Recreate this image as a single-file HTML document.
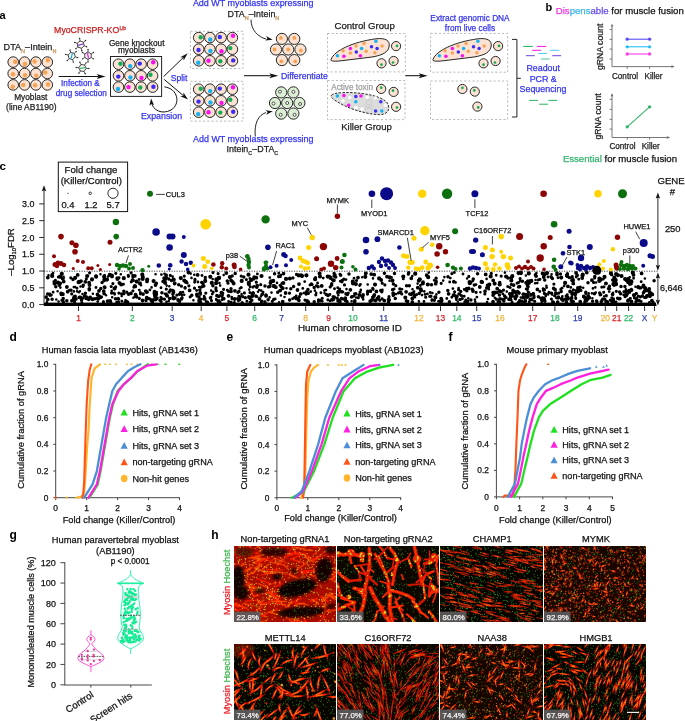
<!DOCTYPE html>
<html><head><meta charset="utf-8"><style>
html,body{margin:0;padding:0;background:#fff;}
body{width:685px;height:721px;overflow:hidden;position:relative;}
svg{position:absolute;left:0;top:0;display:block;will-change:transform;filter:blur(0.3px);}
</style></head><body>
<svg width="685" height="721" viewBox="0 0 685 721" font-family="'Liberation Sans', sans-serif">
<defs>
<filter id="bl" x="-5%" y="-5%" width="110%" height="110%"><feGaussianBlur stdDeviation="0.6"/></filter>
<filter id="bl3" x="-5%" y="-5%" width="110%" height="110%"><feGaussianBlur stdDeviation="0.9"/></filter>
<filter id="bl2" x="-20%" y="-20%" width="140%" height="140%"><feGaussianBlur stdDeviation="1.6"/></filter>
</defs>
<text x="-0.6" y="18.6" font-size="11" fill="#000" font-weight="bold">a</text>
<text x="54.1" y="32.9" font-size="8.75" fill="#cc2020" stroke="#cc2020" stroke-width="0.25">MyoCRISPR-KO</text>
<text x="119.4" y="29.6" font-size="5" fill="#cc2020" stroke="#cc2020" stroke-width="0.25">Lib</text>
<text x="3.6" y="50.3" font-size="9.1" fill="#222" stroke="#222" stroke-width="0.25">DTA<tspan font-size="5.5" fill="#c8925a" stroke="#c8925a" dy="2.6">N</tspan><tspan dy="-2.6">–Intein</tspan><tspan font-size="5.5" fill="#c8925a" stroke="#c8925a" dy="2.6">N</tspan></text>
<circle cx="13.2" cy="62.1" r="5.3" fill="#fbe2d2" stroke="#1c1c1c" stroke-width="0.95"/>
<circle cx="24.6" cy="62.1" r="5.3" fill="#fbe2d2" stroke="#1c1c1c" stroke-width="0.95"/>
<circle cx="35.9" cy="62.1" r="5.3" fill="#fbe2d2" stroke="#1c1c1c" stroke-width="0.95"/>
<circle cx="47.3" cy="62.1" r="5.3" fill="#fbe2d2" stroke="#1c1c1c" stroke-width="0.95"/>
<circle cx="13.2" cy="73.5" r="5.3" fill="#fbe2d2" stroke="#1c1c1c" stroke-width="0.95"/>
<circle cx="24.6" cy="73.5" r="5.3" fill="#fbe2d2" stroke="#1c1c1c" stroke-width="0.95"/>
<circle cx="35.9" cy="73.5" r="5.3" fill="#fbe2d2" stroke="#1c1c1c" stroke-width="0.95"/>
<circle cx="47.3" cy="73.5" r="5.3" fill="#fbe2d2" stroke="#1c1c1c" stroke-width="0.95"/>
<circle cx="13.2" cy="84.9" r="5.3" fill="#fbe2d2" stroke="#1c1c1c" stroke-width="0.95"/>
<circle cx="24.6" cy="84.9" r="5.3" fill="#fbe2d2" stroke="#1c1c1c" stroke-width="0.95"/>
<circle cx="35.9" cy="84.9" r="5.3" fill="#fbe2d2" stroke="#1c1c1c" stroke-width="0.95"/>
<circle cx="47.3" cy="84.9" r="5.3" fill="#fbe2d2" stroke="#1c1c1c" stroke-width="0.95"/>
<circle cx="15.2" cy="61.7" r="2.2" fill="#f5a251"/>
<circle cx="24.9" cy="64" r="2.2" fill="#f5a251"/>
<circle cx="34.6" cy="61.5" r="2.2" fill="#f5a251"/>
<circle cx="47.9" cy="60.2" r="2.2" fill="#f5a251"/>
<circle cx="13" cy="74.3" r="2.2" fill="#f5a251"/>
<circle cx="25.1" cy="75.2" r="2.2" fill="#f5a251"/>
<circle cx="36.3" cy="75.6" r="2.2" fill="#f5a251"/>
<circle cx="45.2" cy="72.4" r="2.2" fill="#f5a251"/>
<circle cx="12.7" cy="86.8" r="2.2" fill="#f5a251"/>
<circle cx="23.2" cy="84.9" r="2.2" fill="#f5a251"/>
<circle cx="35.1" cy="85.3" r="2.2" fill="#f5a251"/>
<circle cx="48.1" cy="84.5" r="2.2" fill="#f5a251"/>
<text x="30.8" y="100.2" font-size="8.3" fill="#222" text-anchor="middle" stroke="#222" stroke-width="0.25">Myoblast</text>
<text x="31.3" y="109.8" font-size="8.5" fill="#222" text-anchor="middle" stroke="#222" stroke-width="0.25">(line AB1190)</text>
<path d="M84.18,45.87 L81.34,48.24 L77.87,46.98 L77.22,43.33 L80.06,40.96 L83.53,42.22 Z" fill="#fff" stroke="#222" stroke-width="0.85"/>
<line x1="84.18" y1="45.87" x2="86.53" y2="46.72" stroke="#222" stroke-width="0.75"/>
<circle cx="86.62" cy="46.75" r="0.7" fill="#222"/>
<line x1="81.34" y1="48.24" x2="81.78" y2="50.71" stroke="#222" stroke-width="0.75"/>
<circle cx="81.79" cy="50.8" r="0.7" fill="#222"/>
<line x1="77.87" y1="46.98" x2="75.95" y2="48.59" stroke="#222" stroke-width="0.75"/>
<circle cx="75.87" cy="48.65" r="0.7" fill="#222"/>
<line x1="77.22" y1="43.33" x2="74.87" y2="42.48" stroke="#222" stroke-width="0.75"/>
<circle cx="74.78" cy="42.45" r="0.7" fill="#222"/>
<line x1="80.06" y1="40.96" x2="79.62" y2="38.49" stroke="#222" stroke-width="0.75"/>
<circle cx="79.61" cy="38.4" r="0.7" fill="#222"/>
<line x1="83.53" y1="42.22" x2="85.45" y2="40.61" stroke="#222" stroke-width="0.75"/>
<circle cx="85.53" cy="40.55" r="0.7" fill="#222"/>
<line x1="78.1" y1="45.34" x2="83.3" y2="43.86" stroke="#8a3ad8" stroke-width="1.3"/>
<path d="M72.66,59.57 L69.08,58.62 L68.13,55.04 L70.74,52.43 L74.32,53.38 L75.27,56.96 Z" fill="#fff" stroke="#222" stroke-width="0.85"/>
<line x1="72.66" y1="59.57" x2="73.3" y2="61.99" stroke="#222" stroke-width="0.75"/>
<circle cx="73.33" cy="62.09" r="0.7" fill="#222"/>
<line x1="69.08" y1="58.62" x2="67.32" y2="60.38" stroke="#222" stroke-width="0.75"/>
<circle cx="67.25" cy="60.45" r="0.7" fill="#222"/>
<line x1="68.13" y1="55.04" x2="65.71" y2="54.4" stroke="#222" stroke-width="0.75"/>
<circle cx="65.61" cy="54.37" r="0.7" fill="#222"/>
<line x1="70.74" y1="52.43" x2="70.1" y2="50.01" stroke="#222" stroke-width="0.75"/>
<circle cx="70.07" cy="49.91" r="0.7" fill="#222"/>
<line x1="74.32" y1="53.38" x2="76.08" y2="51.62" stroke="#222" stroke-width="0.75"/>
<circle cx="76.15" cy="51.55" r="0.7" fill="#222"/>
<line x1="75.27" y1="56.96" x2="77.69" y2="57.6" stroke="#222" stroke-width="0.75"/>
<circle cx="77.79" cy="57.63" r="0.7" fill="#222"/>
<line x1="71.05" y1="58.62" x2="72.35" y2="53.38" stroke="#14b2f2" stroke-width="1.3"/>
<path d="M88,59.4 L84.8,57.55 L84.8,53.85 L88,52 L91.2,53.85 L91.2,57.55 Z" fill="#fff" stroke="#222" stroke-width="0.85"/>
<line x1="88" y1="59.4" x2="88" y2="61.9" stroke="#222" stroke-width="0.75"/>
<circle cx="88" cy="62" r="0.7" fill="#222"/>
<line x1="84.8" y1="57.55" x2="82.63" y2="58.8" stroke="#222" stroke-width="0.75"/>
<circle cx="82.54" cy="58.85" r="0.7" fill="#222"/>
<line x1="84.8" y1="53.85" x2="82.63" y2="52.6" stroke="#222" stroke-width="0.75"/>
<circle cx="82.54" cy="52.55" r="0.7" fill="#222"/>
<line x1="88" y1="52" x2="88" y2="49.5" stroke="#222" stroke-width="0.75"/>
<circle cx="88" cy="49.4" r="0.7" fill="#222"/>
<line x1="91.2" y1="53.85" x2="93.37" y2="52.6" stroke="#222" stroke-width="0.75"/>
<circle cx="93.46" cy="52.55" r="0.7" fill="#222"/>
<line x1="91.2" y1="57.55" x2="93.37" y2="58.8" stroke="#222" stroke-width="0.75"/>
<circle cx="93.46" cy="58.85" r="0.7" fill="#222"/>
<line x1="87.53" y1="53.04" x2="88.47" y2="58.36" stroke="#fb0ff0" stroke-width="1.3"/>
<path d="M86.19,68.32 L84.06,71.35 L80.38,71.03 L78.81,67.68 L80.94,64.65 L84.62,64.97 Z" fill="#fff" stroke="#222" stroke-width="0.85"/>
<line x1="86.19" y1="68.32" x2="88.68" y2="68.54" stroke="#222" stroke-width="0.75"/>
<circle cx="88.78" cy="68.55" r="0.7" fill="#222"/>
<line x1="84.06" y1="71.35" x2="85.12" y2="73.62" stroke="#222" stroke-width="0.75"/>
<circle cx="85.16" cy="73.71" r="0.7" fill="#222"/>
<line x1="80.38" y1="71.03" x2="78.94" y2="73.08" stroke="#222" stroke-width="0.75"/>
<circle cx="78.89" cy="73.16" r="0.7" fill="#222"/>
<line x1="78.81" y1="67.68" x2="76.32" y2="67.46" stroke="#222" stroke-width="0.75"/>
<circle cx="76.22" cy="67.45" r="0.7" fill="#222"/>
<line x1="80.94" y1="64.65" x2="79.88" y2="62.38" stroke="#222" stroke-width="0.75"/>
<circle cx="79.84" cy="62.29" r="0.7" fill="#222"/>
<line x1="84.62" y1="64.97" x2="86.06" y2="62.92" stroke="#222" stroke-width="0.75"/>
<circle cx="86.11" cy="62.84" r="0.7" fill="#222"/>
<line x1="79.84" y1="68.47" x2="85.16" y2="67.53" stroke="#2cba66" stroke-width="1.3"/>
<line x1="58.7" y1="76.5" x2="99.3" y2="76.5" stroke="#111" stroke-width="1.05"/>
<path d="M105.6,76.5 L96.6,79 L98.85,76.5 L96.6,74 Z" fill="#111"/>
<text x="80.4" y="86" font-size="8.2" fill="#3535f0" text-anchor="middle" stroke="#3535f0" stroke-width="0.25">Infection &amp;</text>
<text x="81.3" y="95.8" font-size="8.2" fill="#3535f0" text-anchor="middle" stroke="#3535f0" stroke-width="0.25">drug selection</text>
<rect x="110.5" y="56.5" width="51.1" height="39.9" fill="#fff" stroke="#222" stroke-width="1"/>
<circle cx="118.5" cy="64.2" r="5.3" fill="#fbe2d2" stroke="#1c1c1c" stroke-width="0.95"/>
<circle cx="129.9" cy="64.2" r="5.3" fill="#fbe2d2" stroke="#1c1c1c" stroke-width="0.95"/>
<circle cx="141.1" cy="64.2" r="5.3" fill="#fbe2d2" stroke="#1c1c1c" stroke-width="0.95"/>
<circle cx="152.6" cy="64.2" r="5.3" fill="#fbe2d2" stroke="#1c1c1c" stroke-width="0.95"/>
<circle cx="118.5" cy="75.8" r="5.3" fill="#fbe2d2" stroke="#1c1c1c" stroke-width="0.95"/>
<circle cx="129.9" cy="75.8" r="5.3" fill="#fbe2d2" stroke="#1c1c1c" stroke-width="0.95"/>
<circle cx="141.1" cy="75.8" r="5.3" fill="#fbe2d2" stroke="#1c1c1c" stroke-width="0.95"/>
<circle cx="152.6" cy="75.8" r="5.3" fill="#fbe2d2" stroke="#1c1c1c" stroke-width="0.95"/>
<circle cx="118.5" cy="87.1" r="5.3" fill="#fbe2d2" stroke="#1c1c1c" stroke-width="0.95"/>
<circle cx="129.9" cy="87.1" r="5.3" fill="#fbe2d2" stroke="#1c1c1c" stroke-width="0.95"/>
<circle cx="141.1" cy="87.1" r="5.3" fill="#fbe2d2" stroke="#1c1c1c" stroke-width="0.95"/>
<circle cx="152.6" cy="87.1" r="5.3" fill="#fbe2d2" stroke="#1c1c1c" stroke-width="0.95"/>
<circle cx="120.5" cy="63.8" r="2.2" fill="#13ad55"/>
<circle cx="130.2" cy="66.1" r="2.2" fill="#14b2f2"/>
<circle cx="139.8" cy="63.6" r="2.2" fill="#3a2cf4"/>
<circle cx="153.2" cy="62.3" r="2.2" fill="#fb0ff0"/>
<circle cx="118.3" cy="76.6" r="2.2" fill="#3a2cf4"/>
<circle cx="130.4" cy="77.5" r="2.2" fill="#14b2f2"/>
<circle cx="141.5" cy="77.9" r="2.2" fill="#fb0ff0"/>
<circle cx="150.5" cy="74.7" r="2.2" fill="#13ad55"/>
<circle cx="118" cy="89" r="2.2" fill="#14b2f2"/>
<circle cx="128.5" cy="87.1" r="2.2" fill="#fb0ff0"/>
<circle cx="140.3" cy="87.5" r="2.2" fill="#13ad55"/>
<circle cx="153.4" cy="86.7" r="2.2" fill="#3a2cf4"/>
<text x="136.7" y="46" font-size="8.25" fill="#222" text-anchor="middle" stroke="#222" stroke-width="0.25">Gene knockout</text>
<text x="136.5" y="53.4" font-size="8.25" fill="#222" text-anchor="middle" stroke="#222" stroke-width="0.25">myoblasts</text>
<line x1="163.6" y1="76.6" x2="183.67" y2="57.19" stroke="#111" stroke-width="1"/>
<path d="M187.7,53.3 L183.62,60.59 L183.39,57.47 L180.28,57.14 Z" fill="#111"/>
<line x1="164.1" y1="79.4" x2="183.71" y2="95.9" stroke="#111" stroke-width="1"/>
<path d="M188,99.5 L180.33,96.19 L183.41,95.64 L183.42,92.51 Z" fill="#111"/>
<text x="170.7" y="81" font-size="8.6" fill="#3535f0" stroke="#3535f0" stroke-width="0.25">Split</text>
<path d="M164.4,86.9 C178,88.5 181,104 171,110 C162,115 152.5,110 151.6,102.5" fill="none" stroke="#111" stroke-width="1"/>
<path d="M151.1,98.6 L154.1,105.36 L151.56,103.83 L149.32,105.78 Z" fill="#111"/>
<text x="161.5" y="118.7" font-size="8.8" fill="#3535f0" text-anchor="middle" stroke="#3535f0" stroke-width="0.25">Expansion</text>
<rect x="190.4" y="31.3" width="52.6" height="37.2" fill="none" stroke="#aaa" stroke-width="0.8" stroke-dasharray="2.2,2"/>
<circle cx="198.7" cy="37.6" r="5.3" fill="#fbe2d2" stroke="#1c1c1c" stroke-width="0.95"/>
<circle cx="209.9" cy="37.6" r="5.3" fill="#fbe2d2" stroke="#1c1c1c" stroke-width="0.95"/>
<circle cx="221.1" cy="37.6" r="5.3" fill="#fbe2d2" stroke="#1c1c1c" stroke-width="0.95"/>
<circle cx="232.4" cy="37.6" r="5.3" fill="#fbe2d2" stroke="#1c1c1c" stroke-width="0.95"/>
<circle cx="198.7" cy="49.2" r="5.3" fill="#fbe2d2" stroke="#1c1c1c" stroke-width="0.95"/>
<circle cx="209.9" cy="49.2" r="5.3" fill="#fbe2d2" stroke="#1c1c1c" stroke-width="0.95"/>
<circle cx="221.1" cy="49.2" r="5.3" fill="#fbe2d2" stroke="#1c1c1c" stroke-width="0.95"/>
<circle cx="232.4" cy="49.2" r="5.3" fill="#fbe2d2" stroke="#1c1c1c" stroke-width="0.95"/>
<circle cx="198.7" cy="60.8" r="5.3" fill="#fbe2d2" stroke="#1c1c1c" stroke-width="0.95"/>
<circle cx="209.9" cy="60.8" r="5.3" fill="#fbe2d2" stroke="#1c1c1c" stroke-width="0.95"/>
<circle cx="221.1" cy="60.8" r="5.3" fill="#fbe2d2" stroke="#1c1c1c" stroke-width="0.95"/>
<circle cx="232.4" cy="60.8" r="5.3" fill="#fbe2d2" stroke="#1c1c1c" stroke-width="0.95"/>
<circle cx="200.7" cy="37.2" r="2.2" fill="#13ad55"/>
<circle cx="210.2" cy="39.5" r="2.2" fill="#14b2f2"/>
<circle cx="219.8" cy="37" r="2.2" fill="#3a2cf4"/>
<circle cx="233" cy="35.7" r="2.2" fill="#fb0ff0"/>
<circle cx="198.5" cy="50" r="2.2" fill="#3a2cf4"/>
<circle cx="210.4" cy="50.9" r="2.2" fill="#14b2f2"/>
<circle cx="221.5" cy="51.3" r="2.2" fill="#fb0ff0"/>
<circle cx="230.3" cy="48.1" r="2.2" fill="#13ad55"/>
<circle cx="198.2" cy="62.7" r="2.2" fill="#14b2f2"/>
<circle cx="208.5" cy="60.8" r="2.2" fill="#fb0ff0"/>
<circle cx="220.3" cy="61.2" r="2.2" fill="#13ad55"/>
<circle cx="233.2" cy="60.4" r="2.2" fill="#3a2cf4"/>
<rect x="190.4" y="81.3" width="52.6" height="39.8" fill="none" stroke="#aaa" stroke-width="0.8" stroke-dasharray="2.2,2"/>
<circle cx="198.7" cy="89.2" r="5.3" fill="#fbe2d2" stroke="#1c1c1c" stroke-width="0.95"/>
<circle cx="209.9" cy="89.2" r="5.3" fill="#fbe2d2" stroke="#1c1c1c" stroke-width="0.95"/>
<circle cx="221.1" cy="89.2" r="5.3" fill="#fbe2d2" stroke="#1c1c1c" stroke-width="0.95"/>
<circle cx="232.4" cy="89.2" r="5.3" fill="#fbe2d2" stroke="#1c1c1c" stroke-width="0.95"/>
<circle cx="198.7" cy="100.8" r="5.3" fill="#fbe2d2" stroke="#1c1c1c" stroke-width="0.95"/>
<circle cx="209.9" cy="100.8" r="5.3" fill="#fbe2d2" stroke="#1c1c1c" stroke-width="0.95"/>
<circle cx="221.1" cy="100.8" r="5.3" fill="#fbe2d2" stroke="#1c1c1c" stroke-width="0.95"/>
<circle cx="232.4" cy="100.8" r="5.3" fill="#fbe2d2" stroke="#1c1c1c" stroke-width="0.95"/>
<circle cx="198.7" cy="112.2" r="5.3" fill="#fbe2d2" stroke="#1c1c1c" stroke-width="0.95"/>
<circle cx="209.9" cy="112.2" r="5.3" fill="#fbe2d2" stroke="#1c1c1c" stroke-width="0.95"/>
<circle cx="221.1" cy="112.2" r="5.3" fill="#fbe2d2" stroke="#1c1c1c" stroke-width="0.95"/>
<circle cx="232.4" cy="112.2" r="5.3" fill="#fbe2d2" stroke="#1c1c1c" stroke-width="0.95"/>
<circle cx="200.7" cy="88.8" r="2.2" fill="#13ad55"/>
<circle cx="210.2" cy="91.1" r="2.2" fill="#14b2f2"/>
<circle cx="219.8" cy="88.6" r="2.2" fill="#3a2cf4"/>
<circle cx="233" cy="87.3" r="2.2" fill="#fb0ff0"/>
<circle cx="198.5" cy="101.6" r="2.2" fill="#3a2cf4"/>
<circle cx="210.4" cy="102.5" r="2.2" fill="#14b2f2"/>
<circle cx="221.5" cy="102.9" r="2.2" fill="#fb0ff0"/>
<circle cx="230.3" cy="99.7" r="2.2" fill="#13ad55"/>
<circle cx="198.2" cy="114.1" r="2.2" fill="#14b2f2"/>
<circle cx="208.5" cy="112.2" r="2.2" fill="#fb0ff0"/>
<circle cx="220.3" cy="112.6" r="2.2" fill="#13ad55"/>
<circle cx="233.2" cy="111.8" r="2.2" fill="#3a2cf4"/>
<text x="192.9" y="6.4" font-size="8.95" fill="#3535f0" stroke="#3535f0" stroke-width="0.25">Add WT myoblasts expressing</text>
<text x="227.6" y="16.9" font-size="8.9" fill="#222" stroke="#222" stroke-width="0.25">DTA<tspan font-size="5.5" fill="#c8925a" stroke="#c8925a" dy="2.6">N</tspan><tspan dy="-2.6">–Intein</tspan><tspan font-size="5.5" fill="#c8925a" stroke="#c8925a" dy="2.6">N</tspan></text>
<path d="M251,19.5 C251,30 258,37 266,39" fill="none" stroke="#111" stroke-width="0.9"/>
<path d="M272.6,39.7 L265.27,40.49 L267.46,38.61 L266.23,35.99 Z" fill="#111"/>
<circle cx="281.9" cy="38.9" r="5.6" fill="#fbe2d2" stroke="#1c1c1c" stroke-width="0.95"/>
<circle cx="294.3" cy="38.9" r="5.6" fill="#fbe2d2" stroke="#1c1c1c" stroke-width="0.95"/>
<circle cx="276" cy="49.5" r="5.6" fill="#fbe2d2" stroke="#1c1c1c" stroke-width="0.95"/>
<circle cx="288.2" cy="49.5" r="5.6" fill="#fbe2d2" stroke="#1c1c1c" stroke-width="0.95"/>
<circle cx="300.4" cy="49.5" r="5.6" fill="#fbe2d2" stroke="#1c1c1c" stroke-width="0.95"/>
<circle cx="281.9" cy="60.1" r="5.6" fill="#fbe2d2" stroke="#1c1c1c" stroke-width="0.95"/>
<circle cx="294.3" cy="60.1" r="5.6" fill="#fbe2d2" stroke="#1c1c1c" stroke-width="0.95"/>
<circle cx="280.9" cy="37.9" r="1.9" fill="#f5a251"/>
<circle cx="294.3" cy="37.9" r="1.9" fill="#f5a251"/>
<circle cx="274.5" cy="49.5" r="1.9" fill="#f5a251"/>
<circle cx="288.2" cy="49.5" r="1.9" fill="#f5a251"/>
<circle cx="300.9" cy="50.5" r="1.9" fill="#f5a251"/>
<circle cx="281.4" cy="61.3" r="1.9" fill="#f5a251"/>
<circle cx="295.3" cy="61.4" r="1.9" fill="#f5a251"/>
<line x1="244" y1="75.7" x2="272" y2="75.7" stroke="#111" stroke-width="1.05"/>
<path d="M278.3,75.7 L269.3,78.2 L271.55,75.7 L269.3,73.2 Z" fill="#111"/>
<text x="280.9" y="79" font-size="8.75" fill="#3535f0" stroke="#3535f0" stroke-width="0.25">Differentiate</text>
<circle cx="281.2" cy="92.4" r="5.6" fill="#dcefd5" stroke="#1c1c1c" stroke-width="0.95"/>
<circle cx="293.4" cy="92.4" r="5.6" fill="#dcefd5" stroke="#1c1c1c" stroke-width="0.95"/>
<circle cx="275" cy="103" r="5.6" fill="#dcefd5" stroke="#1c1c1c" stroke-width="0.95"/>
<circle cx="287.2" cy="103" r="5.6" fill="#dcefd5" stroke="#1c1c1c" stroke-width="0.95"/>
<circle cx="299.4" cy="103" r="5.6" fill="#dcefd5" stroke="#1c1c1c" stroke-width="0.95"/>
<circle cx="281.2" cy="113.6" r="5.6" fill="#dcefd5" stroke="#1c1c1c" stroke-width="0.95"/>
<circle cx="293.4" cy="113.6" r="5.6" fill="#dcefd5" stroke="#1c1c1c" stroke-width="0.95"/>
<circle cx="280" cy="91.6" r="1.5" fill="#fff" stroke="#222" stroke-width="0.75"/>
<circle cx="293.4" cy="91.8" r="1.5" fill="#fff" stroke="#222" stroke-width="0.75"/>
<circle cx="273.5" cy="103.5" r="1.5" fill="#fff" stroke="#222" stroke-width="0.75"/>
<circle cx="287.2" cy="103" r="1.5" fill="#fff" stroke="#222" stroke-width="0.75"/>
<circle cx="300.1" cy="104" r="1.5" fill="#fff" stroke="#222" stroke-width="0.75"/>
<circle cx="280.7" cy="114.8" r="1.5" fill="#fff" stroke="#222" stroke-width="0.75"/>
<circle cx="294.6" cy="114.8" r="1.5" fill="#fff" stroke="#222" stroke-width="0.75"/>
<text x="193" y="141.8" font-size="8.95" fill="#3535f0" stroke="#3535f0" stroke-width="0.25">Add WT myoblasts expressing</text>
<text x="226.6" y="152.3" font-size="8.9" fill="#222" stroke="#222" stroke-width="0.25">Intein<tspan font-size="5.5" fill="#222" dy="2.6">C</tspan><tspan dy="-2.6">–DTA</tspan><tspan font-size="5.5" fill="#222" dy="2.6">C</tspan></text>
<path d="M255.3,136.5 C254,124 258,115 266,112.6" fill="none" stroke="#111" stroke-width="0.9"/>
<path d="M272.8,111.2 L266.31,114.68 L267.63,112.11 L265.51,110.15 Z" fill="#111"/>
<text x="334.5" y="29" font-size="9.6" fill="#222" stroke="#222" stroke-width="0.25">Control Group</text>
<text x="341.2" y="129.6" font-size="9.6" fill="#222" stroke="#222" stroke-width="0.25">Killer Group</text>
<rect x="327.5" y="33.5" width="77.9" height="38.4" fill="none" stroke="#aaa" stroke-width="0.8" stroke-dasharray="2.2,2"/>
<rect x="327.5" y="80.5" width="77.5" height="39.1" fill="none" stroke="#aaa" stroke-width="0.8" stroke-dasharray="2.2,2"/>
<path transform="translate(0,0)" d="M331.2,59.2 C334,51 352,42 376,38.8 C386,37.6 390,41 389.2,46 C388.4,52 383,55.2 372,57 L341,60.8 C334,61.6 329.5,61.2 331.2,59.2 Z" fill="#fbe2d2" stroke="#1c1c1c" stroke-width="0.95"/>
<circle cx="375.9" cy="41.2" r="1.75" fill="#14b2f2"/>
<circle cx="364.1" cy="43.4" r="1.75" fill="#f6a35a"/>
<circle cx="356" cy="45.9" r="1.75" fill="#f6a35a"/>
<circle cx="350.4" cy="48.6" r="1.75" fill="#fb0ff0"/>
<circle cx="361.6" cy="48.4" r="1.75" fill="#14b2f2"/>
<circle cx="371.5" cy="46.7" r="1.75" fill="#3a2cf4"/>
<circle cx="377.1" cy="48.4" r="1.75" fill="#3a2cf4"/>
<circle cx="382.1" cy="46.1" r="1.75" fill="#f6a35a"/>
<circle cx="343" cy="50.8" r="1.75" fill="#f6a35a"/>
<circle cx="350.4" cy="53" r="1.75" fill="#f6a35a"/>
<circle cx="356.3" cy="52.1" r="1.75" fill="#3a2cf4"/>
<circle cx="366.2" cy="51.3" r="1.75" fill="#f6a35a"/>
<circle cx="374.9" cy="52.7" r="1.75" fill="#f6a35a"/>
<circle cx="337.4" cy="55.8" r="1.75" fill="#14b2f2"/>
<circle cx="343.9" cy="56.3" r="1.75" fill="#fb0ff0"/>
<circle cx="360.4" cy="55.8" r="1.75" fill="#fb0ff0"/>
<circle cx="396.1" cy="46.1" r="4.6" fill="#fbe2d2" stroke="#1c1c1c" stroke-width="0.95"/>
<circle cx="397" cy="45.9" r="1.35" fill="#13ad55"/>
<circle cx="381.5" cy="63.3" r="4.6" fill="#fbe2d2" stroke="#1c1c1c" stroke-width="0.95"/>
<circle cx="381.5" cy="64.7" r="1.35" fill="#13ad55"/>
<circle cx="393.6" cy="61" r="4.6" fill="#fbe2d2" stroke="#1c1c1c" stroke-width="0.95"/>
<circle cx="393" cy="62.5" r="1.35" fill="#13ad55"/>
<path d="M331.6,95 C335,92 350,92 362,93.5 C375,95.2 386.5,99 388.4,105 C390,111 386.5,114.4 380,114.6 C370,114.6 355,111 343,105 C336,101.2 329.6,97.8 331.6,95 Z" fill="#dcdcdc" stroke="#222" stroke-width="0.95" stroke-dasharray="2.4,1.4"/>
<circle cx="337.4" cy="96" r="1.75" fill="#14b2f2"/>
<circle cx="343.9" cy="95.4" r="1.75" fill="#fb0ff0"/>
<circle cx="349.8" cy="97.6" r="1.75" fill="#fff"/>
<circle cx="355.8" cy="96.6" r="1.75" fill="#3a2cf4"/>
<circle cx="361" cy="96" r="1.75" fill="#fb0ff0"/>
<circle cx="367.2" cy="97.2" r="1.75" fill="#fff"/>
<circle cx="375.2" cy="97.9" r="1.75" fill="#fff"/>
<circle cx="343" cy="101" r="1.75" fill="#fff"/>
<circle cx="355.8" cy="101.8" r="1.75" fill="#14b2f2"/>
<circle cx="348.6" cy="105.3" r="1.75" fill="#fb0ff0"/>
<circle cx="356" cy="107.5" r="1.75" fill="#fff"/>
<circle cx="362" cy="109" r="1.75" fill="#fff"/>
<circle cx="380.8" cy="101.8" r="1.75" fill="#3a2cf4"/>
<circle cx="385.2" cy="105.3" r="1.75" fill="#fff"/>
<circle cx="375.6" cy="110.9" r="1.75" fill="#3a2cf4"/>
<circle cx="381.8" cy="110.9" r="1.75" fill="#14b2f2"/>
<circle cx="369" cy="102.5" r="2.6" fill="none" stroke="#c4c4c4" stroke-width="0.7"/>
<line x1="364.5" y1="105.5" x2="373.5" y2="109.5" stroke="#c4c4c4" stroke-width="0.7"/>
<line x1="364.5" y1="109.5" x2="373.5" y2="105.5" stroke="#c4c4c4" stroke-width="0.7"/>
<text x="331.2" y="90.4" font-size="8.2" fill="#a0a0a0" stroke="#a0a0a0" stroke-width="0.25">Active toxin</text>
<circle cx="381.2" cy="88.9" r="4.6" fill="#fbe2d2" stroke="#1c1c1c" stroke-width="0.95"/>
<circle cx="381.2" cy="87.7" r="1.35" fill="#13ad55"/>
<circle cx="393.6" cy="91.9" r="4.6" fill="#fbe2d2" stroke="#1c1c1c" stroke-width="0.95"/>
<circle cx="393" cy="90.7" r="1.35" fill="#13ad55"/>
<circle cx="396.1" cy="106.8" r="4.6" fill="#fbe2d2" stroke="#1c1c1c" stroke-width="0.95"/>
<circle cx="397" cy="107.5" r="1.35" fill="#13ad55"/>
<line x1="405.2" y1="75.7" x2="421.3" y2="75.7" stroke="#111" stroke-width="1.05"/>
<path d="M427.6,75.7 L418.6,78.2 L420.85,75.7 L418.6,73.2 Z" fill="#111"/>
<rect x="430.5" y="33.4" width="77.1" height="38.8" fill="none" stroke="#aaa" stroke-width="0.8" stroke-dasharray="2.2,2"/>
<rect x="430.5" y="81" width="77.1" height="38.5" fill="none" stroke="#aaa" stroke-width="0.8" stroke-dasharray="2.2,2"/>
<text x="470" y="20.7" font-size="8.3" fill="#3535f0" text-anchor="middle" stroke="#3535f0" stroke-width="0.25">Extract genomic DNA</text>
<text x="470" y="30.7" font-size="8.3" fill="#3535f0" text-anchor="middle" stroke="#3535f0" stroke-width="0.25">from live cells</text>
<path transform="translate(102,0)" d="M331.2,59.2 C334,51 352,42 376,38.8 C386,37.6 390,41 389.2,46 C388.4,52 383,55.2 372,57 L341,60.8 C334,61.6 329.5,61.2 331.2,59.2 Z" fill="#fbe2d2" stroke="#1c1c1c" stroke-width="0.95"/>
<circle cx="477.9" cy="41.2" r="1.75" fill="#14b2f2"/>
<circle cx="466.1" cy="43.4" r="1.75" fill="#f6a35a"/>
<circle cx="458" cy="45.9" r="1.75" fill="#f6a35a"/>
<circle cx="452.4" cy="48.6" r="1.75" fill="#fb0ff0"/>
<circle cx="463.6" cy="48.4" r="1.75" fill="#14b2f2"/>
<circle cx="473.5" cy="46.7" r="1.75" fill="#3a2cf4"/>
<circle cx="479.1" cy="48.4" r="1.75" fill="#3a2cf4"/>
<circle cx="484.1" cy="46.1" r="1.75" fill="#f6a35a"/>
<circle cx="445" cy="50.8" r="1.75" fill="#f6a35a"/>
<circle cx="452.4" cy="53" r="1.75" fill="#f6a35a"/>
<circle cx="458.3" cy="52.1" r="1.75" fill="#3a2cf4"/>
<circle cx="468.2" cy="51.3" r="1.75" fill="#f6a35a"/>
<circle cx="476.9" cy="52.7" r="1.75" fill="#f6a35a"/>
<circle cx="439.4" cy="55.8" r="1.75" fill="#14b2f2"/>
<circle cx="445.9" cy="56.3" r="1.75" fill="#fb0ff0"/>
<circle cx="462.4" cy="55.8" r="1.75" fill="#fb0ff0"/>
<circle cx="498.1" cy="46.1" r="4.6" fill="#fbe2d2" stroke="#1c1c1c" stroke-width="0.95"/>
<circle cx="499" cy="45.9" r="1.35" fill="#13ad55"/>
<circle cx="483.5" cy="63.3" r="4.6" fill="#fbe2d2" stroke="#1c1c1c" stroke-width="0.95"/>
<circle cx="483.5" cy="64.7" r="1.35" fill="#13ad55"/>
<circle cx="495.6" cy="61" r="4.6" fill="#fbe2d2" stroke="#1c1c1c" stroke-width="0.95"/>
<circle cx="495" cy="62.5" r="1.35" fill="#13ad55"/>
<circle cx="462.4" cy="89" r="4.6" fill="#fbe2d2" stroke="#1c1c1c" stroke-width="0.95"/>
<circle cx="462.4" cy="87.8" r="1.35" fill="#13ad55"/>
<circle cx="474.8" cy="91.6" r="4.6" fill="#fbe2d2" stroke="#1c1c1c" stroke-width="0.95"/>
<circle cx="474.3" cy="90.4" r="1.35" fill="#13ad55"/>
<circle cx="477.4" cy="106.6" r="4.6" fill="#fbe2d2" stroke="#1c1c1c" stroke-width="0.95"/>
<circle cx="478.2" cy="107.4" r="1.35" fill="#13ad55"/>
<path d="M512,39.4 L516.9,39.4 L516.9,117 L512,117 M516.9,78.3 L520.8,78.3" fill="none" stroke="#222" stroke-width="1"/>
<line x1="523.4" y1="46.4" x2="532.7" y2="46.4" stroke="#13ad55" stroke-width="1"/>
<line x1="537" y1="46.4" x2="546.2" y2="46.4" stroke="#fb0ff0" stroke-width="1"/>
<line x1="532.2" y1="50.3" x2="541" y2="50.3" stroke="#fb0ff0" stroke-width="1"/>
<line x1="550.2" y1="50.3" x2="559.3" y2="50.3" stroke="#4cc8f0" stroke-width="1"/>
<line x1="538.3" y1="53.4" x2="547" y2="53.4" stroke="#4cc8f0" stroke-width="1"/>
<line x1="526" y1="55.7" x2="534.8" y2="55.7" stroke="#7040e0" stroke-width="1"/>
<line x1="552.3" y1="55.7" x2="561" y2="55.7" stroke="#7040e0" stroke-width="1"/>
<line x1="541" y1="59" x2="549.7" y2="59" stroke="#55c090" stroke-width="1"/>
<line x1="529.2" y1="100.4" x2="538" y2="100.4" stroke="#2cb060" stroke-width="1"/>
<line x1="548.4" y1="100.4" x2="557.2" y2="100.4" stroke="#2cb060" stroke-width="1"/>
<line x1="539.2" y1="104.2" x2="548" y2="104.2" stroke="#2cb060" stroke-width="1"/>
<text x="543.2" y="71" font-size="8.9" fill="#3535f0" text-anchor="middle" stroke="#3535f0" stroke-width="0.25">Readout</text>
<text x="543.2" y="81.5" font-size="8.9" fill="#3535f0" text-anchor="middle" stroke="#3535f0" stroke-width="0.25">PCR &amp;</text>
<text x="543" y="92" font-size="8.9" fill="#3535f0" text-anchor="middle" stroke="#3535f0" stroke-width="0.25">Sequencing</text>
<text x="545.4" y="10.6" font-size="11" fill="#000" font-weight="bold">b</text>
<text x="555.8" y="13.5" font-size="9.6" fill="#111" stroke="#111" stroke-width="0.25"><tspan fill="#f03ce6" stroke="#f03ce6">Dis</tspan><tspan fill="#3ab6ea" stroke="#3ab6ea">pens</tspan><tspan fill="#6a4cf0" stroke="#6a4cf0">able</tspan> for muscle fusion</text>
<line x1="612" y1="66.6" x2="612" y2="26" stroke="#666" stroke-width="0.9"/>
<path d="M612,23.4 L613.4,27 L612,26.28 L610.6,27 Z" fill="#666"/>
<line x1="612" y1="66.6" x2="672" y2="66.6" stroke="#666" stroke-width="0.9"/>
<path d="M674.8,66.6 L671.2,68 L671.92,66.6 L671.2,65.2 Z" fill="#666"/>
<line x1="609.6" y1="29.4" x2="612" y2="29.4" stroke="#666" stroke-width="0.9"/>
<line x1="609.6" y1="39.4" x2="612" y2="39.4" stroke="#666" stroke-width="0.9"/>
<line x1="609.6" y1="49.1" x2="612" y2="49.1" stroke="#666" stroke-width="0.9"/>
<line x1="609.6" y1="59" x2="612" y2="59" stroke="#666" stroke-width="0.9"/>
<line x1="627.2" y1="66.6" x2="627.2" y2="68.8" stroke="#666" stroke-width="0.9"/>
<line x1="649.6" y1="66.6" x2="649.6" y2="68.8" stroke="#666" stroke-width="0.9"/>
<line x1="627.2" y1="39.2" x2="649.6" y2="39.2" stroke="#5a4cf2" stroke-width="1.1"/>
<circle cx="627.2" cy="39.2" r="1.65" fill="#5a4cf2"/>
<circle cx="649.6" cy="39.2" r="1.65" fill="#5a4cf2"/>
<line x1="627.2" y1="46.8" x2="649.6" y2="46.8" stroke="#28bdf0" stroke-width="1.1"/>
<circle cx="627.2" cy="46.8" r="1.65" fill="#28bdf0"/>
<circle cx="649.6" cy="46.8" r="1.65" fill="#28bdf0"/>
<line x1="627.2" y1="54" x2="649.6" y2="54" stroke="#fb3ce8" stroke-width="1.1"/>
<circle cx="627.2" cy="54" r="1.65" fill="#fb3ce8"/>
<circle cx="649.6" cy="54" r="1.65" fill="#fb3ce8"/>
<text x="625.1" y="78.8" font-size="8.15" fill="#222" text-anchor="middle" stroke="#222" stroke-width="0.25">Control</text>
<text x="653.5" y="78.8" font-size="8.15" fill="#222" text-anchor="middle" stroke="#222" stroke-width="0.25">Killer</text>
<text x="0" y="0" font-size="8.7" fill="#222" text-anchor="middle" stroke="#222" stroke-width="0.25" transform="translate(602.6,46.8) rotate(-90)">gRNA count</text>
<line x1="612" y1="137.5" x2="612" y2="95.8" stroke="#666" stroke-width="0.9"/>
<path d="M612,93 L613.4,96.6 L612,95.88 L610.6,96.6 Z" fill="#666"/>
<line x1="612" y1="137.5" x2="667.4" y2="137.5" stroke="#666" stroke-width="0.9"/>
<path d="M670.2,137.5 L666.6,138.9 L667.32,137.5 L666.6,136.1 Z" fill="#666"/>
<line x1="609.6" y1="99.3" x2="612" y2="99.3" stroke="#666" stroke-width="0.9"/>
<line x1="609.6" y1="109.3" x2="612" y2="109.3" stroke="#666" stroke-width="0.9"/>
<line x1="609.6" y1="119.3" x2="612" y2="119.3" stroke="#666" stroke-width="0.9"/>
<line x1="609.6" y1="129.1" x2="612" y2="129.1" stroke="#666" stroke-width="0.9"/>
<line x1="627.2" y1="137.5" x2="627.2" y2="139.7" stroke="#666" stroke-width="0.9"/>
<line x1="649.6" y1="137.5" x2="649.6" y2="139.7" stroke="#666" stroke-width="0.9"/>
<line x1="627.2" y1="126.8" x2="649.6" y2="106.8" stroke="#2fb46b" stroke-width="1.1"/>
<circle cx="627.2" cy="126.8" r="1.65" fill="#2fb46b"/>
<circle cx="649.6" cy="106.8" r="1.65" fill="#2fb46b"/>
<text x="622.5" y="149.2" font-size="8.15" fill="#222" text-anchor="middle" stroke="#222" stroke-width="0.25">Control</text>
<text x="650.7" y="149.2" font-size="8.15" fill="#222" text-anchor="middle" stroke="#222" stroke-width="0.25">Killer</text>
<text x="0" y="0" font-size="8.7" fill="#222" text-anchor="middle" stroke="#222" stroke-width="0.25" transform="translate(601.4,116.4) rotate(-90)">gRNA count</text>
<text x="677" y="161.7" font-size="9.6" fill="#111" stroke="#111" stroke-width="0.25" text-anchor="end"><tspan fill="#35b36e" stroke="#35b36e">Essential</tspan> for muscle fusion</text>
<text x="-0.5" y="170.3" font-size="11.5" fill="#000" font-weight="bold">c</text>
<rect x="58.3" y="162.1" width="69.3" height="49.5" fill="#fff" stroke="#111" stroke-width="1"/>
<text x="91" y="173.2" font-size="9.6" fill="#111" text-anchor="middle" stroke="#111" stroke-width="0.25">Fold change</text>
<text x="91.3" y="183.7" font-size="9.6" fill="#111" text-anchor="middle" stroke="#111" stroke-width="0.25">(Killer/Control)</text>
<circle cx="68" cy="193.3" r="0.6" fill="#111"/>
<circle cx="90.2" cy="193.3" r="1.25" fill="#fff" stroke="#111" stroke-width="0.8"/>
<circle cx="113" cy="193.3" r="5.1" fill="#fff" stroke="#111" stroke-width="0.9"/>
<text x="67.9" y="208.2" font-size="9.4" fill="#111" text-anchor="middle" stroke="#111" stroke-width="0.25">0.4</text>
<text x="91" y="208.2" font-size="9.4" fill="#111" text-anchor="middle" stroke="#111" stroke-width="0.25">1.2</text>
<text x="113.1" y="208.2" font-size="9.4" fill="#111" text-anchor="middle" stroke="#111" stroke-width="0.25">5.7</text>
<line x1="44" y1="305.4" x2="44" y2="189" stroke="#111" stroke-width="0.9"/>
<path d="M44,185.2 L46.2,191.2 L44,190.3 L41.8,191.2 Z" fill="#111"/>
<line x1="39.2" y1="304.6" x2="44" y2="304.6" stroke="#111" stroke-width="0.9"/>
<text x="34.4" y="307.8" font-size="8.9" fill="#111" text-anchor="end" stroke="#111" stroke-width="0.25">0.0</text>
<line x1="39.2" y1="287.81" x2="44" y2="287.81" stroke="#111" stroke-width="0.9"/>
<text x="34.4" y="291.01" font-size="8.9" fill="#111" text-anchor="end" stroke="#111" stroke-width="0.25">0.5</text>
<line x1="39.2" y1="271.03" x2="44" y2="271.03" stroke="#111" stroke-width="0.9"/>
<text x="34.4" y="274.23" font-size="8.9" fill="#111" text-anchor="end" stroke="#111" stroke-width="0.25">1.0</text>
<line x1="39.2" y1="254.25" x2="44" y2="254.25" stroke="#111" stroke-width="0.9"/>
<text x="34.4" y="257.44" font-size="8.9" fill="#111" text-anchor="end" stroke="#111" stroke-width="0.25">1.5</text>
<line x1="39.2" y1="237.46" x2="44" y2="237.46" stroke="#111" stroke-width="0.9"/>
<text x="34.4" y="240.66" font-size="8.9" fill="#111" text-anchor="end" stroke="#111" stroke-width="0.25">2.0</text>
<line x1="39.2" y1="220.68" x2="44" y2="220.68" stroke="#111" stroke-width="0.9"/>
<text x="34.4" y="223.88" font-size="8.9" fill="#111" text-anchor="end" stroke="#111" stroke-width="0.25">2.5</text>
<line x1="39.2" y1="203.89" x2="44" y2="203.89" stroke="#111" stroke-width="0.9"/>
<text x="34.4" y="207.09" font-size="8.9" fill="#111" text-anchor="end" stroke="#111" stroke-width="0.25">3.0</text>
<text transform="translate(13.8,252) rotate(-90)" font-size="9.6" fill="#111" stroke="#111" stroke-width="0.25" text-anchor="middle">–Log<tspan font-size="5.8" dy="2.2">10</tspan><tspan dy="-2.2">FDR</tspan></text>
<rect x="44" y="302.6" width="612" height="3" fill="#000"/>
<path d="M444.4 277.1h0M362.2 277.3h0M63.6 276.7h0M332.2 279.9h0M53.1 273.0h0M412.3 276.1h0M420.3 279.4h0M551.6 274.3h0M120.8 274.3h0M373.0 278.4h0M48.5 275.3h0M191.5 277.9h0M164.5 273.7h0M644.9 278.5h0M428.8 272.6h0M108.0 276.6h0M536.4 273.0h0M629.7 277.3h0M212.7 279.1h0M504.9 272.6h0M335.4 274.7h0M100.5 274.2h0M280.9 275.0h0M612.2 275.2h0M525.9 275.5h0M194.3 274.7h0M155.6 274.2h0M63.1 278.4h0M486.6 278.9h0M190.7 273.6h0M391.6 277.4h0M223.7 275.1h0M603.4 279.3h0M467.1 278.5h0M427.9 284.5h0M58.9 284.0h0M583.2 287.8h0M135.9 286.3h0M274.5 285.4h0M367.7 284.5h0M527.4 281.4h0M417.6 283.6h0M573.9 283.9h0M564.2 285.9h0M443.2 280.6h0M286.5 288.3h0M389.5 280.7h0M141.0 285.3h0M346.5 289.1h0M458.6 288.0h0M135.7 287.0h0M220.2 285.6h0M83.0 286.7h0M277.0 282.9h0M488.9 289.2h0M645.4 287.3h0M259.2 290.0h0M60.4 287.6h0M352.9 284.3h0M311.6 284.1h0M464.1 289.4h0M596.1 282.5h0M402.1 289.3h0M476.1 284.6h0M73.8 287.1h0M641.1 287.9h0M175.2 283.0h0M635.5 286.8h0M392.9 289.5h0M434.1 280.3h0M239.8 288.5h0M185.0 287.2h0M571.5 280.6h0M219.4 283.0h0M360.8 289.9h0M53.7 281.5h0M249.2 289.6h0M595.3 287.4h0M215.6 289.2h0M199.1 287.0h0M279.8 285.3h0M412.5 289.2h0M166.7 285.6h0M169.3 286.2h0M80.5 286.5h0M81.3 281.3h0M340.1 281.3h0M75.2 287.1h0M200.8 287.6h0M535.1 283.3h0M322.0 286.0h0M254.0 286.3h0M535.6 280.0h0M544.5 289.4h0M281.6 283.6h0M453.4 282.2h0M592.9 288.4h0M631.5 284.1h0M625.9 289.4h0M151.6 287.4h0M546.4 285.7h0M545.8 294.1h0M419.8 292.5h0M572.0 294.3h0M82.5 294.0h0M164.8 293.7h0M595.8 292.5h0M572.3 294.8h0M515.9 292.6h0M519.2 293.4h0M211.2 290.6h0M604.1 296.5h0M106.1 295.2h0M121.7 296.0h0M172.8 290.0h0M324.5 293.1h0M111.7 290.7h0M627.5 294.1h0M591.9 293.3h0M461.7 295.8h0M101.8 296.9h0M57.6 291.2h0M421.9 295.1h0M79.0 292.3h0M184.2 294.8h0M650.0 296.0h0M338.3 295.2h0M128.8 293.9h0M413.7 293.7h0M261.0 296.3h0M625.7 291.0h0M230.3 291.7h0M613.0 292.9h0M51.5 295.1h0M258.0 291.7h0M548.1 294.4h0M156.7 292.0h0M354.3 293.7h0M465.8 290.2h0M252.0 293.3h0M280.9 295.5h0M552.2 294.6h0M79.9 291.3h0M532.1 294.4h0M648.1 295.1h0M493.2 295.3h0M324.4 290.6h0M603.9 292.0h0M649.4 293.4h0M253.2 292.2h0M562.3 296.3h0M251.9 294.7h0M263.2 292.0h0M221.8 296.7h0M424.3 291.4h0M200.6 294.4h0M134.8 296.8h0M303.8 293.0h0M599.9 295.1h0M204.1 296.0h0M460.0 294.3h0M77.1 291.4h0M396.0 294.1h0M630.1 290.1h0M173.8 290.8h0M554.6 296.0h0M196.9 296.4h0M650.2 291.8h0M271.5 292.6h0M480.4 292.3h0M73.9 291.4h0M432.4 293.0h0M353.9 296.1h0M146.4 292.7h0M436.4 294.4h0M92.9 293.8h0M505.3 296.9h0M506.8 291.6h0M314.9 290.6h0M316.2 292.9h0M240.8 296.4h0M241.6 294.1h0M253.8 293.2h0M588.7 293.4h0M103.6 293.6h0M322.4 301.2h0M332.3 300.5h0M133.4 297.7h0M488.0 299.0h0M589.7 298.3h0M487.1 302.0h0M279.0 302.4h0M415.0 297.3h0M459.7 299.6h0M475.3 301.8h0M575.8 298.8h0M438.3 301.2h0M231.0 302.1h0M418.9 301.4h0M506.4 297.6h0M372.4 297.1h0M498.9 300.1h0M46.9 302.2h0M154.2 300.0h0M457.8 301.8h0M351.6 301.2h0M518.2 302.3h0M468.3 298.4h0M58.6 301.5h0M505.1 298.0h0M542.6 300.0h0M269.6 297.4h0M584.9 299.8h0M351.1 297.2h0M330.0 301.0h0M92.4 299.9h0M517.8 302.5h0M635.7 298.5h0M356.0 297.6h0M145.9 299.3h0M474.9 299.6h0M494.8 297.8h0M575.6 297.7h0M592.4 298.3h0M284.5 297.0h0M645.6 297.1h0M216.1 299.2h0M166.5 301.9h0M87.6 297.6h0M553.8 302.0h0M637.3 297.6h0M525.3 299.8h0M199.4 302.4h0M56.3 299.5h0M378.8 299.4h0M542.7 300.9h0M344.3 299.3h0M363.2 299.4h0M91.0 298.6h0M119.0 299.2h0M541.7 302.0h0M616.2 301.8h0M334.0 297.9h0M466.4 301.7h0M112.2 297.3h0M289.9 300.0h0M456.3 299.7h0M605.4 299.6h0M201.0 302.2h0M168.8 301.1h0M61.6 300.2h0M156.9 299.1h0M644.4 297.7h0M515.7 299.2h0M587.8 299.7h0M382.2 298.9h0M240.2 297.7h0M193.4 300.2h0" stroke="#000" stroke-width="2.6" stroke-linecap="round" fill="none"/>
<path d="M329.5 276.3h0M558.0 277.8h0M633.6 278.2h0M548.0 277.0h0M546.8 273.3h0M463.0 274.0h0M249.9 278.4h0M346.0 279.6h0M576.2 277.1h0M354.0 278.2h0M599.8 279.5h0M202.0 275.5h0M450.3 278.1h0M161.4 274.6h0M496.2 275.3h0M302.7 275.7h0M339.9 274.2h0M578.7 279.3h0M403.3 278.9h0M172.6 276.6h0M278.8 273.3h0M610.9 273.5h0M165.8 279.6h0M132.7 275.4h0M617.6 275.8h0M119.1 277.7h0M521.1 273.7h0M323.2 278.1h0M567.3 275.6h0M257.4 273.9h0M333.8 276.2h0M139.1 279.5h0M253.8 279.2h0M269.8 277.6h0M550.9 276.8h0M454.4 272.5h0M600.4 280.2h0M373.2 289.5h0M560.7 289.5h0M626.2 280.8h0M455.5 282.4h0M543.1 288.7h0M334.5 288.8h0M252.9 287.2h0M517.0 283.2h0M105.1 287.8h0M570.8 287.4h0M283.2 288.2h0M609.9 288.8h0M201.7 282.2h0M394.1 289.0h0M629.4 280.2h0M538.3 280.0h0M250.1 286.7h0M337.7 287.8h0M187.2 283.0h0M194.6 282.2h0M304.7 281.6h0M631.4 289.3h0M217.4 280.5h0M352.3 283.4h0M317.6 283.0h0M644.6 288.7h0M197.9 282.0h0M161.0 287.7h0M123.5 284.3h0M449.7 282.0h0M310.0 285.0h0M201.8 286.8h0M526.2 288.9h0M420.4 285.5h0M331.3 285.3h0M641.2 281.8h0M131.2 282.0h0M77.0 288.3h0M452.9 288.6h0M302.8 288.4h0M316.4 285.7h0M601.7 287.3h0M530.4 280.4h0M359.6 285.5h0M341.9 282.0h0M537.2 283.1h0M96.0 287.5h0M360.4 284.4h0M608.2 288.7h0M546.6 287.6h0M520.2 281.1h0M202.4 286.8h0M149.9 289.9h0M472.9 280.8h0M486.9 288.0h0M325.9 290.1h0M182.0 295.1h0M578.8 290.4h0M545.7 296.0h0M261.2 290.6h0M623.8 291.7h0M623.7 294.9h0M320.9 292.8h0M461.3 295.7h0M554.8 295.8h0M514.6 296.8h0M139.3 290.1h0M539.8 291.5h0M196.6 290.5h0M218.7 296.9h0M332.9 296.7h0M530.8 295.5h0M227.3 290.2h0M99.6 296.0h0M253.6 293.6h0M342.9 292.0h0M329.9 294.5h0M310.7 291.6h0M212.3 294.1h0M196.9 295.5h0M296.2 295.9h0M528.1 292.0h0M182.9 292.3h0M73.9 296.6h0M222.5 295.5h0M140.3 294.0h0M425.0 294.4h0M156.5 293.6h0M238.8 296.3h0M629.2 290.2h0M430.2 292.5h0M528.9 292.5h0M522.8 294.4h0M414.0 291.7h0M575.3 295.6h0M427.4 293.9h0M603.7 292.4h0M609.2 291.6h0M627.2 294.4h0M566.0 295.9h0M301.3 294.0h0M166.3 294.0h0M567.3 294.8h0M464.2 296.2h0M49.9 294.0h0M114.2 293.1h0M86.5 296.7h0M571.8 297.0h0M69.5 290.1h0M648.3 291.0h0M429.6 296.4h0M625.0 296.9h0M382.3 290.0h0M53.1 292.2h0M114.6 294.3h0M351.7 296.7h0M502.9 293.9h0M222.0 299.7h0M81.8 302.5h0M604.7 299.3h0M446.8 298.5h0M389.5 299.6h0M261.3 301.9h0M205.2 299.1h0M511.2 300.1h0M331.4 299.6h0M103.4 301.6h0M541.4 299.9h0M464.7 302.0h0M613.1 302.1h0M264.8 301.6h0M73.2 299.0h0M292.6 298.8h0M497.9 301.8h0M520.9 297.6h0M307.6 302.4h0M636.9 299.8h0M124.8 302.5h0M431.9 299.8h0M631.9 301.5h0M146.8 298.3h0M467.4 302.1h0M502.3 299.2h0M372.8 297.1h0M562.1 298.5h0M125.6 300.4h0M451.8 297.2h0M151.5 299.6h0M634.3 298.1h0M354.2 302.1h0M238.3 300.8h0M476.9 297.1h0M570.9 298.8h0M584.6 301.9h0M523.1 297.3h0M602.6 299.0h0M379.8 300.5h0M246.9 301.3h0M610.2 300.3h0M228.6 301.5h0M500.0 302.1h0M121.8 301.2h0M424.0 301.5h0M371.3 300.0h0M405.9 297.4h0M231.7 297.1h0M575.9 298.3h0M588.0 298.8h0M645.8 297.1h0M641.1 301.5h0M211.0 297.2h0M159.7 300.4h0M529.3 301.9h0M234.4 302.4h0M170.5 298.5h0M206.1 301.5h0M431.8 300.5h0M408.0 301.1h0M97.7 301.6h0M219.1 300.8h0M333.1 298.2h0M275.2 299.0h0M198.9 299.4h0M318.3 301.5h0M531.4 299.0h0M250.2 298.7h0M556.5 297.9h0M649.4 302.4h0M160.2 300.3h0" stroke="#000" stroke-width="2.9" stroke-linecap="round" fill="none"/>
<path d="M166.6 277.6h0M128.3 275.4h0M296.5 274.4h0M131.1 272.8h0M132.9 277.1h0M70.8 277.8h0M115.8 273.3h0M96.0 275.8h0M491.3 273.4h0M539.9 279.3h0M104.5 275.4h0M560.5 273.9h0M520.1 278.6h0M293.0 277.9h0M596.1 272.9h0M52.1 274.4h0M302.1 276.5h0M315.6 277.5h0M218.1 273.6h0M117.1 277.8h0M408.3 274.2h0M280.3 276.5h0M246.4 279.6h0M195.0 279.9h0M128.6 276.1h0M594.6 278.0h0M232.3 275.9h0M569.5 277.7h0M365.4 273.4h0M219.4 278.2h0M241.2 276.1h0M170.3 275.4h0M213.0 272.6h0M468.8 276.4h0M451.9 273.6h0M501.2 276.1h0M86.3 278.9h0M89.6 272.8h0M128.4 276.3h0M58.4 277.0h0M611.3 274.5h0M315.3 278.8h0M184.3 276.1h0M195.0 279.4h0M487.3 285.1h0M241.2 287.5h0M613.8 281.5h0M89.3 289.9h0M55.4 280.3h0M331.7 283.6h0M441.2 283.3h0M645.8 288.3h0M115.0 288.7h0M372.7 288.4h0M344.5 284.9h0M609.1 286.9h0M112.9 283.6h0M518.4 282.6h0M256.3 282.2h0M631.8 282.0h0M553.9 284.1h0M593.6 282.4h0M395.8 285.7h0M188.9 285.8h0M573.4 289.8h0M518.4 286.9h0M330.2 286.9h0M578.5 289.3h0M528.2 287.1h0M510.1 287.5h0M466.5 288.3h0M274.0 286.6h0M181.4 286.2h0M603.9 286.8h0M194.5 288.2h0M164.3 281.1h0M609.5 286.0h0M311.4 283.8h0M133.9 287.1h0M111.2 286.5h0M268.5 286.9h0M115.7 286.9h0M201.8 282.6h0M605.8 283.7h0M458.6 289.7h0M339.6 289.1h0M511.3 284.4h0M382.2 283.2h0M562.0 288.0h0M281.0 286.4h0M392.5 289.7h0M260.7 284.7h0M228.0 283.2h0M507.8 286.5h0M216.0 287.8h0M312.1 284.6h0M527.9 280.8h0M356.5 280.5h0M223.6 289.3h0M384.9 284.9h0M166.3 289.1h0M638.1 287.2h0M454.3 294.9h0M499.4 290.6h0M126.8 292.2h0M280.2 290.5h0M649.9 296.2h0M348.2 293.1h0M398.5 292.9h0M476.1 292.3h0M299.4 296.7h0M534.0 295.8h0M574.3 293.9h0M393.8 293.8h0M484.9 291.6h0M176.9 295.1h0M338.9 291.2h0M638.3 296.0h0M242.8 296.7h0M172.8 291.6h0M190.2 296.8h0M600.8 294.7h0M244.4 292.9h0M367.5 294.1h0M360.1 292.0h0M300.4 293.9h0M71.7 293.9h0M416.6 294.6h0M140.4 292.7h0M62.4 294.0h0M205.8 293.1h0M315.8 294.8h0M393.3 295.6h0M220.1 295.5h0M530.8 294.4h0M640.4 296.8h0M132.9 290.8h0M503.5 290.1h0M619.5 291.9h0M644.2 291.3h0M533.1 293.7h0M136.0 295.5h0M558.8 293.1h0M585.9 293.5h0M228.5 291.3h0M180.6 292.6h0M256.8 296.5h0M528.2 296.8h0M216.4 290.7h0M580.9 290.4h0M123.9 293.7h0M250.0 292.5h0M616.3 291.3h0M173.8 292.2h0M103.9 290.9h0M367.6 292.8h0M544.3 293.4h0M484.9 294.0h0M118.9 293.1h0M401.8 294.0h0M237.8 292.3h0M262.0 294.4h0M516.1 294.1h0M630.6 290.4h0M135.4 296.1h0M411.1 294.6h0M121.6 293.8h0M213.2 292.0h0M501.1 291.7h0M454.6 291.8h0M460.8 291.4h0M517.8 291.4h0M389.0 296.7h0M289.5 293.2h0M457.2 296.4h0M147.4 292.1h0M182.1 297.7h0M139.3 298.4h0M456.3 298.5h0M343.0 299.1h0M571.9 298.1h0M512.1 302.4h0M571.2 301.0h0M492.9 302.0h0M48.0 299.4h0M103.4 302.0h0M540.6 298.0h0M358.3 297.7h0M308.6 301.9h0M496.4 299.2h0M532.0 299.8h0M523.8 302.3h0M169.4 298.4h0M116.8 302.2h0M146.6 298.2h0M373.1 297.7h0M273.6 299.4h0M74.1 299.9h0M86.6 297.8h0M161.2 301.5h0M110.8 301.9h0M164.5 299.2h0M653.2 302.4h0M73.5 298.0h0M551.4 299.0h0M407.4 302.1h0M242.2 302.5h0M510.8 297.1h0M544.9 300.6h0M173.1 297.1h0M630.3 298.3h0M216.8 300.0h0M261.9 301.0h0M218.2 301.4h0M337.8 301.0h0M566.4 299.2h0M272.3 301.3h0M237.6 298.7h0M232.1 298.7h0M63.5 302.5h0M620.1 298.5h0M339.3 300.1h0M467.9 301.3h0M294.3 297.5h0M74.5 301.7h0M441.0 298.3h0M613.9 301.4h0M322.2 298.3h0M86.0 298.5h0M211.5 300.6h0M635.9 301.6h0M389.2 300.4h0M82.7 298.2h0M544.3 298.5h0M153.5 299.6h0M305.0 300.1h0M160.9 297.4h0M557.9 297.9h0M552.6 301.7h0M318.5 299.8h0M425.7 297.2h0M462.3 298.6h0M573.4 301.6h0M245.4 297.7h0M327.9 299.8h0M545.0 301.3h0M465.8 300.0h0M200.7 299.0h0M605.8 301.7h0M298.2 298.6h0M47.6 299.8h0M534.7 301.3h0M503.9 301.2h0M382.0 298.8h0M631.2 302.2h0M162.0 298.6h0" stroke="#000" stroke-width="3.2" stroke-linecap="round" fill="none"/>
<path d="M335.7 277.1h0M394.5 273.5h0M235.2 273.5h0M572.2 276.8h0M594.8 276.4h0M334.1 273.5h0M473.3 279.1h0M448.0 276.8h0M349.0 274.1h0M73.0 279.5h0M567.5 276.6h0M340.7 275.2h0M535.4 274.8h0M343.8 279.3h0M251.6 279.8h0M274.6 273.8h0M551.6 277.4h0M384.4 273.2h0M477.6 273.8h0M612.7 280.0h0M436.1 278.2h0M507.9 278.1h0M618.3 275.0h0M243.8 277.1h0M552.4 278.4h0M366.1 273.2h0M598.8 272.7h0M408.7 272.7h0M306.4 275.4h0M205.3 277.5h0M552.4 278.5h0M567.4 273.8h0M168.8 279.0h0M307.9 289.6h0M499.4 284.4h0M290.8 288.7h0M282.6 288.5h0M580.2 287.3h0M282.0 287.4h0M654.1 280.7h0M614.1 285.2h0M185.1 288.0h0M203.1 283.7h0M83.2 285.3h0M102.1 282.5h0M314.2 287.5h0M474.3 284.9h0M470.9 282.3h0M544.7 280.1h0M163.0 281.4h0M621.0 286.4h0M527.2 289.2h0M393.4 284.0h0M423.1 282.1h0M624.9 286.6h0M203.8 286.1h0M212.9 285.7h0M178.7 284.7h0M60.4 283.2h0M406.6 285.8h0M499.7 282.4h0M231.0 288.8h0M643.1 286.7h0M615.9 283.2h0M265.0 286.1h0M420.7 289.0h0M472.2 289.2h0M588.0 282.8h0M331.7 285.1h0M482.3 282.3h0M81.0 281.0h0M431.5 284.7h0M171.5 280.5h0M629.7 284.2h0M293.6 286.5h0M522.4 281.2h0M453.8 281.6h0M156.4 283.3h0M409.3 285.7h0M100.8 288.4h0M55.8 286.7h0M227.3 281.1h0M399.9 289.0h0M318.1 286.8h0M269.7 286.4h0M606.2 295.8h0M380.7 290.4h0M538.4 296.7h0M438.9 292.3h0M649.9 293.2h0M466.8 290.7h0M111.7 293.1h0M636.3 293.6h0M103.6 291.2h0M169.2 292.1h0M104.3 293.7h0M47.7 293.9h0M238.9 291.4h0M334.3 296.9h0M85.4 293.2h0M338.3 291.5h0M393.1 292.9h0M485.1 291.0h0M255.8 295.9h0M170.4 290.1h0M504.6 296.0h0M599.7 293.1h0M576.1 290.8h0M544.2 290.0h0M526.7 296.5h0M266.0 295.0h0M340.1 291.4h0M199.8 290.1h0M561.2 291.5h0M523.5 293.9h0M515.0 292.0h0M326.3 294.5h0M585.8 292.2h0M154.2 293.5h0M84.5 296.1h0M381.8 291.8h0M161.9 292.7h0M499.4 295.0h0M50.1 295.3h0M412.3 293.3h0M374.5 294.8h0M75.2 296.3h0M199.0 296.7h0M572.3 292.7h0M642.4 295.9h0M352.2 296.8h0M154.9 296.8h0M620.6 293.7h0M231.2 291.6h0M500.3 291.4h0M123.8 291.2h0M509.7 293.7h0M277.7 292.3h0M643.4 292.7h0M409.7 294.1h0M179.5 294.2h0M493.0 292.5h0M519.0 292.7h0M631.7 290.3h0M180.4 292.9h0M341.6 291.8h0M497.1 292.5h0M306.2 292.0h0M172.9 294.3h0M419.2 293.5h0M626.5 291.0h0M594.4 293.7h0M71.0 290.2h0M555.7 293.1h0M525.5 294.4h0M512.2 296.1h0M306.1 294.0h0M549.0 292.4h0M262.5 294.1h0M583.8 296.7h0M430.8 296.2h0M493.0 295.2h0M645.8 290.7h0M367.7 291.2h0M551.6 293.2h0M510.4 295.5h0M572.0 293.9h0M347.4 294.5h0M543.5 290.2h0M191.8 295.2h0M447.8 290.5h0M167.4 296.1h0M634.0 294.9h0M222.6 293.2h0M459.0 294.1h0M128.5 294.2h0M378.7 296.8h0M533.4 293.8h0M439.9 301.2h0M207.5 302.3h0M203.8 299.0h0M566.5 302.2h0M63.2 298.5h0M347.1 301.8h0M602.0 300.3h0M435.7 297.4h0M388.7 299.9h0M510.3 298.4h0M572.9 302.1h0M646.1 297.3h0M52.1 299.3h0M395.3 298.6h0M118.2 298.4h0M94.9 298.8h0M98.3 299.1h0M155.6 299.8h0M612.0 298.1h0M565.6 299.0h0M589.4 297.6h0M388.4 299.5h0M596.9 301.5h0M460.1 299.4h0M204.5 297.8h0M175.0 298.0h0M179.5 301.4h0M146.0 300.5h0M493.1 301.6h0M179.3 300.9h0M289.6 300.1h0M127.7 302.3h0M596.5 301.0h0M99.2 297.8h0M86.3 298.6h0M601.2 301.8h0M470.9 300.0h0M571.0 298.7h0M617.6 298.3h0M441.3 298.8h0M265.0 302.5h0M210.4 298.1h0M66.8 300.8h0M388.5 302.0h0M434.3 300.3h0M136.7 297.1h0M314.2 301.8h0M115.5 298.7h0M637.0 300.2h0M449.4 301.7h0M149.3 298.7h0M341.5 298.6h0M80.5 297.2h0M611.7 301.2h0M584.8 297.4h0M533.9 297.6h0M521.8 301.2h0M251.8 300.3h0M268.1 299.7h0M63.0 301.2h0M219.9 302.4h0M530.1 299.5h0M337.2 298.2h0M239.6 299.8h0M181.5 299.1h0M592.5 301.3h0M567.8 297.2h0M613.4 299.1h0M250.2 302.3h0M118.4 302.0h0M81.5 300.1h0M406.3 300.8h0M558.5 297.7h0M71.7 300.7h0M631.2 301.2h0M333.5 299.4h0M231.0 302.5h0" stroke="#000" stroke-width="3.5" stroke-linecap="round" fill="none"/>
<path d="M411.3 278.3h0M134.8 275.8h0M226.3 273.1h0M641.6 273.4h0M582.2 278.0h0M278.9 276.4h0M256.4 277.7h0M586.8 272.6h0M371.2 274.1h0M77.7 274.9h0M543.7 277.0h0M426.7 275.2h0M557.0 273.1h0M283.5 273.6h0M166.1 275.2h0M601.0 279.5h0M633.5 274.9h0M374.2 274.7h0M47.8 277.6h0M577.1 275.3h0M485.7 274.4h0M566.8 275.4h0M536.1 276.1h0M197.6 274.9h0M358.0 277.6h0M576.1 272.9h0M557.1 274.6h0M387.0 276.7h0M567.9 286.3h0M89.5 285.0h0M469.4 281.8h0M89.1 282.7h0M256.8 287.0h0M435.7 283.7h0M591.9 280.2h0M639.9 287.8h0M233.7 283.5h0M606.0 283.3h0M273.3 285.9h0M468.7 288.4h0M555.1 289.6h0M479.8 287.0h0M321.7 285.9h0M275.8 287.2h0M85.3 281.8h0M66.9 287.0h0M89.3 289.0h0M341.9 280.8h0M615.8 280.2h0M527.6 285.4h0M232.7 281.8h0M231.1 280.4h0M147.0 281.4h0M257.2 285.6h0M59.4 285.1h0M417.8 287.7h0M350.4 289.8h0M104.5 287.1h0M381.2 280.0h0M134.8 285.8h0M114.4 288.5h0M577.9 288.0h0M649.2 289.0h0M420.8 289.4h0M155.5 285.0h0M436.1 281.7h0M537.4 289.4h0M573.2 283.4h0M497.2 288.7h0M519.5 286.6h0M486.9 287.8h0M63.7 281.6h0M529.1 282.9h0M643.5 285.3h0M174.6 283.5h0M599.4 280.9h0M638.2 287.0h0M270.4 283.1h0M119.4 283.0h0M299.0 284.1h0M493.2 280.3h0M488.3 286.7h0M553.7 288.3h0M513.6 285.1h0M252.3 296.0h0M626.2 295.4h0M649.0 295.4h0M143.0 294.1h0M625.7 292.2h0M308.1 293.2h0M189.6 290.4h0M583.8 296.5h0M393.3 294.3h0M406.1 291.8h0M234.9 290.8h0M400.6 292.3h0M154.8 295.0h0M221.4 292.6h0M280.1 290.6h0M651.1 293.4h0M266.1 295.9h0M285.6 293.0h0M248.9 297.0h0M376.4 291.4h0M652.3 294.4h0M166.6 295.3h0M228.5 295.8h0M200.2 292.8h0M363.1 295.0h0M414.3 295.3h0M512.1 293.5h0M513.1 290.5h0M513.5 291.6h0M646.9 295.8h0M196.9 294.3h0M217.0 295.7h0M338.0 292.7h0M578.3 291.3h0M575.6 293.6h0M135.6 294.7h0M456.2 296.5h0M130.9 293.4h0M61.1 293.3h0M473.0 291.0h0M612.6 294.3h0M629.4 292.0h0M516.2 292.1h0M62.9 294.2h0M494.3 293.3h0M97.5 294.4h0M355.6 293.8h0M156.3 294.3h0M527.4 294.8h0M556.2 293.4h0M448.6 293.8h0M647.7 290.3h0M494.6 292.4h0M67.7 291.7h0M359.4 294.9h0M154.5 291.7h0M421.3 290.6h0M99.0 290.8h0M453.5 295.2h0M362.5 296.9h0M649.9 296.1h0M145.8 291.1h0M570.1 291.5h0M634.0 295.5h0M370.4 291.2h0M588.2 295.8h0M373.9 295.9h0M633.9 295.2h0M297.5 290.0h0M346.1 293.8h0M328.0 295.3h0M61.4 294.3h0M516.6 296.0h0M523.4 297.5h0M607.3 301.8h0M519.7 301.0h0M90.2 297.3h0M110.1 300.8h0M75.9 298.9h0M151.5 300.6h0M509.0 299.3h0M384.3 300.6h0M651.9 300.7h0M561.7 298.9h0M339.9 301.6h0M441.2 301.7h0M97.6 298.2h0M567.8 298.8h0M146.8 297.6h0M126.9 301.9h0M199.9 301.2h0M107.6 301.1h0M142.5 300.5h0M354.8 301.0h0M282.7 301.6h0M572.0 301.2h0M249.8 297.8h0M580.2 301.7h0M223.7 298.7h0M526.8 297.2h0M435.1 297.1h0M515.3 298.3h0M375.6 300.5h0M320.2 300.6h0M542.6 298.2h0M79.4 297.3h0M88.7 299.3h0M259.5 299.0h0M586.2 300.8h0M441.7 300.5h0M627.9 300.8h0M178.1 300.0h0M152.4 302.0h0M298.9 300.3h0M619.4 298.7h0M639.0 300.6h0M100.5 297.3h0M345.6 300.4h0M503.7 299.8h0M500.0 298.9h0M412.3 302.1h0M544.2 299.1h0M345.3 298.2h0M370.2 301.2h0M542.8 298.1h0M628.3 300.1h0M377.5 298.5h0M563.0 300.2h0M307.1 300.8h0M525.4 301.1h0M586.3 298.4h0M234.7 299.0h0M46.1 297.1h0M199.1 301.0h0M405.2 297.5h0M173.6 298.5h0M92.7 299.1h0M372.5 299.9h0M412.3 298.4h0M156.9 298.1h0M296.2 298.5h0M557.7 302.1h0M558.4 297.2h0M613.9 302.3h0" stroke="#000" stroke-width="3.8" stroke-linecap="round" fill="none"/>
<path d="M52.2 276.0h0M301.2 275.4h0M572.7 279.8h0M286.0 278.9h0M544.4 274.4h0M625.1 279.1h0M112.0 276.3h0M216.4 279.4h0M632.8 272.7h0M327.7 276.6h0M315.1 279.2h0M582.5 275.4h0M389.6 277.3h0M506.1 276.5h0M142.6 278.9h0M614.4 277.9h0M621.5 276.0h0M62.8 278.6h0M365.3 276.8h0M289.9 278.5h0M147.2 279.5h0M111.8 275.6h0M520.9 272.7h0M218.8 277.9h0M164.3 278.3h0M104.1 276.8h0M419.7 279.3h0M610.9 273.2h0M117.5 279.0h0M542.7 273.5h0M306.4 275.3h0M96.1 276.7h0M518.6 273.1h0M490.7 276.4h0M582.8 274.6h0M142.3 274.7h0M379.1 278.4h0M109.8 274.9h0M415.2 273.7h0M599.4 278.6h0M547.0 273.1h0M330.5 277.9h0M254.3 277.4h0M248.5 274.7h0M567.1 275.6h0M180.8 278.1h0M528.8 273.4h0M320.0 276.5h0M615.2 279.8h0M261.5 276.0h0M92.0 279.4h0M403.3 276.5h0M604.5 276.9h0M561.2 277.6h0M512.3 276.2h0M123.8 278.2h0M511.1 278.0h0M251.1 279.9h0M616.1 274.1h0M229.9 277.1h0M319.6 273.5h0M628.1 279.0h0M219.1 277.8h0M428.2 277.2h0M87.2 276.0h0M188.6 272.5h0M142.8 277.2h0M298.5 275.3h0M75.2 277.8h0M210.3 276.8h0M572.9 280.0h0M61.8 273.8h0M60.1 276.7h0M173.7 279.7h0M107.0 279.6h0M241.7 280.9h0M153.6 281.1h0M165.1 282.8h0M628.2 282.2h0M494.6 283.6h0M271.1 281.4h0M78.6 282.2h0M283.3 283.0h0M79.7 281.8h0M273.2 280.9h0M136.6 281.6h0M511.3 280.5h0M333.7 280.3h0M211.8 282.9h0M613.4 284.1h0M205.2 280.9h0M352.8 281.6h0M418.9 280.6h0M375.0 284.6h0M392.4 280.6h0M132.7 280.3h0M248.8 282.8h0M355.9 284.1h0M526.3 282.8h0M469.8 283.2h0M58.0 282.5h0M54.6 283.6h0M499.7 284.5h0M481.6 281.9h0M427.8 284.5h0M573.0 280.3h0M185.8 281.8h0M104.3 280.1h0M565.1 282.9h0M631.3 281.4h0M216.1 283.2h0M616.0 284.2h0M139.9 283.3h0M489.3 284.6h0M422.8 283.4h0M184.3 280.6h0M531.3 280.9h0M599.5 280.5h0M121.2 284.5h0M248.9 284.1h0" stroke="#000" stroke-width="4.2" stroke-linecap="round" fill="none"/>
<line x1="44" y1="271.2" x2="658" y2="271.2" stroke="#111" stroke-width="0.8" stroke-dasharray="1.2,1.3"/>
<circle cx="61" cy="236.6" r="2.8" fill="#8c0505"/>
<circle cx="71.9" cy="242.7" r="2.5" fill="#8c0505"/>
<circle cx="75.9" cy="245.2" r="2.8" fill="#8c0505"/>
<circle cx="75" cy="251.8" r="2.8" fill="#8c0505"/>
<circle cx="54" cy="256.2" r="2" fill="#8c0505"/>
<circle cx="77.7" cy="261" r="2" fill="#8c0505"/>
<circle cx="83" cy="262" r="2" fill="#8c0505"/>
<circle cx="55" cy="264.5" r="2.5" fill="#8c0505"/>
<circle cx="58" cy="263" r="2.5" fill="#8c0505"/>
<circle cx="61" cy="263.5" r="2.5" fill="#8c0505"/>
<circle cx="64" cy="265" r="2.3" fill="#8c0505"/>
<circle cx="57" cy="266" r="2.2" fill="#8c0505"/>
<circle cx="73.3" cy="268.5" r="1.5" fill="#8c0505"/>
<circle cx="88.2" cy="268.2" r="2" fill="#8c0505"/>
<circle cx="91.7" cy="268.2" r="2" fill="#8c0505"/>
<circle cx="97.9" cy="265.5" r="1.5" fill="#8c0505"/>
<circle cx="100.4" cy="269.5" r="1.6" fill="#8c0505"/>
<circle cx="110" cy="242.3" r="2.5" fill="#8c0505"/>
<circle cx="109.7" cy="264.5" r="1.5" fill="#8c0505"/>
<circle cx="115.9" cy="222" r="3.2" fill="#0d700f"/>
<circle cx="116.2" cy="236.6" r="2.8" fill="#0d700f"/>
<circle cx="150" cy="193.7" r="3" fill="#0d700f"/>
<circle cx="117" cy="265" r="2.2" fill="#0d700f"/>
<circle cx="120" cy="266" r="2.2" fill="#0d700f"/>
<circle cx="123" cy="265.5" r="2.3" fill="#0d700f"/>
<circle cx="126" cy="266" r="2.2" fill="#0d700f"/>
<circle cx="130" cy="264" r="2" fill="#0d700f"/>
<circle cx="129" cy="268.5" r="2" fill="#0d700f"/>
<circle cx="133" cy="268" r="2" fill="#0d700f"/>
<circle cx="119" cy="269" r="1.8" fill="#0d700f"/>
<circle cx="142.5" cy="270.2" r="2.2" fill="#0d700f"/>
<circle cx="148.7" cy="266.2" r="1.5" fill="#0d700f"/>
<circle cx="156.1" cy="232" r="3.8" fill="#0b0b8a"/>
<circle cx="158.8" cy="265.5" r="2.3" fill="#0b0b8a"/>
<circle cx="169.5" cy="236.6" r="3" fill="#0b0b8a"/>
<circle cx="172.5" cy="236.6" r="3" fill="#0b0b8a"/>
<circle cx="183.8" cy="237" r="2" fill="#0b0b8a"/>
<circle cx="169.6" cy="247.5" r="3.3" fill="#0b0b8a"/>
<circle cx="183.8" cy="255" r="3" fill="#0b0b8a"/>
<circle cx="170.2" cy="265.3" r="2.3" fill="#0b0b8a"/>
<circle cx="181.6" cy="261.5" r="2.2" fill="#0b0b8a"/>
<circle cx="186" cy="264" r="2.2" fill="#0b0b8a"/>
<circle cx="190.7" cy="262.7" r="2.2" fill="#0b0b8a"/>
<circle cx="187.7" cy="269.4" r="1.8" fill="#0b0b8a"/>
<circle cx="169.3" cy="269" r="1.5" fill="#0b0b8a"/>
<circle cx="205.7" cy="224.2" r="5.3" fill="#ffd300"/>
<circle cx="203.4" cy="258.5" r="2.5" fill="#ffd300"/>
<circle cx="207.8" cy="261.8" r="2.3" fill="#ffd300"/>
<circle cx="204.7" cy="266.4" r="2.5" fill="#ffd300"/>
<circle cx="193.5" cy="265.5" r="2" fill="#ffd300"/>
<circle cx="211.7" cy="268.5" r="1.8" fill="#ffd300"/>
<circle cx="213.4" cy="264.5" r="2.3" fill="#8c0505"/>
<circle cx="222.2" cy="263.2" r="2.2" fill="#8c0505"/>
<circle cx="221.8" cy="267.2" r="2.2" fill="#8c0505"/>
<circle cx="226.2" cy="268.5" r="2" fill="#8c0505"/>
<circle cx="234.1" cy="265" r="2.5" fill="#8c0505"/>
<circle cx="234.5" cy="267" r="2.3" fill="#8c0505"/>
<circle cx="240.6" cy="269.4" r="1.8" fill="#8c0505"/>
<circle cx="265.6" cy="219.4" r="4.2" fill="#0d700f"/>
<circle cx="247.3" cy="256.2" r="2.3" fill="#0d700f"/>
<circle cx="248.5" cy="259" r="2.2" fill="#0d700f"/>
<circle cx="249" cy="262" r="2.2" fill="#0d700f"/>
<circle cx="248.5" cy="265" r="2.2" fill="#0d700f"/>
<circle cx="249" cy="267.5" r="2" fill="#0d700f"/>
<circle cx="266.5" cy="262.3" r="1.8" fill="#0d700f"/>
<circle cx="263.9" cy="269.4" r="2" fill="#0d700f"/>
<circle cx="266" cy="268" r="2" fill="#0d700f"/>
<circle cx="265.5" cy="262.5" r="2" fill="#0d700f"/>
<circle cx="266" cy="265.5" r="2" fill="#0d700f"/>
<circle cx="264" cy="268.5" r="2.2" fill="#0d700f"/>
<circle cx="267.5" cy="268.5" r="2" fill="#0d700f"/>
<circle cx="267.9" cy="247.3" r="2.8" fill="#0b0b8a"/>
<circle cx="283.7" cy="254.5" r="2.5" fill="#0b0b8a"/>
<circle cx="285.5" cy="256" r="2.3" fill="#0b0b8a"/>
<circle cx="291.2" cy="260" r="2" fill="#0b0b8a"/>
<circle cx="286" cy="265.3" r="2" fill="#0b0b8a"/>
<circle cx="276.6" cy="265.8" r="2" fill="#0b0b8a"/>
<circle cx="270.5" cy="267.2" r="2" fill="#0b0b8a"/>
<circle cx="312.2" cy="237.5" r="2.7" fill="#ffd300"/>
<circle cx="308.7" cy="247.5" r="2.5" fill="#ffd300"/>
<circle cx="300" cy="258" r="2.4" fill="#ffd300"/>
<circle cx="303" cy="261" r="2.4" fill="#ffd300"/>
<circle cx="306" cy="262" r="2.4" fill="#ffd300"/>
<circle cx="308" cy="263" r="2.2" fill="#ffd300"/>
<circle cx="301" cy="266.5" r="2" fill="#ffd300"/>
<circle cx="305" cy="268.5" r="2.2" fill="#ffd300"/>
<circle cx="308.5" cy="268" r="2" fill="#ffd300"/>
<circle cx="337.4" cy="216.3" r="2.7" fill="#8c0505"/>
<circle cx="323.4" cy="246.6" r="3.7" fill="#8c0505"/>
<circle cx="316.6" cy="258.8" r="2.5" fill="#8c0505"/>
<circle cx="337.1" cy="258.5" r="2.4" fill="#8c0505"/>
<circle cx="331" cy="263.8" r="3.2" fill="#8c0505"/>
<circle cx="335.7" cy="267.6" r="2.7" fill="#8c0505"/>
<circle cx="321.3" cy="269.4" r="2" fill="#8c0505"/>
<circle cx="324" cy="268.5" r="2" fill="#8c0505"/>
<circle cx="344.4" cy="255" r="2.3" fill="#0d700f"/>
<circle cx="342.3" cy="261.5" r="2.5" fill="#0d700f"/>
<circle cx="341.5" cy="267.6" r="2" fill="#0d700f"/>
<circle cx="352.9" cy="266.7" r="1.8" fill="#0d700f"/>
<circle cx="355.5" cy="269.4" r="2" fill="#0d700f"/>
<circle cx="371.9" cy="193.7" r="3.3" fill="#0b0b8a"/>
<circle cx="386.6" cy="193.7" r="6.5" fill="#0b0b8a"/>
<circle cx="366" cy="240" r="3.3" fill="#0b0b8a"/>
<circle cx="366" cy="251.8" r="2.8" fill="#0b0b8a"/>
<circle cx="377.4" cy="239.2" r="2.9" fill="#0b0b8a"/>
<circle cx="399.4" cy="247.5" r="2.3" fill="#0b0b8a"/>
<circle cx="379" cy="262" r="2.2" fill="#0b0b8a"/>
<circle cx="382" cy="258.5" r="2.2" fill="#0b0b8a"/>
<circle cx="385" cy="261" r="2.2" fill="#0b0b8a"/>
<circle cx="388" cy="260.5" r="2.2" fill="#0b0b8a"/>
<circle cx="391" cy="262.5" r="2.2" fill="#0b0b8a"/>
<circle cx="393" cy="265" r="2.2" fill="#0b0b8a"/>
<circle cx="395" cy="268" r="2" fill="#0b0b8a"/>
<circle cx="381" cy="266" r="2.2" fill="#0b0b8a"/>
<circle cx="386" cy="265" r="2" fill="#0b0b8a"/>
<circle cx="389" cy="268" r="2" fill="#0b0b8a"/>
<circle cx="368.8" cy="268" r="2.2" fill="#0b0b8a"/>
<circle cx="372" cy="266.5" r="2.2" fill="#0b0b8a"/>
<circle cx="374" cy="268.5" r="2" fill="#0b0b8a"/>
<circle cx="422.2" cy="193.7" r="4.2" fill="#ffd300"/>
<circle cx="424.8" cy="230.8" r="4.7" fill="#ffd300"/>
<circle cx="414" cy="238.2" r="2.5" fill="#ffd300"/>
<circle cx="421.3" cy="249.2" r="2.5" fill="#ffd300"/>
<circle cx="432.2" cy="244.8" r="2.3" fill="#ffd300"/>
<circle cx="403.5" cy="255.7" r="2.5" fill="#ffd300"/>
<circle cx="407" cy="256.5" r="2.5" fill="#ffd300"/>
<circle cx="410" cy="262.3" r="2.6" fill="#ffd300"/>
<circle cx="412.5" cy="262.5" r="2.4" fill="#ffd300"/>
<circle cx="408.2" cy="267.6" r="2.2" fill="#ffd300"/>
<circle cx="416" cy="268.5" r="2.2" fill="#ffd300"/>
<circle cx="422.2" cy="267.6" r="2.4" fill="#ffd300"/>
<circle cx="425.7" cy="262" r="2.4" fill="#ffd300"/>
<circle cx="430" cy="265.5" r="3" fill="#ffd300"/>
<circle cx="428" cy="268" r="2.5" fill="#ffd300"/>
<circle cx="419" cy="269" r="2.2" fill="#ffd300"/>
<circle cx="439.2" cy="246.2" r="3.2" fill="#8c0505"/>
<circle cx="437.1" cy="254" r="2.8" fill="#8c0505"/>
<circle cx="445.5" cy="251.8" r="2.7" fill="#8c0505"/>
<circle cx="437.6" cy="267.2" r="1.8" fill="#8c0505"/>
<circle cx="447.1" cy="193.7" r="5.2" fill="#0d700f"/>
<circle cx="455.1" cy="231.2" r="3" fill="#0d700f"/>
<circle cx="447.6" cy="265" r="2.3" fill="#0d700f"/>
<circle cx="453" cy="267.6" r="2.2" fill="#0d700f"/>
<circle cx="455.5" cy="269" r="2" fill="#0d700f"/>
<circle cx="460.9" cy="268.5" r="2" fill="#0d700f"/>
<circle cx="474.9" cy="193.7" r="3.5" fill="#0b0b8a"/>
<circle cx="475.7" cy="240.1" r="2.7" fill="#0b0b8a"/>
<circle cx="471.5" cy="251.5" r="2.5" fill="#0b0b8a"/>
<circle cx="473.5" cy="251.5" r="2.5" fill="#0b0b8a"/>
<circle cx="482.4" cy="254.8" r="2.5" fill="#0b0b8a"/>
<circle cx="470" cy="268.5" r="2.2" fill="#0b0b8a"/>
<circle cx="473" cy="267.5" r="2.2" fill="#0b0b8a"/>
<circle cx="476" cy="268" r="2.2" fill="#0b0b8a"/>
<circle cx="479" cy="268.5" r="2" fill="#0b0b8a"/>
<circle cx="501.2" cy="236.6" r="2.8" fill="#ffd300"/>
<circle cx="485.4" cy="247.5" r="2.5" fill="#ffd300"/>
<circle cx="492.4" cy="250" r="2.5" fill="#ffd300"/>
<circle cx="501.2" cy="251.8" r="2" fill="#ffd300"/>
<circle cx="492.1" cy="256.6" r="2.7" fill="#ffd300"/>
<circle cx="503.4" cy="256.6" r="2.7" fill="#ffd300"/>
<circle cx="510.5" cy="258" r="2.5" fill="#ffd300"/>
<circle cx="485.4" cy="263.7" r="2.5" fill="#ffd300"/>
<circle cx="495" cy="264.5" r="2.2" fill="#ffd300"/>
<circle cx="507.3" cy="265" r="2.7" fill="#ffd300"/>
<circle cx="508.2" cy="267.6" r="2.5" fill="#ffd300"/>
<circle cx="487.2" cy="268.5" r="2.3" fill="#ffd300"/>
<circle cx="493.3" cy="269.4" r="2.3" fill="#ffd300"/>
<circle cx="499.4" cy="268.5" r="2.2" fill="#ffd300"/>
<circle cx="543.6" cy="193.7" r="3.3" fill="#8c0505"/>
<circle cx="519.6" cy="236.6" r="3.5" fill="#8c0505"/>
<circle cx="550.2" cy="237.5" r="2.5" fill="#8c0505"/>
<circle cx="543.7" cy="246.2" r="3.2" fill="#8c0505"/>
<circle cx="540.2" cy="258" r="3.7" fill="#8c0505"/>
<circle cx="528" cy="261.5" r="2" fill="#8c0505"/>
<circle cx="516" cy="268" r="2" fill="#8c0505"/>
<circle cx="519" cy="266.5" r="2" fill="#8c0505"/>
<circle cx="522" cy="268.5" r="2" fill="#8c0505"/>
<circle cx="525" cy="267" r="2.2" fill="#8c0505"/>
<circle cx="528" cy="268.5" r="2" fill="#8c0505"/>
<circle cx="531" cy="267" r="2" fill="#8c0505"/>
<circle cx="533.5" cy="268.5" r="2" fill="#8c0505"/>
<circle cx="544" cy="269.4" r="1.8" fill="#8c0505"/>
<circle cx="554.1" cy="224.2" r="3.3" fill="#0d700f"/>
<circle cx="554.1" cy="259.7" r="2.3" fill="#0d700f"/>
<circle cx="553.7" cy="266.7" r="2.3" fill="#0d700f"/>
<circle cx="555.5" cy="269.7" r="2" fill="#0d700f"/>
<circle cx="569.1" cy="231.2" r="2.5" fill="#0b0b8a"/>
<circle cx="569.5" cy="247" r="2.3" fill="#0b0b8a"/>
<circle cx="563" cy="253.2" r="2.3" fill="#0b0b8a"/>
<circle cx="570.4" cy="262.7" r="2.3" fill="#0b0b8a"/>
<circle cx="560.8" cy="266.7" r="2.5" fill="#0b0b8a"/>
<circle cx="577.5" cy="265" r="2" fill="#0b0b8a"/>
<circle cx="589.8" cy="247.1" r="3" fill="#0b0b8a"/>
<circle cx="581" cy="258" r="3.2" fill="#0b0b8a"/>
<circle cx="571.4" cy="263.2" r="2.2" fill="#0b0b8a"/>
<circle cx="578" cy="268" r="2.2" fill="#0b0b8a"/>
<circle cx="581" cy="266" r="2.2" fill="#0b0b8a"/>
<circle cx="584" cy="268" r="2.2" fill="#0b0b8a"/>
<circle cx="587" cy="266.5" r="2.2" fill="#0b0b8a"/>
<circle cx="590" cy="268" r="2.2" fill="#0b0b8a"/>
<circle cx="593" cy="267" r="2" fill="#0b0b8a"/>
<circle cx="580" cy="269.5" r="2" fill="#0b0b8a"/>
<circle cx="586" cy="269.5" r="2" fill="#0b0b8a"/>
<circle cx="598" cy="193.7" r="3.7" fill="#ffd300"/>
<circle cx="612.9" cy="249.2" r="2.2" fill="#ffd300"/>
<circle cx="603.8" cy="261" r="2" fill="#ffd300"/>
<circle cx="599.4" cy="264.6" r="2" fill="#ffd300"/>
<circle cx="603" cy="268.5" r="2" fill="#ffd300"/>
<circle cx="610.8" cy="269.4" r="2" fill="#ffd300"/>
<circle cx="617.5" cy="237.3" r="2.7" fill="#8c0505"/>
<circle cx="616.1" cy="265" r="2.5" fill="#8c0505"/>
<circle cx="616.5" cy="267.5" r="2.5" fill="#8c0505"/>
<circle cx="617" cy="268.5" r="2.3" fill="#8c0505"/>
<circle cx="622.5" cy="193.7" r="4.5" fill="#0d700f"/>
<circle cx="621.5" cy="262" r="2" fill="#0d700f"/>
<circle cx="621" cy="265" r="2.2" fill="#0d700f"/>
<circle cx="624" cy="266" r="2.2" fill="#0d700f"/>
<circle cx="627" cy="265" r="2.2" fill="#0d700f"/>
<circle cx="630" cy="266" r="2.2" fill="#0d700f"/>
<circle cx="633" cy="266" r="2" fill="#0d700f"/>
<circle cx="624" cy="268.5" r="2.2" fill="#0d700f"/>
<circle cx="628" cy="269" r="2.2" fill="#0d700f"/>
<circle cx="632" cy="268.5" r="2.2" fill="#0d700f"/>
<circle cx="635.5" cy="268.5" r="2" fill="#0d700f"/>
<circle cx="620" cy="269" r="2" fill="#0d700f"/>
<circle cx="643.7" cy="243" r="4" fill="#0b0b8a"/>
<circle cx="650" cy="255.7" r="2.5" fill="#0b0b8a"/>
<circle cx="652.5" cy="256.5" r="2.5" fill="#0b0b8a"/>
<circle cx="643.2" cy="265.8" r="2" fill="#0b0b8a"/>
<circle cx="596.8" cy="270.2" r="4.5" fill="#000"/>
<text x="165.8" y="197" font-size="7.45" fill="#111" stroke="#111" stroke-width="0.25">CUL3</text>
<line x1="156.1" y1="194.4" x2="164.9" y2="194.4" stroke="#111" stroke-width="0.8"/>
<text x="118" y="251.8" font-size="7.45" fill="#111" stroke="#111" stroke-width="0.25">ACTR2</text>
<line x1="128.5" y1="255.4" x2="126" y2="263" stroke="#111" stroke-width="0.8"/>
<text x="225.7" y="257.6" font-size="7.45" fill="#111" stroke="#111" stroke-width="0.25">p38</text>
<line x1="239.8" y1="256.2" x2="247.3" y2="261.5" stroke="#111" stroke-width="0.8"/>
<text x="275.4" y="248" font-size="7.45" fill="#111" stroke="#111" stroke-width="0.25">RAC1</text>
<line x1="276.6" y1="251" x2="272.6" y2="265" stroke="#111" stroke-width="0.8"/>
<text x="291.5" y="226" font-size="7.45" fill="#111" stroke="#111" stroke-width="0.25">MYC</text>
<line x1="307.3" y1="227.7" x2="311.2" y2="234.7" stroke="#111" stroke-width="0.8"/>
<text x="326.6" y="203.1" font-size="7.45" fill="#111" stroke="#111" stroke-width="0.25">MYMK</text>
<line x1="337.4" y1="204.5" x2="337.4" y2="213.3" stroke="#111" stroke-width="0.8"/>
<text x="361" y="215.8" font-size="7.45" fill="#111" stroke="#111" stroke-width="0.25">MYOD1</text>
<line x1="371.8" y1="199.6" x2="371.8" y2="208" stroke="#111" stroke-width="0.8"/>
<text x="377.5" y="234.7" font-size="7.45" fill="#111" stroke="#111" stroke-width="0.25">SMARCD1</text>
<line x1="407.3" y1="237.8" x2="411.2" y2="260.6" stroke="#111" stroke-width="0.8"/>
<text x="430" y="239.6" font-size="7.45" fill="#111" stroke="#111" stroke-width="0.25">MYF5</text>
<line x1="428.7" y1="242.2" x2="422.2" y2="248" stroke="#111" stroke-width="0.8"/>
<text x="465.6" y="216" font-size="7.45" fill="#111" stroke="#111" stroke-width="0.25">TCF12</text>
<line x1="474.9" y1="199.3" x2="474.9" y2="208" stroke="#111" stroke-width="0.8"/>
<text x="473.7" y="232.6" font-size="7.45" fill="#111" stroke="#111" stroke-width="0.25">C16ORF72</text>
<line x1="492.4" y1="236" x2="492.4" y2="244.5" stroke="#111" stroke-width="0.8"/>
<text x="566.5" y="255.4" font-size="7.45" fill="#111" stroke="#111" stroke-width="0.25">STK1</text>
<line x1="567" y1="257" x2="562.5" y2="265" stroke="#111" stroke-width="0.8"/>
<text x="623.5" y="229" font-size="7.45" fill="#111" stroke="#111" stroke-width="0.25">HUWE1</text>
<line x1="635.7" y1="231.7" x2="639.7" y2="239.2" stroke="#111" stroke-width="0.8"/>
<text x="622.8" y="252.8" font-size="7.45" fill="#111" stroke="#111" stroke-width="0.25">p300</text>
<line x1="629.8" y1="255.4" x2="629.8" y2="263.7" stroke="#111" stroke-width="0.8"/>
<line x1="44" y1="305.3" x2="656.5" y2="305.3" stroke="#000" stroke-width="1.4"/>
<line x1="78.5" y1="306.2" x2="78.5" y2="311" stroke="#111" stroke-width="0.9"/>
<text x="78.5" y="321.4" font-size="8.4" fill="#d8262e" text-anchor="middle" stroke="#d8262e" stroke-width="0.25">1</text>
<line x1="132.3" y1="306.2" x2="132.3" y2="311" stroke="#111" stroke-width="0.9"/>
<text x="132.3" y="321.4" font-size="8.4" fill="#2fb868" text-anchor="middle" stroke="#2fb868" stroke-width="0.25">2</text>
<line x1="172.2" y1="306.2" x2="172.2" y2="311" stroke="#111" stroke-width="0.9"/>
<text x="172.2" y="321.4" font-size="8.4" fill="#3343b0" text-anchor="middle" stroke="#3343b0" stroke-width="0.25">3</text>
<line x1="201.2" y1="306.2" x2="201.2" y2="311" stroke="#111" stroke-width="0.9"/>
<text x="201.2" y="321.4" font-size="8.4" fill="#f0b43c" text-anchor="middle" stroke="#f0b43c" stroke-width="0.25">4</text>
<line x1="226.9" y1="306.2" x2="226.9" y2="311" stroke="#111" stroke-width="0.9"/>
<text x="226.9" y="321.4" font-size="8.4" fill="#d8262e" text-anchor="middle" stroke="#d8262e" stroke-width="0.25">5</text>
<line x1="254.7" y1="306.2" x2="254.7" y2="311" stroke="#111" stroke-width="0.9"/>
<text x="254.7" y="321.4" font-size="8.4" fill="#2fb868" text-anchor="middle" stroke="#2fb868" stroke-width="0.25">6</text>
<line x1="281.6" y1="306.2" x2="281.6" y2="311" stroke="#111" stroke-width="0.9"/>
<text x="281.6" y="321.4" font-size="8.4" fill="#3343b0" text-anchor="middle" stroke="#3343b0" stroke-width="0.25">7</text>
<line x1="305.7" y1="306.2" x2="305.7" y2="311" stroke="#111" stroke-width="0.9"/>
<text x="305.7" y="321.4" font-size="8.4" fill="#f0b43c" text-anchor="middle" stroke="#f0b43c" stroke-width="0.25">8</text>
<line x1="328.6" y1="306.2" x2="328.6" y2="311" stroke="#111" stroke-width="0.9"/>
<text x="328.6" y="321.4" font-size="8.4" fill="#d8262e" text-anchor="middle" stroke="#d8262e" stroke-width="0.25">9</text>
<line x1="352.9" y1="306.2" x2="352.9" y2="311" stroke="#111" stroke-width="0.9"/>
<text x="352.9" y="321.4" font-size="8.4" fill="#2fb868" text-anchor="middle" stroke="#2fb868" stroke-width="0.25">10</text>
<line x1="383.7" y1="306.2" x2="383.7" y2="311" stroke="#111" stroke-width="0.9"/>
<text x="383.7" y="321.4" font-size="8.4" fill="#3343b0" text-anchor="middle" stroke="#3343b0" stroke-width="0.25">11</text>
<line x1="419" y1="306.2" x2="419" y2="311" stroke="#111" stroke-width="0.9"/>
<text x="419" y="321.4" font-size="8.4" fill="#f0b43c" text-anchor="middle" stroke="#f0b43c" stroke-width="0.25">12</text>
<line x1="440.5" y1="306.2" x2="440.5" y2="311" stroke="#111" stroke-width="0.9"/>
<text x="440.5" y="321.4" font-size="8.4" fill="#d8262e" text-anchor="middle" stroke="#d8262e" stroke-width="0.25">13</text>
<line x1="456.8" y1="306.2" x2="456.8" y2="311" stroke="#111" stroke-width="0.9"/>
<text x="456.8" y="321.4" font-size="8.4" fill="#2fb868" text-anchor="middle" stroke="#2fb868" stroke-width="0.25">14</text>
<line x1="476.7" y1="306.2" x2="476.7" y2="311" stroke="#111" stroke-width="0.9"/>
<text x="476.7" y="321.4" font-size="8.4" fill="#3343b0" text-anchor="middle" stroke="#3343b0" stroke-width="0.25">15</text>
<line x1="500" y1="306.2" x2="500" y2="311" stroke="#111" stroke-width="0.9"/>
<text x="500" y="321.4" font-size="8.4" fill="#f0b43c" text-anchor="middle" stroke="#f0b43c" stroke-width="0.25">16</text>
<line x1="532.7" y1="306.2" x2="532.7" y2="311" stroke="#111" stroke-width="0.9"/>
<text x="532.7" y="321.4" font-size="8.4" fill="#d8262e" text-anchor="middle" stroke="#d8262e" stroke-width="0.25">17</text>
<line x1="554.9" y1="306.2" x2="554.9" y2="311" stroke="#111" stroke-width="0.9"/>
<text x="554.9" y="321.4" font-size="8.4" fill="#2fb868" text-anchor="middle" stroke="#2fb868" stroke-width="0.25">18</text>
<line x1="577.7" y1="306.2" x2="577.7" y2="311" stroke="#111" stroke-width="0.9"/>
<text x="577.7" y="321.4" font-size="8.4" fill="#3343b0" text-anchor="middle" stroke="#3343b0" stroke-width="0.25">19</text>
<line x1="605.3" y1="306.2" x2="605.3" y2="311" stroke="#111" stroke-width="0.9"/>
<text x="605.3" y="321.4" font-size="8.4" fill="#f0b43c" text-anchor="middle" stroke="#f0b43c" stroke-width="0.25">20</text>
<line x1="616.7" y1="306.2" x2="616.7" y2="311" stroke="#111" stroke-width="0.9"/>
<text x="616.7" y="321.4" font-size="8.4" fill="#d8262e" text-anchor="middle" stroke="#d8262e" stroke-width="0.25">21</text>
<line x1="628.6" y1="306.2" x2="628.6" y2="311" stroke="#111" stroke-width="0.9"/>
<text x="628.6" y="321.4" font-size="8.4" fill="#2fb868" text-anchor="middle" stroke="#2fb868" stroke-width="0.25">22</text>
<line x1="644.6" y1="306.2" x2="644.6" y2="311" stroke="#111" stroke-width="0.9"/>
<text x="644.6" y="321.4" font-size="8.4" fill="#3343b0" text-anchor="middle" stroke="#3343b0" stroke-width="0.25">X</text>
<line x1="654.5" y1="306.2" x2="654.5" y2="311" stroke="#111" stroke-width="0.9"/>
<text x="654.5" y="321.4" font-size="8.4" fill="#f0b43c" text-anchor="middle" stroke="#f0b43c" stroke-width="0.25">Y</text>
<text x="350" y="331.2" font-size="9.85" fill="#111" text-anchor="middle" stroke="#111" stroke-width="0.25">Human chromosome ID</text>
<text x="657.5" y="184" font-size="9.6" fill="#111" stroke="#111" stroke-width="0.25">GENE</text>
<text x="672.5" y="195.4" font-size="9.6" fill="#111" text-anchor="middle" stroke="#111" stroke-width="0.25">#</text>
<line x1="657.9" y1="196" x2="657.9" y2="267.5" stroke="#111" stroke-width="0.9"/>
<path d="M657.9,192.6 L660.1,198.6 L657.9,197.4 L655.7,198.6 Z" fill="#111"/>
<path d="M657.9,270.8 L655.7,264.8 L657.9,266 L660.1,264.8 Z" fill="#111"/>
<text x="664.9" y="232.2" font-size="9.4" fill="#111" stroke="#111" stroke-width="0.25">250</text>
<line x1="657.9" y1="276" x2="657.9" y2="302.5" stroke="#111" stroke-width="0.9"/>
<path d="M657.9,272.6 L660.1,278.6 L657.9,277.4 L655.7,278.6 Z" fill="#111"/>
<path d="M657.9,305.6 L655.7,299.6 L657.9,300.8 L660.1,299.6 Z" fill="#111"/>
<text x="659.9" y="291" font-size="9" fill="#111" stroke="#111" stroke-width="0.25">6,646</text>
<text x="9.6" y="340.6" font-size="12" fill="#000" font-weight="bold">d</text>
<text x="41.7" y="352.9" font-size="9.3" fill="#111" stroke="#111" stroke-width="0.25">Human fascia lata myoblast (AB1436)</text>
<line x1="55.7" y1="363.8" x2="55.7" y2="497.7" stroke="#333" stroke-width="0.9"/>
<line x1="55.7" y1="497.7" x2="179.9" y2="497.7" stroke="#333" stroke-width="0.9"/>
<line x1="53.3" y1="497.7" x2="55.7" y2="497.7" stroke="#333" stroke-width="0.9"/>
<text x="48.3" y="500.7" font-size="8.4" fill="#111" text-anchor="end" stroke="#111" stroke-width="0.25">0</text>
<line x1="53.3" y1="471.02" x2="55.7" y2="471.02" stroke="#333" stroke-width="0.9"/>
<text x="48.3" y="474.02" font-size="8.4" fill="#111" text-anchor="end" stroke="#111" stroke-width="0.25">0.2</text>
<line x1="53.3" y1="444.34" x2="55.7" y2="444.34" stroke="#333" stroke-width="0.9"/>
<text x="48.3" y="447.34" font-size="8.4" fill="#111" text-anchor="end" stroke="#111" stroke-width="0.25">0.4</text>
<line x1="53.3" y1="417.66" x2="55.7" y2="417.66" stroke="#333" stroke-width="0.9"/>
<text x="48.3" y="420.66" font-size="8.4" fill="#111" text-anchor="end" stroke="#111" stroke-width="0.25">0.6</text>
<line x1="53.3" y1="390.98" x2="55.7" y2="390.98" stroke="#333" stroke-width="0.9"/>
<text x="48.3" y="393.98" font-size="8.4" fill="#111" text-anchor="end" stroke="#111" stroke-width="0.25">0.8</text>
<line x1="53.3" y1="364.3" x2="55.7" y2="364.3" stroke="#333" stroke-width="0.9"/>
<text x="48.3" y="367.3" font-size="8.4" fill="#111" text-anchor="end" stroke="#111" stroke-width="0.25">1.0</text>
<line x1="55.7" y1="497.7" x2="55.7" y2="500.1" stroke="#333" stroke-width="0.9"/>
<text x="55.7" y="510.9" font-size="8.4" fill="#111" text-anchor="middle" stroke="#111" stroke-width="0.25">0</text>
<line x1="86.65" y1="497.7" x2="86.65" y2="500.1" stroke="#333" stroke-width="0.9"/>
<text x="86.65" y="510.9" font-size="8.4" fill="#111" text-anchor="middle" stroke="#111" stroke-width="0.25">1</text>
<line x1="117.6" y1="497.7" x2="117.6" y2="500.1" stroke="#333" stroke-width="0.9"/>
<text x="117.6" y="510.9" font-size="8.4" fill="#111" text-anchor="middle" stroke="#111" stroke-width="0.25">2</text>
<line x1="148.55" y1="497.7" x2="148.55" y2="500.1" stroke="#333" stroke-width="0.9"/>
<text x="148.55" y="510.9" font-size="8.4" fill="#111" text-anchor="middle" stroke="#111" stroke-width="0.25">3</text>
<line x1="179.5" y1="497.7" x2="179.5" y2="500.1" stroke="#333" stroke-width="0.9"/>
<text x="179.5" y="510.9" font-size="8.4" fill="#111" text-anchor="middle" stroke="#111" stroke-width="0.25">4</text>
<text x="62.7" y="522.5" font-size="9.25" fill="#111" stroke="#111" stroke-width="0.25">Fold change (Killer/Control)</text>
<text x="0" y="0" font-size="9.35" fill="#111" text-anchor="middle" stroke="#111" stroke-width="0.25" transform="translate(23.6,429.9) rotate(-90)" >Cumulative fraction of gRNA</text>
<path d="M76.13,497.7 L82.01,496.37 L84.17,492.36 L85.72,471.02 L87.27,444.34 L88.51,431 L89.75,404.32 L91.6,377.64 L94.7,368.3 L99.96,364.3" fill="none" stroke="#ffb52e" stroke-width="2.2" stroke-linejoin="round" stroke-linecap="round"/>
<path d="M105.22,362.9 l1.3,2.2 l-2.6,0 Z" fill="#ffb52e"/>
<path d="M109.86,362.9 l1.3,2.2 l-2.6,0 Z" fill="#ffb52e"/>
<path d="M116.05,362.9 l1.3,2.2 l-2.6,0 Z" fill="#ffb52e"/>
<path d="M126.88,362.9 l1.3,2.2 l-2.6,0 Z" fill="#ffb52e"/>
<path d="M131.53,362.9 l1.3,2.2 l-2.6,0 Z" fill="#ffb52e"/>
<path d="M137.41,362.9 l1.3,2.2 l-2.6,0 Z" fill="#ffb52e"/>
<path d="M82.32,497.7 L83.25,493.7 L84.17,481.69 L85.1,451.01 L85.72,431 L86.65,404.32 L88.2,380.31 L89.75,369.64 L91.29,364.3" fill="none" stroke="#ff5418" stroke-width="2.1" stroke-linejoin="round" stroke-linecap="round"/>
<path d="M89.44,497.7 L97.79,484.36 L100.58,471.02 L105.22,444.34 L109.86,417.66 L112.96,404.32 L117.6,390.98 L123.79,384.31 L131.53,377.64 L138.03,370.97 L147.93,364.3" fill="none" stroke="#1fe01f" stroke-width="2.3" stroke-linejoin="round" stroke-linecap="round"/>
<path d="M151.65,362.9 l1.3,2.2 l-2.6,0 Z" fill="#1fe01f"/>
<path d="M157.83,362.9 l1.3,2.2 l-2.6,0 Z" fill="#1fe01f"/>
<path d="M165.57,362.9 l1.3,2.2 l-2.6,0 Z" fill="#1fe01f"/>
<path d="M179.19,362.9 l1.3,2.2 l-2.6,0 Z" fill="#1fe01f"/>
<path d="M88.51,497.7 L96.86,484.36 L99.96,471.02 L104.6,444.34 L109.24,417.66 L112.34,404.32 L118.53,390.98 L123.79,384.31 L131.22,377.64 L137.41,370.97 L147,365.63 L156.29,364.3" fill="none" stroke="#ff1fe0" stroke-width="2.3" stroke-linejoin="round" stroke-linecap="round"/>
<path d="M84.17,497.7 L92.53,484.36 L96.86,471.02 L101.51,444.34 L106.15,417.66 L109.24,404.32 L112.34,390.98 L116.05,384.31 L121.93,377.64 L128.12,370.97 L134.62,366.97 L140.5,364.3" fill="none" stroke="#4d8fd6" stroke-width="2.3" stroke-linejoin="round" stroke-linecap="round"/>
<circle cx="55.7" cy="497.7" r="1.1" fill="#ff5418"/>
<circle cx="66.53" cy="497.7" r="1.1" fill="#ffb52e"/>
<path d="M124.2,408.7 l3.6,6.8 l-7.2,0 Z" fill="#1fe01f"/>
<text x="132.4" y="415.6" font-size="9.1" fill="#111" stroke="#111" stroke-width="0.25">Hits, gRNA set 1</text>
<path d="M124.2,425.3 l3.6,6.8 l-7.2,0 Z" fill="#ff1fe0"/>
<text x="132.4" y="432.2" font-size="9.1" fill="#111" stroke="#111" stroke-width="0.25">Hits, gRNA set 2</text>
<path d="M124.2,441.9 l3.6,6.8 l-7.2,0 Z" fill="#4d8fd6"/>
<text x="132.4" y="448.8" font-size="9.1" fill="#111" stroke="#111" stroke-width="0.25">Hits, gRNA set 3</text>
<path d="M124.2,458.5 l3.6,6.8 l-7.2,0 Z" fill="#ff5418"/>
<text x="132.4" y="465.4" font-size="9.1" fill="#111" stroke="#111" stroke-width="0.25">non-targeting gRNA</text>
<ellipse cx="124.2" cy="478.5" rx="3.3" ry="3.7" fill="#ffb52e"/>
<text x="132.4" y="481.8" font-size="9.1" fill="#111" stroke="#111" stroke-width="0.25">Non-hit genes</text>
<text x="226.5" y="340.6" font-size="12" fill="#000" font-weight="bold">e</text>
<text x="263.8" y="352.9" font-size="9.3" fill="#111" stroke="#111" stroke-width="0.25">Human quadriceps myoblast (AB1023)</text>
<line x1="276.9" y1="364.4" x2="276.9" y2="497.7" stroke="#333" stroke-width="0.9"/>
<line x1="276.9" y1="497.7" x2="401.1" y2="497.7" stroke="#333" stroke-width="0.9"/>
<line x1="274.5" y1="497.7" x2="276.9" y2="497.7" stroke="#333" stroke-width="0.9"/>
<text x="269.5" y="500.7" font-size="8.4" fill="#111" text-anchor="end" stroke="#111" stroke-width="0.25">0</text>
<line x1="274.5" y1="471.14" x2="276.9" y2="471.14" stroke="#333" stroke-width="0.9"/>
<text x="269.5" y="474.14" font-size="8.4" fill="#111" text-anchor="end" stroke="#111" stroke-width="0.25">0.2</text>
<line x1="274.5" y1="444.58" x2="276.9" y2="444.58" stroke="#333" stroke-width="0.9"/>
<text x="269.5" y="447.58" font-size="8.4" fill="#111" text-anchor="end" stroke="#111" stroke-width="0.25">0.4</text>
<line x1="274.5" y1="418.02" x2="276.9" y2="418.02" stroke="#333" stroke-width="0.9"/>
<text x="269.5" y="421.02" font-size="8.4" fill="#111" text-anchor="end" stroke="#111" stroke-width="0.25">0.6</text>
<line x1="274.5" y1="391.46" x2="276.9" y2="391.46" stroke="#333" stroke-width="0.9"/>
<text x="269.5" y="394.46" font-size="8.4" fill="#111" text-anchor="end" stroke="#111" stroke-width="0.25">0.8</text>
<line x1="274.5" y1="364.9" x2="276.9" y2="364.9" stroke="#333" stroke-width="0.9"/>
<text x="269.5" y="367.9" font-size="8.4" fill="#111" text-anchor="end" stroke="#111" stroke-width="0.25">1.0</text>
<line x1="276.9" y1="497.7" x2="276.9" y2="500.1" stroke="#333" stroke-width="0.9"/>
<text x="276.9" y="510.9" font-size="8.4" fill="#111" text-anchor="middle" stroke="#111" stroke-width="0.25">0</text>
<line x1="307.85" y1="497.7" x2="307.85" y2="500.1" stroke="#333" stroke-width="0.9"/>
<text x="307.85" y="510.9" font-size="8.4" fill="#111" text-anchor="middle" stroke="#111" stroke-width="0.25">1</text>
<line x1="338.8" y1="497.7" x2="338.8" y2="500.1" stroke="#333" stroke-width="0.9"/>
<text x="338.8" y="510.9" font-size="8.4" fill="#111" text-anchor="middle" stroke="#111" stroke-width="0.25">2</text>
<line x1="369.75" y1="497.7" x2="369.75" y2="500.1" stroke="#333" stroke-width="0.9"/>
<text x="369.75" y="510.9" font-size="8.4" fill="#111" text-anchor="middle" stroke="#111" stroke-width="0.25">3</text>
<line x1="400.7" y1="497.7" x2="400.7" y2="500.1" stroke="#333" stroke-width="0.9"/>
<text x="400.7" y="510.9" font-size="8.4" fill="#111" text-anchor="middle" stroke="#111" stroke-width="0.25">4</text>
<text x="284.2" y="521.3" font-size="9.25" fill="#111" stroke="#111" stroke-width="0.25">Fold change (Killer/Control)</text>
<text x="0" y="0" font-size="9.65" fill="#111" text-anchor="middle" stroke="#111" stroke-width="0.25" transform="translate(246.5,428.9) rotate(-90)" >Cumulative fraction of gRNA</text>
<path d="M301.04,497.7 L304.14,491.06 L305.37,471.14 L306.3,431.3 L307.23,398.1 L308.47,380.84 L310.94,371.54 L314.04,367.56 L318.06,364.9" fill="none" stroke="#ffb52e" stroke-width="2.2" stroke-linejoin="round" stroke-linecap="round"/>
<path d="M327.97,363.5 l1.3,2.2 l-2.6,0 Z" fill="#ffb52e"/>
<path d="M338.8,363.5 l1.3,2.2 l-2.6,0 Z" fill="#ffb52e"/>
<path d="M341.89,363.5 l1.3,2.2 l-2.6,0 Z" fill="#ffb52e"/>
<path d="M345.61,363.5 l1.3,2.2 l-2.6,0 Z" fill="#ffb52e"/>
<path d="M302.9,497.7 L304.14,491.06 L304.75,457.86 L305.37,418.02 L305.99,384.82 L307.23,371.54 L310.33,364.9" fill="none" stroke="#ff5418" stroke-width="2.1" stroke-linejoin="round" stroke-linecap="round"/>
<path d="M291.76,497.7 L303.21,492.39 L314.04,471.14 L324.25,444.58 L332.61,418.02 L343.44,391.46 L354.89,378.18 L367.27,371.54 L379.03,367.56 L393.27,364.9" fill="none" stroke="#1fe01f" stroke-width="2.3" stroke-linejoin="round" stroke-linecap="round"/>
<path d="M295.47,497.7 L303.21,491.06 L311.87,471.14 L321.47,444.58 L329.21,418.02 L340.97,391.46 L349.63,378.18 L358.3,371.54 L369.75,366.23 L379.34,364.9" fill="none" stroke="#ff1fe0" stroke-width="2.3" stroke-linejoin="round" stroke-linecap="round"/>
<path d="M293.92,497.7 L301.66,491.06 L309.4,471.14 L318.06,444.58 L325.18,418.02 L335.7,391.46 L342.51,378.18 L353.04,371.54 L363.56,364.9" fill="none" stroke="#4d8fd6" stroke-width="2.3" stroke-linejoin="round" stroke-linecap="round"/>
<path d="M379.03,363.5 l1.3,2.2 l-2.6,0 Z" fill="#4d8fd6"/>
<path d="M398.53,363.5 l1.3,2.2 l-2.6,0 Z" fill="#4d8fd6"/>
<path d="M347,409.6 l3.6,6.8 l-7.2,0 Z" fill="#1fe01f"/>
<text x="355.2" y="416.5" font-size="9.1" fill="#111" stroke="#111" stroke-width="0.25">Hits, gRNA set 1</text>
<path d="M347,425.6 l3.6,6.8 l-7.2,0 Z" fill="#ff1fe0"/>
<text x="355.2" y="432.5" font-size="9.1" fill="#111" stroke="#111" stroke-width="0.25">Hits, gRNA set 2</text>
<path d="M347,441.4 l3.6,6.8 l-7.2,0 Z" fill="#4d8fd6"/>
<text x="355.2" y="448.3" font-size="9.1" fill="#111" stroke="#111" stroke-width="0.25">Hits, gRNA set 3</text>
<path d="M347,458 l3.6,6.8 l-7.2,0 Z" fill="#ff5418"/>
<text x="355.2" y="464.9" font-size="9.1" fill="#111" stroke="#111" stroke-width="0.25">non-targeting gRNA</text>
<ellipse cx="347" cy="478" rx="3.3" ry="3.7" fill="#ffb52e"/>
<text x="355.2" y="481.3" font-size="9.1" fill="#111" stroke="#111" stroke-width="0.25">Non-hit genes</text>
<text x="448.6" y="340.6" font-size="12" fill="#000" font-weight="bold">f</text>
<text x="506.6" y="352.9" font-size="9.3" fill="#111" stroke="#111" stroke-width="0.25">Mouse primary myoblast</text>
<line x1="496.4" y1="363.8" x2="496.4" y2="496.9" stroke="#333" stroke-width="0.9"/>
<line x1="496.4" y1="496.9" x2="612.9" y2="496.9" stroke="#333" stroke-width="0.9"/>
<line x1="494" y1="496.9" x2="496.4" y2="496.9" stroke="#333" stroke-width="0.9"/>
<text x="489" y="499.9" font-size="8.4" fill="#111" text-anchor="end" stroke="#111" stroke-width="0.25">0</text>
<line x1="494" y1="470.38" x2="496.4" y2="470.38" stroke="#333" stroke-width="0.9"/>
<text x="489" y="473.38" font-size="8.4" fill="#111" text-anchor="end" stroke="#111" stroke-width="0.25">0.2</text>
<line x1="494" y1="443.86" x2="496.4" y2="443.86" stroke="#333" stroke-width="0.9"/>
<text x="489" y="446.86" font-size="8.4" fill="#111" text-anchor="end" stroke="#111" stroke-width="0.25">0.4</text>
<line x1="494" y1="417.34" x2="496.4" y2="417.34" stroke="#333" stroke-width="0.9"/>
<text x="489" y="420.34" font-size="8.4" fill="#111" text-anchor="end" stroke="#111" stroke-width="0.25">0.6</text>
<line x1="494" y1="390.82" x2="496.4" y2="390.82" stroke="#333" stroke-width="0.9"/>
<text x="489" y="393.82" font-size="8.4" fill="#111" text-anchor="end" stroke="#111" stroke-width="0.25">0.8</text>
<line x1="494" y1="364.3" x2="496.4" y2="364.3" stroke="#333" stroke-width="0.9"/>
<text x="489" y="367.3" font-size="8.4" fill="#111" text-anchor="end" stroke="#111" stroke-width="0.25">1.0</text>
<line x1="496.4" y1="496.9" x2="496.4" y2="499.3" stroke="#333" stroke-width="0.9"/>
<text x="496.4" y="510.9" font-size="8.4" fill="#111" text-anchor="middle" stroke="#111" stroke-width="0.25">0</text>
<line x1="519.62" y1="496.9" x2="519.62" y2="499.3" stroke="#333" stroke-width="0.9"/>
<text x="519.62" y="510.9" font-size="8.4" fill="#111" text-anchor="middle" stroke="#111" stroke-width="0.25">1</text>
<line x1="542.84" y1="496.9" x2="542.84" y2="499.3" stroke="#333" stroke-width="0.9"/>
<text x="542.84" y="510.9" font-size="8.4" fill="#111" text-anchor="middle" stroke="#111" stroke-width="0.25">2</text>
<line x1="566.06" y1="496.9" x2="566.06" y2="499.3" stroke="#333" stroke-width="0.9"/>
<text x="566.06" y="510.9" font-size="8.4" fill="#111" text-anchor="middle" stroke="#111" stroke-width="0.25">3</text>
<line x1="589.28" y1="496.9" x2="589.28" y2="499.3" stroke="#333" stroke-width="0.9"/>
<text x="589.28" y="510.9" font-size="8.4" fill="#111" text-anchor="middle" stroke="#111" stroke-width="0.25">4</text>
<line x1="612.5" y1="496.9" x2="612.5" y2="499.3" stroke="#333" stroke-width="0.9"/>
<text x="612.5" y="510.9" font-size="8.4" fill="#111" text-anchor="middle" stroke="#111" stroke-width="0.25">5</text>
<text x="499" y="522.6" font-size="9.25" fill="#111" stroke="#111" stroke-width="0.25">Fold change (Killer/Control)</text>
<text x="0" y="0" font-size="9.25" fill="#111" text-anchor="middle" stroke="#111" stroke-width="0.25" transform="translate(467.6,431.2) rotate(-90)" >Cumulative fraction of gRNA</text>
<path d="M503.6,496.9 L504.53,495.57 L512.89,495.57 L514.51,483.64 L515.44,470.38 L516.37,443.86 L517.53,417.34 L518.46,390.82 L520.08,380.21 L521.71,374.91 L524.26,368.28 L526.35,364.3" fill="none" stroke="#ff5418" stroke-width="2.1" stroke-linejoin="round" stroke-linecap="round"/>
<path d="M548.18,362.9 l1.3,2.2 l-2.6,0 Z" fill="#ff5418"/>
<path d="M514.05,496.9 L521.25,483.64 L524.26,470.38 L527.51,457.12 L530.53,443.86 L534.02,430.6 L538.89,417.34 L543.07,410.71 L550.27,404.08 L560.72,397.45 L571.17,390.82 L581.62,384.19 L589.98,380.21 L602.52,377.56 L610.64,374.91" fill="none" stroke="#1fe01f" stroke-width="2.3" stroke-linejoin="round" stroke-linecap="round"/>
<path d="M510.8,496.9 L517.99,483.64 L520.78,470.38 L523.34,457.12 L526.35,443.86 L529.14,430.6 L532.62,417.34 L536.8,404.08 L540.98,397.45 L546.09,390.82 L552.36,388.17 L560.72,384.19 L571.17,380.21 L577.44,377.56 L589.98,373.58 L608.55,369.6" fill="none" stroke="#ff1fe0" stroke-width="2.3" stroke-linejoin="round" stroke-linecap="round"/>
<path d="M507.78,496.9 L514.98,483.64 L517.53,470.38 L520.08,457.12 L521.71,443.86 L524.26,430.6 L527.05,417.34 L530.53,404.08 L533.78,397.45 L538.89,390.82 L545.16,384.19 L552.36,380.21 L559.79,377.56 L569.08,373.58 L577.44,370.93 L589.98,368.28" fill="none" stroke="#4d8fd6" stroke-width="2.3" stroke-linejoin="round" stroke-linecap="round"/>
<path d="M596.25,365.55 l1.3,2.2 l-2.6,0 Z" fill="#4d8fd6"/>
<path d="M603.44,365.55 l1.3,2.2 l-2.6,0 Z" fill="#4d8fd6"/>
<path d="M606.69,364.23 l1.3,2.2 l-2.6,0 Z" fill="#4d8fd6"/>
<path d="M554.1,425.9 l3.6,6.8 l-7.2,0 Z" fill="#1fe01f"/>
<text x="562.3" y="432.8" font-size="9.1" fill="#111" stroke="#111" stroke-width="0.25">Hits, gRNA set 1</text>
<path d="M554.1,441 l3.6,6.8 l-7.2,0 Z" fill="#ff1fe0"/>
<text x="562.3" y="447.9" font-size="9.1" fill="#111" stroke="#111" stroke-width="0.25">Hits, gRNA set 2</text>
<path d="M554.1,456.5 l3.6,6.8 l-7.2,0 Z" fill="#4d8fd6"/>
<text x="562.3" y="463.4" font-size="9.1" fill="#111" stroke="#111" stroke-width="0.25">Hits, gRNA set 3</text>
<path d="M554.1,471.9 l3.6,6.8 l-7.2,0 Z" fill="#ff5418"/>
<text x="562.3" y="478.8" font-size="9.1" fill="#111" stroke="#111" stroke-width="0.25">non-targeting gRNA</text>
<text x="9.4" y="539.3" font-size="12" fill="#000" font-weight="bold">g</text>
<text x="115.4" y="543.4" font-size="9.3" fill="#111" text-anchor="middle" stroke="#111" stroke-width="0.25">Human paravertebral myoblast</text>
<text x="115.4" y="553.9" font-size="9.3" fill="#111" text-anchor="middle" stroke="#111" stroke-width="0.25">(AB1190)</text>
<text x="110.8" y="564.4" font-size="8.15" fill="#111" stroke="#111" stroke-width="0.25">p &lt; 0.0001</text>
<line x1="64.8" y1="562.2" x2="64.8" y2="685.3" stroke="#333" stroke-width="0.9"/>
<line x1="64.8" y1="685" x2="151.8" y2="685" stroke="#333" stroke-width="0.9"/>
<line x1="60.4" y1="684.8" x2="64.8" y2="684.8" stroke="#333" stroke-width="0.9"/>
<text x="55.9" y="688" font-size="9" fill="#111" text-anchor="end" stroke="#111" stroke-width="0.25">0</text>
<line x1="60.4" y1="664.45" x2="64.8" y2="664.45" stroke="#333" stroke-width="0.9"/>
<text x="55.9" y="667.65" font-size="9" fill="#111" text-anchor="end" stroke="#111" stroke-width="0.25">20</text>
<line x1="60.4" y1="644.1" x2="64.8" y2="644.1" stroke="#333" stroke-width="0.9"/>
<text x="55.9" y="647.3" font-size="9" fill="#111" text-anchor="end" stroke="#111" stroke-width="0.25">40</text>
<line x1="60.4" y1="623.75" x2="64.8" y2="623.75" stroke="#333" stroke-width="0.9"/>
<text x="55.9" y="626.95" font-size="9" fill="#111" text-anchor="end" stroke="#111" stroke-width="0.25">60</text>
<line x1="60.4" y1="603.4" x2="64.8" y2="603.4" stroke="#333" stroke-width="0.9"/>
<text x="55.9" y="606.6" font-size="9" fill="#111" text-anchor="end" stroke="#111" stroke-width="0.25">80</text>
<line x1="60.4" y1="583.05" x2="64.8" y2="583.05" stroke="#333" stroke-width="0.9"/>
<text x="55.9" y="586.25" font-size="9" fill="#111" text-anchor="end" stroke="#111" stroke-width="0.25">100</text>
<line x1="60.4" y1="562.7" x2="64.8" y2="562.7" stroke="#333" stroke-width="0.9"/>
<text x="55.9" y="565.9" font-size="9" fill="#111" text-anchor="end" stroke="#111" stroke-width="0.25">120</text>
<line x1="90.9" y1="685" x2="90.9" y2="687.6" stroke="#333" stroke-width="0.9"/>
<line x1="130.8" y1="685" x2="130.8" y2="687.6" stroke="#333" stroke-width="0.9"/>
<text x="0" y="0" font-size="9.1" fill="#111" text-anchor="middle" stroke="#111" stroke-width="0.25" transform="translate(34.3,622) rotate(-90)">Mononucleated muscle cells (%)</text>
<text x="0" y="0" font-size="9.6" fill="#111" text-anchor="end" stroke="#111" stroke-width="0.25" transform="translate(94.3,696.4) rotate(-33)">Control</text>
<text x="0" y="0" font-size="9.6" fill="#111" text-anchor="end" stroke="#111" stroke-width="0.25" transform="translate(133,697.4) rotate(-33)">Screen hits</text>
<line x1="90.9" y1="630.2" x2="90.9" y2="635" stroke="#ff55cf" stroke-width="1"/>
<line x1="90.9" y1="666" x2="90.9" y2="672.2" stroke="#ff55cf" stroke-width="1"/>
<path d="M90.9,634.5 L92.4,635.8 L94.3,637.4 L95.1,639.2 L94.3,641.2 L92.4,642.8 L91.7,643.8 L92.5,645.2 L94.5,647.6 L96.5,650 L99.9,652.5 L102.7,655 L104.1,658 L102.9,660.5 L99.9,662.5 L95.9,664.4 L92.9,665.8 L90.9,666.6 L90.9,666.6 L88.9,665.8 L85.9,664.4 L81.9,662.5 L78.9,660.5 L77.7,658 L79.1,655 L81.9,652.5 L85.3,650 L87.3,647.6 L89.3,645.2 L90.1,643.8 L89.4,642.8 L87.5,641.2 L86.7,639.2 L87.5,637.4 L89.4,635.8 L90.9,634.5 Z" fill="#fff" stroke="#ff55cf" stroke-width="1"/>
<line x1="84.9" y1="651.4" x2="96.9" y2="651.4" stroke="#c8c8c8" stroke-width="0.8"/>
<line x1="79.9" y1="659.7" x2="101.9" y2="659.7" stroke="#c8c8c8" stroke-width="0.8"/>
<line x1="78.4" y1="656.4" x2="103.4" y2="656.4" stroke="#222" stroke-width="0.8" stroke-dasharray="1.6,1"/>
<path d="M90.8 637.8h0M90.8 639.6h0M87.7 651.0h0M93.9 649.6h0M81.8 654.8h0M87.7 655.5h0M93.6 654.8h0M81.8 658.3h0M87.7 657.9h0M93.6 656.6h0M82.1 659.7h0M87.7 660.4h0M93.9 661.1h0M99.8 660.0h0M90.8 664.2h0" stroke="#f0349a" stroke-width="2.3" stroke-linecap="round" fill="none"/>
<line x1="130.6" y1="570.2" x2="130.6" y2="574.8" stroke="#35f0b0" stroke-width="1"/>
<line x1="130.6" y1="648.4" x2="130.6" y2="653.8" stroke="#35f0b0" stroke-width="1"/>
<path d="M130.6,574.3 L131.8,576.2 L134.1,578.6 L137.6,580.6 L141.1,582.2 L143.1,583.3 L139.2,585.6 L138.2,590 L138.4,596 L139.4,603 L140.1,610 L140.4,616 L139.9,622 L139,627 L140.2,631 L142.6,634.5 L143.6,638 L142.6,641 L139.1,644 L135.1,646.5 L132.1,648.2 L130.6,648.8 L130.6,648.8 L129.1,648.2 L126.1,646.5 L122.1,644 L118.6,641 L117.6,638 L118.6,634.5 L121,631 L122.2,627 L121.3,622 L120.8,616 L121.1,610 L121.8,603 L122.8,596 L123,590 L122,585.6 L118.1,583.3 L120.1,582.2 L123.6,580.6 L127.1,578.6 L129.4,576.2 L130.6,574.3 Z" fill="#fff" stroke="#35f0b0" stroke-width="1"/>
<line x1="117.2" y1="583.3" x2="143.8" y2="583.3" stroke="#20eea0" stroke-width="1.7"/>
<path d="M134.8 621.7h0M135.3 595.1h0M139.6 635.8h0M125.8 626.8h0M131.2 605.9h0M127.2 598.4h0M135.5 641.5h0M123.3 640.0h0M124.2 602.1h0M127.4 589.3h0M128.2 596.6h0M132.6 592.9h0M134.0 641.8h0M128.3 596.8h0M125.9 603.3h0M132.5 633.8h0M127.1 638.5h0M130.2 640.2h0M134.8 636.0h0M122.6 642.2h0M124.3 625.0h0M131.7 609.7h0M126.0 630.6h0M133.5 589.2h0M128.8 597.4h0M136.3 636.6h0M136.8 639.4h0M136.0 599.2h0M132.7 634.3h0M135.2 590.7h0M128.0 608.0h0M125.4 631.0h0M125.8 629.9h0M131.2 642.3h0M131.9 605.6h0M129.4 612.6h0M121.9 641.5h0M125.7 624.8h0M132.3 628.4h0M129.8 601.4h0M126.5 640.6h0M135.6 630.0h0M130.5 592.0h0M127.5 613.3h0M129.0 602.7h0M132.1 597.6h0M124.7 608.8h0M138.1 639.8h0M134.4 623.2h0M134.4 619.2h0M127.4 620.5h0M133.3 622.6h0M133.2 641.8h0M131.2 598.4h0M129.8 638.4h0M135.0 618.7h0M135.7 638.1h0M135.6 609.2h0M135.9 594.6h0M130.9 592.7h0M139.3 640.5h0M133.8 620.1h0M134.3 603.5h0M129.4 619.3h0M132.5 622.8h0M126.5 598.9h0M126.5 618.8h0M123.8 618.2h0M124.5 605.2h0M124.6 634.0h0M130.1 630.4h0M131.9 617.6h0M121.2 641.3h0M129.3 606.9h0M128.1 640.4h0M121.9 637.7h0M131.8 608.9h0M129.7 596.0h0M128.7 618.6h0M132.0 637.4h0M131.9 597.6h0M121.0 641.2h0M133.0 637.1h0M139.0 637.9h0M126.6 611.8h0M128.6 642.2h0M131.7 597.1h0M130.5 642.3h0M137.5 608.2h0M130.3 607.2h0M129.4 637.8h0M137.3 639.8h0M125.9 636.7h0M127.8 595.6h0M138.5 631.9h0M130.1 637.6h0M134.2 617.3h0M126.5 639.5h0M127.7 608.8h0M128.5 612.9h0M123.6 616.9h0M139.0 635.7h0M125.3 593.0h0M131.7 611.7h0M130.3 618.2h0M129.4 591.2h0M127.9 604.3h0M134.8 600.1h0M127.4 611.9h0M126.1 627.1h0M130.6 615.6h0M132.0 631.9h0M127.3 600.2h0M132.8 623.3h0M140.6 639.0h0M125.6 594.7h0M132.6 605.0h0M126.5 594.8h0M124.1 641.5h0M125.6 611.2h0M125.8 599.4h0M125.1 600.3h0M136.0 621.8h0M126.9 635.4h0M137.2 613.7h0M133.0 599.8h0M130.7 637.9h0M131.9 593.1h0M125.4 636.9h0M125.1 614.5h0M135.3 634.6h0M133.9 638.9h0M121.9 638.3h0M125.0 637.4h0M128.7 592.3h0M133.3 598.9h0M137.8 631.9h0M125.4 605.1h0M134.2 594.3h0M127.5 637.8h0M132.8 634.2h0M123.4 634.8h0M135.1 618.7h0M130.8 625.3h0M134.2 616.3h0M124.7 601.1h0M136.2 630.5h0M123.6 622.3h0M132.1 626.5h0M124.6 612.9h0M128.6 632.0h0M126.2 626.2h0M124.4 633.5h0M130.3 632.9h0M128.2 641.6h0M132.5 594.6h0M125.6 628.3h0M133.1 607.3h0M126.6 603.2h0M123.3 632.9h0M128.7 629.2h0M126.2 635.9h0M125.8 621.0h0M140.0 638.4h0M137.6 611.8h0M134.7 630.8h0M131.2 599.4h0M129.0 592.7h0M136.5 630.9h0M124.8 627.9h0M129.1 630.6h0M129.0 633.2h0M123.9 630.6h0M130.7 589.0h0M124.3 615.0h0" stroke="#12ec94" stroke-width="2.5" stroke-linecap="round" fill="none"/>
<line x1="123.4" y1="597" x2="137.8" y2="597" stroke="#aaa" stroke-width="0.8"/>
<line x1="122.6" y1="629.3" x2="138.6" y2="629.3" stroke="#aaa" stroke-width="0.8"/>
<line x1="120.1" y1="615.3" x2="141.1" y2="615.3" stroke="#222" stroke-width="0.8" stroke-dasharray="1.6,1"/>
<text x="211.2" y="538.8" font-size="12" fill="#000" font-weight="bold">h</text>
<text x="285" y="542.4" font-size="9.3" fill="#111" text-anchor="middle" stroke="#111" stroke-width="0.25">Non-targeting gRNA1</text>
<text x="388.2" y="542.4" font-size="9.3" fill="#111" text-anchor="middle" stroke="#111" stroke-width="0.25">Non-targeting gRNA2</text>
<text x="492.2" y="542.4" font-size="9.3" fill="#111" text-anchor="middle" stroke="#111" stroke-width="0.25">CHAMP1</text>
<text x="596" y="542.4" font-size="9.3" fill="#111" text-anchor="middle" stroke="#111" stroke-width="0.25">MYMK</text>
<text x="285.2" y="640.6" font-size="9.3" fill="#111" text-anchor="middle" stroke="#111" stroke-width="0.25">METTL14</text>
<text x="388" y="640.6" font-size="9.3" fill="#111" text-anchor="middle" stroke="#111" stroke-width="0.25">C16ORF72</text>
<text x="492.2" y="640.6" font-size="9.3" fill="#111" text-anchor="middle" stroke="#111" stroke-width="0.25">NAA38</text>
<text x="596" y="640.6" font-size="9.3" fill="#111" text-anchor="middle" stroke="#111" stroke-width="0.25">HMGB1</text>
<text transform="translate(229.9,582.4) rotate(-90)" font-size="9.2" text-anchor="middle"><tspan fill="#e8202a" stroke="#e8202a" stroke-width="0.25">Myosin</tspan> <tspan fill="#3cb44a" stroke="#3cb44a" stroke-width="0.25">Hoechst</tspan></text>
<text transform="translate(229.9,681.5) rotate(-90)" font-size="9.2" text-anchor="middle"><tspan fill="#e8202a" stroke="#e8202a" stroke-width="0.25">Myosin</tspan> <tspan fill="#3cb44a" stroke="#3cb44a" stroke-width="0.25">Hoechst</tspan></text>
<svg x="234" y="546" width="102" height="76" viewBox="0 0 102 76" overflow="hidden"><rect width="102" height="76" fill="#a80c00"/><g filter="url(#bl)"><path d="M15.8 41.4L27.5 42.2M23.3 1.0L34.2 -5.7M62.4 -2.8L70.2 0.3M94.8 30.8L105.0 23.5M27.0 6.6L40.6 4.7M-0.1 22.5L9.8 18.0M19.2 27.2L27.0 18.4M35.1 52.1L38.0 46.7M96.0 23.0L105.4 21.6M26.4 67.3L31.0 70.4M62.7 38.8L68.4 36.1M55.9 28.5L68.1 34.6M90.0 60.2L96.9 57.1" stroke="#ff5000" stroke-width="2" stroke-linecap="round" fill="none" opacity="0.85"/><path d="M19.6 16.6L28.5 13.7M87.5 51.1L91.5 54.7M64.2 58.0L70.5 57.6M51.8 71.9L64.7 74.6M22.9 12.9L31.5 13.0M-3.7 60.7L2.7 57.5M92.0 65.3L102.5 63.8M1.7 28.1L16.7 22.5M38.6 5.3L40.1 13.0" stroke="#ff3a00" stroke-width="2" stroke-linecap="round" fill="none" opacity="0.85"/><path d="M62.8 70.1L69.4 69.2M25.6 78.0L34.7 76.9M-3.7 18.1L4.9 18.6M-2.9 -0.4L2.8 6.2M44.5 66.9L50.3 66.6M45.1 45.8L49.7 51.3M16.1 8.5L25.4 15.9M45.1 30.8L46.3 41.4M20.6 50.2L26.9 47.8M72.1 58.6L83.8 63.8M60.5 38.3L73.0 38.1M52.8 8.5L67.0 7.1" stroke="#ff2400" stroke-width="2" stroke-linecap="round" fill="none" opacity="0.85"/><path d="M67.9 27.2L74.0 26.2M57.8 7.3L64.8 7.9M79.9 0.9L85.2 -5.7M2.1 33.7L12.3 25.0M97.1 29.3L104.1 34.9M50.7 10.3L59.3 8.2M-0.7 34.7L6.2 28.5M-9.6 12.5L3.6 7.9M60.7 60.3L65.2 50.4M7.2 -4.0L17.2 -0.6M95.3 34.0L102.2 28.5M69.4 7.9L80.9 14.1M67.1 25.5L80.0 24.4M-7.5 41.1L0.1 42.7M76.8 55.3L83.3 52.8" stroke="#ff1800" stroke-width="2" stroke-linecap="round" fill="none" opacity="0.85"/><path d="M76.7 67.3L87.8 69.8M56.8 75.7L72.1 76.1M98.4 -0.8L105.4 -5.6M80.3 25.3L90.3 24.1M81.3 1.9L82.3 -4.0M39.8 58.3L45.0 57.1M64.0 1.8L65.6 -3.1M87.8 50.4L97.2 59.1M23.1 32.6L35.2 37.2M54.9 65.1L69.6 62.8M40.7 53.4L53.3 61.9M4.5 24.2L8.6 17.2M56.4 13.2L71.2 7.4M0.5 42.7L10.2 40.3M54.9 58.6L67.5 52.2M21.8 7.4L28.6 3.8M46.4 1.6L58.7 -2.1M63.9 38.1L74.3 42.8M27.8 70.4L32.7 67.5M37.3 49.0L43.7 47.5M81.6 12.6L93.0 12.4M51.7 77.3L59.6 82.8M28.8 6.6L36.0 3.2M22.4 53.9L26.6 56.7M87.9 31.0L89.0 21.2M42.4 40.2L49.3 37.6M17.3 11.5L26.8 9.7M-5.8 32.0L6.8 33.8M-1.6 59.8L9.1 60.7M25.3 79.0L34.3 80.2M11.3 55.2L22.0 54.2" stroke="#ff1800" stroke-width="1.5" stroke-linecap="round" fill="none" opacity="0.85"/><path d="M67.5 69.8L75.2 79.9M29.7 47.7L45.0 43.1M-1.9 50.7L5.4 47.2M22.3 64.5L28.3 60.8M57.5 -2.4L61.8 -5.3M9.1 1.5L16.1 0.8M3.7 58.7L10.4 61.3M20.6 16.5L25.4 19.2M38.1 50.0L46.6 51.6M31.8 13.9L40.6 8.9M97.8 -0.2L111.5 -3.8M97.2 81.0L103.8 76.6M8.1 32.2L21.1 41.4M25.3 57.5L36.3 57.1M43.6 55.4L55.0 61.7M-6.5 52.9L7.3 53.2M12.7 69.4L20.9 73.9M18.3 75.2L23.1 69.8M89.0 28.9L102.2 29.7M-8.8 68.3L4.3 71.6M2.6 39.0L5.0 44.0M58.3 13.5L71.7 17.4M0.2 61.7L8.5 69.2" stroke="#ff2400" stroke-width="1.5" stroke-linecap="round" fill="none" opacity="0.85"/><path d="M70.5 10.5L79.4 15.8M97.4 51.2L105.2 54.9M4.9 -5.9L13.7 -3.5M63.9 37.2L70.8 30.9M98.8 25.4L107.6 29.2M5.6 32.5L19.4 26.4M66.0 68.5L74.4 68.6M69.5 4.0L78.5 4.4M-2.7 4.3L4.7 9.2M35.5 66.2L46.0 69.1M16.6 76.2L18.3 81.3M37.3 55.3L52.3 55.6M21.4 10.8L31.2 8.2M23.8 57.0L28.8 55.0M-0.2 42.9L4.6 41.0M51.8 61.6L57.9 55.3M80.1 30.2L88.2 25.6M57.0 -1.8L61.5 6.4M91.9 33.4L99.7 32.4M63.5 75.5L66.4 66.6M60.5 1.2L70.8 3.1M26.2 58.4L32.3 58.6M14.7 11.8L26.4 12.0M22.9 22.7L32.2 26.5M5.1 10.9L11.8 8.4M20.5 22.0L34.8 27.3M37.8 78.0L42.8 76.9M94.0 48.7L108.1 53.1M81.1 61.6L83.0 56.1M28.7 23.1L34.1 18.7M88.1 56.0L97.4 47.9" stroke="#ff5000" stroke-width="1.5" stroke-linecap="round" fill="none" opacity="0.85"/><path d="M49.8 39.4L57.0 45.0M72.4 65.2L87.4 69.9M41.3 38.1L42.7 22.3M9.5 43.7L25.4 44.4M-8.5 28.8L0.0 18.8M66.6 42.9L74.1 39.3M93.2 49.6L103.1 51.3M10.3 57.3L18.9 59.9M43.2 19.1L47.6 15.9M55.4 36.2L62.1 33.6M64.6 69.8L69.7 71.9M35.9 27.3L48.8 26.4M36.1 15.9L51.1 19.2M102.6 6.1L107.2 3.6M24.7 37.8L34.4 42.0M35.4 46.7L45.5 55.1M32.8 66.9L41.7 64.0M49.7 18.6L53.9 22.6M77.7 53.1L84.0 57.0M14.0 37.6L19.7 50.5M75.7 28.6L82.6 31.0M6.5 28.0L18.0 21.2M87.3 0.4L93.7 -5.0M58.8 25.9L71.0 18.2" stroke="#ff3a00" stroke-width="1.5" stroke-linecap="round" fill="none" opacity="0.85"/><path d="M73.7 43.0L79.4 46.2M90.2 83.7L92.0 73.3M10.7 38.1L23.5 43.9M64.8 57.0L74.7 59.2M38.4 25.0L51.9 27.2M39.0 7.8L50.1 14.0M22.5 76.3L32.9 74.4M42.7 64.3L49.2 63.8M54.9 74.1L66.4 79.3M84.2 27.0L94.5 17.3M41.6 47.0L47.5 40.2M104.2 66.0L106.5 60.0M94.9 32.7L109.4 39.3M20.6 21.4L28.9 18.2M99.7 16.6L108.7 19.3M42.2 57.9L48.3 43.7M20.7 77.4L27.1 72.8" stroke="#ff5000" stroke-width="1" stroke-linecap="round" fill="none" opacity="0.85"/><path d="M-2.2 65.4L12.1 62.3M-2.2 30.0L-0.6 38.6M43.2 17.5L50.0 14.6M42.1 62.1L48.3 67.1M63.7 80.4L68.3 77.7M80.1 79.1L91.9 70.2M102.3 10.0L111.2 15.3M-4.7 40.5L3.5 34.4M101.1 -6.0L112.2 -3.8M34.2 55.5L46.1 48.2M14.1 74.3L19.6 74.1M14.5 5.7L25.8 8.2M32.1 40.0L42.7 36.5M32.6 23.5L48.6 24.0M30.3 27.9L40.7 25.0M81.5 11.8L92.6 9.0" stroke="#ff2400" stroke-width="1" stroke-linecap="round" fill="none" opacity="0.85"/><path d="M4.3 42.8L10.0 39.3M24.4 17.1L35.0 11.2M58.6 72.5L62.8 65.1M53.0 12.1L58.9 -1.6M56.8 -7.1L65.9 -2.3M51.8 28.2L57.9 27.5M-8.9 1.7L-1.1 -0.7M87.4 57.8L99.1 60.5M29.6 14.4L42.6 14.0M49.7 69.3L58.6 67.1M36.0 -0.4L43.0 1.8M60.8 31.3L69.7 34.6M68.4 49.2L76.2 48.6M26.9 29.4L34.1 26.9M32.6 24.8L40.2 26.3" stroke="#ff1800" stroke-width="1" stroke-linecap="round" fill="none" opacity="0.85"/><path d="M93.2 48.4L107.1 46.9M3.9 61.2L10.0 57.7M40.7 12.0L54.0 17.5M79.1 8.8L84.7 4.9M52.1 8.7L57.4 8.7M-2.3 15.6L1.9 3.9M81.3 12.9L92.8 13.3M-3.6 25.4L0.2 28.8M89.4 71.9L91.3 60.5M4.1 -2.9L17.8 2.3M31.1 28.4L42.2 25.5M78.5 14.9L90.7 5.7M4.1 48.0L13.2 44.3M1.3 59.1L13.2 62.2" stroke="#ff3a00" stroke-width="1" stroke-linecap="round" fill="none" opacity="0.85"/><g filter="url(#bl2)"><ellipse cx="4" cy="33" rx="7" ry="14" transform="rotate(0 4 33)" fill="#120300"/><ellipse cx="10" cy="6" rx="10" ry="5" transform="rotate(0 10 6)" fill="#5a0800"/><ellipse cx="40" cy="6" rx="14" ry="4.5" transform="rotate(0 40 6)" fill="#300600"/><ellipse cx="43" cy="31" rx="5" ry="3.5" transform="rotate(0 43 31)" fill="#180400"/><ellipse cx="63" cy="42" rx="20" ry="8.5" transform="rotate(-14 63 42)" fill="#100200"/><ellipse cx="90" cy="24" rx="8.5" ry="12.5" transform="rotate(10 90 24)" fill="#120300"/><ellipse cx="67" cy="66" rx="24" ry="5.5" transform="rotate(-4 67 66)" fill="#120300"/><ellipse cx="60" cy="25" rx="3" ry="2.5" transform="rotate(0 60 25)" fill="#180400"/><ellipse cx="97" cy="4" rx="6" ry="4" transform="rotate(0 97 4)" fill="#280600"/><ellipse cx="7" cy="47" rx="8" ry="7" transform="rotate(0 7 47)" fill="#180400"/><ellipse cx="97" cy="60" rx="5" ry="3" transform="rotate(0 97 60)" fill="#300600"/><ellipse cx="26" cy="45" rx="5" ry="3" transform="rotate(0 26 45)" fill="#300800"/></g><path d="M11.1 6.7h0M95.5 22.4h0M6.7 7.9h0M87.6 21.5h0M9.0 40.1h0M65.1 39.1h0M46.8 6.2h0M56.7 37.4h0M60.1 46.8h0M8.5 6.8h0M3.8 51.4h0M47.2 68.1h0M60.8 64.9h0M43.6 30.0h0M4.2 50.6h0M93.9 15.5h0M1.2 31.8h0M75.8 63.7h0M60.6 63.3h0M3.2 5.9h0M50.5 49.5h0M52.1 48.4h0M23.5 43.7h0M69.4 41.4h0M90.6 31.0h0M57.5 50.5h0M92.7 4.6h0M91.5 30.1h0M53.2 43.5h0M52.3 47.4h0M92.7 59.3h0M45.9 4.1h0M9.4 3.6h0M41.7 7.4h0M82.5 65.7h0M98.7 3.3h0M17.6 7.4h0M43.0 2.5h0M70.1 34.7h0M26.2 43.0h0M33.3 3.4h0M55.6 68.0h0M4.5 40.6h0M80.8 64.5h0M52.8 39.3h0M7.4 25.1h0M47.5 3.2h0M35.7 4.8h0M37.2 3.2h0M73.1 67.7h0M10.8 10.3h0M54.9 48.0h0" stroke="#3a9a1c" stroke-width="0.84" stroke-linecap="round" fill="none"/><path d="M63.4 62.5h0M32.2 5.2h0M7.5 45.0h0M87.9 32.7h0M66.2 44.6h0M9.7 5.6h0M48.5 65.5h0M45.7 6.4h0M96.1 18.0h0M2.0 33.5h0M62.6 65.8h0M61.6 70.2h0M73.0 62.9h0M54.3 37.2h0M16.8 5.4h0M69.1 66.9h0M7.6 27.8h0M92.4 19.5h0M83.6 23.0h0M4.8 30.9h0M49.3 49.2h0M93.9 19.9h0M62.3 68.4h0M59.0 65.3h0M13.2 45.6h0M64.3 68.7h0M50.7 67.9h0M8.5 9.3h0M82.3 65.8h0M69.9 40.7h0M58.6 70.8h0M89.1 28.4h0M64.2 45.5h0M64.6 62.6h0M89.0 32.2h0M94.5 30.0h0M14.8 8.1h0M50.4 41.2h0M83.8 27.5h0M100.6 4.9h0M65.0 48.5h0M101.9 5.4h0" stroke="#1e6a10" stroke-width="0.84" stroke-linecap="round" fill="none"/><path d="M75.8 39.0h0M75.2 44.4h0M4.3 31.3h0M85.4 62.9h0M63.7 39.5h0M94.9 3.6h0M9.1 44.9h0M5.1 3.6h0M5.2 8.5h0M93.3 32.6h0M67.0 61.8h0M88.1 27.9h0M87.2 28.0h0M57.9 23.6h0M9.6 48.3h0M41.3 3.8h0M69.3 38.4h0M93.2 22.0h0M87.3 32.3h0M97.7 22.6h0M46.0 31.0h0M15.1 9.0h0M22.1 44.3h0M62.7 35.2h0M88.6 27.0h0M70.7 69.5h0M57.2 39.5h0M74.0 39.8h0M73.3 65.0h0M84.8 27.9h0M13.7 5.9h0M5.6 36.1h0M75.0 38.0h0M83.8 62.3h0M66.5 65.7h0M42.2 3.7h0M2.3 25.0h0M60.2 37.4h0M75.3 44.0h0M82.7 66.9h0M49.3 44.1h0M6.7 40.1h0M61.3 65.0h0M74.7 37.2h0" stroke="#2a8a18" stroke-width="0.84" stroke-linecap="round" fill="none"/><path d="M99.1 0.1h0M21.1 59.7h0M28.3 67.4h0M39.4 63.3h0M9.1 70.5h0M38.4 66.0h0M38.0 25.3h0M45.1 26.0h0M32.9 70.6h0M52.1 51.4h0M18.3 33.7h0M63.6 53.2h0M35.9 16.8h0M92.2 47.5h0M32.5 58.5h0M26.9 59.3h0M33.9 47.8h0M65.3 60.9h0M62.0 72.7h0M38.3 57.4h0M97.3 43.7h0M64.0 72.8h0M20.6 38.6h0M8.2 71.4h0M73.9 30.3h0M91.4 49.3h0M76.2 72.0h0M22.6 22.2h0M18.1 18.6h0M24.6 71.0h0M44.3 1.9h0M68.9 28.0h0M72.3 29.0h0M85.1 13.4h0M7.3 13.5h0M29.0 51.8h0M60.8 27.4h0M25.5 1.6h0M24.5 55.3h0M16.7 57.5h0M5.8 0.0h0M3.7 73.9h0M68.7 8.4h0M71.3 9.4h0M81.6 16.3h0M25.0 13.5h0M63.1 26.4h0M17.9 38.5h0M24.5 40.9h0M17.3 26.0h0M68.8 11.7h0M6.2 1.0h0M98.5 22.3h0M86.4 8.9h0M32.6 31.3h0M82.0 4.7h0M93.0 42.2h0M74.0 32.4h0M13.8 25.6h0M100.6 16.0h0M14.1 59.9h0M41.5 12.8h0M73.7 22.3h0M79.7 46.9h0M21.2 2.5h0M16.2 51.8h0M19.6 54.5h0M83.2 36.3h0M56.6 22.7h0M24.3 41.7h0M90.4 73.6h0M79.3 54.0h0M60.4 72.7h0M45.0 45.5h0M80.1 58.8h0M34.4 44.7h0M7.9 66.0h0M11.7 73.2h0M32.0 25.3h0M100.4 69.5h0M26.2 2.5h0M73.9 70.6h0M23.9 12.6h0M19.2 57.8h0M90.8 35.5h0M70.0 8.2h0M33.3 28.7h0M68.9 30.1h0M51.9 53.3h0M74.2 13.8h0M14.1 49.6h0M63.8 21.6h0M15.7 39.8h0M11.3 12.6h0M59.2 17.6h0M35.4 49.3h0M89.1 60.9h0M83.1 46.8h0M22.5 63.5h0M41.8 52.4h0M33.5 40.6h0M5.9 69.6h0M92.1 0.6h0M18.0 37.8h0M98.8 72.3h0" stroke="#b0d020" stroke-width="1.1" stroke-linecap="round" fill="none"/><path d="M66.7 8.1h0M90.8 60.7h0M69.6 14.8h0M54.4 60.1h0M101.9 34.5h0M13.9 30.6h0M25.2 24.5h0M32.1 75.0h0M78.1 18.3h0M6.4 1.2h0M31.0 15.8h0M31.6 47.5h0M88.6 66.6h0M30.8 21.1h0M46.5 11.8h0M25.2 62.6h0M54.0 1.7h0M88.5 55.1h0M79.5 26.0h0M74.6 14.4h0M98.3 28.5h0M93.5 68.5h0M85.9 3.0h0M98.3 10.6h0M84.9 1.6h0M30.2 25.9h0M55.4 59.8h0M77.1 45.3h0M23.9 22.0h0M69.4 17.1h0M38.3 42.9h0M88.7 67.2h0M43.7 1.8h0M25.3 17.8h0M33.5 25.5h0M28.9 31.8h0M52.7 71.0h0M77.4 60.5h0M33.6 10.9h0M54.0 7.4h0M39.0 27.0h0M75.9 15.6h0M16.6 0.8h0M20.4 31.2h0M23.3 49.1h0M55.8 28.1h0M25.9 42.1h0M38.2 45.1h0M73.1 7.6h0M70.7 47.9h0M101.7 23.4h0M4.4 16.2h0M100.2 11.0h0M81.8 60.4h0M37.4 21.5h0M34.3 53.6h0M39.0 42.4h0M23.8 28.8h0M11.0 33.7h0M90.2 51.0h0M82.0 32.2h0M15.9 19.7h0M36.7 27.3h0M26.8 64.8h0M30.9 32.9h0M3.0 66.8h0M90.8 54.7h0M63.7 23.5h0M30.5 24.9h0M61.8 59.7h0M12.6 35.8h0M55.8 54.3h0M55.0 31.7h0M4.9 1.0h0M101.0 14.5h0M65.7 10.8h0M60.4 59.6h0M37.9 25.3h0M47.8 14.0h0M94.9 63.6h0M45.1 50.4h0M66.7 13.8h0M35.0 49.4h0M69.9 60.9h0M44.1 17.6h0M82.6 56.2h0M50.3 33.5h0M36.3 58.2h0" stroke="#ffb020" stroke-width="1.1" stroke-linecap="round" fill="none"/><path d="M30.9 63.3h0M18.8 52.4h0M51.0 11.7h0M89.3 53.0h0M32.7 44.0h0M57.5 18.3h0M38.0 53.6h0M62.9 24.0h0M88.4 12.3h0M77.2 26.6h0M40.5 45.8h0M71.8 0.5h0M51.9 35.9h0M90.9 5.7h0M91.4 57.0h0M94.6 66.7h0M24.4 71.7h0M10.4 29.3h0M61.1 3.2h0M18.2 14.6h0M68.2 8.8h0M83.1 39.1h0M35.8 50.7h0M64.8 19.6h0M37.7 50.8h0M67.8 25.9h0M39.5 51.8h0M48.0 32.0h0M87.3 41.0h0M100.9 35.9h0M27.4 20.2h0M48.6 28.0h0M9.1 0.5h0M45.9 14.8h0M75.7 31.2h0M87.6 54.0h0M36.3 18.4h0M23.5 72.6h0M47.3 70.8h0M56.8 53.4h0M62.5 54.7h0M43.5 58.8h0M82.4 20.8h0M36.6 50.8h0M51.9 53.5h0M99.0 73.8h0M12.4 21.1h0M32.7 21.7h0M101.5 60.6h0M1.7 68.1h0M61.5 71.3h0M23.5 65.0h0M49.7 74.0h0M67.2 31.2h0M55.8 7.3h0M64.9 16.0h0M63.1 2.0h0M83.1 10.3h0M4.5 15.7h0M13.2 67.5h0M32.9 14.3h0M30.3 66.7h0M11.9 18.6h0M16.9 33.2h0M100.9 13.2h0M80.1 26.5h0M32.6 48.2h0M11.8 12.7h0M73.8 18.7h0M38.4 23.0h0M80.0 23.0h0M42.9 68.5h0M11.0 34.8h0M39.7 64.4h0M25.9 68.8h0M12.1 36.6h0M24.3 25.3h0M45.8 36.8h0M68.0 26.4h0M32.5 51.8h0M41.9 15.1h0M84.6 4.5h0M59.3 3.4h0M27.7 3.7h0M44.1 43.5h0M29.9 54.0h0M33.5 42.2h0M60.6 74.1h0M23.2 65.7h0M14.1 63.7h0M41.1 36.6h0M6.4 73.0h0M84.6 48.8h0M92.0 75.3h0M35.6 53.5h0M26.1 4.7h0M51.6 35.9h0M74.0 71.3h0" stroke="#e8e040" stroke-width="1.1" stroke-linecap="round" fill="none"/><path d="M45.8 58.5h0M15.9 41.6h0M62.2 19.7h0M73.0 16.1h0M35.4 1.9h0M8.4 62.2h0M48.8 30.3h0M4.7 17.2h0M22.1 23.6h0M80.4 46.2h0M54.3 23.8h0M45.4 22.2h0M71.4 22.1h0M77.4 28.3h0M78.5 20.7h0M23.0 60.7h0M10.8 68.0h0M31.3 60.4h0M75.1 53.5h0M41.4 57.3h0M54.8 17.4h0M90.1 58.1h0M101.8 50.8h0M65.6 6.7h0M57.7 57.0h0M96.3 43.1h0M86.3 74.6h0M75.8 21.9h0M53.0 26.5h0M72.2 50.0h0M27.6 36.0h0M15.3 40.7h0M53.8 19.9h0M25.1 60.9h0M70.5 72.4h0M85.3 53.5h0M84.3 57.9h0M98.0 47.3h0M85.3 3.8h0M59.9 12.7h0M16.0 41.6h0M35.5 32.6h0M13.6 33.1h0M8.0 66.7h0M38.1 26.6h0M81.1 39.4h0M24.1 14.3h0M14.2 44.1h0M72.4 47.5h0M96.1 15.2h0M22.9 58.4h0M3.0 11.5h0M22.5 31.3h0M31.1 63.8h0M47.4 56.8h0M75.1 33.4h0M28.6 47.8h0M19.9 13.7h0M54.9 56.6h0M63.1 59.1h0M16.7 61.6h0M79.0 71.0h0M41.1 27.1h0M85.8 60.6h0M26.5 41.0h0M62.7 17.2h0M43.1 49.4h0M11.4 58.8h0M48.2 58.6h0M17.6 62.0h0M32.2 48.6h0M73.2 15.3h0M98.3 48.1h0M39.0 56.9h0M2.4 66.9h0M5.3 13.3h0M29.9 37.8h0M17.7 66.0h0M29.1 8.8h0M76.6 11.9h0M26.2 4.9h0M11.2 16.4h0M101.6 50.7h0M15.3 15.1h0M11.4 13.8h0M28.2 36.0h0M100.7 30.6h0M15.7 50.9h0M96.1 66.3h0M85.6 34.4h0M81.7 4.9h0M44.0 15.2h0M92.1 48.9h0M5.7 14.8h0M30.6 61.2h0M83.0 0.5h0M85.4 54.0h0" stroke="#d0d020" stroke-width="1.1" stroke-linecap="round" fill="none"/><path d="M29.8 63.3h0M43.0 68.1h0M18.1 53.2h0M9.5 72.8h0M87.6 53.7h0M0.3 17.9h0M86.2 39.2h0M16.4 38.5h0M1.1 63.2h0M36.5 21.1h0M15.7 18.2h0M15.5 23.8h0M51.2 58.2h0M76.5 28.4h0M38.4 45.8h0M10.1 74.6h0M71.3 11.5h0M83.0 15.4h0M95.9 46.7h0M17.8 47.6h0M18.9 30.7h0M19.3 16.6h0M36.7 58.8h0M74.7 19.7h0M79.2 10.1h0M19.1 19.2h0M16.5 48.6h0M96.3 54.4h0M36.4 43.5h0M45.4 49.8h0M35.2 38.0h0M66.7 3.5h0M19.4 42.1h0M94.6 74.9h0M0.0 6.0h0M4.1 14.7h0M22.4 59.1h0M40.7 40.3h0M85.7 2.8h0M30.3 20.5h0M7.8 19.9h0M40.4 59.9h0M88.6 60.6h0M36.5 37.8h0M50.8 52.3h0M86.4 70.4h0M40.9 71.3h0M51.4 7.7h0M41.2 16.1h0M17.1 75.9h0M79.8 55.3h0M94.1 43.1h0M66.2 50.5h0M79.8 25.1h0M43.6 45.5h0M94.1 10.4h0M74.6 11.1h0M29.3 25.4h0M6.7 54.7h0M70.6 60.1h0M67.3 75.4h0M31.6 39.2h0M67.7 23.1h0M25.2 54.2h0M91.7 51.1h0M34.0 52.1h0M80.0 18.6h0M38.2 73.4h0M20.6 16.9h0M5.5 58.8h0M76.1 3.3h0M45.6 64.3h0M18.6 44.7h0M73.1 17.3h0M44.3 43.8h0M56.7 26.1h0M36.0 25.5h0M14.2 59.8h0M33.7 41.6h0M22.1 37.4h0M33.3 73.1h0M67.4 71.1h0M93.2 41.9h0M38.0 10.4h0M24.1 66.7h0M12.1 31.3h0M82.0 7.8h0M74.0 26.4h0M62.9 60.5h0M23.6 53.9h0M77.1 21.5h0M13.4 27.6h0" stroke="#f0c010" stroke-width="1.1" stroke-linecap="round" fill="none"/></g></svg>
<svg x="337" y="546" width="102" height="76" viewBox="0 0 102 76" overflow="hidden"><rect width="102" height="76" fill="#0e0700"/><g filter="url(#bl)"><path d="M51.0 54.9h0M46.8 31.0h0M53.6 74.0h0M8.9 69.5h0M98.3 15.3h0M51.8 11.5h0M37.6 34.2h0M61.9 60.5h0M96.4 30.5h0M10.8 20.0h0M16.5 41.2h0M24.8 31.8h0M37.5 13.0h0M64.3 37.9h0M26.7 45.9h0M81.4 35.1h0M47.6 41.6h0M24.6 64.6h0M30.2 66.1h0M39.7 59.7h0M1.0 30.8h0M78.5 42.7h0M96.2 72.4h0M29.4 46.5h0M40.3 50.1h0M95.0 2.6h0M88.5 24.3h0M10.3 58.2h0M82.7 40.5h0M59.5 42.6h0M49.5 19.4h0M85.6 36.4h0M60.8 44.6h0M24.9 71.7h0M42.9 2.1h0M24.0 71.9h0M64.1 3.4h0M45.3 0.3h0M54.4 60.4h0M67.6 38.4h0M32.0 21.0h0M89.3 21.4h0M73.6 11.6h0M45.9 39.9h0M65.7 43.0h0M45.3 40.4h0M51.8 50.1h0M88.3 59.2h0M11.1 17.9h0M82.3 55.2h0M1.3 31.7h0M15.9 42.1h0M19.2 3.6h0M14.0 25.4h0M12.8 41.3h0M40.3 54.9h0M30.1 67.6h0M6.6 67.8h0M40.2 33.6h0M30.0 26.0h0M57.4 40.3h0M60.8 20.3h0M76.2 65.8h0M11.6 44.5h0M84.0 48.7h0M8.5 8.5h0M79.6 13.3h0M94.8 26.4h0M42.5 6.4h0M64.3 71.7h0M54.7 73.6h0M93.0 26.3h0M95.1 39.3h0M45.8 47.6h0M45.2 67.0h0M47.7 5.6h0M95.4 59.3h0M61.9 19.4h0M33.6 57.9h0M19.3 43.0h0M9.9 45.6h0M65.5 11.4h0M68.6 26.3h0M38.3 42.7h0M21.8 35.6h0M44.1 47.8h0M8.8 71.6h0M34.0 9.8h0M29.9 43.6h0M95.7 4.6h0M50.0 21.4h0M45.9 39.0h0M66.0 8.7h0M72.2 48.9h0M83.6 70.8h0M34.7 65.0h0M8.2 24.9h0M27.9 8.2h0M34.1 54.3h0M39.5 43.7h0M96.7 33.6h0M59.5 38.0h0M80.0 25.6h0M48.7 66.9h0M11.4 13.1h0M11.9 40.2h0M8.2 65.2h0M14.0 57.6h0M42.3 32.2h0M48.8 22.0h0M25.2 3.0h0M17.4 1.6h0M45.4 2.7h0M54.3 4.4h0M4.5 14.7h0M9.1 50.0h0M24.5 49.8h0M4.8 28.4h0M37.4 71.1h0M69.2 48.0h0M46.2 3.6h0M43.2 71.2h0M14.0 73.0h0M81.6 57.7h0M47.5 41.4h0M6.6 0.1h0M88.9 10.1h0M20.8 70.7h0M34.4 16.9h0M96.0 4.5h0M65.7 57.5h0M43.5 9.7h0M31.3 62.1h0M44.6 10.8h0M0.8 51.7h0M10.6 23.5h0M17.6 66.5h0M26.9 53.6h0M2.7 74.4h0M13.6 46.9h0M20.7 54.0h0M47.6 72.5h0M0.1 23.2h0M21.4 68.9h0M22.8 29.1h0M33.3 4.4h0M38.7 73.9h0M83.7 51.2h0M79.0 26.6h0M61.1 8.3h0M58.5 34.7h0M5.8 71.3h0" stroke="#3a9a1c" stroke-width="0.9" stroke-linecap="round" fill="none"/><path d="M89.3 26.2h0M93.4 16.3h0M0.9 44.6h0M45.0 37.8h0M30.0 70.5h0M98.1 52.1h0M41.3 61.3h0M51.4 21.3h0M11.3 13.5h0M19.0 75.2h0M92.4 67.0h0M34.6 20.3h0M62.9 42.1h0M1.3 47.9h0M45.2 15.9h0M95.2 50.7h0M49.3 29.5h0M35.0 60.5h0M64.0 9.7h0M0.3 67.7h0M40.2 35.3h0M91.5 42.9h0M95.3 55.6h0M70.2 63.3h0M57.2 12.4h0M54.6 48.3h0M29.7 31.3h0M17.7 55.4h0M50.9 17.5h0M7.3 46.8h0M8.9 39.1h0M95.4 30.0h0M32.1 17.4h0M50.8 44.6h0M33.4 8.6h0M62.9 52.4h0M22.5 2.1h0M62.3 49.1h0M73.5 39.5h0M76.4 24.2h0M12.8 61.9h0M58.7 26.0h0M47.4 15.8h0M37.3 24.0h0M7.2 70.7h0M39.2 3.1h0M88.6 44.9h0M1.5 11.4h0M97.8 6.5h0M97.8 23.0h0M25.7 72.6h0M95.3 3.5h0M100.2 46.0h0M29.4 42.1h0M42.5 13.9h0M91.9 8.3h0M31.6 34.9h0M56.2 67.5h0M69.3 38.1h0M7.5 27.1h0M77.3 17.2h0M68.2 17.7h0M31.4 0.1h0M75.8 53.0h0M47.4 19.0h0M75.6 60.7h0M99.5 19.6h0M22.4 1.3h0M78.0 71.6h0M35.9 23.9h0M71.2 56.7h0M63.1 4.6h0M93.0 64.2h0M11.9 13.6h0M46.9 60.7h0M12.9 46.4h0M14.7 26.4h0M56.1 22.4h0M43.9 69.6h0M83.0 67.3h0M20.4 46.6h0M50.7 33.2h0M5.1 48.7h0M71.6 17.9h0M0.6 14.9h0M101.9 64.3h0M87.4 4.7h0M39.4 74.0h0M61.8 7.3h0M9.3 30.7h0M71.3 13.6h0M69.0 75.6h0M42.3 32.2h0M2.7 26.9h0M15.3 51.4h0M77.8 4.2h0M83.1 30.3h0M29.6 42.6h0M21.5 26.0h0M30.2 46.4h0M2.4 69.6h0M47.4 33.5h0M60.2 1.4h0M23.3 43.9h0M21.8 8.1h0M34.8 41.3h0M42.4 48.5h0M96.0 63.6h0M85.7 19.3h0M10.7 34.6h0M60.9 70.6h0M30.8 22.4h0M87.7 54.3h0M54.9 25.6h0M85.9 68.4h0M16.8 25.0h0M25.9 13.3h0M0.4 18.0h0M87.4 30.3h0M89.3 42.9h0M88.4 67.6h0M75.1 31.0h0M92.7 59.4h0M39.4 39.0h0M9.9 29.5h0M40.4 32.1h0M73.8 40.5h0M61.9 52.4h0M76.2 63.3h0M97.7 3.6h0M89.7 48.6h0" stroke="#2a8a18" stroke-width="0.9" stroke-linecap="round" fill="none"/><path d="M45.3 53.1h0M87.4 4.0h0M54.8 58.8h0M56.6 46.7h0M27.7 40.8h0M80.0 61.3h0M43.3 46.1h0M31.0 74.1h0M38.4 52.4h0M68.7 5.3h0M44.5 8.6h0M0.3 57.0h0M0.1 48.4h0M26.8 72.1h0M80.8 61.8h0M24.9 34.1h0M41.5 13.7h0M83.0 47.8h0M89.8 47.9h0M21.4 32.5h0M62.3 53.1h0M85.5 66.4h0M70.2 38.3h0M46.8 15.4h0M87.4 45.7h0M18.1 26.8h0M40.7 4.8h0M31.8 1.1h0M22.1 15.7h0M13.6 48.7h0M89.8 25.1h0M46.6 2.7h0M32.4 46.5h0M56.2 55.9h0M1.2 1.2h0M76.6 45.4h0M36.2 29.0h0M86.0 62.8h0M59.1 22.1h0M14.2 63.6h0M54.5 74.4h0M77.4 31.8h0M57.3 42.1h0M89.3 6.5h0M10.4 2.3h0M5.0 25.1h0M67.9 15.0h0M66.2 59.4h0M42.1 13.6h0M35.6 71.5h0M87.3 43.0h0M11.1 33.8h0M42.2 22.2h0M98.5 31.9h0M66.8 59.9h0M38.5 59.8h0M94.2 22.7h0M78.0 9.4h0M7.8 60.2h0M7.7 13.3h0M53.7 47.7h0M52.4 17.9h0M87.6 45.1h0M36.3 9.0h0M69.3 40.9h0M93.3 17.0h0M47.2 18.2h0M95.7 37.8h0M94.5 32.0h0M99.4 10.2h0M11.8 20.0h0M99.5 29.4h0M25.0 22.0h0M73.5 7.6h0M99.3 12.6h0M53.4 33.4h0M40.5 13.5h0M72.5 3.1h0M91.6 66.0h0M9.9 51.3h0M62.3 14.3h0M23.0 52.6h0M2.6 48.6h0M58.4 3.9h0M88.5 71.4h0M52.8 26.9h0M22.7 73.5h0M89.9 49.5h0M21.3 46.2h0M5.8 15.2h0M82.2 74.6h0M45.9 45.1h0M61.9 31.2h0M16.0 17.2h0M11.8 28.1h0M55.9 8.9h0M8.2 39.0h0M59.3 67.1h0M20.7 27.9h0M19.8 74.3h0M38.4 73.0h0M52.8 42.8h0M22.3 28.6h0M48.9 57.1h0M28.0 47.6h0M38.6 41.9h0M7.2 54.8h0M22.2 27.6h0M65.0 57.1h0M32.9 56.4h0M91.3 14.9h0M84.3 68.3h0M93.2 35.4h0M85.8 5.8h0M45.2 47.1h0M80.9 62.0h0M92.5 35.4h0M67.0 53.0h0M1.8 53.1h0M98.4 1.3h0M37.1 25.4h0M70.0 57.1h0M4.7 58.8h0M90.1 16.8h0M51.5 51.7h0M26.2 24.4h0M3.8 65.3h0M84.1 53.9h0M44.5 29.3h0M6.3 41.6h0M78.2 60.8h0M8.4 42.4h0M80.8 61.1h0M79.9 13.0h0M51.7 53.8h0M96.6 62.3h0" stroke="#1e6a10" stroke-width="0.9" stroke-linecap="round" fill="none"/><path d="M56.3 57.5h0M92.1 18.7h0M50.6 41.8h0M39.1 16.2h0M69.0 19.9h0M63.6 21.5h0M23.4 35.9h0M8.6 7.7h0M39.4 15.8h0M65.3 7.3h0M70.4 50.7h0M79.1 36.6h0M71.1 10.4h0M2.3 50.1h0M57.5 50.9h0M89.2 34.2h0M91.7 73.1h0M82.8 27.2h0M59.0 1.1h0M92.4 20.8h0M74.8 59.6h0M66.0 15.8h0M80.4 4.3h0M23.4 29.6h0M36.7 68.8h0M100.9 67.4h0M33.3 74.2h0M71.9 69.1h0M65.0 32.6h0M2.0 34.4h0M28.0 1.1h0M70.8 7.5h0M21.6 72.1h0M69.8 72.7h0M33.2 3.2h0M46.3 39.6h0M8.1 62.3h0M36.5 36.2h0M36.6 38.4h0M63.6 17.4h0M65.3 33.5h0M24.3 42.1h0M90.5 54.2h0M77.2 24.1h0M76.6 75.2h0M14.5 72.4h0M64.3 8.2h0M95.6 38.0h0M58.1 46.0h0M66.1 39.8h0M28.4 27.6h0M99.3 74.4h0M50.2 62.9h0M45.7 59.5h0M81.0 36.3h0M93.7 30.4h0M20.9 51.5h0M30.4 54.2h0M0.7 72.4h0M27.0 39.8h0M46.7 3.8h0M74.6 19.0h0M30.6 21.6h0M85.1 12.2h0M0.2 72.2h0M11.5 14.4h0M31.0 41.6h0M46.5 28.0h0M12.5 44.7h0M49.7 67.4h0M52.0 26.7h0M41.1 11.7h0M86.1 14.8h0M53.7 63.2h0M95.5 47.7h0M61.7 3.5h0M36.9 3.8h0M17.8 51.8h0M87.9 49.6h0M82.2 69.7h0M91.0 64.7h0M77.5 48.2h0M35.1 20.9h0M67.6 73.1h0M32.4 65.6h0M35.4 30.6h0M52.9 45.2h0M28.2 32.9h0M18.3 72.7h0M10.8 58.6h0M12.0 61.1h0M49.9 16.7h0M34.8 18.6h0M101.5 5.1h0M72.3 40.0h0M54.5 23.0h0M64.7 51.2h0M52.7 63.0h0M72.0 38.9h0M52.7 55.3h0M24.0 58.0h0M14.8 65.4h0M15.2 59.8h0M6.6 23.0h0M85.6 32.7h0M45.4 11.8h0M77.6 72.2h0M3.0 27.8h0M29.9 29.7h0M81.2 25.6h0M71.6 70.9h0M10.0 18.8h0M7.4 26.3h0M38.9 7.4h0M22.0 27.4h0M62.6 38.8h0M65.9 29.2h0M24.3 64.6h0M83.8 63.2h0M24.5 21.8h0M96.1 22.3h0M31.2 14.2h0M58.2 70.2h0M91.2 28.5h0M0.2 9.3h0M43.6 67.3h0M53.3 68.9h0M22.8 57.1h0M100.8 42.6h0M72.0 51.3h0M2.1 14.5h0M90.7 50.7h0M65.2 45.3h0M62.5 50.5h0M36.1 54.8h0M33.1 21.0h0M4.3 67.6h0M79.1 72.1h0M26.8 24.8h0M7.6 22.4h0M4.0 73.6h0" stroke="#4aa020" stroke-width="0.9" stroke-linecap="round" fill="none"/><path d="M-0.3,7.4 L6.7,8.8 L12.5,7.7 L18.1,8.6 L24.9,10.7" fill="none" stroke="#e01800" stroke-width="3.85" stroke-linecap="round" stroke-linejoin="round"/><path d="M-0.3,7.4 L6.7,8.8 L12.5,7.7 L18.1,8.6 L24.9,10.7" fill="none" stroke="#ff3400" stroke-width="1.57" stroke-linecap="round" stroke-linejoin="round"/><path d="M32.3,2.4 L32.6,12.3 L32.1,21.6 L30.3,30.1 L29.6,37.8" fill="none" stroke="#e01800" stroke-width="3.52" stroke-linecap="round" stroke-linejoin="round"/><path d="M32.3,2.4 L32.6,12.3 L32.1,21.6 L30.3,30.1 L29.6,37.8" fill="none" stroke="#ff3400" stroke-width="1.44" stroke-linecap="round" stroke-linejoin="round"/><path d="M38.1,8.1 L43.3,18.2 L48.7,27.3 L52.2,37.2" fill="none" stroke="#e01800" stroke-width="2.86" stroke-linecap="round" stroke-linejoin="round"/><path d="M38.1,8.1 L43.3,18.2 L48.7,27.3 L52.2,37.2" fill="none" stroke="#ff3400" stroke-width="1.17" stroke-linecap="round" stroke-linejoin="round"/><path d="M42.0,9.7 L46.2,20.5 L49.6,29.5" fill="none" stroke="#e01800" stroke-width="1.76" stroke-linecap="round" stroke-linejoin="round"/><path d="M42.0,9.7 L46.2,20.5 L49.6,29.5" fill="none" stroke="#ff3400" stroke-width="0.72" stroke-linecap="round" stroke-linejoin="round"/><path d="M42.3,0.1 L46.8,5.8 L50.5,12.5" fill="none" stroke="#e01800" stroke-width="2.2" stroke-linecap="round" stroke-linejoin="round"/><path d="M42.3,0.1 L46.8,5.8 L50.5,12.5" fill="none" stroke="#ff3400" stroke-width="0.9" stroke-linecap="round" stroke-linejoin="round"/><path d="M-0.7,24.8 L5.3,30.7 L11.5,35.7" fill="none" stroke="#e01800" stroke-width="2.86" stroke-linecap="round" stroke-linejoin="round"/><path d="M-0.7,24.8 L5.3,30.7 L11.5,35.7" fill="none" stroke="#ff3400" stroke-width="1.17" stroke-linecap="round" stroke-linejoin="round"/><path d="M53.2,2.5 L57.4,7.8 L60.9,15.1 L57.9,24.8 L55.5,38.6" fill="none" stroke="#e01800" stroke-width="3.3" stroke-linecap="round" stroke-linejoin="round"/><path d="M53.2,2.5 L57.4,7.8 L60.9,15.1 L57.9,24.8 L55.5,38.6" fill="none" stroke="#ff3400" stroke-width="1.35" stroke-linecap="round" stroke-linejoin="round"/><path d="M77.4,0.8 L80.2,13.2 L82.4,24.6 L85.0,38.7" fill="none" stroke="#e01800" stroke-width="3.52" stroke-linecap="round" stroke-linejoin="round"/><path d="M77.4,0.8 L80.2,13.2 L82.4,24.6 L85.0,38.7" fill="none" stroke="#ff3400" stroke-width="1.44" stroke-linecap="round" stroke-linejoin="round"/><path d="M70.9,12.5 L73.2,17.4 L74.3,21.8" fill="none" stroke="#e01800" stroke-width="1.76" stroke-linecap="round" stroke-linejoin="round"/><path d="M70.9,12.5 L73.2,17.4 L74.3,21.8" fill="none" stroke="#ff3400" stroke-width="0.72" stroke-linecap="round" stroke-linejoin="round"/><path d="M87.5,17.7 L93.5,16.4 L98.3,13.5 L101.8,9.8" fill="none" stroke="#e01800" stroke-width="3.3" stroke-linecap="round" stroke-linejoin="round"/><path d="M87.5,17.7 L93.5,16.4 L98.3,13.5 L101.8,9.8" fill="none" stroke="#ff3400" stroke-width="1.35" stroke-linecap="round" stroke-linejoin="round"/><path d="M99.5,19.9 L101.0,29.8 L101.5,38.2" fill="none" stroke="#e01800" stroke-width="2.2" stroke-linecap="round" stroke-linejoin="round"/><path d="M99.5,19.9 L101.0,29.8 L101.5,38.2" fill="none" stroke="#ff3400" stroke-width="0.9" stroke-linecap="round" stroke-linejoin="round"/><path d="M0.3,38.4 L1.9,43.8 L3.5,49.3" fill="none" stroke="#e01800" stroke-width="2.86" stroke-linecap="round" stroke-linejoin="round"/><path d="M0.3,38.4 L1.9,43.8 L3.5,49.3" fill="none" stroke="#ff3400" stroke-width="1.17" stroke-linecap="round" stroke-linejoin="round"/><path d="M0.5,63.8 L5.4,61.6 L9.4,59.3 L17.7,56.4" fill="none" stroke="#e01800" stroke-width="3.52" stroke-linecap="round" stroke-linejoin="round"/><path d="M0.5,63.8 L5.4,61.6 L9.4,59.3 L17.7,56.4" fill="none" stroke="#ff3400" stroke-width="1.44" stroke-linecap="round" stroke-linejoin="round"/><path d="M17.1,42.3 L24.5,44.3 L27.0,51.4" fill="none" stroke="#e01800" stroke-width="3.74" stroke-linecap="round" stroke-linejoin="round"/><path d="M17.1,42.3 L24.5,44.3 L27.0,51.4" fill="none" stroke="#ff3400" stroke-width="1.53" stroke-linecap="round" stroke-linejoin="round"/><path d="M28.6,38.1 L28.1,44.8 L27.6,52.7 L25.7,61.4 L21.3,70.7" fill="none" stroke="#e01800" stroke-width="3.96" stroke-linecap="round" stroke-linejoin="round"/><path d="M28.6,38.1 L28.1,44.8 L27.6,52.7 L25.7,61.4 L21.3,70.7" fill="none" stroke="#ff3400" stroke-width="1.62" stroke-linecap="round" stroke-linejoin="round"/><path d="M33.2,41.8 L37.8,52.0 L42.8,59.5 L48.0,69.7 L52.6,76.0" fill="none" stroke="#e01800" stroke-width="4.18" stroke-linecap="round" stroke-linejoin="round"/><path d="M33.2,41.8 L37.8,52.0 L42.8,59.5 L48.0,69.7 L52.6,76.0" fill="none" stroke="#ff3400" stroke-width="1.71" stroke-linecap="round" stroke-linejoin="round"/><path d="M51.1,38.4 L53.1,49.2 L52.6,61.6 L55.3,75.4" fill="none" stroke="#e01800" stroke-width="3.96" stroke-linecap="round" stroke-linejoin="round"/><path d="M51.1,38.4 L53.1,49.2 L52.6,61.6 L55.3,75.4" fill="none" stroke="#ff3400" stroke-width="1.62" stroke-linecap="round" stroke-linejoin="round"/><path d="M53.6,44.5 L61.2,46.2 L70.5,49.4 L76.9,53.6" fill="none" stroke="#e01800" stroke-width="3.3" stroke-linecap="round" stroke-linejoin="round"/><path d="M53.6,44.5 L61.2,46.2 L70.5,49.4 L76.9,53.6" fill="none" stroke="#ff3400" stroke-width="1.35" stroke-linecap="round" stroke-linejoin="round"/><path d="M58.7,56.3 L62.0,62.4 L65.9,69.5" fill="none" stroke="#e01800" stroke-width="2.42" stroke-linecap="round" stroke-linejoin="round"/><path d="M58.7,56.3 L62.0,62.4 L65.9,69.5" fill="none" stroke="#ff3400" stroke-width="0.99" stroke-linecap="round" stroke-linejoin="round"/><path d="M75.5,54.7 L80.2,60.4 L83.8,66.7" fill="none" stroke="#e01800" stroke-width="3.08" stroke-linecap="round" stroke-linejoin="round"/><path d="M75.5,54.7 L80.2,60.4 L83.8,66.7" fill="none" stroke="#ff3400" stroke-width="1.26" stroke-linecap="round" stroke-linejoin="round"/><path d="M86.7,38.4 L87.1,44.3 L88.2,52.4" fill="none" stroke="#e01800" stroke-width="2.42" stroke-linecap="round" stroke-linejoin="round"/><path d="M86.7,38.4 L87.1,44.3 L88.2,52.4" fill="none" stroke="#ff3400" stroke-width="0.99" stroke-linecap="round" stroke-linejoin="round"/><path d="M93.8,38.5 L96.8,41.4 L99.3,44.8" fill="none" stroke="#e01800" stroke-width="3.3" stroke-linecap="round" stroke-linejoin="round"/><path d="M93.8,38.5 L96.8,41.4 L99.3,44.8" fill="none" stroke="#ff3400" stroke-width="1.35" stroke-linecap="round" stroke-linejoin="round"/><path d="M92.3,65.3 L96.7,71.5 L99.4,75.4" fill="none" stroke="#e01800" stroke-width="2.64" stroke-linecap="round" stroke-linejoin="round"/><path d="M92.3,65.3 L96.7,71.5 L99.4,75.4" fill="none" stroke="#ff3400" stroke-width="1.08" stroke-linecap="round" stroke-linejoin="round"/><path d="M7.3,68.7 L12.4,71.4 L14.5,76.6" fill="none" stroke="#e01800" stroke-width="2.2" stroke-linecap="round" stroke-linejoin="round"/><path d="M7.3,68.7 L12.4,71.4 L14.5,76.6" fill="none" stroke="#ff3400" stroke-width="0.9" stroke-linecap="round" stroke-linejoin="round"/><path d="M17.3,20.1 L22.4,26.4" fill="none" stroke="#e01800" stroke-width="1.54" stroke-linecap="round" stroke-linejoin="round"/><path d="M17.3,20.1 L22.4,26.4" fill="none" stroke="#ff3400" stroke-width="0.63" stroke-linecap="round" stroke-linejoin="round"/><path d="M64.3,28.6 L66.7,33.5" fill="none" stroke="#e01800" stroke-width="1.54" stroke-linecap="round" stroke-linejoin="round"/><path d="M64.3,28.6 L66.7,33.5" fill="none" stroke="#ff3400" stroke-width="0.63" stroke-linecap="round" stroke-linejoin="round"/><path d="M40.2,65.2 L38.7,72.0 L35.8,76.7" fill="none" stroke="#e01800" stroke-width="1.98" stroke-linecap="round" stroke-linejoin="round"/><path d="M40.2,65.2 L38.7,72.0 L35.8,76.7" fill="none" stroke="#ff3400" stroke-width="0.81" stroke-linecap="round" stroke-linejoin="round"/><path d="M69.4,68.4 L74.6,72.0 L78.7,75.9" fill="none" stroke="#e01800" stroke-width="1.76" stroke-linecap="round" stroke-linejoin="round"/><path d="M69.4,68.4 L74.6,72.0 L78.7,75.9" fill="none" stroke="#ff3400" stroke-width="0.72" stroke-linecap="round" stroke-linejoin="round"/><path d="M89.3,28.2 L94.5,33.2" fill="none" stroke="#e01800" stroke-width="1.54" stroke-linecap="round" stroke-linejoin="round"/><path d="M89.3,28.2 L94.5,33.2" fill="none" stroke="#ff3400" stroke-width="0.63" stroke-linecap="round" stroke-linejoin="round"/><path d="M90.0 28.0L96.6 25.4M12.0 7.0L14.3 16.9M97.0 41.0L92.3 50.4M100.0 45.0L108.0 36.8" stroke="#ff2800" stroke-width="2.5" stroke-linecap="round" fill="none"/><path d="M30.0 30.0L39.8 38.4M80.0 60.0L86.9 54.0M48.0 28.0L57.3 20.5" stroke="#d01400" stroke-width="2.5" stroke-linecap="round" fill="none"/><path d="M12.0 35.0L24.1 33.8M0.0 38.0L-6.7 36.9M30.0 30.0L33.3 20.5M4.0 50.0L-1.6 48.2" stroke="#e01800" stroke-width="2.5" stroke-linecap="round" fill="none"/><path d="M14.0 76.0L15.8 63.4M17.0 56.0L17.7 65.6M85.0 38.0L89.0 27.3M2.0 44.0L-2.4 36.2M84.0 66.0L90.9 71.6M71.0 12.0L74.5 19.8M17.0 42.0L27.3 46.7M17.0 56.0L3.8 52.2M4.0 50.0L15.2 56.4M100.0 45.0L111.1 52.1M100.0 45.0L93.9 47.2M53.0 44.0L45.8 51.1M78.0 76.0L71.6 81.1M99.0 20.0L100.8 11.5M30.0 30.0L24.1 20.6M52.0 62.0L65.7 59.6" stroke="#ff2800" stroke-width="2" stroke-linecap="round" fill="none"/><path d="M98.0 13.0L90.8 17.6M50.0 12.0L61.8 14.4M43.0 0.0L38.0 -2.5M22.0 26.0L34.3 31.1M98.0 13.0L87.8 13.4M90.0 28.0L79.6 36.3M6.0 30.0L14.2 35.5M93.0 38.0L91.8 48.5" stroke="#e01800" stroke-width="2" stroke-linecap="round" fill="none"/><path d="M47.0 6.0L37.4 13.2M18.0 20.0L30.1 18.2M24.0 45.0L29.5 47.2M85.0 38.0L71.3 39.1M66.0 70.0L68.4 79.9M0.0 63.0L1.6 57.7M48.0 70.0L59.5 73.1M22.0 26.0L23.0 32.4" stroke="#d01400" stroke-width="2" stroke-linecap="round" fill="none"/><path d="M86.0 38.0L98.3 44.2M90.0 28.0L84.1 22.5M42.0 10.0L51.6 -0.1M2.0 44.0L-5.4 41.6M0.0 63.0L-3.1 51.6M4.0 50.0L1.0 37.0M88.0 17.0L86.3 27.0" stroke="#d01400" stroke-width="1.5" stroke-linecap="round" fill="none"/><path d="M62.0 62.0L58.4 52.2M58.0 56.0L66.1 64.4M70.0 68.0L77.5 75.6M100.0 45.0L95.8 56.5M40.0 66.0L47.2 60.3M32.0 22.0L36.6 26.1M58.0 56.0L63.1 50.9M52.0 38.0L43.1 35.3" stroke="#ff2800" stroke-width="1.5" stroke-linecap="round" fill="none"/><path d="M36.0 76.0L36.9 82.8M10.0 60.0L17.1 64.4M2.0 44.0L-8.2 48.1M58.0 8.0L55.4 20.9M93.0 16.0L92.5 5.0M71.0 12.0L73.6 7.2M14.0 76.0L26.4 75.3M14.0 76.0L16.4 68.3M17.0 42.0L25.0 46.9M71.0 12.0L59.7 17.9M38.0 52.0L33.6 46.1M94.0 33.0L92.9 41.8" stroke="#e01800" stroke-width="1.5" stroke-linecap="round" fill="none"/><path d="M80.0 13.0h0" stroke="#e82000" stroke-width="8.5" stroke-linecap="round" fill="none"/><path d="M14.0 7.0h0" stroke="#e82000" stroke-width="8" stroke-linecap="round" fill="none"/><path d="M25.0 9.0h0M24.0 45.0h0" stroke="#e82000" stroke-width="6.5" stroke-linecap="round" fill="none"/><path d="M1.0 8.0h0M97.0 10.0h0" stroke="#e82000" stroke-width="6" stroke-linecap="round" fill="none"/><path d="M25.0 14.0h0M56.0 28.0h0M93.0 16.0h0M12.0 51.0h0M79.0 60.0h0M97.0 42.0h0M33.0 8.0h0M53.0 50.0h0M47.0 66.0h0" stroke="#e82000" stroke-width="5" stroke-linecap="round" fill="none"/><path d="M60.0 14.0h0" stroke="#e82000" stroke-width="4.5" stroke-linecap="round" fill="none"/><path d="M13.3 7.4h0M26.4 9.9h0M0.1 7.2h0M78.4 15.2h0M92.5 17.5h0M92.3 17.2h0M11.8 52.2h0M11.8 49.8h0M97.2 43.4h0" stroke="#c0d820" stroke-width="2" stroke-linecap="round" fill="none"/><path d="M11.8 5.2h0M80.8 12.8h0M81.0 11.6h0M95.5 10.9h0M13.2 51.1h0M96.2 42.2h0M96.2 41.8h0M52.8 49.5h0M47.7 66.1h0M48.4 66.4h0" stroke="#ffc020" stroke-width="2" stroke-linecap="round" fill="none"/><path d="M24.4 7.6h0M23.2 10.2h0M94.3 16.6h0M79.6 60.4h0M32.5 7.8h0M60.0 12.8h0M59.2 14.4h0M60.6 14.0h0M52.5 50.8h0" stroke="#e0e020" stroke-width="2" stroke-linecap="round" fill="none"/><path d="M94.9 40.0h0" stroke="#d8d820" stroke-width="2" stroke-linecap="round" fill="none"/><path d="M96.2 39.8h0M52.4 57.7h0M13.7 75.3h0M75.1 73.2h0" stroke="#ff8000" stroke-width="2" stroke-linecap="round" fill="none"/><path d="M75.7 75.0h0M1.2 40.7h0M58.7 10.1h0M4.6 49.2h0M83.0 24.4h0" stroke="#b0d020" stroke-width="2" stroke-linecap="round" fill="none"/><path d="M6.5 60.9h0M87.7 51.9h0" stroke="#ffb000" stroke-width="2" stroke-linecap="round" fill="none"/><path d="M14.1 8.6h0M23.7 13.8h0M26.4 13.1h0M55.8 29.0h0M54.7 27.3h0M80.3 10.8h0M24.0 45.4h0M24.9 45.5h0M32.1 8.1h0M54.0 49.3h0M52.2 50.6h0M47.8 66.2h0M47.1 67.4h0" stroke="#c0d820" stroke-width="1.5" stroke-linecap="round" fill="none"/><path d="M15.9 5.0h0M24.9 13.5h0M26.0 15.3h0M1.8 7.4h0M96.3 10.7h0M97.6 9.8h0M25.7 43.7h0M80.4 59.9h0M78.0 60.9h0M33.8 8.1h0" stroke="#ffc020" stroke-width="1.5" stroke-linecap="round" fill="none"/><path d="M23.7 8.6h0M1.2 6.9h0M1.7 6.2h0M55.2 28.7h0M54.5 29.4h0M95.4 11.2h0M12.8 52.1h0M24.1 45.4h0M79.1 60.1h0M96.4 41.3h0M34.4 9.2h0M59.2 14.0h0" stroke="#e0e020" stroke-width="1.5" stroke-linecap="round" fill="none"/><path d="M59.7 12.8h0M8.3 7.5h0M51.4 35.0h0M86.6 43.9h0M18.3 42.1h0M15.6 56.9h0M15.2 56.0h0M8.8 8.1h0M6.0 61.0h0M99.3 43.9h0M17.8 19.9h0M58.0 7.3h0M73.0 17.4h0M39.9 10.5h0M35.9 47.5h0M49.9 28.1h0M1.5 24.2h0M1.5 40.8h0M72.1 16.1h0M25.2 47.5h0M80.4 13.9h0" stroke="#ffb000" stroke-width="1.5" stroke-linecap="round" fill="none"/><path d="M86.4 42.2h0M87.0 43.5h0M27.9 37.6h0M96.5 70.1h0M20.3 22.8h0M27.1 53.5h0M98.0 14.0h0M76.3 74.6h0M68.9 49.7h0M58.5 9.9h0M73.1 17.4h0M7.9 61.1h0M92.2 31.5h0M50.3 72.0h0M21.5 25.6h0M86.9 44.3h0M19.5 22.3h0M91.6 66.8h0M32.2 14.2h0M18.9 22.4h0M92.9 31.6h0M48.9 27.9h0M72.0 14.4h0M95.0 71.3h0M62.2 62.1h0M65.2 70.2h0M6.5 31.4h0" stroke="#b0d020" stroke-width="1.5" stroke-linecap="round" fill="none"/><path d="M94.3 32.4h0M52.7 53.7h0M75.9 55.9h0M38.3 70.3h0M93.8 32.1h0M32.2 24.4h0M42.3 11.4h0M1.3 41.0h0M54.0 43.7h0M99.6 22.5h0M11.7 70.9h0M51.4 40.7h0M97.1 40.4h0M101.4 28.1h0M49.9 31.5h0M30.7 24.8h0M15.4 56.6h0M81.7 63.1h0M3.6 26.8h0M46.4 67.5h0M95.5 69.3h0M92.9 31.9h0M5.0 29.9h0" stroke="#ff8000" stroke-width="1.5" stroke-linecap="round" fill="none"/><path d="M0.1 39.6h0M53.5 1.6h0M56.0 43.8h0M91.7 66.3h0M84.6 29.8h0M47.9 9.4h0M87.0 46.2h0M39.3 68.9h0M47.4 6.7h0M47.2 26.8h0M80.1 60.4h0M4.6 60.9h0M82.1 20.6h0M48.9 30.4h0M25.9 59.9h0M21.7 25.7h0M65.2 68.9h0M46.2 20.6h0M79.3 58.0h0M41.3 56.9h0" stroke="#d8d820" stroke-width="1.5" stroke-linecap="round" fill="none"/><path d="M92.6 15.0h0" stroke="#e0e020" stroke-width="1" stroke-linecap="round" fill="none"/><path d="M48.4 26.1h0M101.5 9.4h0M22.0 44.6h0M41.5 10.4h0M58.1 9.0h0M45.7 19.6h0M16.4 56.4h0M52.3 47.6h0M28.4 49.5h0M2.6 46.8h0M8.5 60.7h0M81.0 60.5h0M86.6 44.6h0" stroke="#ffb000" stroke-width="1" stroke-linecap="round" fill="none"/><path d="M44.6 16.5h0M100.2 26.5h0M38.8 68.2h0M39.6 9.9h0M78.4 76.6h0M29.2 35.4h0M54.5 72.4h0M99.7 44.8h0M17.9 21.1h0" stroke="#ff8000" stroke-width="1" stroke-linecap="round" fill="none"/><path d="M47.9 25.2h0M77.4 75.6h0M77.2 55.7h0M17.2 42.7h0M42.5 12.4h0M85.9 38.1h0M40.8 56.4h0M58.5 20.2h0M49.4 11.5h0M74.2 21.3h0M3.5 7.6h0M11.4 35.0h0M97.4 75.4h0" stroke="#b0d020" stroke-width="1" stroke-linecap="round" fill="none"/><path d="M99.6 10.9h0M101.1 31.8h0M93.8 68.3h0M30.6 29.6h0M23.0 66.0h0M72.8 17.8h0M22.7 67.8h0M35.6 75.7h0M97.3 41.4h0M96.2 39.9h0M86.6 38.0h0M86.6 40.4h0" stroke="#d8d820" stroke-width="1" stroke-linecap="round" fill="none"/></g></svg>
<svg x="440" y="546" width="103" height="76" viewBox="0 0 103 76" overflow="hidden"><rect width="103" height="76" fill="#080300"/><g filter="url(#bl)"><path d="M15.0 62.7h0M93.5 35.6h0M27.2 36.7h0M51.4 63.2h0M89.9 58.3h0M4.2 35.5h0M95.8 2.6h0M32.5 51.6h0M85.3 3.3h0M74.5 24.3h0M63.5 69.7h0M101.8 12.3h0M70.1 10.6h0M40.3 38.3h0M89.9 56.1h0M39.0 67.8h0M1.1 1.1h0M1.8 49.2h0M26.4 36.7h0M36.1 38.1h0M44.5 19.4h0M99.4 55.3h0M93.1 58.6h0M44.3 7.0h0M43.7 35.4h0M16.5 15.0h0M101.2 44.1h0M88.5 8.0h0M19.7 71.6h0M38.3 33.2h0M18.1 16.8h0M59.0 11.5h0M91.4 47.5h0M94.6 73.3h0M6.8 36.4h0M38.8 10.5h0M88.3 26.1h0M100.7 28.9h0M88.2 25.4h0M63.4 54.5h0M63.1 22.4h0M78.7 9.9h0M51.8 51.8h0M90.7 70.7h0M66.3 3.2h0M87.8 3.9h0M91.3 32.0h0M16.0 29.0h0M23.1 28.4h0M95.5 44.7h0M50.8 46.9h0M19.9 44.4h0M71.6 43.9h0M51.7 71.2h0M12.0 39.2h0M30.2 11.0h0M64.9 43.3h0M97.4 3.6h0M80.0 74.6h0M65.2 60.8h0M53.8 33.6h0M3.9 27.3h0M42.2 44.3h0M30.0 54.4h0M48.4 16.4h0M67.7 39.5h0M88.3 46.6h0M41.2 25.5h0M62.4 42.5h0M69.5 21.0h0M86.7 39.3h0M93.1 35.0h0M23.5 18.4h0M24.1 49.0h0M93.9 5.8h0M77.6 66.1h0M100.5 3.9h0M49.0 45.7h0M23.0 11.5h0M44.0 34.3h0M55.9 63.6h0M13.4 4.1h0M58.0 62.7h0M31.6 75.2h0M61.7 12.8h0M21.3 4.6h0M8.0 2.6h0M14.2 34.2h0M9.5 5.6h0M26.9 0.1h0M90.7 6.2h0M53.1 37.8h0M53.9 21.5h0M99.7 10.7h0M75.1 29.6h0M20.0 47.3h0M103.0 53.8h0M31.3 15.2h0M2.5 30.8h0M35.8 15.8h0M25.7 62.9h0M11.0 15.9h0M0.4 48.5h0M80.6 40.9h0M35.8 31.5h0M19.7 57.1h0M85.2 45.3h0M12.1 67.3h0M33.0 20.9h0M101.3 9.6h0M85.7 35.2h0M55.3 35.0h0M53.0 20.2h0M83.5 40.5h0M36.3 40.6h0M30.7 5.6h0M35.5 39.1h0M76.2 48.4h0M84.3 55.3h0M63.8 16.5h0M39.7 15.9h0M32.3 32.1h0M42.8 53.1h0M0.1 56.9h0M60.6 29.7h0M81.3 50.1h0M51.2 0.5h0M78.5 37.0h0M47.2 62.5h0M87.8 32.6h0M39.4 16.6h0M1.7 62.6h0M100.1 9.9h0M89.4 37.0h0M78.7 51.7h0M56.4 22.8h0M81.6 53.0h0M42.1 47.8h0M32.7 19.8h0M45.3 36.2h0M4.6 63.7h0M0.2 75.9h0M64.9 26.6h0M92.2 19.6h0M101.2 0.3h0M16.7 48.6h0M31.1 24.4h0M49.9 75.1h0M53.4 27.5h0M89.4 67.0h0M31.9 58.6h0M36.2 31.9h0M1.7 50.8h0M100.3 41.3h0M89.1 37.3h0M18.4 53.5h0M101.5 20.0h0M23.8 40.9h0M9.2 4.6h0M1.2 12.5h0M43.3 19.0h0M95.3 15.8h0M80.8 47.5h0M74.7 2.2h0M45.3 2.3h0M14.3 15.3h0M98.0 21.6h0M32.6 4.3h0M102.3 53.3h0M38.6 47.3h0M58.1 26.1h0M54.9 58.4h0M96.4 55.2h0M9.0 25.7h0M33.6 68.7h0M54.2 18.9h0M70.8 8.3h0M97.3 51.5h0M70.3 54.2h0M63.4 49.8h0M56.2 60.2h0M36.1 6.9h0M87.4 23.3h0M6.8 66.9h0M66.2 40.9h0M29.5 32.7h0M75.7 36.8h0M16.1 21.4h0M91.5 33.8h0M37.7 62.6h0" stroke="#128010" stroke-width="1" stroke-linecap="round" fill="none"/><path d="M5.3 62.6h0M11.4 29.5h0M8.4 41.7h0M68.0 5.1h0M15.6 42.6h0M31.2 45.4h0M95.2 50.2h0M7.9 11.4h0M54.8 27.6h0M45.3 74.7h0M92.6 14.0h0M30.8 49.2h0M54.9 18.6h0M102.5 9.2h0M72.8 27.4h0M100.8 45.9h0M1.0 32.1h0M77.0 65.8h0M59.3 17.0h0M96.3 60.8h0M85.1 62.5h0M22.4 60.9h0M11.9 9.4h0M11.9 10.7h0M95.8 7.0h0M31.3 9.5h0M68.8 44.0h0M57.9 12.0h0M26.1 59.9h0M64.5 13.9h0M8.3 28.8h0M43.5 61.5h0M66.8 54.7h0M39.6 30.6h0M65.0 41.1h0M80.3 19.9h0M47.1 69.9h0M42.8 48.8h0M7.1 39.7h0M11.7 46.7h0M81.8 47.2h0M19.5 57.4h0M96.2 65.8h0M4.8 29.1h0M50.3 4.9h0M12.6 58.3h0M92.3 14.8h0M97.2 44.1h0M30.9 56.4h0M90.0 9.7h0M92.2 10.3h0M33.2 47.1h0M33.1 35.2h0M102.4 1.4h0M78.5 35.5h0M1.5 28.4h0M35.6 56.7h0M73.3 58.2h0M10.6 28.9h0M38.2 43.0h0M31.8 30.4h0M41.7 61.0h0M71.5 37.0h0M27.7 51.4h0M66.4 32.5h0M16.0 6.6h0M15.3 65.8h0M85.0 41.1h0M26.6 62.6h0M19.0 19.4h0M4.4 21.1h0M94.1 38.1h0M46.6 23.6h0M95.2 51.9h0M93.9 61.1h0M66.5 51.2h0M14.2 48.3h0M73.7 33.0h0M17.3 9.6h0M88.3 21.4h0M48.9 66.6h0M48.8 25.2h0M102.7 39.4h0M63.1 15.6h0M99.5 40.4h0M1.7 27.2h0M10.6 36.4h0M15.1 17.7h0M95.3 25.2h0M27.5 19.2h0M46.0 12.5h0M59.5 18.5h0M50.3 53.0h0M20.3 22.0h0M31.1 38.8h0M44.7 68.2h0M4.4 11.6h0M27.1 25.4h0M73.0 14.8h0M62.1 61.0h0M9.3 14.0h0M70.6 27.7h0M61.0 65.5h0M29.6 30.7h0M13.5 27.2h0M28.6 18.2h0M37.3 31.9h0M9.1 31.7h0M14.5 13.1h0M18.4 30.2h0M24.2 30.7h0M5.9 9.5h0M56.4 54.8h0M2.4 75.1h0M58.4 6.7h0M69.4 20.5h0M53.9 54.9h0M49.7 27.3h0M17.4 68.0h0M28.6 14.2h0M46.7 62.2h0M32.1 71.9h0M16.1 74.4h0M57.5 48.7h0M48.2 36.4h0M60.3 37.9h0M90.7 44.1h0M57.0 51.9h0M57.9 34.9h0M29.9 24.3h0M34.5 71.7h0M100.2 48.0h0M22.2 7.6h0M79.1 39.9h0M89.3 44.7h0M8.0 74.0h0M40.4 68.5h0M54.0 4.0h0M85.5 21.1h0M44.9 46.5h0M84.2 50.7h0M67.9 50.8h0M82.9 33.5h0M82.0 56.5h0M46.1 54.3h0M12.1 44.1h0M44.7 25.9h0M24.5 52.0h0M13.0 73.1h0M53.2 68.5h0M30.7 36.2h0M11.8 65.7h0M48.2 2.0h0M66.9 19.2h0M68.1 47.5h0M51.6 4.2h0M32.0 22.2h0M78.4 26.3h0M92.3 8.4h0M101.9 44.9h0M21.2 52.0h0M94.1 40.7h0M76.9 40.1h0M9.5 62.9h0M62.8 1.6h0M15.2 43.8h0M14.7 73.7h0M68.9 66.0h0M20.1 3.3h0M31.4 73.3h0M54.8 22.4h0M87.3 49.1h0M70.4 39.2h0M20.1 59.9h0M97.0 1.2h0M7.5 1.5h0M47.3 28.3h0M90.0 57.6h0M65.2 70.9h0M27.3 62.5h0M82.3 39.8h0M77.7 72.7h0M46.4 62.4h0M11.8 38.7h0M50.7 71.7h0M35.6 38.2h0M19.9 37.7h0M1.7 23.5h0" stroke="#40c030" stroke-width="1" stroke-linecap="round" fill="none"/><path d="M51.4 34.3h0M50.0 39.6h0M5.6 55.2h0M38.8 56.5h0M83.8 15.5h0M65.3 58.4h0M4.8 24.1h0M47.5 50.7h0M73.8 52.1h0M75.8 1.7h0M12.5 45.0h0M97.1 71.7h0M9.4 74.1h0M10.3 70.0h0M25.6 60.4h0M15.5 74.4h0M71.9 58.3h0M50.5 31.7h0M91.9 17.2h0M23.0 0.9h0M65.6 17.7h0M1.7 71.8h0M8.0 59.3h0M41.6 49.3h0M63.3 44.4h0M59.5 66.3h0M24.0 15.1h0M9.2 73.1h0M45.8 3.2h0M36.9 9.0h0M82.3 23.5h0M29.1 61.4h0M90.0 47.9h0M55.3 28.2h0M37.8 72.3h0M3.6 56.6h0M13.0 31.9h0M15.5 65.9h0M44.6 1.4h0M23.5 60.5h0M38.2 38.1h0M82.8 63.1h0M62.3 8.7h0M89.4 50.6h0M51.0 7.0h0M96.9 0.5h0M56.4 41.6h0M36.3 45.0h0M25.0 48.7h0M0.2 2.8h0M8.8 9.2h0M71.3 59.2h0M88.8 49.4h0M91.2 49.9h0M82.9 7.7h0M22.9 65.6h0M63.8 26.0h0M100.4 51.1h0M84.5 13.7h0M37.2 73.9h0M41.2 56.4h0M13.4 47.3h0M75.2 12.0h0M18.6 57.0h0M30.9 17.6h0M71.6 56.4h0M10.0 5.4h0M91.5 44.4h0M80.2 44.3h0M12.2 40.8h0M45.0 61.9h0M53.8 51.0h0M58.8 31.8h0M5.9 36.7h0M9.4 58.8h0M45.9 29.7h0M29.3 49.0h0M94.2 42.1h0M81.7 7.1h0M44.5 30.3h0M24.3 21.5h0M39.3 1.5h0M46.8 60.2h0M98.4 65.6h0M4.8 60.3h0M34.0 50.1h0M24.0 20.6h0M40.7 59.8h0M37.3 40.4h0M65.4 4.4h0M74.7 38.5h0M49.8 26.4h0M89.9 39.7h0M17.7 67.8h0M64.6 54.4h0M48.3 26.0h0M29.6 16.2h0M40.3 22.4h0M57.5 41.2h0M86.7 43.8h0M85.4 51.7h0M38.8 53.3h0M87.8 53.4h0M62.1 71.9h0M69.1 18.0h0M91.9 16.9h0M80.4 0.6h0M60.5 49.5h0M13.3 37.4h0M90.8 74.2h0M100.3 2.3h0M15.9 61.6h0M91.3 35.9h0M77.1 61.4h0M24.5 50.1h0M84.6 34.3h0M59.5 63.4h0M95.0 34.2h0M89.4 25.6h0M27.1 44.8h0M81.8 15.4h0M39.6 25.4h0M96.9 67.3h0M86.5 7.9h0M28.1 19.1h0M60.1 24.0h0M29.0 65.6h0M81.4 63.2h0M87.7 72.3h0M99.8 5.0h0M63.9 28.3h0M90.0 63.3h0M81.4 60.1h0M15.3 37.6h0M48.1 31.6h0M101.7 24.2h0M27.0 56.2h0M28.3 41.0h0M50.3 25.3h0M61.0 5.4h0M99.1 58.8h0M68.0 42.0h0M102.1 72.0h0M75.1 72.1h0M80.2 71.7h0M23.1 18.0h0M66.0 15.3h0M27.3 62.1h0M57.6 46.0h0M14.9 74.7h0M18.6 54.3h0M29.3 59.1h0M83.2 4.7h0M50.9 13.3h0M7.6 69.2h0M20.6 34.7h0M56.2 14.8h0M59.4 47.7h0M66.4 66.7h0M11.8 51.1h0M78.0 24.4h0M81.5 40.3h0M41.2 35.4h0M97.4 29.3h0M90.5 72.6h0M94.3 58.7h0M41.4 35.6h0M3.7 3.6h0M10.2 38.1h0M3.1 1.9h0M32.6 64.1h0M11.9 19.6h0M87.6 57.0h0M2.7 21.2h0M60.5 51.9h0M18.7 55.7h0M66.0 29.8h0M39.4 29.4h0M8.3 38.2h0M17.8 42.6h0M57.3 31.3h0M41.7 71.2h0M20.6 39.3h0M20.5 24.0h0M91.0 41.4h0M59.9 7.0h0M34.8 33.3h0M18.1 12.2h0M17.5 39.8h0M28.4 7.6h0" stroke="#1a8a12" stroke-width="1" stroke-linecap="round" fill="none"/><path d="M97.4 38.2h0M8.4 3.6h0M88.0 53.2h0M57.0 72.9h0M55.7 48.8h0M7.5 28.7h0M92.7 55.7h0M8.1 21.6h0M89.0 68.3h0M79.5 59.0h0M13.6 2.5h0M85.5 23.1h0M7.8 36.6h0M81.9 76.0h0M88.9 66.8h0M14.1 31.5h0M76.5 62.9h0M99.8 2.3h0M73.5 61.3h0M68.6 32.6h0M42.6 40.1h0M94.0 39.1h0M93.1 42.1h0M54.6 26.5h0M29.9 26.3h0M95.9 12.3h0M47.2 31.0h0M58.7 72.4h0M37.6 1.8h0M85.4 71.0h0M67.0 17.5h0M41.2 9.1h0M41.8 63.5h0M25.2 46.8h0M99.3 10.3h0M76.6 47.8h0M14.0 35.8h0M83.3 33.4h0M96.1 62.7h0M5.6 14.8h0M9.1 21.3h0M71.7 12.8h0M38.2 46.1h0M35.9 28.2h0M81.4 68.2h0M10.2 17.0h0M100.3 52.5h0M72.1 55.0h0M2.3 26.4h0M65.8 64.0h0M73.8 40.3h0M81.1 72.9h0M29.1 8.9h0M71.1 30.5h0M40.6 6.4h0M79.9 8.0h0M26.5 17.5h0M40.7 3.8h0M58.7 16.2h0M32.3 45.7h0M97.9 31.8h0M21.0 61.2h0M33.9 60.0h0M51.7 25.7h0M92.2 39.5h0M32.5 75.7h0M98.3 56.5h0M83.5 75.5h0M16.1 47.1h0M93.4 73.4h0M1.6 26.2h0M86.6 71.7h0M44.1 71.0h0M15.8 2.2h0M42.3 68.7h0M21.1 1.4h0M90.4 11.4h0M19.0 9.2h0M40.8 26.3h0M92.8 34.6h0M20.8 18.3h0M84.6 30.0h0M75.6 37.0h0M40.8 39.5h0M90.6 7.9h0M89.0 13.6h0M20.7 71.5h0M36.6 50.0h0M7.6 28.6h0M97.1 23.7h0M94.5 63.2h0M6.2 68.9h0M95.0 39.9h0M55.6 17.5h0M89.3 73.3h0M68.5 71.7h0M51.9 26.2h0M22.0 13.7h0M67.1 43.7h0M6.9 74.3h0M76.0 57.3h0M3.7 9.2h0M34.3 55.1h0M57.7 0.8h0M61.6 35.5h0M25.7 11.4h0M17.0 40.1h0M72.4 65.5h0M34.6 53.7h0M100.9 45.8h0M97.4 10.7h0M16.4 48.6h0M46.0 15.5h0M54.9 35.5h0M89.3 24.9h0M87.9 5.3h0M90.0 37.1h0M37.4 0.2h0M77.4 68.5h0M2.1 74.1h0M20.2 62.4h0M42.1 51.1h0M72.9 34.8h0M8.5 13.7h0M86.8 64.7h0M55.5 62.4h0M53.0 29.4h0M27.8 4.0h0M83.6 12.8h0M41.2 2.4h0M13.5 3.7h0M63.4 36.2h0M39.4 62.6h0M89.7 57.9h0M32.8 32.1h0M10.5 64.0h0M12.9 41.2h0M65.5 60.8h0M19.4 40.2h0M24.3 56.7h0M0.9 22.2h0M12.8 6.5h0M87.8 27.5h0M13.7 1.6h0M93.9 28.4h0M52.3 45.5h0M38.0 13.7h0M58.6 49.8h0M20.5 67.8h0M66.3 23.1h0M57.4 11.6h0M4.8 32.4h0M84.5 44.5h0M4.3 57.3h0M89.0 57.9h0M53.9 52.0h0M12.9 70.0h0M35.9 7.8h0M31.7 51.4h0M82.5 21.7h0M61.2 68.7h0M93.0 33.8h0M18.8 41.2h0M0.9 13.7h0M96.3 68.0h0" stroke="#30b020" stroke-width="1" stroke-linecap="round" fill="none"/><path d="M70.8 27.6h0M77.2 5.2h0M65.8 13.7h0M17.9 10.4h0M59.7 27.5h0M8.4 8.3h0M22.2 7.2h0M54.1 4.2h0M77.5 16.6h0M18.1 52.6h0M87.0 27.3h0M66.9 6.0h0M67.5 55.4h0M13.0 52.4h0M82.4 16.8h0M75.5 17.8h0M22.4 43.5h0M92.5 35.3h0M40.0 56.8h0M75.7 67.0h0M102.7 27.4h0M77.2 2.3h0M89.3 49.9h0M41.5 39.1h0M6.0 74.3h0M32.8 75.3h0M15.8 73.0h0M100.8 0.8h0M46.3 60.7h0M14.0 35.4h0M21.4 0.5h0M95.1 12.7h0M85.2 34.4h0M27.5 71.1h0M23.9 6.1h0M88.2 33.0h0M31.4 71.7h0M80.4 6.2h0M43.2 54.7h0M0.0 2.4h0M0.5 58.5h0M74.7 66.9h0M22.8 32.7h0M39.7 55.5h0M94.9 30.9h0M0.2 30.2h0M37.1 25.0h0M94.8 63.7h0M94.7 13.9h0M101.9 7.1h0M50.1 16.5h0M57.8 20.6h0M25.8 50.1h0M23.5 14.9h0M78.7 73.9h0M82.9 27.9h0M57.2 13.0h0M98.6 32.1h0M77.8 44.6h0M40.7 33.9h0M53.2 19.7h0M24.0 41.4h0M69.0 13.4h0M14.3 2.8h0M31.9 65.6h0M84.2 56.5h0M88.9 0.9h0M82.5 22.0h0M66.9 8.8h0M73.6 54.0h0M29.2 20.6h0M53.5 46.9h0M37.2 24.3h0M13.2 26.2h0M91.5 67.0h0M37.7 4.1h0M31.4 40.5h0M62.2 69.0h0M20.9 49.3h0M23.8 68.4h0M25.2 23.0h0M77.5 68.1h0M11.0 13.9h0M44.6 53.3h0M30.0 14.5h0M45.6 3.5h0M7.6 14.0h0M61.5 0.1h0M35.6 70.6h0M55.4 57.0h0M2.3 7.5h0M101.1 70.1h0M7.7 8.1h0M3.2 50.0h0M50.1 48.3h0M85.9 53.7h0M51.8 10.7h0M70.8 61.9h0M59.3 37.4h0M18.7 17.0h0M37.8 43.1h0M66.7 25.0h0M54.5 46.9h0M4.9 48.6h0M29.1 41.9h0M9.8 21.5h0M87.7 16.3h0M17.3 21.0h0M53.2 15.9h0M26.9 5.0h0M35.3 67.9h0M56.0 4.7h0M49.1 53.6h0M52.9 38.0h0M48.1 48.1h0M3.3 11.5h0M12.6 33.6h0M1.4 41.4h0M36.9 40.5h0M37.6 65.3h0M69.2 40.0h0M8.2 1.3h0M55.2 32.1h0M32.2 11.4h0M6.6 26.7h0M51.0 34.9h0M86.5 72.9h0M86.6 8.4h0M80.2 18.5h0M37.2 56.1h0M97.4 18.0h0M1.9 56.7h0M92.7 54.1h0M45.6 12.4h0M77.3 71.1h0M74.4 4.0h0M26.7 14.7h0M35.0 53.5h0M65.3 50.0h0M54.8 48.5h0M100.5 19.4h0M65.2 58.5h0M81.4 55.8h0M59.8 64.4h0M41.0 74.8h0M8.3 39.1h0M58.1 27.1h0M87.1 36.8h0M33.9 3.1h0M22.4 62.4h0M3.7 24.1h0M40.9 6.8h0M87.6 69.8h0M28.4 67.8h0M42.2 12.2h0M36.1 46.7h0M6.2 24.3h0M19.3 6.5h0M69.4 23.8h0M62.9 73.3h0M15.9 56.5h0M100.0 39.7h0M33.4 25.8h0M33.3 64.1h0M57.4 34.6h0M72.1 18.4h0M58.2 4.8h0" stroke="#22a818" stroke-width="1" stroke-linecap="round" fill="none"/><path d="M93.0 18.8L104.6 20.7M6.9 51.7L14.5 52.5M80.4 57.2L89.8 59.0M17.1 46.2L22.7 47.6M-3.9 2.4L7.1 6.5M60.6 71.7L69.2 73.2M99.6 78.0L106.9 79.6M92.8 -2.7L99.6 -1.1M64.9 45.8L72.1 46.0M29.8 37.1L37.6 37.9M31.5 50.4L38.1 52.0M71.5 12.2L80.1 14.6M-4.2 32.8L6.9 34.1M81.5 12.9L87.6 15.5M45.1 -3.7L51.8 -1.8M32.2 24.2L42.6 27.6M40.3 57.0L50.5 59.3M4.7 74.6L15.0 78.4M94.7 59.0L104.7 62.0M52.5 9.2L60.7 11.2M-8.2 24.0L1.5 26.5M27.6 -2.6L38.4 -1.0M5.9 17.8L14.0 19.6M33.4 21.0L40.5 23.6M78.4 75.8L85.3 78.7M37.2 59.0L44.0 60.9M95.5 3.7L100.7 5.9M65.5 6.1L71.4 7.5" stroke="#d01800" stroke-width="1.5" stroke-linecap="round" fill="none" opacity="0.8"/><path d="M83.1 13.7L94.4 14.8M97.1 16.3L105.8 17.2M56.3 70.1L67.2 72.6M22.2 57.6L31.1 60.0M68.2 59.5L75.8 60.6M30.5 13.4L38.6 15.4M92.1 2.5L102.6 6.8M80.1 23.9L86.6 25.2M25.6 23.5L32.2 24.6M44.1 52.0L51.9 54.2M41.3 19.5L50.0 21.8M95.7 43.6L104.6 46.4M90.8 37.1L95.8 37.9M89.8 54.4L100.9 55.3M15.6 63.3L25.8 66.8M83.3 36.0L88.9 37.7M90.4 20.1L96.4 21.9M99.9 43.6L111.7 45.0M70.9 34.5L80.4 37.1M65.2 38.5L73.8 39.6M53.6 73.9L60.8 75.3M56.4 39.9L67.7 40.2M47.6 54.6L53.4 55.9M68.8 16.1L77.0 17.7M23.5 60.3L33.6 61.9M20.2 48.7L30.4 49.9M29.1 76.7L37.5 78.5M32.9 22.3L39.9 24.4M6.5 7.9L13.4 9.8" stroke="#b81400" stroke-width="1.5" stroke-linecap="round" fill="none" opacity="0.8"/><path d="M41.8 6.8L48.1 8.5M56.2 57.0L61.6 57.1M76.5 3.6L86.8 5.0M85.2 44.2L90.2 44.8M12.3 6.1L21.1 6.7M18.9 56.8L24.5 59.1M46.5 66.7L57.2 70.1M71.8 59.6L80.7 61.1M20.3 11.4L30.4 13.9M52.8 59.0L63.3 60.5M74.5 52.5L84.6 53.9M91.6 64.0L98.4 65.8M72.1 48.9L78.2 49.0M44.2 26.5L55.5 29.4M81.1 15.5L89.9 17.8M58.1 21.2L68.5 22.4M81.3 39.2L91.8 43.1M75.3 14.7L83.1 14.8M85.8 10.7L93.7 10.6M16.5 10.7L25.2 13.6M31.2 65.2L37.3 66.5M42.8 54.9L50.1 55.8M49.4 19.1L58.3 23.5M93.7 55.2L101.1 57.2" stroke="#c81800" stroke-width="1.5" stroke-linecap="round" fill="none" opacity="0.8"/><path d="M33.5 28.2L43.6 30.1M21.5 21.1L33.1 23.6M8.2 5.6L14.6 7.1M78.9 34.9L87.2 36.0M47.5 25.3L58.0 28.4M9.9 76.9L19.0 78.6M6.1 48.0L15.6 49.5M6.8 55.4L18.5 57.1M64.9 64.6L70.3 66.3M104.4 70.5L110.6 72.3M81.2 71.8L91.0 75.7M66.0 4.3L76.7 6.0M83.8 46.2L94.6 48.8M16.9 73.9L27.6 76.4M74.0 3.0L84.9 5.6M36.0 59.0L41.5 59.6M62.0 16.9L71.6 19.7M14.7 22.3L24.8 24.6M93.5 8.7L104.7 9.2M27.8 48.1L34.0 49.7M34.8 18.8L40.7 20.0M90.2 2.5L97.1 4.2M78.4 67.4L84.6 67.3M44.0 59.1L52.1 60.3" stroke="#a01000" stroke-width="1.5" stroke-linecap="round" fill="none" opacity="0.8"/><path d="M21.4 26.1L28.8 28.3M54.1 -0.1L61.0 2.2M-3.0 22.4L8.1 25.4M1.1 75.0L9.3 75.9M13.3 0.1L21.5 1.8M92.3 13.5L102.1 14.5M46.9 73.3L57.5 75.9M19.0 59.0L25.5 61.7M27.8 -2.3L38.3 1.4M15.0 25.8L23.1 27.2M26.3 25.3L33.6 26.5M94.0 39.8L105.2 41.2M74.8 -1.1L83.8 -0.1M18.6 48.0L30.0 51.1M46.2 42.7L54.3 45.6M8.8 41.2L16.4 45.2M73.6 50.4L79.8 51.6M84.8 78.4L92.3 79.5M43.4 58.6L54.7 60.0M66.9 3.7L73.5 5.4M79.1 33.0L90.1 35.5" stroke="#d01800" stroke-width="1" stroke-linecap="round" fill="none" opacity="0.8"/><path d="M73.8 21.2L81.4 24.3M8.1 20.7L18.9 21.0M22.6 51.6L32.7 55.2M78.8 55.1L86.0 56.6M95.1 -2.9L104.1 -1.3M104.6 17.9L110.1 19.2M99.3 22.7L108.3 25.0M13.0 58.4L17.8 60.5M87.7 76.5L96.7 77.2M-3.9 67.8L6.9 70.6M15.2 14.9L21.9 16.2M3.0 40.7L11.0 42.4M95.4 56.9L102.2 59.6M32.4 1.4L41.6 3.4M93.5 50.4L98.8 52.2M84.2 4.9L91.1 6.2M89.0 67.5L94.2 69.2M32.5 44.5L43.3 47.9M73.4 47.6L85.0 50.2M19.4 7.0L29.1 9.0M22.2 16.6L30.3 18.6M48.9 30.0L53.8 31.2M13.7 36.9L20.3 39.2M-0.2 48.7L7.5 51.5M88.8 9.7L99.6 13.0M-3.5 16.0L6.1 17.7M19.6 53.2L28.8 55.3M40.9 70.1L47.6 71.2M2.9 51.3L8.9 53.3M77.4 63.2L85.4 64.8M-1.4 3.9L9.3 5.8M43.5 21.3L51.5 24.0M9.0 -2.5L19.2 -3.0" stroke="#b81400" stroke-width="1" stroke-linecap="round" fill="none" opacity="0.8"/><path d="M17.0 64.3L27.3 65.9M3.0 4.5L11.5 4.8M83.2 69.4L93.3 71.6M41.9 73.5L52.4 76.3M-5.2 26.2L4.7 28.5M44.5 65.0L55.8 66.6M54.8 20.9L64.0 22.7M23.7 54.4L34.3 56.0M94.0 40.1L101.0 42.0M20.5 4.8L29.1 7.1M27.8 14.1L33.4 15.3M74.6 25.2L83.3 26.6M54.9 36.3L63.3 37.9M83.9 33.7L94.8 35.7M33.4 41.5L44.5 41.8M4.5 33.2L11.1 34.5M70.0 10.4L81.4 10.6M81.2 51.9L91.0 56.7M49.2 -4.5L58.2 -1.2M-4.6 30.7L0.5 31.7M46.0 49.6L53.1 51.9M97.0 71.6L107.9 74.3M16.6 37.5L26.9 40.4M11.0 54.7L18.2 56.5M6.8 50.6L12.5 51.5M27.8 55.6L36.1 56.6M71.7 11.7L81.4 13.7M43.8 52.3L52.1 54.5M67.7 18.0L76.8 20.3M19.0 67.8L28.8 71.4M30.8 65.4L41.2 68.2M74.9 59.4L81.1 60.5M11.9 28.1L19.0 32.0M57.8 72.0L68.6 75.1M-7.7 43.7L-0.7 45.2M75.4 67.9L83.8 72.2" stroke="#c81800" stroke-width="1" stroke-linecap="round" fill="none" opacity="0.8"/><path d="M89.5 12.5L99.3 14.7M63.8 78.3L70.3 79.6M33.9 64.3L40.5 65.5M77.2 59.4L88.1 61.7M-0.9 58.1L7.6 59.6M52.2 25.2L60.1 26.8M20.2 27.7L29.1 30.2M24.6 41.4L30.6 44.0M50.3 18.4L55.2 19.1M61.3 31.5L66.7 32.5M36.8 1.7L42.0 3.0M71.4 50.1L79.3 50.1M71.7 50.6L83.1 53.6M70.3 4.1L81.6 8.0M47.1 39.1L53.3 41.1M57.0 62.8L63.3 63.6M73.8 48.1L84.2 50.5M88.2 48.1L93.6 48.7M4.0 41.9L15.6 42.6M59.6 29.7L67.1 31.2M65.9 13.1L76.9 15.8M76.7 23.3L83.9 24.3M48.3 59.1L56.1 60.7M29.4 42.7L40.0 45.6M54.6 28.0L63.3 29.6M97.1 -0.3L105.8 1.8M64.2 9.9L75.7 13.0M38.5 8.4L48.5 10.9M9.5 77.4L18.3 78.9M45.9 16.1L55.3 19.3M47.4 36.3L56.8 39.1M9.4 14.6L15.5 17.4M-1.7 28.0L9.4 29.1M81.8 71.9L92.7 73.4M61.8 74.4L71.2 75.5" stroke="#a01000" stroke-width="1" stroke-linecap="round" fill="none" opacity="0.8"/><path d="M97.0 19.3L101.5 20.1M58.0 57.1L60.1 57.1M70.6 59.8L73.2 60.2M63.7 72.4L66.0 72.8M15.0 6.2L17.4 6.4M95.7 3.4L100.8 5.5M81.8 35.2L85.6 35.7M75.1 12.9L78.3 13.8M92.4 37.2L93.9 37.5M97.5 60.0L101.4 61.1M67.9 38.8L70.6 39.1M77.4 14.7L80.8 14.8M56.0 74.3L58.4 74.7M34.0 65.8L36.0 66.2M43.7 55.2L47.3 55.7M81.2 76.5L83.9 77.6M29.5 48.5L32.4 49.3M22.1 49.0L27.1 49.6M8.9 8.4L12.0 9.2" stroke="#ff3000" stroke-width="1" stroke-linecap="round" fill="none" opacity="0.9"/><path d="M43.6 7.6L45.5 8.1M79.7 4.0L83.3 4.5M25.6 22.1L29.1 22.8M102.3 78.6L105.7 79.4M73.9 60.0L76.9 60.5M50.3 26.3L55.4 27.8M23.8 12.2L28.6 13.4M82.8 24.2L85.3 24.7M56.2 59.6L59.9 60.1M43.3 20.4L46.3 21.2M93.6 64.4L95.8 65.0M74.0 48.9L76.5 49.0M-1.7 33.1L3.6 33.7M83.7 13.6L85.5 14.4M99.3 44.5L102.0 45.4M84.6 16.4L87.7 17.2M43.9 57.8L48.3 58.8M54.9 9.9L58.6 10.7M51.9 20.7L56.0 22.7M27.6 60.9L31.0 61.5M40.4 59.4L42.2 59.9M47.3 59.4L50.1 59.8" stroke="#ff5010" stroke-width="1" stroke-linecap="round" fill="none" opacity="0.9"/><path d="M10.2 52.1L12.1 52.3M83.4 57.9L85.8 58.4M33.4 14.3L35.6 14.9M94.0 -2.1L96.5 -1.5M50.1 67.9L53.0 68.8M28.8 23.8L30.9 24.1M46.5 52.6L50.0 53.6M10.4 48.6L12.8 48.9M47.1 27.5L52.1 28.7M10.4 55.9L16.0 56.7M36.3 25.2L39.9 26.3M68.8 4.8L72.4 5.4M91.9 20.7L94.1 21.4M-5.7 24.7L-1.7 25.8M32.0 -2.0L35.3 -1.5M35.8 22.0L38.8 23.1M49.4 55.2L51.1 55.6M71.6 16.8L74.7 17.4M31.7 77.4L34.6 78.1M92.1 3.2L94.1 3.7M80.6 67.4L83.7 67.4M35.8 22.7L38.6 23.6" stroke="#f07020" stroke-width="1" stroke-linecap="round" fill="none" opacity="0.9"/><path d="M24.1 26.9L27.1 27.8M76.5 22.4L79.9 23.7M86.6 14.1L92.2 14.6M99.5 16.6L103.8 17.0M66.7 78.7L68.8 79.2M0.6 23.2L5.3 24.5M81.2 60.1L85.7 61.0M106.3 18.1L108.6 18.7M19.6 46.4L22.1 47.0M46.8 65.4L52.1 66.1M22.5 28.3L26.2 29.3M97.0 40.8L99.5 41.5M87.8 44.4L89.4 44.6M23.1 5.3L26.1 6.1M16.5 0.7L18.8 1.2M62.9 31.8L64.5 32.0M14.1 59.2L16.3 60.1M74.1 50.1L76.9 50.1M-1.7 68.4L3.5 69.8M16.8 15.4L19.8 15.9M74.5 51.5L79.6 52.9M6.6 33.5L9.6 34.1M77.5 53.0L82.3 53.6M32.0 -1.2L34.8 -0.2M17.7 26.1L21.5 26.8M27.6 25.7L31.0 26.2M34.5 1.9L37.8 2.7M94.9 50.6L97.3 51.4M47.8 39.5L50.8 40.4M89.5 67.8L92.0 68.6M76.6 48.9L80.0 49.7M8.1 42.0L12.8 42.3M77.9 -0.7L82.2 -0.2M69.4 14.1L73.4 15.0M78.4 23.7L80.7 24.1M51.6 -3.4L54.9 -2.2M75.9 48.3L81.6 49.5M48.8 43.3L52.4 44.5M84.2 36.7L86.2 37.4M48.6 50.7L50.4 51.3M10.5 42.6L14.0 44.4M57.1 28.4L60.7 29.1M86.8 47.0L91.6 48.2M74.7 35.5L77.2 36.2M83.9 40.6L88.5 42.3M21.0 74.6L24.5 75.4M64.5 18.1L67.3 18.9M43.5 70.3L46.7 70.8M76.9 59.5L79.7 60.1M41.3 9.3L45.1 10.2M36.1 19.2L38.9 19.8M48.4 16.7L53.0 18.3M67.7 6.5L70.4 7.2M11.3 15.4L12.9 16.1M1.1 28.2L6.5 28.7M68.8 4.2L71.9 5.0M12.5 -2.6L17.0 -2.8" stroke="#ff3000" stroke-width="0.5" stroke-linecap="round" fill="none" opacity="0.9"/><path d="M20.6 64.6L24.5 65.2M56.8 0.5L58.7 1.1M11.1 20.8L15.1 20.9M85.8 70.1L89.9 71.0M26.3 53.0L29.0 53.9M44.1 74.1L48.8 75.4M92.8 13.2L97.7 14.3M-1.8 27.2L1.1 27.8M35.4 64.7L37.3 65.1M54.0 25.6L56.8 26.1M58.0 21.6L62.1 22.4M0.1 3.5L4.0 4.9M9.5 6.3L11.6 6.8M52.1 18.6L53.9 18.8M31.6 37.4L33.9 37.7M32.4 50.9L35.7 51.7M77.5 25.7L81.6 26.4M87.6 34.1L91.9 34.9M38.0 41.6L41.3 41.7M39.4 2.2L41.3 2.7M11.8 77.3L15.3 77.9M5.6 41.4L7.8 41.9M47.4 -3.3L50.3 -2.4M98.3 40.3L102.4 40.8M66.6 65.1L69.0 65.8M22.4 49.3L25.9 50.2M60.9 21.6L64.3 22.0M50.2 59.6L53.2 60.2M-3.0 30.8L-0.6 31.3M32.9 43.5L36.3 44.4M74.6 50.6L77.4 51.1M102.6 44.0L107.7 44.6M15.6 37.5L18.2 38.4M8.3 50.9L11.1 51.3M8.2 18.3L11.1 19.0M36.9 59.1L39.4 59.4M45.1 53.2L48.9 54.2M33.8 66.3L38.9 67.7M60.2 40.0L65.4 40.1M22.3 54.0L25.4 54.8M100.5 0.2L104.0 1.1M96.1 56.1L98.6 56.7M86.0 78.6L89.5 79.1M61.0 72.9L65.8 74.3M97.2 4.6L99.3 5.5M81.5 33.8L86.8 35.0M86.2 72.4L90.2 73.0M65.7 74.7L68.3 75.0" stroke="#ff5010" stroke-width="0.5" stroke-linecap="round" fill="none" opacity="0.9"/><path d="M5.2 4.6L9.4 4.7M82.0 55.7L84.7 56.3M98.1 -2.6L102.0 -1.9M60.4 70.9L63.5 71.6M38.0 28.9L40.9 29.4M2.3 58.8L4.6 59.3M101.3 23.1L105.7 24.3M24.8 58.2L29.1 59.3M26.6 54.9L30.3 55.4M27.1 42.8L28.7 43.4M3.8 75.4L6.4 75.7M19.8 57.2L22.2 58.2M94.6 13.8L98.3 14.2M67.8 45.9L70.5 46.0M28.8 14.6L30.7 15.0M57.3 36.9L60.4 37.4M90.8 76.7L94.6 77.0M50.0 74.4L53.4 75.2M19.9 59.7L22.9 61.0M97.5 57.7L99.8 58.6M73.8 10.5L76.9 10.6M85.4 5.1L88.6 5.7M74.0 5.2L78.9 6.9M58.6 63.1L61.3 63.4M90.6 48.2L92.4 48.4M107.0 71.0L109.5 71.7M84.0 53.6L87.6 55.4M93.1 54.7L95.9 54.9M37.0 45.8L40.1 46.7M62.6 30.2L65.6 30.9M8.6 75.8L11.2 76.7M19.6 64.2L23.0 65.4M85.1 73.0L88.8 74.5M22.2 7.6L25.8 8.3M101.0 72.2L105.6 73.3M24.9 17.3L28.4 18.1M19.2 38.2L23.0 39.3M49.4 30.3L51.5 30.9M12.9 55.3L15.2 55.9M1.8 49.9L3.9 50.7M88.2 10.7L90.6 10.7M92.7 10.8L96.0 11.8M30.9 56.1L32.9 56.3M-0.5 16.6L2.6 17.1M77.7 3.6L81.8 4.6M75.5 12.2L78.6 12.8M69.9 18.5L73.3 19.4M18.7 11.6L22.4 12.8M21.2 69.1L24.9 70.5M17.9 22.9L22.2 23.9M96.8 8.8L102.1 9.0M5.3 52.1L7.1 52.7M67.7 11.0L71.7 12.2M15.2 29.9L17.2 31.0M45.9 58.9L51.0 59.5M11.8 77.9L15.2 78.5M79.1 63.8L82.7 64.5M1.3 4.6L5.4 5.3M45.3 21.9L48.9 23.1M50.5 37.3L53.9 38.4M-4.9 44.1L-2.1 44.7M77.6 69.6L80.4 71.1" stroke="#f07020" stroke-width="0.5" stroke-linecap="round" fill="none" opacity="0.9"/></g></svg>
<svg x="544" y="546" width="102" height="76" viewBox="0 0 102 76" overflow="hidden"><rect width="102" height="76" fill="#1a0600"/><g filter="url(#bl)"><path d="M28.3 74.5h0M76.5 66.2h0M69.5 47.3h0M100.4 71.2h0M7.6 11.7h0M52.5 18.5h0M19.1 16.3h0M91.9 37.3h0M47.5 41.7h0M27.8 53.6h0M51.5 28.4h0M43.1 71.0h0M49.7 46.8h0M69.1 74.9h0M73.4 35.0h0M66.6 6.8h0M24.6 38.2h0M8.4 0.4h0M24.9 22.3h0M4.7 23.7h0M20.5 32.9h0M46.8 35.9h0M14.9 71.9h0M86.9 71.8h0M0.8 4.1h0M23.2 3.5h0M29.1 17.5h0M84.4 75.2h0M16.2 29.0h0M47.8 45.8h0M0.4 67.1h0M57.9 40.0h0M53.6 27.5h0M74.6 51.8h0M69.0 63.4h0M86.2 0.1h0M44.8 18.0h0M30.0 2.7h0M66.4 7.3h0M86.5 73.3h0M5.9 47.4h0M12.5 49.0h0M1.0 32.9h0M24.1 20.8h0M15.8 64.5h0M83.4 15.9h0M29.9 20.9h0M64.8 28.2h0M59.2 16.1h0M37.6 21.5h0M10.1 32.2h0M53.4 49.4h0M98.6 62.1h0M30.9 43.8h0M14.8 64.5h0M46.6 73.2h0M34.5 51.1h0M14.6 54.8h0M52.1 26.7h0M90.6 35.6h0M43.9 39.9h0M41.7 58.8h0M63.2 14.3h0M69.5 33.8h0M54.0 60.2h0M59.0 38.3h0M14.5 48.8h0M39.9 73.7h0M40.3 38.6h0M101.5 2.8h0M88.4 24.9h0M90.2 51.6h0M89.2 29.2h0M96.7 22.0h0M72.1 52.7h0M66.3 23.9h0M74.4 5.0h0M65.4 24.1h0M17.5 53.8h0M96.5 5.8h0M29.3 70.8h0M26.3 17.2h0M62.0 74.0h0M79.9 63.4h0M24.2 61.7h0M68.7 44.2h0M79.1 42.3h0M88.6 9.5h0M22.0 13.5h0M84.3 35.5h0M99.1 0.5h0M23.8 18.5h0M41.4 25.8h0M26.9 51.6h0M92.2 49.0h0M56.9 65.6h0M79.0 40.7h0M60.8 74.9h0M5.7 70.0h0M20.7 68.6h0M8.5 35.6h0M30.4 19.1h0M42.4 29.6h0M58.5 64.2h0M20.1 20.0h0" stroke="#1a8a12" stroke-width="0.9" stroke-linecap="round" fill="none"/><path d="M46.2 51.3h0M39.5 64.2h0M63.9 18.8h0M68.9 7.1h0M80.4 72.2h0M0.6 65.3h0M12.2 63.9h0M94.2 51.7h0M89.1 24.6h0M93.6 44.5h0M1.3 26.6h0M24.5 20.6h0M92.8 48.3h0M68.9 68.8h0M55.6 58.7h0M72.7 65.1h0M63.5 4.9h0M95.0 42.6h0M101.6 15.8h0M100.8 56.4h0M101.7 59.8h0M3.8 66.5h0M50.9 62.6h0M0.9 70.9h0M25.1 12.4h0M11.8 6.4h0M65.1 59.4h0M49.8 0.5h0M80.4 70.8h0M16.3 19.1h0M30.6 44.6h0M65.6 55.6h0M95.2 10.6h0M45.6 31.8h0M49.0 25.0h0M12.6 41.4h0M24.3 17.6h0M79.2 4.3h0M85.4 12.5h0M84.0 14.6h0M47.9 75.1h0M11.4 16.2h0M60.0 61.0h0M40.3 70.1h0M7.5 46.8h0M49.7 8.5h0M74.5 59.6h0M12.6 7.8h0M9.3 37.4h0M83.5 54.3h0M86.0 55.4h0M40.0 52.7h0M51.6 18.8h0M54.5 36.7h0M57.5 10.2h0M48.9 37.8h0M49.3 59.5h0M7.9 13.3h0M50.0 6.8h0M43.1 69.0h0M74.6 38.0h0M33.2 24.5h0M56.4 66.6h0M87.6 51.8h0M11.5 55.9h0M10.8 55.2h0M41.7 41.2h0M27.5 15.6h0M29.9 69.4h0M10.2 38.1h0M15.6 31.2h0M32.4 58.5h0M65.5 39.6h0M62.4 70.6h0M17.5 44.6h0M85.6 34.0h0M56.2 66.0h0M85.2 10.2h0M97.0 19.2h0M7.8 24.7h0M56.5 27.5h0M27.9 51.9h0M30.7 37.2h0M39.6 27.6h0M23.1 19.9h0M23.0 0.2h0M81.0 37.4h0M4.4 56.6h0M31.6 73.7h0M44.4 34.6h0M76.9 48.2h0M70.0 9.1h0M80.0 39.1h0M99.0 54.8h0M88.5 68.0h0M95.8 47.9h0M27.8 25.9h0M15.0 62.4h0M45.4 15.3h0M101.3 61.5h0M22.3 5.3h0M33.8 8.5h0M73.7 75.0h0M91.4 18.7h0M54.7 61.0h0M42.3 9.6h0M58.1 54.4h0M92.6 6.6h0M3.9 73.7h0M102.0 39.0h0M38.1 74.9h0M57.5 45.1h0M60.7 63.1h0M12.6 27.3h0M33.4 60.2h0M33.8 51.9h0M34.9 4.7h0M30.1 51.9h0M3.0 26.1h0M74.7 52.9h0M41.4 15.8h0M17.9 30.9h0" stroke="#22a818" stroke-width="0.9" stroke-linecap="round" fill="none"/><path d="M91.2 63.1h0M3.9 41.4h0M12.4 68.8h0M77.4 8.6h0M93.5 36.0h0M76.4 71.8h0M82.9 35.0h0M79.0 51.4h0M64.1 42.2h0M40.9 69.7h0M35.5 10.6h0M63.0 8.2h0M51.7 73.1h0M5.8 47.1h0M69.3 11.6h0M66.2 71.9h0M89.8 54.0h0M90.6 64.5h0M90.4 47.1h0M17.4 20.1h0M99.9 44.0h0M87.8 6.5h0M59.9 38.9h0M64.4 7.0h0M95.3 30.2h0M3.7 69.3h0M19.4 11.1h0M30.4 61.3h0M64.5 12.1h0M52.1 1.8h0M19.7 40.7h0M51.1 34.1h0M38.1 61.1h0M101.9 22.4h0M66.1 68.8h0M60.3 19.6h0M74.2 16.7h0M100.2 63.4h0M41.6 58.8h0M30.5 71.1h0M73.9 4.9h0M79.0 61.9h0M92.7 62.4h0M51.9 7.3h0M69.6 67.7h0M4.0 39.7h0M71.0 62.4h0M79.5 49.9h0M20.3 62.6h0M87.5 2.6h0M8.1 32.8h0M26.3 54.5h0M1.5 39.3h0M54.0 56.8h0M77.0 5.1h0M74.4 53.6h0M28.3 52.8h0M44.5 2.8h0M74.9 52.3h0M26.0 52.4h0M97.2 75.8h0M46.4 12.8h0M47.6 18.6h0M27.1 66.9h0M89.6 23.9h0M30.9 9.3h0M51.6 38.6h0M61.8 29.8h0M72.6 73.7h0M2.1 68.0h0M13.6 47.2h0M41.7 3.4h0M88.3 8.6h0M68.2 70.5h0M42.7 59.1h0M76.3 25.3h0M27.3 38.2h0M88.4 2.7h0M14.3 26.1h0M72.2 63.1h0M61.5 13.3h0M60.9 15.6h0M96.7 58.4h0M30.7 45.7h0M25.6 47.6h0M46.2 10.3h0M88.2 3.0h0M86.7 45.3h0M35.3 3.0h0M8.8 27.9h0M5.7 76.0h0M35.0 25.2h0M95.6 35.3h0M45.9 2.9h0M11.8 14.7h0M34.5 57.1h0M60.8 0.0h0M87.6 27.5h0M5.9 70.9h0M18.7 49.8h0M100.9 43.2h0M12.4 15.9h0M32.6 59.4h0M66.7 59.9h0M41.8 41.4h0M43.2 10.1h0M88.5 9.4h0M57.2 70.7h0M49.2 13.4h0M56.0 8.3h0M26.1 35.3h0M39.1 1.6h0M45.0 1.2h0" stroke="#128010" stroke-width="0.9" stroke-linecap="round" fill="none"/><path d="M45.4 5.2h0M80.8 7.8h0M48.0 40.1h0M35.9 17.9h0M92.8 60.4h0M66.4 43.6h0M19.6 47.9h0M35.7 2.0h0M14.4 33.4h0M99.2 16.2h0M80.8 33.1h0M9.8 9.6h0M15.4 54.6h0M8.1 5.9h0M73.1 46.2h0M56.0 25.4h0M29.4 27.0h0M96.6 32.1h0M52.1 49.8h0M92.5 48.7h0M76.4 67.7h0M71.0 62.7h0M9.2 15.5h0M68.3 66.4h0M28.9 55.4h0M11.7 66.8h0M61.7 10.5h0M80.2 36.4h0M1.7 65.4h0M22.2 53.6h0M97.0 7.0h0M71.8 62.1h0M40.5 31.9h0M43.8 13.1h0M66.2 3.7h0M69.2 73.1h0M30.9 10.3h0M37.7 13.1h0M70.3 65.3h0M39.8 47.0h0M83.8 60.5h0M66.9 40.2h0M18.8 55.2h0M29.0 47.7h0M16.7 47.1h0M27.7 49.1h0M79.9 68.0h0M88.2 44.9h0M24.8 27.7h0M31.4 14.9h0M14.9 75.0h0M5.0 63.7h0M40.2 25.7h0M11.4 14.6h0M29.1 32.5h0M90.3 45.0h0M94.9 73.4h0M8.1 69.9h0M89.0 57.0h0M25.3 75.9h0M43.2 43.1h0M53.5 7.9h0M42.3 24.9h0M78.6 53.7h0M59.7 64.9h0M56.5 38.2h0M22.8 49.7h0M44.9 54.4h0M56.6 37.1h0M50.4 8.4h0M19.2 3.5h0M71.2 41.2h0M81.9 76.0h0M43.5 40.6h0M4.7 2.7h0M52.4 16.6h0M35.5 18.0h0M86.9 51.4h0M6.8 16.2h0M94.5 45.6h0M49.3 4.0h0M5.8 36.9h0M50.4 40.6h0M62.2 24.6h0M95.6 73.6h0M94.5 22.2h0M29.7 28.0h0M75.7 13.8h0M1.3 48.4h0M79.6 40.8h0M86.7 65.7h0M85.7 21.5h0M44.6 56.6h0M77.9 71.5h0M89.9 50.4h0M96.9 2.2h0M37.5 66.7h0M34.8 62.7h0M57.2 34.1h0M66.0 0.3h0M29.4 65.1h0M86.9 16.6h0M61.0 43.5h0M62.0 43.9h0M86.8 54.5h0M32.9 48.6h0M77.0 1.3h0M6.7 65.0h0M69.4 73.4h0M97.0 51.2h0" stroke="#30b020" stroke-width="0.9" stroke-linecap="round" fill="none"/><path d="M93.3 32.9h0M79.1 49.6h0M84.3 36.7h0M16.6 69.9h0M91.6 65.3h0M50.8 35.0h0M65.7 32.5h0M49.5 75.5h0M45.3 39.5h0M27.4 11.6h0M8.2 25.7h0M17.1 32.6h0M74.2 22.0h0M70.7 34.6h0M80.3 21.8h0M10.3 28.2h0" stroke="#ff8020" stroke-width="2" stroke-linecap="round" fill="none" opacity="0.85"/><path d="M67.6 37.0h0M23.9 32.9h0M20.7 16.6h0M12.2 40.7h0M16.4 0.2h0M65.8 72.8h0M97.6 35.2h0M19.8 14.6h0M92.3 50.9h0" stroke="#c01800" stroke-width="2" stroke-linecap="round" fill="none" opacity="0.85"/><path d="M83.8 9.3h0M26.0 25.8h0M62.8 49.0h0M58.7 15.6h0M66.2 4.8h0M11.5 16.2h0M84.4 72.0h0M49.7 12.6h0M32.6 50.2h0" stroke="#f06000" stroke-width="2" stroke-linecap="round" fill="none" opacity="0.85"/><path d="M97.1 39.7h0M65.1 18.6h0M8.4 40.7h0M19.2 15.7h0M57.3 71.6h0M76.7 46.0h0" stroke="#ff4000" stroke-width="2" stroke-linecap="round" fill="none" opacity="0.85"/><path d="M42.7 65.6h0M38.4 31.4h0M11.6 63.4h0M45.6 9.2h0M75.7 51.1h0M1.8 5.5h0M21.5 10.1h0M44.5 60.5h0M33.9 28.0h0M32.7 56.5h0M54.1 6.2h0" stroke="#b81400" stroke-width="2" stroke-linecap="round" fill="none" opacity="0.85"/><path d="M57.8 52.1h0M90.7 74.4h0M46.2 43.0h0M37.3 32.2h0M63.2 46.3h0M22.9 26.0h0M27.1 29.9h0M100.6 43.4h0M17.1 22.0h0M3.1 43.2h0" stroke="#e83000" stroke-width="2" stroke-linecap="round" fill="none" opacity="0.85"/><path d="M80.6 32.5h0M92.0 44.4h0M66.9 69.6h0M67.6 6.0h0" stroke="#d02000" stroke-width="2" stroke-linecap="round" fill="none" opacity="0.85"/><path d="M3.9 32.5h0M44.3 14.3h0M76.2 56.5h0M56.7 16.5h0M35.5 14.9h0M19.0 51.3h0M90.4 18.4h0M28.4 66.2h0M58.4 0.4h0M52.1 10.1h0M25.3 40.4h0M88.1 22.2h0M8.3 8.9h0M10.6 9.7h0M73.7 17.6h0M39.9 16.8h0M82.3 40.6h0M22.6 65.0h0M99.6 26.0h0M76.8 33.6h0M75.5 71.1h0M10.0 65.5h0M73.6 60.4h0M72.4 5.7h0M10.5 35.7h0M7.1 12.0h0M26.1 62.2h0M89.6 40.1h0M88.1 37.6h0M50.0 43.2h0M100.4 63.6h0M11.2 40.6h0M79.0 24.9h0M32.0 61.2h0M43.0 43.1h0M8.6 45.2h0M1.0 63.1h0M16.2 39.3h0M59.7 39.9h0M45.1 30.5h0M94.4 63.3h0M25.2 28.8h0M26.8 53.2h0M84.1 6.4h0M49.9 23.0h0M6.6 30.6h0M63.5 2.4h0M38.5 10.6h0M40.2 12.4h0M43.0 47.2h0M76.5 54.5h0M85.1 1.1h0M49.4 20.0h0M6.9 42.3h0M29.5 68.5h0M42.0 63.6h0M79.3 45.3h0M93.7 70.1h0M77.7 37.4h0M68.4 56.0h0M50.6 53.7h0M38.9 60.1h0M3.6 57.6h0M25.4 27.3h0M45.5 69.3h0M20.9 3.9h0M22.8 32.6h0M45.1 57.6h0M9.6 75.1h0M20.9 62.1h0M0.9 3.5h0M62.1 40.1h0M84.7 62.4h0" stroke="#d02000" stroke-width="1.5" stroke-linecap="round" fill="none" opacity="0.85"/><path d="M37.8 10.9h0M32.6 57.0h0M42.2 4.4h0M72.0 66.7h0M10.1 69.2h0M80.5 13.6h0M61.1 22.0h0M22.7 30.5h0M38.2 31.0h0M43.1 3.8h0M24.6 54.2h0M72.2 39.3h0M4.3 69.7h0M74.3 48.2h0M24.5 65.9h0M88.4 68.8h0M37.3 56.5h0M16.2 43.1h0M49.4 41.1h0M42.8 46.2h0M87.0 11.9h0M87.3 57.3h0M1.9 64.5h0M47.6 69.2h0M11.9 46.1h0M29.8 56.0h0M43.9 4.7h0M66.9 62.9h0M83.5 39.9h0M77.9 45.4h0M2.5 37.9h0M77.2 74.0h0M61.4 58.4h0M51.3 18.5h0M70.7 26.2h0M76.7 74.2h0M10.1 34.8h0M97.3 21.3h0M45.4 61.6h0M86.2 38.4h0M55.3 72.3h0M41.8 70.8h0M34.6 20.2h0M29.6 14.9h0M70.4 14.8h0M87.9 65.3h0M97.1 42.7h0M32.0 66.1h0M60.5 32.1h0M32.5 75.7h0M20.7 38.8h0M50.3 57.3h0M14.6 24.5h0M91.4 43.7h0M65.1 12.8h0M52.8 37.9h0M92.7 30.8h0M14.3 40.2h0M18.3 63.6h0M55.9 75.4h0M6.7 45.0h0M75.0 68.7h0M40.3 18.2h0M9.0 47.5h0M80.5 28.3h0M38.0 28.9h0M21.4 48.3h0M99.8 9.4h0M85.3 20.5h0M35.4 27.3h0M10.9 59.5h0M62.7 47.6h0" stroke="#b81400" stroke-width="1.5" stroke-linecap="round" fill="none" opacity="0.85"/><path d="M38.9 49.6h0M95.6 28.5h0M95.0 9.2h0M66.7 61.6h0M60.0 0.6h0M20.9 4.5h0M37.2 47.4h0M39.3 28.0h0M82.1 13.4h0M25.2 47.4h0M17.8 2.1h0M74.1 43.1h0M97.2 7.5h0M1.1 32.5h0M61.5 46.0h0M36.3 23.3h0M61.2 0.1h0M42.6 17.3h0M88.6 65.1h0M31.5 7.2h0M22.2 27.8h0M62.7 32.4h0M68.5 74.2h0M13.9 15.9h0M31.7 72.2h0M35.2 75.9h0M89.3 67.5h0M47.9 50.7h0M85.4 40.5h0M55.5 12.6h0M25.4 73.7h0M45.7 44.9h0M19.3 57.1h0M63.6 24.4h0M54.2 10.8h0M40.9 56.3h0M16.5 32.9h0M9.0 47.6h0M1.6 2.3h0M9.3 12.9h0M2.4 38.1h0M79.9 69.3h0M68.8 24.9h0M22.0 39.5h0M16.2 7.9h0M51.8 23.1h0M15.6 38.6h0M96.5 11.8h0M51.5 46.2h0M1.2 52.5h0M27.8 66.6h0M49.4 16.0h0M43.0 31.1h0M93.2 58.3h0M63.2 53.3h0M55.9 19.4h0M41.4 64.1h0M64.5 54.3h0M62.6 12.7h0M30.9 19.9h0M76.6 63.3h0M20.9 4.2h0M48.3 19.5h0M60.6 50.0h0M17.5 32.5h0M34.3 73.2h0M60.5 68.4h0M39.9 70.8h0M95.9 43.9h0M74.8 33.2h0M35.6 39.2h0M10.7 10.2h0M68.8 40.1h0M36.5 5.8h0M65.7 57.2h0M21.5 54.1h0M25.8 65.9h0" stroke="#c01800" stroke-width="1.5" stroke-linecap="round" fill="none" opacity="0.85"/><path d="M86.0 59.4h0M35.2 40.4h0M10.1 11.3h0M48.0 6.7h0M101.6 55.5h0M75.9 23.7h0M0.9 66.4h0M0.6 62.8h0M101.4 52.7h0M21.9 45.6h0M16.3 20.4h0M100.8 69.6h0M79.2 35.9h0M14.4 36.3h0M0.6 51.0h0M26.4 5.1h0M74.5 38.4h0M17.1 2.0h0M26.1 53.0h0M66.5 54.5h0M70.6 6.4h0M70.6 13.1h0M22.4 5.1h0M78.6 17.1h0M9.6 4.2h0M51.9 12.1h0M1.3 43.2h0M0.3 19.5h0M37.0 3.2h0M79.6 8.9h0M1.7 15.6h0M49.7 17.0h0M60.4 24.6h0M8.9 40.7h0M25.5 0.9h0M33.6 52.8h0M44.2 67.3h0M18.4 9.2h0M64.3 1.2h0M36.7 12.5h0M95.7 16.7h0M22.3 62.1h0M98.8 14.5h0M63.7 57.2h0M87.4 58.3h0M38.7 53.1h0M1.4 13.1h0M33.8 11.4h0M33.3 25.8h0M98.6 10.3h0M0.2 16.3h0M17.8 9.9h0M86.3 2.4h0M54.9 54.0h0M83.3 51.2h0M14.2 59.2h0M37.6 32.6h0M54.9 17.1h0M52.9 52.5h0M45.3 47.9h0M101.3 38.6h0M62.1 49.4h0M60.3 50.4h0M12.0 42.2h0M72.8 75.4h0M18.6 11.9h0M96.1 51.4h0M37.2 9.3h0M73.7 15.2h0M64.4 29.4h0M24.9 11.5h0M7.3 59.6h0M97.3 16.5h0M21.5 34.4h0M31.7 44.0h0M33.5 48.0h0M80.6 16.0h0M32.9 45.8h0" stroke="#ff4000" stroke-width="1.5" stroke-linecap="round" fill="none" opacity="0.85"/><path d="M15.5 16.3h0M57.7 47.0h0M0.2 40.8h0M21.4 37.5h0M53.4 36.8h0M94.3 12.2h0M21.2 62.9h0M91.9 18.1h0M60.0 70.2h0M39.0 39.1h0M29.7 48.1h0M88.0 43.4h0M58.2 36.5h0M67.0 69.2h0M12.6 14.8h0M47.1 39.4h0M30.3 56.6h0M91.6 46.5h0M49.7 25.9h0M40.8 13.8h0M25.1 68.7h0M1.4 52.4h0M91.4 75.2h0M93.2 22.0h0M35.7 28.2h0M78.9 26.2h0M12.3 6.9h0M19.4 5.5h0M90.3 60.1h0M85.6 53.2h0M100.6 70.7h0M22.0 62.4h0M16.3 62.0h0M32.7 60.5h0M18.1 57.5h0M86.6 67.3h0M94.7 60.5h0M55.4 45.2h0M101.6 9.1h0M12.5 35.2h0M7.9 37.8h0M66.5 13.3h0M15.0 63.7h0M59.3 20.1h0M75.2 31.1h0M9.5 21.1h0M3.9 10.7h0M44.8 25.8h0M89.6 32.6h0M5.6 12.8h0M43.8 48.9h0M77.6 46.3h0M44.3 56.2h0M13.8 64.8h0M49.7 3.1h0M96.2 6.1h0M90.7 68.5h0M23.2 64.6h0M72.0 52.9h0M69.7 66.6h0M2.2 55.3h0M93.9 57.9h0M3.2 39.6h0M66.6 57.9h0M44.0 47.0h0M84.1 23.7h0M96.9 57.8h0M101.0 35.5h0M18.2 62.5h0M20.1 25.1h0M65.6 64.2h0M1.9 0.6h0M41.0 34.4h0M67.7 73.4h0M34.7 50.6h0M86.4 11.5h0M48.7 10.5h0M86.9 72.7h0M68.1 4.6h0M12.5 9.5h0M6.5 55.7h0M21.7 27.0h0M37.6 58.9h0" stroke="#e83000" stroke-width="1.5" stroke-linecap="round" fill="none" opacity="0.85"/><path d="M28.1 25.0h0M67.8 44.8h0M63.8 69.1h0M94.6 59.4h0M12.6 59.6h0M34.5 13.7h0M2.0 8.2h0M30.2 46.7h0M35.6 60.9h0M12.6 3.3h0M1.7 60.9h0M26.3 73.8h0M85.1 38.0h0M39.9 50.6h0M31.4 49.1h0M57.0 66.0h0M27.1 32.9h0M98.4 40.2h0M17.3 45.5h0M0.4 45.2h0M19.7 37.2h0M73.7 54.1h0M40.5 70.2h0M0.3 12.3h0M67.3 65.0h0M66.0 74.7h0M10.9 54.5h0M34.9 29.0h0M21.9 32.4h0M100.8 2.5h0M32.2 65.1h0M93.1 61.8h0M13.3 50.1h0M39.5 47.3h0M80.1 72.5h0M17.4 56.3h0M90.2 17.1h0M42.2 8.2h0M76.4 45.8h0M84.7 22.1h0M55.6 20.6h0M74.0 56.8h0M19.3 29.1h0M84.2 65.7h0M100.4 14.0h0M82.7 1.5h0M37.8 12.3h0M97.1 62.3h0M46.4 15.7h0M26.3 62.4h0M7.4 39.8h0M12.7 24.5h0M28.7 49.8h0M0.3 28.2h0M21.1 33.8h0M7.1 39.1h0M87.3 44.5h0M68.8 56.2h0M75.2 43.9h0M17.5 51.9h0M79.0 29.3h0M76.5 10.7h0M60.8 26.7h0M16.9 71.1h0M36.2 32.4h0M87.0 43.0h0M99.5 58.8h0M63.4 30.3h0M57.4 8.8h0M13.1 42.4h0M20.9 54.7h0M49.4 23.6h0M57.6 60.1h0M99.1 47.2h0M19.8 73.5h0M61.1 14.1h0M32.0 21.9h0M74.4 36.3h0M9.0 47.3h0" stroke="#ff8020" stroke-width="1.5" stroke-linecap="round" fill="none" opacity="0.85"/><path d="M33.9 43.3h0M83.9 70.9h0M71.0 38.6h0M85.8 66.0h0M98.7 24.0h0M4.8 0.6h0M8.8 5.2h0M5.1 14.0h0M29.3 6.8h0M14.4 61.8h0M14.0 33.4h0M44.5 62.7h0M42.4 8.7h0M57.7 21.1h0M22.2 73.3h0M44.5 6.0h0M96.4 10.0h0M56.8 48.4h0M61.7 32.2h0M95.1 0.6h0M78.1 28.0h0M6.2 47.2h0M14.1 29.0h0M0.4 52.6h0M26.9 46.9h0M24.8 47.1h0M48.6 15.0h0M96.0 15.9h0M6.4 51.5h0M9.0 24.9h0M22.3 40.8h0M43.6 69.9h0M21.4 47.5h0M96.4 49.6h0M53.8 36.2h0M53.8 33.0h0M76.8 38.1h0M65.1 12.2h0M43.7 22.3h0M79.1 42.9h0M58.0 24.5h0M20.5 12.6h0M38.1 1.8h0M62.7 16.5h0M52.9 74.7h0M92.0 45.3h0M99.3 17.9h0M72.9 57.4h0M48.3 60.6h0M76.4 17.1h0M96.0 38.5h0M74.4 14.6h0M1.2 18.3h0M66.1 45.6h0M4.1 57.5h0M30.0 41.8h0M2.3 20.7h0M2.8 21.1h0M25.7 34.7h0M13.9 39.9h0M99.6 29.6h0M78.5 62.5h0M34.9 62.8h0M37.9 36.2h0M9.0 6.1h0M20.3 4.6h0M20.1 38.3h0M95.0 52.7h0M21.1 7.2h0M39.5 70.8h0M58.6 12.5h0" stroke="#f06000" stroke-width="1.5" stroke-linecap="round" fill="none" opacity="0.85"/><path d="M42.3 37.6h0M8.2 16.8h0M19.5 20.2h0M84.7 21.4h0M57.5 48.7h0M31.0 21.8h0M31.0 75.6h0M72.3 7.3h0M26.7 60.1h0M32.1 23.9h0M18.0 28.7h0M50.3 0.3h0M14.9 31.6h0M94.1 37.9h0M23.2 21.9h0M71.3 50.9h0M55.0 55.2h0M48.4 42.1h0M82.3 4.6h0M5.4 53.2h0M69.2 27.0h0M15.8 66.4h0M40.7 66.2h0M18.6 56.2h0M20.1 71.4h0M0.6 16.0h0M22.2 63.8h0M81.8 16.0h0M91.1 45.9h0M86.1 5.2h0M40.3 41.7h0M42.1 0.6h0M7.3 35.1h0M83.9 21.3h0M72.5 38.8h0M11.5 17.8h0M54.6 66.1h0M14.7 37.9h0M86.5 53.3h0M85.4 37.6h0M15.4 33.2h0M4.8 39.0h0M12.8 65.1h0M51.5 0.6h0M14.2 62.1h0M78.0 46.8h0M38.1 29.2h0M98.0 73.5h0M23.2 35.5h0M83.3 10.7h0M24.4 12.9h0M77.6 54.0h0M2.2 12.0h0M61.6 25.6h0M30.0 4.3h0M32.7 29.2h0M48.6 72.7h0M45.8 15.9h0M38.8 51.6h0M22.9 10.7h0M4.9 60.8h0M77.3 2.6h0M98.2 58.9h0M56.7 30.1h0M3.6 51.4h0M30.4 54.2h0M28.6 8.8h0M77.7 65.9h0M8.5 22.0h0M37.9 9.5h0M61.7 45.6h0M14.4 19.8h0M81.0 9.6h0M78.0 45.7h0" stroke="#b81400" stroke-width="1" stroke-linecap="round" fill="none" opacity="0.85"/><path d="M64.0 27.2h0M0.5 3.7h0M32.0 59.4h0M93.6 13.3h0M92.9 20.1h0M82.2 58.1h0M73.8 34.6h0M40.3 11.0h0M19.0 5.8h0M25.8 30.6h0M30.7 59.0h0M15.1 65.1h0M13.8 29.8h0M26.6 0.8h0M1.7 53.0h0M28.6 35.9h0M82.3 18.9h0M34.0 5.2h0M85.0 48.6h0M5.5 47.3h0M17.7 32.7h0M0.0 73.8h0M32.9 25.1h0M29.8 69.2h0M19.0 8.0h0M52.6 47.8h0M20.2 36.9h0M39.9 4.8h0M22.2 1.2h0M27.2 68.4h0M64.9 8.2h0M82.3 75.5h0M0.8 74.4h0M55.1 40.6h0M72.1 8.1h0M96.5 56.7h0M51.0 45.3h0M49.1 40.5h0M69.9 72.8h0M57.7 37.3h0M76.0 48.5h0M91.9 14.6h0M101.8 68.5h0M48.7 58.8h0M77.4 28.9h0M39.0 18.6h0M47.6 30.2h0M92.0 20.6h0M8.9 27.5h0M26.4 50.5h0M69.1 32.4h0M26.2 44.7h0M31.6 11.3h0M5.9 44.6h0M2.0 23.6h0M26.8 68.9h0M39.2 60.3h0M84.0 26.9h0M20.5 8.1h0M26.8 63.9h0M86.1 32.6h0M91.1 6.8h0M46.8 23.2h0M77.5 40.6h0M88.1 47.5h0M38.0 56.1h0M35.8 67.2h0M14.2 66.0h0M68.3 58.7h0M48.4 37.9h0M43.7 2.4h0M96.5 22.8h0M22.8 33.2h0M49.0 60.0h0M5.4 27.6h0M0.7 35.4h0M19.3 30.9h0M26.4 37.5h0M40.1 33.3h0M83.5 26.0h0M56.2 44.5h0" stroke="#c01800" stroke-width="1" stroke-linecap="round" fill="none" opacity="0.85"/><path d="M72.7 43.4h0M3.7 50.6h0M84.9 25.4h0M15.2 33.2h0M53.5 63.0h0M81.7 0.1h0M74.0 15.6h0M54.4 70.0h0M0.9 61.7h0M75.1 41.7h0M6.9 20.1h0M30.3 53.9h0M2.4 29.9h0M18.8 27.6h0M1.6 54.9h0M61.8 38.8h0M69.2 13.9h0M59.8 38.6h0M23.1 32.2h0M60.2 27.9h0M101.5 0.5h0M73.5 22.7h0M65.6 38.1h0M5.1 63.2h0M51.9 40.4h0M36.9 13.8h0M44.2 8.0h0M73.6 6.1h0M32.1 35.2h0M21.3 30.1h0M6.6 47.1h0M67.7 3.4h0M2.8 11.8h0M19.8 8.2h0M24.3 45.1h0M20.2 24.6h0M92.9 12.9h0M30.8 48.4h0M36.4 66.5h0M34.1 20.1h0M98.7 16.0h0M74.0 13.7h0M68.7 5.8h0M80.3 11.1h0M77.9 26.7h0M49.4 64.5h0M101.9 75.3h0M97.5 59.7h0M7.8 66.6h0M25.6 23.7h0M98.4 9.4h0M25.1 8.5h0M99.7 44.0h0M4.9 26.9h0M29.2 71.4h0M8.8 31.4h0M14.5 30.3h0M26.7 13.0h0M81.6 75.2h0M45.4 67.5h0M20.2 6.8h0M55.9 54.4h0M54.1 3.4h0M14.5 59.2h0M10.1 67.2h0M18.2 64.5h0M64.3 52.8h0M0.3 16.8h0M7.6 47.6h0M14.9 3.2h0M59.3 50.7h0M11.4 6.7h0M87.9 75.7h0M59.5 71.0h0" stroke="#ff8020" stroke-width="1" stroke-linecap="round" fill="none" opacity="0.85"/><path d="M35.5 57.0h0M98.6 38.5h0M27.4 26.3h0M76.0 60.7h0M15.0 44.2h0M11.7 32.3h0M35.7 49.3h0M101.1 57.7h0M17.8 40.9h0M34.1 26.7h0M28.7 10.4h0M52.6 62.8h0M85.6 18.0h0M11.8 55.3h0M62.6 48.7h0M33.9 51.4h0M11.7 45.1h0M83.5 24.7h0M15.5 57.7h0M20.4 18.5h0M3.6 12.5h0M6.6 30.1h0M95.4 3.6h0M53.8 1.8h0M81.4 63.6h0M88.5 59.1h0M44.9 3.0h0M34.6 12.3h0M14.8 57.4h0M55.9 18.5h0M69.7 25.6h0M27.7 45.5h0M89.2 14.7h0M47.5 34.8h0M94.6 29.0h0M9.0 36.8h0M16.6 63.8h0M83.8 1.8h0M43.8 41.4h0M16.3 11.3h0M60.6 72.5h0M40.6 73.7h0M1.9 43.3h0M93.1 47.5h0M36.9 39.9h0M78.6 47.9h0M41.9 22.7h0M85.3 44.2h0M51.4 14.6h0M99.8 59.0h0M52.9 6.5h0M52.8 75.0h0M66.6 11.5h0M72.7 4.1h0M82.1 2.7h0M61.9 74.8h0M81.1 51.9h0M11.1 10.6h0M0.6 8.3h0M80.3 10.9h0M58.6 70.1h0M90.2 42.8h0M14.7 57.1h0M66.1 35.6h0M53.3 47.6h0M58.9 39.3h0M65.7 48.9h0M36.9 18.8h0M51.8 5.4h0M59.2 11.4h0M62.7 56.5h0M80.7 7.5h0M28.8 20.0h0M51.8 20.0h0M101.9 12.6h0M12.8 6.0h0M73.6 32.4h0M45.4 17.0h0M1.8 46.8h0" stroke="#f06000" stroke-width="1" stroke-linecap="round" fill="none" opacity="0.85"/><path d="M65.1 75.7h0M46.1 45.7h0M21.9 15.5h0M0.9 70.0h0M79.1 65.4h0M9.0 54.7h0M20.0 24.4h0M19.2 11.3h0M22.9 56.2h0M17.6 75.6h0M30.4 14.9h0M86.7 9.8h0M97.4 3.2h0M8.6 26.2h0M45.4 57.5h0M25.6 39.4h0M48.5 71.0h0M20.6 57.2h0M10.6 66.6h0M39.7 27.2h0M6.3 3.8h0M26.2 23.8h0M6.1 63.3h0M19.4 28.7h0M68.5 38.4h0M34.3 18.3h0M84.5 12.2h0M100.4 69.2h0M78.7 50.6h0M23.2 74.2h0M23.2 67.1h0M22.3 63.4h0M0.6 24.1h0M59.7 37.5h0M22.7 37.0h0M5.6 26.4h0M44.9 34.3h0M44.8 3.1h0M27.3 45.6h0M79.4 4.7h0M74.2 12.3h0M12.6 23.0h0M11.9 22.4h0M77.0 58.4h0M86.4 38.7h0M61.2 36.3h0M17.5 9.6h0M99.3 26.7h0M13.9 40.9h0M73.5 6.5h0M63.1 54.8h0M38.7 42.1h0M95.1 39.3h0M62.4 25.0h0M27.3 1.4h0M39.3 32.7h0M67.1 27.7h0" stroke="#e83000" stroke-width="1" stroke-linecap="round" fill="none" opacity="0.85"/><path d="M24.1 31.6h0M32.5 38.0h0M64.3 64.8h0M25.6 18.9h0M45.3 13.2h0M6.2 65.9h0M28.8 66.8h0M80.7 21.1h0M77.5 13.7h0M10.4 47.7h0M14.7 29.3h0M76.3 18.9h0M63.9 71.9h0M60.9 22.2h0M50.4 2.2h0M29.0 13.5h0M52.3 74.3h0M41.1 39.3h0M71.2 30.9h0M68.4 5.9h0M45.6 56.1h0M36.3 17.5h0M44.4 13.8h0M67.2 8.7h0M35.0 69.5h0M7.3 48.2h0M48.1 62.4h0M96.9 38.4h0M36.5 11.4h0M91.1 6.8h0M26.4 58.6h0M40.0 17.5h0M38.8 22.2h0M4.6 58.8h0M10.7 13.7h0M48.8 40.2h0M101.0 15.3h0M37.5 59.8h0M7.9 13.7h0M28.8 29.1h0M20.9 16.9h0M36.6 43.2h0M59.1 53.0h0M20.9 36.2h0M43.9 20.3h0M17.2 61.1h0M60.8 48.1h0M17.7 20.5h0M68.9 12.1h0M35.0 71.4h0M100.8 16.0h0M47.9 51.9h0M32.1 68.6h0M57.5 71.8h0M29.1 10.2h0M45.8 37.1h0M68.9 15.9h0M36.6 22.8h0M42.0 6.5h0M48.3 18.3h0M48.8 19.7h0M27.9 25.9h0M63.7 53.1h0M29.8 27.5h0M77.1 31.7h0M82.8 20.0h0M64.4 62.1h0M16.2 12.7h0M9.6 3.8h0M61.3 51.1h0M72.8 60.4h0M36.8 47.6h0" stroke="#ff4000" stroke-width="1" stroke-linecap="round" fill="none" opacity="0.85"/><path d="M44.4 32.7h0M72.2 23.3h0M49.1 16.7h0M38.8 9.0h0M1.7 16.5h0M77.3 41.1h0M82.9 7.9h0M38.9 21.3h0M4.6 35.1h0M9.1 22.3h0M73.9 6.2h0M75.4 36.1h0M35.9 16.7h0M70.8 52.8h0M6.1 66.8h0M100.6 35.5h0M18.4 32.0h0M17.1 57.5h0M83.6 46.7h0M17.5 10.3h0M48.3 31.2h0M56.2 75.1h0M1.7 65.0h0M56.3 68.4h0M57.4 11.5h0M47.9 41.1h0M98.9 39.7h0M25.3 75.3h0M74.4 3.9h0M61.1 48.6h0M96.0 12.3h0M99.6 45.9h0M28.1 48.3h0M7.6 64.0h0M4.1 4.3h0M32.7 56.2h0M6.2 64.6h0M42.6 67.6h0M97.1 12.2h0M90.1 67.8h0M10.9 66.1h0M22.6 25.7h0M41.8 71.6h0M19.7 7.2h0M73.3 42.6h0M31.3 61.1h0M67.0 41.7h0M68.5 49.2h0M31.5 15.2h0M91.3 32.7h0M67.1 49.4h0M46.1 67.6h0M85.2 32.4h0M44.1 55.9h0M11.0 14.3h0M13.4 40.1h0M19.0 1.3h0M68.8 24.9h0M15.3 42.7h0M36.7 42.9h0M14.7 27.0h0M43.4 75.3h0M90.7 2.4h0M27.7 28.7h0M50.1 15.0h0M71.3 59.3h0M16.6 65.7h0M15.4 63.1h0M74.1 27.1h0" stroke="#d02000" stroke-width="1" stroke-linecap="round" fill="none" opacity="0.85"/><path d="M65.6 34.3L61.7 39.9M103.2 9.0L98.3 14.0M49.8 0.2L51.7 4.3M83.6 45.0L82.1 49.9M35.9 27.5L36.0 33.2M66.9 24.6L72.0 25.5M92.7 52.1L89.8 55.5M10.5 45.5L7.9 50.3M75.7 4.5L82.2 5.3M-0.5 18.8L1.7 24.4M46.5 62.1L43.6 66.4M70.3 73.3L75.9 77.1M99.7 60.1L96.3 63.8M27.3 35.5L26.2 41.3M54.3 58.0L49.4 58.3M13.5 69.2L15.0 74.7M16.6 7.6L18.8 14.1M52.3 35.4L53.9 41.9M89.5 29.9L87.3 33.2M83.2 14.2L85.3 16.9M41.6 54.2L41.3 57.2M62.6 18.8L56.0 20.8M8.4 12.9L8.7 19.3M28.4 21.6L33.1 22.7M92.7 22.7L95.0 26.2M-2.2 22.6L2.3 23.8M80.4 36.7L81.5 40.6M85.5 59.3L90.3 60.4M63.9 52.9L64.6 56.4M2.2 -2.3L4.0 3.9M7.0 45.1L2.1 46.7M40.6 53.4L36.7 55.8M61.7 40.0L62.6 45.8M76.9 59.0L72.8 64.0M23.0 16.9L18.2 18.8M25.0 52.8L27.2 55.8M-1.5 12.0L3.3 16.4M41.8 65.6L40.9 70.0M17.8 70.3L24.2 71.4M17.8 61.4L15.7 67.0M49.0 13.0L44.1 15.4M53.9 28.8L50.9 32.4M27.8 51.5L31.8 52.2M53.8 14.8L50.3 20.0M57.7 21.5L57.5 25.8M37.4 1.4L41.4 3.3M10.6 12.4L7.2 16.0M20.1 24.2L16.3 25.3M57.8 44.4L64.3 47.0M9.3 62.2L6.0 67.4M74.9 31.9L68.8 32.2M57.0 36.5L55.5 41.3M51.1 37.0L50.0 41.0M10.3 42.6L14.4 43.9M48.5 70.2L51.4 70.8M51.0 56.6L48.0 58.1M43.9 57.5L48.8 58.8M50.1 37.0L52.1 42.1M55.2 42.4L48.9 43.3M15.1 70.5L13.1 74.7" stroke="#c01400" stroke-width="0.75" stroke-linecap="round" fill="none" opacity="0.8"/><path d="M64.9 35.4L62.5 38.8M102.2 10.0L99.2 13.0M50.2 1.0L51.3 3.4M83.3 46.0L82.4 49.0M35.9 28.6L36.0 32.0M67.9 24.8L70.9 25.4M92.1 52.8L90.4 54.8M10.0 46.4L8.4 49.3M77.0 4.6L80.9 5.1M-0.0 19.9L1.3 23.3M45.9 63.0L44.2 65.5M71.4 74.0L74.8 76.4M99.0 60.9L96.9 63.0M27.1 36.7L26.4 40.1M53.3 58.0L50.3 58.2M13.8 70.3L14.7 73.6M17.0 8.9L18.4 12.8M52.6 36.7L53.6 40.6M89.0 30.6L87.7 32.5M83.7 14.7L84.9 16.4M41.5 54.8L41.3 56.6M61.3 19.2L57.3 20.4M8.5 14.2L8.6 18.0M29.3 21.8L32.1 22.5M93.2 23.4L94.5 25.5M-1.3 22.9L1.4 23.6M80.6 37.5L81.3 39.9M86.5 59.5L89.3 60.1M64.0 53.6L64.5 55.7M2.5 -1.1L3.6 2.7M6.0 45.4L3.1 46.4M39.8 53.9L37.5 55.3M61.9 41.1L62.4 44.6M76.1 60.0L73.7 63.0M22.0 17.3L19.1 18.4M25.4 53.4L26.8 55.2M-0.6 12.9L2.4 15.6M41.6 66.5L41.1 69.1M19.1 70.5L22.9 71.2M17.4 62.5L16.1 65.9M48.1 13.5L45.1 15.0M53.3 29.5L51.5 31.6M28.6 51.7L31.0 52.1M53.1 15.8L51.0 19.0M57.6 22.4L57.5 24.9M38.2 1.8L40.6 2.9M9.9 13.1L7.9 15.3M19.3 24.4L17.0 25.1M59.1 45.0L63.0 46.5M8.6 63.3L6.6 66.4M73.7 31.9L70.0 32.1M56.7 37.4L55.8 40.3M50.8 37.8L50.2 40.2M11.1 42.9L13.6 43.7M49.1 70.3L50.8 70.7M50.4 56.9L48.6 57.8M44.9 57.7L47.8 58.5M50.5 38.0L51.7 41.0M53.9 42.6L50.2 43.1M14.7 71.4L13.5 73.9" stroke="#e82000" stroke-width="1.5" stroke-linecap="round" fill="none" opacity="0.8"/><path d="M64.2 36.3L63.1 37.9M101.4 10.8L100.0 12.2M50.5 1.7L51.0 2.8M83.1 46.8L82.7 48.2M35.9 29.5L36.0 31.1M68.7 25.0L70.1 25.2M91.6 53.3L90.8 54.3M9.6 47.2L8.8 48.5M78.1 4.8L79.9 5.0M0.3 20.8L0.9 22.4M45.4 63.7L44.6 64.9M72.3 74.7L73.9 75.8M98.5 61.4L97.5 62.5M26.9 37.6L26.6 39.2M52.5 58.1L51.1 58.2M14.1 71.2L14.5 72.7M17.4 10.0L18.0 11.8M52.9 37.7L53.3 39.6M88.7 31.1L88.1 32.0M84.0 15.2L84.6 15.9M41.5 55.3L41.4 56.2M60.2 19.5L58.4 20.1M8.5 15.2L8.6 17.0M30.1 22.0L31.4 22.3M93.5 24.0L94.2 25.0M-0.6 23.1L0.6 23.4M80.8 38.1L81.1 39.2M87.2 59.7L88.6 60.0M64.1 54.2L64.4 55.2M2.8 -0.1L3.3 1.7M5.2 45.7L3.9 46.1M39.2 54.3L38.1 55.0M62.0 42.1L62.3 43.7M75.4 60.8L74.3 62.2M21.2 17.6L19.9 18.1M25.8 53.9L26.4 54.7M0.2 13.6L1.6 14.8M41.5 67.2L41.2 68.4M20.1 70.7L21.9 71.0M17.0 63.4L16.5 65.0M47.3 13.9L45.9 14.6M52.8 30.1L52.0 31.1M29.2 51.8L30.4 52.0M52.5 16.7L51.5 18.1M57.6 23.1L57.6 24.3M38.9 2.1L40.0 2.6M9.4 13.7L8.4 14.7M18.7 24.6L17.7 24.9M60.1 45.4L62.0 46.1M8.1 64.1L7.2 65.6M72.7 32.0L71.0 32.1M56.5 38.2L56.0 39.5M50.7 38.4L50.4 39.5M11.8 43.1L12.9 43.5M49.5 70.4L50.4 70.6M49.9 57.2L49.1 57.6M45.7 57.9L47.0 58.3M50.8 38.8L51.4 40.2M52.9 42.7L51.2 43.0M14.3 72.0L13.8 73.2" stroke="#ff9020" stroke-width="0.83" stroke-linecap="round" fill="none"/></g></svg>
<svg x="234" y="644" width="102" height="76" viewBox="0 0 102 76" overflow="hidden"><rect width="102" height="76" fill="#080500"/><g filter="url(#bl)"><ellipse cx="8" cy="6" rx="12" ry="8" fill="#601000" filter="url(#bl2)"/><path d="M62.1 26.2h0M33.4 62.3h0M34.1 55.1h0M38.7 23.4h0M88.3 53.1h0M101.3 51.9h0M14.0 70.0h0M26.5 21.1h0M66.5 45.0h0M47.3 45.5h0M1.2 51.8h0M96.1 34.3h0M59.2 12.9h0M33.7 29.6h0M43.0 73.9h0M25.8 56.5h0M41.2 3.8h0M96.8 68.9h0M48.9 75.2h0M56.7 2.5h0M59.0 31.6h0M61.2 6.9h0M31.3 46.7h0M7.6 58.4h0M10.2 11.3h0M66.8 40.7h0M67.6 27.1h0M69.1 29.7h0M16.9 19.0h0M20.8 74.0h0M25.4 55.7h0M54.5 33.0h0M55.0 18.5h0M38.4 41.2h0M74.1 15.7h0M43.7 29.2h0M81.6 26.4h0M75.4 45.2h0M18.7 65.3h0M5.6 38.5h0M97.6 21.0h0M90.3 43.5h0M40.4 37.8h0M30.6 56.6h0M60.8 43.8h0M99.9 69.7h0M54.1 26.7h0M3.3 28.0h0M3.8 57.0h0M44.0 40.2h0M49.4 59.3h0M65.9 57.7h0M12.2 29.7h0M22.5 75.3h0M29.2 48.3h0M46.8 33.5h0M46.4 53.6h0M30.6 70.7h0M30.9 14.8h0M30.6 75.9h0M96.6 27.7h0M67.9 2.5h0M0.3 65.9h0M64.3 61.8h0M11.1 6.2h0M20.4 49.6h0M6.8 66.6h0M73.6 34.1h0M76.9 33.3h0M4.9 60.7h0M8.5 5.4h0M19.6 31.0h0M5.4 51.5h0M48.8 60.9h0M57.9 68.0h0M3.2 6.7h0M23.1 67.1h0M18.9 5.0h0M98.1 28.5h0M70.5 73.1h0M10.9 4.0h0M56.4 52.8h0M36.5 49.8h0M37.9 58.2h0M32.5 32.3h0M80.6 61.2h0M14.3 34.6h0M53.4 25.7h0M99.1 11.7h0M82.2 72.2h0M75.6 72.9h0M65.1 63.1h0M96.6 0.7h0M29.6 32.1h0M3.9 42.6h0M18.1 23.6h0M49.4 67.1h0M85.5 28.4h0M101.1 30.2h0M8.8 40.4h0M37.3 33.9h0M15.5 43.0h0M21.9 62.2h0M99.6 4.1h0M96.1 41.5h0M62.3 60.8h0M85.4 40.6h0M8.3 45.3h0M42.2 6.4h0M72.0 50.5h0M11.0 56.5h0M26.9 24.9h0M71.2 32.5h0M2.0 46.2h0M71.6 26.5h0M2.6 55.2h0M52.1 71.5h0M69.8 61.8h0M27.1 38.3h0M89.3 41.7h0M82.6 0.3h0M68.0 71.7h0M54.9 27.8h0M3.5 67.4h0M44.9 75.9h0M57.5 8.2h0M4.4 20.0h0M87.3 53.4h0M80.6 51.7h0M58.2 27.9h0M78.9 24.8h0M32.8 23.5h0M54.5 36.2h0M43.4 17.5h0M28.6 43.1h0M48.9 42.0h0M64.8 9.9h0M98.1 67.2h0M20.5 12.8h0M53.7 7.3h0M69.8 10.2h0M5.4 54.4h0M57.5 74.3h0M13.6 33.5h0M33.1 7.9h0M71.7 9.8h0M76.3 55.0h0M79.0 64.8h0M35.4 23.5h0M64.9 60.6h0M86.6 17.3h0M8.7 48.4h0M89.3 61.0h0M90.9 23.5h0M84.5 56.0h0M3.0 4.0h0M31.1 31.9h0M91.4 6.8h0M3.5 29.8h0M92.3 54.7h0M0.7 40.2h0M36.4 25.0h0M82.6 70.6h0M82.1 12.6h0M82.0 10.2h0M63.5 40.3h0M5.4 37.1h0M36.5 59.9h0M78.5 27.4h0M24.8 55.3h0M60.2 6.7h0M86.7 50.2h0M1.4 58.7h0M92.0 2.8h0M45.2 29.8h0M16.1 46.3h0M52.8 18.4h0M1.2 53.8h0M48.1 13.4h0M32.2 72.5h0M89.6 22.2h0" stroke="#50b020" stroke-width="0.9" stroke-linecap="round" fill="none"/><path d="M4.0 29.8h0M19.4 42.2h0M16.9 3.7h0M65.5 34.8h0M0.8 58.9h0M97.7 40.6h0M54.5 11.7h0M81.5 51.4h0M53.2 8.8h0M67.7 47.5h0M67.9 47.7h0M22.8 49.4h0M75.0 71.1h0M23.2 13.8h0M81.0 31.7h0M31.0 39.5h0M23.8 66.9h0M78.6 15.8h0M59.4 16.9h0M46.7 13.5h0M18.8 17.8h0M64.8 18.5h0M24.1 67.3h0M63.2 2.6h0M54.1 47.6h0M69.7 39.8h0M18.0 19.7h0M27.0 70.1h0M41.5 74.6h0M63.5 0.3h0M46.4 11.4h0M46.1 13.2h0M86.7 49.0h0M8.4 45.8h0M51.6 22.7h0M51.6 24.6h0M51.6 58.1h0M82.9 61.4h0M22.5 74.1h0M57.7 36.5h0M67.9 30.1h0M99.6 19.4h0M39.0 20.2h0M29.0 54.1h0M58.0 18.5h0M46.1 41.7h0M79.4 24.7h0M28.2 45.2h0M5.1 73.9h0M7.4 30.8h0M25.5 63.1h0M15.6 30.9h0M46.0 30.3h0M72.0 2.0h0M78.9 23.6h0M37.3 53.5h0M86.0 63.2h0M42.2 35.5h0M46.3 25.3h0M4.7 3.5h0M52.7 3.5h0M79.4 53.7h0M32.1 38.2h0M46.8 41.8h0M37.9 19.1h0M2.6 57.2h0M75.6 60.3h0M64.2 34.7h0M96.0 58.0h0M57.7 52.3h0M36.5 0.5h0M79.0 61.9h0M23.9 49.2h0M19.2 23.2h0M54.5 53.2h0M64.8 0.8h0M97.8 9.5h0M33.1 74.6h0M87.7 38.4h0M83.6 19.1h0M53.1 16.6h0M13.4 29.4h0M62.7 35.8h0M14.8 8.7h0M94.1 41.3h0M36.6 39.2h0M28.9 68.0h0M15.1 51.6h0M82.0 50.4h0M10.4 67.5h0M97.8 74.1h0M71.9 37.6h0M68.9 19.9h0M64.6 73.2h0M29.4 15.7h0M19.8 13.3h0M78.0 43.6h0M59.1 36.0h0M66.3 20.5h0M68.0 12.4h0M11.9 70.9h0M51.5 25.2h0M35.0 10.5h0M70.2 62.3h0M72.7 23.0h0M90.6 48.2h0M66.3 52.9h0M24.5 3.0h0M46.2 28.3h0M57.2 40.3h0M84.0 50.1h0M52.8 60.4h0M46.5 74.2h0M65.9 43.7h0M40.6 70.2h0M79.8 41.0h0M32.9 16.8h0M27.8 39.6h0M20.9 50.9h0M94.4 27.7h0M100.6 62.6h0M7.1 36.2h0M70.7 59.1h0M58.4 33.4h0M4.7 32.5h0M85.2 15.0h0M74.0 5.9h0M12.7 19.6h0M18.7 42.7h0M36.4 2.1h0M76.5 32.6h0M39.9 66.0h0M16.2 48.0h0M76.8 16.7h0M52.9 1.1h0M53.3 52.9h0M93.2 38.5h0M98.8 75.5h0M98.5 32.2h0M47.8 46.0h0M83.4 38.6h0M43.8 41.0h0M87.1 0.3h0M51.4 56.9h0M8.7 5.6h0M53.6 67.5h0M57.1 9.2h0M11.9 41.9h0M54.8 25.8h0M95.9 29.6h0M17.9 65.2h0M81.9 68.3h0M46.6 65.3h0M86.6 32.7h0M25.1 23.2h0M95.7 15.9h0M43.5 15.0h0M27.7 14.5h0M47.4 4.1h0M54.3 57.3h0M54.4 38.4h0M26.5 52.8h0M63.1 45.0h0M29.2 5.1h0M64.5 13.3h0M54.0 54.6h0M7.9 64.7h0M75.1 40.8h0M4.2 8.1h0M13.4 25.9h0M5.8 47.1h0M60.7 53.2h0M0.2 74.9h0M87.0 49.2h0M22.6 62.1h0M16.4 57.9h0M10.0 53.0h0M64.8 32.5h0M93.9 12.7h0M1.4 68.0h0M24.6 46.3h0M56.0 7.2h0M52.4 19.9h0M32.1 70.5h0" stroke="#1e6a10" stroke-width="0.9" stroke-linecap="round" fill="none"/><path d="M41.5 15.2h0M45.2 46.6h0M64.3 73.8h0M32.0 54.3h0M100.3 74.0h0M77.8 62.5h0M63.7 48.8h0M57.3 66.5h0M79.4 15.0h0M27.1 22.7h0M8.5 72.7h0M86.8 57.6h0M31.3 1.9h0M67.2 32.5h0M17.9 61.2h0M35.8 37.6h0M74.0 43.6h0M88.7 13.0h0M61.5 31.9h0M55.8 35.5h0M23.3 26.6h0M69.7 23.7h0M101.2 57.3h0M4.2 12.7h0M34.2 71.4h0M25.0 75.2h0M91.1 27.0h0M47.6 28.6h0M21.8 37.9h0M16.7 51.4h0M6.0 5.1h0M72.1 20.7h0M9.0 63.8h0M71.1 73.9h0M8.8 42.6h0M94.1 49.5h0M34.2 63.2h0M39.0 58.2h0M8.3 45.3h0M77.4 6.2h0M14.0 60.0h0M17.4 20.6h0M74.6 8.8h0M78.8 13.9h0M25.8 21.7h0M16.5 4.7h0M86.5 5.4h0M34.9 21.5h0M29.9 65.7h0M0.7 67.4h0M30.7 62.2h0M27.3 31.6h0M55.0 34.4h0M65.6 34.2h0M30.9 65.9h0M87.3 56.2h0M77.9 69.2h0M93.3 46.1h0M18.7 42.9h0M36.1 2.4h0M59.0 53.3h0M69.3 7.5h0M28.4 75.8h0M45.6 42.1h0M15.2 65.0h0M15.4 39.7h0M79.6 31.0h0M55.0 68.0h0M20.6 3.8h0M9.6 39.9h0M98.4 65.5h0M2.8 36.4h0M70.5 21.8h0M53.0 55.7h0M72.3 42.9h0M76.7 36.5h0M52.9 63.6h0M32.6 60.7h0M4.2 75.1h0M85.0 18.3h0M75.1 18.8h0M99.3 28.6h0M63.7 39.3h0M25.8 68.9h0M44.5 39.5h0M63.2 11.9h0M46.0 44.9h0M100.1 0.1h0M52.0 60.2h0M10.1 21.0h0M61.6 73.4h0M79.8 63.5h0M28.6 38.7h0M8.3 61.8h0M89.6 66.9h0M18.7 23.3h0M52.4 41.1h0M65.9 9.9h0M99.5 48.4h0M52.6 31.7h0M38.7 53.9h0M78.2 7.3h0M32.9 6.4h0M77.9 0.8h0M84.3 62.5h0M0.1 63.0h0M14.6 20.6h0M42.2 46.3h0M34.5 23.6h0M97.5 62.5h0M91.3 75.1h0M64.9 46.3h0M4.0 72.3h0M59.8 61.5h0M13.8 41.3h0M79.3 35.9h0M17.2 49.4h0M29.6 32.7h0M43.2 35.5h0M91.4 39.6h0M91.0 3.6h0M87.5 11.1h0M74.0 13.1h0M76.2 13.0h0M81.8 60.6h0M30.4 58.7h0M51.2 72.3h0M100.2 8.4h0M41.3 69.3h0M58.7 58.6h0M20.7 37.6h0M0.3 70.1h0M54.5 14.6h0M2.7 33.4h0M35.3 61.8h0M24.1 11.7h0M10.9 55.5h0M22.8 0.5h0M20.4 12.8h0M67.5 57.0h0M92.5 31.9h0M64.0 48.0h0M87.3 0.8h0M10.4 8.3h0M94.7 56.2h0M54.1 61.8h0M44.6 19.9h0M31.3 0.9h0M86.4 23.0h0M41.0 60.2h0M2.0 39.5h0M82.6 39.8h0M43.4 9.8h0M71.0 71.9h0M74.5 56.8h0M88.6 26.1h0M34.2 30.4h0M14.0 50.6h0M10.6 12.1h0M47.8 24.7h0M9.1 45.4h0M15.2 58.8h0M26.3 47.3h0M18.6 17.8h0M18.3 54.2h0M37.6 57.1h0M40.6 29.7h0M8.1 39.9h0M78.0 28.9h0M38.6 23.1h0M4.7 73.7h0M84.9 74.9h0M40.0 15.0h0M57.6 71.4h0M86.8 21.4h0M77.1 22.2h0M86.5 68.9h0M29.5 74.2h0M78.1 52.3h0M101.6 38.7h0M99.9 36.2h0M78.1 58.9h0M0.5 8.9h0M92.8 21.6h0M47.0 35.4h0M18.7 17.6h0M16.9 49.2h0M26.2 61.0h0M80.2 11.6h0M10.7 44.5h0M77.6 41.3h0M65.5 22.4h0M40.4 27.2h0M69.6 30.1h0M73.2 19.3h0" stroke="#3aa020" stroke-width="0.9" stroke-linecap="round" fill="none"/><path d="M4.8 20.6h0M52.7 34.2h0M44.9 39.8h0M50.1 4.1h0M65.5 38.9h0M36.5 67.5h0M1.1 37.4h0M101.9 63.7h0M54.2 8.9h0M75.1 68.4h0M99.6 63.8h0M9.3 2.6h0M57.9 70.3h0M38.9 1.1h0M69.0 5.2h0M38.3 60.3h0M77.7 63.6h0M5.5 4.0h0M92.9 52.2h0M49.4 26.8h0M6.2 66.7h0M67.4 13.2h0M84.0 12.1h0M64.6 20.0h0M18.3 64.2h0M14.0 21.9h0M66.6 45.2h0M97.5 69.2h0M10.5 26.5h0M80.8 16.4h0M0.6 17.7h0M61.2 53.1h0M86.4 35.3h0M35.4 24.1h0M69.1 22.6h0M19.5 62.1h0M76.1 33.2h0M88.1 49.4h0M85.9 15.0h0M75.6 69.6h0M3.5 14.2h0M45.7 40.0h0M39.5 17.6h0M29.2 29.1h0M41.5 8.9h0M89.0 60.2h0M62.3 56.6h0M101.2 42.2h0M57.7 8.7h0M57.1 49.6h0M57.8 1.9h0M65.1 72.9h0M66.3 68.7h0M43.6 20.3h0M26.7 75.9h0M24.5 9.4h0M54.7 50.6h0M28.9 65.6h0M57.0 54.2h0M23.8 39.0h0M45.3 47.8h0M11.9 65.4h0M94.9 66.4h0M84.4 11.0h0M63.6 36.1h0M12.2 69.7h0M37.1 65.0h0M7.8 16.5h0M50.3 32.0h0M42.6 43.4h0M51.9 68.3h0M41.7 14.1h0M95.5 21.0h0M13.6 16.5h0M37.3 61.9h0M62.4 5.3h0M70.7 63.4h0M92.0 63.0h0M39.4 37.7h0M24.8 33.5h0M70.0 59.1h0M101.8 29.7h0M65.6 59.6h0M33.8 39.4h0M26.7 32.3h0M79.3 9.2h0M91.5 3.7h0M4.2 34.9h0M86.9 16.9h0M95.9 42.1h0M47.0 28.1h0M30.3 65.4h0M59.5 46.7h0M46.6 69.1h0M53.4 35.4h0M59.9 47.1h0M27.1 68.3h0M64.7 12.5h0M67.3 40.9h0M38.0 43.6h0M78.6 50.4h0M2.3 67.4h0M64.0 21.7h0M33.1 70.2h0M48.0 2.8h0M0.5 34.5h0M52.3 4.2h0M25.7 17.7h0M17.4 56.2h0M45.2 48.5h0M23.2 50.1h0M76.2 31.4h0M9.3 63.4h0M50.8 70.7h0M88.9 39.0h0M69.4 0.6h0M97.7 49.2h0M52.2 73.0h0M31.3 11.8h0M50.0 2.6h0M2.4 59.5h0M95.5 19.4h0M93.7 12.6h0M90.7 28.4h0M1.3 11.5h0M12.0 14.7h0M23.0 4.6h0M64.2 13.0h0M28.6 22.7h0M18.5 2.1h0M52.3 73.1h0M11.2 37.0h0M48.3 21.1h0M37.7 73.7h0M12.1 12.2h0M96.7 3.9h0M49.1 42.9h0M26.7 7.7h0M57.4 18.2h0M4.4 52.7h0M42.6 5.1h0M39.2 73.5h0M82.9 52.0h0M98.9 48.1h0M38.4 3.5h0M45.3 49.3h0M71.7 36.9h0M20.8 70.4h0M29.8 31.3h0M26.1 0.1h0M65.4 66.8h0M90.4 70.4h0M62.9 42.6h0M7.8 44.8h0M8.7 0.8h0M77.0 38.0h0M24.7 59.8h0M29.0 67.5h0M71.0 5.3h0M100.7 46.3h0M26.6 31.6h0M54.5 54.8h0M56.2 55.7h0M74.2 34.1h0M95.2 6.0h0M68.4 13.2h0M39.4 49.0h0M74.0 7.9h0M46.6 63.5h0M4.9 3.3h0M46.6 61.4h0M93.7 73.6h0M24.4 12.6h0M93.4 58.5h0M82.2 52.7h0M22.2 28.4h0M86.2 70.9h0M49.9 9.6h0M13.7 47.7h0M0.2 16.4h0M75.9 39.4h0M99.4 32.5h0M15.6 74.4h0M13.1 72.0h0M7.0 57.8h0M94.9 18.2h0M42.9 37.9h0M93.1 16.9h0M9.4 26.2h0M53.7 73.7h0" stroke="#2a8a18" stroke-width="0.9" stroke-linecap="round" fill="none"/><path d="M16.2,46.0Q15.6,41.2 15.9,36.3M4.4,59.3Q9.1,63.5 9.6,69.6M58.4,76.4Q61.1,67.5 67.6,60.7M30.0,38.5Q33.5,35.7 36.9,33.0M62.3,25.0Q68.6,18.0 75.5,11.6M94.0,52.6Q100.3,52.9 106.6,53.7M32.3,74.0Q38.2,69.0 44.5,64.6M44.1,35.1Q47.2,31.8 48.8,27.5M3.9,66.7Q7.4,60.8 13.7,58.1M66.5,23.7Q75.0,21.4 83.2,18.4M22.9,77.4Q24.6,70.6 30.2,66.4M62.5,48.6Q70.7,42.5 76.0,33.6M39.0,27.3Q42.9,22.7 48.9,23.5M86.7,28.2Q90.7,25.2 95.6,24.7M-3.1,53.9Q2.3,50.3 6.0,45.0M31.1,48.2Q33.9,42.2 40.4,40.8M18.3,33.0Q20.3,42.4 16.7,51.3M6.4,21.2Q10.8,17.3 11.9,11.5M18.3,7.6Q19.4,12.7 22.4,17.2M11.6,75.2Q16.4,65.3 22.4,56.1M65.2,70.5Q70.7,72.5 75.2,68.8M44.0,77.2Q49.0,70.5 53.7,63.7M80.2,5.6Q84.6,0.7 89.5,-4.0M13.3,37.6Q19.2,36.1 24.7,33.6M76.7,53.5Q84.8,49.9 92.6,45.5M74.7,53.0Q85.1,51.5 95.4,49.8M44.3,54.2Q48.1,51.4 49.7,46.9M51.9,51.7Q62.3,50.3 70.6,43.9M46.8,6.8Q43.3,16.9 38.5,26.4M8.1,2.2Q10.1,9.8 9.0,17.7M25.7,29.6Q28.8,20.6 35.4,13.8M44.5,79.0Q47.1,73.8 52.1,71.0M41.8,39.9Q47.9,46.5 56.6,48.8M24.1,81.8Q26.8,74.0 34.1,69.9M46.0,59.5Q44.0,64.1 47.0,68.2M28.3,40.5Q27.3,47.9 26.1,55.3M37.2,39.9Q38.4,33.5 42.6,28.5M14.0,32.7Q22.0,29.1 27.0,22.0M38.4,77.4Q40.5,75.0 41.8,72.2M81.3,61.1Q84.9,71.1 88.9,81.1M47.4,42.6Q49.9,49.3 46.9,55.8M4.7,11.0Q9.4,8.5 12.2,3.9M46.7,20.9Q52.7,16.0 60.4,15.7M38.4,55.0Q40.5,49.2 43.6,43.8M-8.0,55.3Q-1.2,47.4 8.7,44.1M76.4,34.7Q75.9,41.5 80.1,46.8M57.8,39.4Q64.5,34.2 73.0,34.4M83.7,46.7Q83.6,38.3 86.5,30.4M66.5,29.2Q71.3,29.1 75.9,27.7M41.1,42.7Q46.9,45.7 48.0,52.1M54.4,30.2Q55.9,34.6 57.5,38.9M55.3,52.2Q62.8,52.6 70.2,51.8M71.4,39.5Q73.9,47.9 74.0,56.7M53.4,59.7Q56.2,69.3 61.9,77.5M0.2,24.8Q3.6,30.8 4.6,37.7M28.0,20.6Q35.7,17.5 40.1,10.6M26.3,12.1Q24.1,16.8 25.7,21.9M59.5,3.7Q57.4,10.0 60.2,16.0M53.7,36.6Q60.8,37.7 67.3,40.8M15.0,49.5Q23.9,46.5 29.3,38.7M18.0,13.8Q13.4,18.9 14.3,25.7M20.1,72.5Q19.5,67.3 19.0,62.1M66.8,13.5Q68.6,6.4 74.2,1.6M63.7,8.4Q60.9,15.9 59.7,23.8M79.8,72.7Q82.2,68.9 83.1,64.4M49.7,48.9Q53.3,50.8 56.1,47.9M70.7,29.2Q74.2,26.0 76.8,21.9M77.5,14.5Q87.9,13.6 97.5,9.4M0.9,52.2Q2.0,58.3 4.6,63.9M89.3,-1.2Q90.4,7.6 93.9,15.8M87.9,31.4Q93.2,40.4 96.6,50.3M42.3,9.0Q41.7,12.3 40.5,15.4M-2.7,63.2Q0.7,55.7 7.6,51.2M57.5,71.8Q63.7,69.5 68.7,65.3M-3.6,43.0Q7.2,40.2 16.3,33.9M-2.4,32.6Q2.5,38.7 7.9,44.2M71.8,13.8Q72.7,18.2 75.2,22.0M12.6,59.7Q22.0,55.4 31.0,50.2M31.1,-5.2Q36.7,2.0 40.3,10.5M56.0,39.5Q62.1,36.0 69.1,35.3" fill="none" stroke="#c81200" stroke-width="1" stroke-linecap="round"/><path d="M16.0,44.1Q15.7,41.1 15.8,38.2M6.1,61.1Q8.4,63.8 9.2,67.2M59.7,72.9Q61.7,67.8 65.2,63.5M31.4,37.4Q33.5,35.7 35.6,34.1M64.9,22.2Q68.7,18.1 72.7,14.1M96.6,52.7Q100.3,53.0 104.1,53.4M34.7,72.1Q38.3,69.1 42.0,66.4M45.3,33.7Q47.0,31.6 48.1,29.2M5.4,64.5Q7.9,61.3 11.3,59.3M69.9,22.8Q74.9,21.3 79.9,19.6M23.8,74.8Q25.3,71.0 28.1,68.2M65.7,46.1Q70.3,42.1 73.8,37.1M40.6,25.7Q43.2,23.6 46.6,23.4M88.3,27.1Q90.8,25.6 93.7,25.0M-1.0,52.4Q2.0,50.0 4.5,47.1M32.4,46.0Q34.5,42.9 38.0,41.6M18.9,36.7Q19.4,42.3 18.0,47.7M8.0,19.5Q10.3,17.0 11.3,13.7M18.8,9.6Q19.7,12.6 21.3,15.4M13.6,71.3Q16.6,65.4 20.1,59.8M67.3,71.1Q70.5,71.6 73.4,70.1M46.0,74.5Q48.9,70.5 51.8,66.4M82.0,3.7Q84.7,0.7 87.5,-2.1M15.6,37.0Q19.1,36.0 22.5,34.6M79.9,52.0Q84.8,49.8 89.4,47.2M78.9,52.4Q85.1,51.5 91.3,50.5M45.7,53.0Q47.7,51.1 49.0,48.6M56.0,51.0Q61.9,49.5 67.2,46.3M45.4,10.8Q43.1,16.8 40.4,22.6M8.8,5.2Q9.6,9.9 9.3,14.6M27.1,26.1Q29.4,21.0 32.9,16.6M45.6,77.0Q47.5,74.2 50.2,72.2M44.4,42.4Q48.3,45.8 53.2,47.7M25.3,78.8Q27.6,74.6 31.4,71.7M45.4,61.3Q44.8,64.0 46.0,66.5M27.9,43.4Q27.3,47.9 26.6,52.4M37.8,37.4Q38.8,33.7 41.0,30.6M17.1,31.1Q21.5,28.5 24.9,24.7M39.2,76.4Q40.4,74.9 41.3,73.3M82.8,65.1Q85.0,71.1 87.3,77.1M48.2,45.3Q49.0,49.3 47.9,53.2M6.5,9.9Q9.1,8.1 11.0,5.6M49.2,19.1Q53.0,16.7 57.4,16.0M39.3,52.7Q40.7,49.2 42.4,46.0M-5.2,52.3Q-0.7,48.1 4.9,45.6M76.4,37.4Q76.6,41.3 78.6,44.6M60.5,37.6Q64.8,35.1 69.6,34.5M83.8,43.4Q84.1,38.4 85.4,33.6M68.4,29.1Q71.3,28.9 74.1,28.2M43.3,44.0Q46.2,46.2 47.4,49.6M55.0,31.9Q55.9,34.5 56.8,37.1M58.3,52.3Q62.8,52.4 67.2,52.1M72.3,42.9Q73.5,48.0 73.9,53.2M54.6,63.5Q56.7,69.1 59.7,74.2M1.4,27.2Q3.2,30.9 4.1,35.0M31.0,19.2Q35.2,16.9 38.2,13.2M25.6,14.0Q24.7,16.9 25.2,19.9M58.8,6.2Q58.1,9.9 59.2,13.6M56.5,37.1Q60.7,38.0 64.7,39.6M18.4,48.1Q23.4,45.7 27.0,41.6M16.4,15.9Q14.3,19.1 14.2,23.0M19.8,70.4Q19.5,67.3 19.2,64.2M67.7,10.7Q69.2,6.8 72.1,3.6M62.6,11.4Q61.2,16.0 60.2,20.7M80.7,71.1Q82.0,68.8 82.7,66.2M51.1,49.5Q53.2,50.0 55.0,48.9M72.1,27.9Q74.1,25.8 75.7,23.5M81.6,14.0Q87.8,13.1 93.6,11.0M1.4,54.6Q2.2,58.2 3.6,61.6M89.9,2.3Q90.8,7.5 92.6,12.5M89.9,35.1Q92.9,40.6 95.1,46.4M42.1,10.3Q41.6,12.2 41.0,14.1M-1.2,60.3Q1.3,56.2 5.0,53.2M59.9,70.8Q63.5,69.2 66.6,66.9M0.7,41.7Q6.9,39.7 12.6,36.3M-0.4,35.0Q2.6,38.6 5.7,42.0M72.2,15.5Q73.0,18.1 74.3,20.4M16.4,58.0Q21.9,55.3 27.4,52.3M33.3,-2.3Q36.4,2.2 38.8,7.2M58.5,38.2Q62.3,36.4 66.4,35.7" fill="none" stroke="#f02000" stroke-width="1.9" stroke-linecap="round"/><path d="M15.9,42.6Q15.8,41.1 15.8,39.7M7.2,62.5Q8.1,63.9 8.7,65.6M60.8,70.4Q62.0,67.9 63.5,65.7M32.5,36.6Q33.5,35.7 34.5,34.9M66.8,20.2Q68.7,18.1 70.7,16.1M98.4,52.9Q100.3,53.0 102.2,53.2M36.5,70.6Q38.3,69.2 40.1,67.8M46.1,32.7Q46.9,31.6 47.5,30.4M6.7,63.0Q8.1,61.5 9.7,60.4M72.4,22.0Q74.9,21.3 77.4,20.5M24.6,72.9Q25.5,71.2 26.8,69.7M67.9,44.0Q70.1,41.9 71.9,39.5M42.0,24.7Q43.3,23.9 44.9,23.6M89.6,26.4Q90.9,25.8 92.3,25.3M0.5,51.2Q1.9,49.9 3.2,48.5M33.5,44.6Q34.8,43.3 36.3,42.4M19.0,39.5Q19.0,42.3 18.6,45.0M9.1,18.2Q10.1,16.8 10.7,15.3M19.3,11.1Q19.9,12.6 20.5,14.0M15.1,68.4Q16.7,65.5 18.4,62.6M68.9,71.2Q70.5,71.2 71.9,70.7M47.4,72.5Q48.9,70.5 50.4,68.4M83.3,2.2Q84.7,0.7 86.1,-0.7M17.4,36.5Q19.1,35.9 20.8,35.3M82.3,50.9Q84.7,49.7 87.1,48.5M82.0,51.9Q85.1,51.5 88.2,51.0M46.7,52.0Q47.6,51.0 48.3,49.8M58.9,50.1Q61.8,49.2 64.5,47.8M44.2,13.8Q43.0,16.8 41.7,19.7M9.1,7.6Q9.4,9.9 9.4,12.2M28.3,23.6Q29.6,21.1 31.2,18.8M46.6,75.7Q47.6,74.4 48.9,73.3M46.4,44.0Q48.5,45.5 50.8,46.7M26.6,76.8Q27.9,74.8 29.6,73.2M45.2,62.7Q45.2,64.0 45.5,65.3M27.6,45.7Q27.3,47.9 26.9,50.1M38.4,35.6Q39.1,33.8 40.0,32.2M19.2,29.8Q21.3,28.3 23.1,26.5M39.8,75.7Q40.3,74.9 40.8,74.1M83.9,68.1Q85.0,71.1 86.2,74.1M48.5,47.3Q48.6,49.2 48.3,51.2M7.8,9.0Q9.0,8.0 10.0,6.8M51.1,18.0Q53.1,17.0 55.2,16.5M40.0,51.0Q40.7,49.3 41.6,47.6M-2.9,50.3Q-0.5,48.4 2.2,47.0M76.6,39.3Q77.0,41.2 77.7,42.9M62.7,36.4Q64.9,35.4 67.2,34.9M84.0,40.9Q84.3,38.4 84.8,36.0M69.9,29.0Q71.3,28.8 72.7,28.5M44.6,45.2Q45.8,46.4 46.7,48.0M55.4,33.2Q55.9,34.5 56.4,35.8M60.5,52.3Q62.8,52.3 65.0,52.2M72.9,45.4Q73.4,48.0 73.6,50.6M55.7,66.3Q56.9,69.0 58.3,71.6M2.3,29.1Q3.0,31.0 3.6,33.0M33.0,18.0Q34.9,16.6 36.6,15.0M25.2,15.4Q25.0,16.9 25.1,18.4M58.6,8.0Q58.5,9.9 58.8,11.7M58.6,37.6Q60.7,38.1 62.7,38.8M20.8,46.8Q23.1,45.4 25.1,43.5M15.5,17.5Q14.7,19.3 14.4,21.1M19.7,68.8Q19.5,67.3 19.3,65.7M68.5,8.8Q69.5,6.9 70.7,5.2M61.9,13.7Q61.3,16.0 60.7,18.3M81.3,69.9Q81.9,68.7 82.3,67.4M52.1,49.7Q53.1,49.7 54.0,49.3M73.0,26.8Q74.0,25.8 74.9,24.6M84.7,13.5Q87.7,12.9 90.7,12.0M1.9,56.4Q2.3,58.2 3.0,59.9M90.4,4.9Q90.9,7.5 91.7,10.0M91.3,37.8Q92.7,40.6 94.0,43.5M41.8,11.3Q41.6,12.2 41.3,13.2M0.1,58.3Q1.5,56.4 3.2,54.7M61.7,69.9Q63.4,69.1 65.0,68.0M3.8,40.6Q6.8,39.4 9.7,37.9M1.1,36.8Q2.6,38.6 4.2,40.3M72.6,16.8Q73.1,18.1 73.7,19.3M19.1,56.6Q21.9,55.2 24.6,53.8M34.8,0.0Q36.3,2.3 37.5,4.7M60.4,37.4Q62.3,36.6 64.3,36.1" fill="none" stroke="#ff8a18" stroke-width="0.9" stroke-linecap="round"/><path d="M99.9 74.6h0M101.5 37.7h0M33.5 21.4h0M47.8 41.0h0" stroke="#ff9a20" stroke-width="2.5" stroke-linecap="round" fill="none"/><path d="M78.5 46.5h0M69.6 3.0h0" stroke="#ff6010" stroke-width="2.5" stroke-linecap="round" fill="none"/><path d="M24.4 71.1h0M19.3 69.5h0" stroke="#e02000" stroke-width="2.5" stroke-linecap="round" fill="none"/><path d="M77.8 6.1h0M19.8 40.8h0M11.3 46.8h0M15.3 58.8h0M83.8 22.9h0M57.2 41.2h0M74.1 48.4h0M13.3 2.7h0" stroke="#ff6010" stroke-width="2" stroke-linecap="round" fill="none"/><path d="M35.0 24.6h0M32.3 59.3h0M99.2 8.8h0M58.1 13.2h0M62.3 73.7h0" stroke="#e02000" stroke-width="2" stroke-linecap="round" fill="none"/><path d="M71.2 15.0h0" stroke="#ff9a20" stroke-width="2" stroke-linecap="round" fill="none"/><path d="M21.5 39.5h0M55.3 63.8h0M48.4 13.7h0M53.4 13.8h0M68.2 75.9h0M81.4 69.3h0" stroke="#e02000" stroke-width="1.5" stroke-linecap="round" fill="none"/><path d="M66.0 32.0h0M80.8 46.9h0M19.8 34.4h0M63.6 13.0h0M17.0 29.2h0M47.1 75.3h0" stroke="#ff6010" stroke-width="1.5" stroke-linecap="round" fill="none"/><path d="M30.8 6.4h0M85.7 0.5h0M47.8 73.0h0M81.2 26.7h0M8.3 22.0h0M66.6 43.1h0M2.4 68.3h0M93.4 27.1h0M100.4 29.7h0" stroke="#ff9a20" stroke-width="1.5" stroke-linecap="round" fill="none"/><path d="M99.5 47.5h0M84.4 28.0h0M98.8 54.2h0" stroke="#ff6010" stroke-width="1" stroke-linecap="round" fill="none"/><path d="M40.9 75.6h0M96.0 26.4h0M17.0 34.7h0M74.0 9.0h0" stroke="#e02000" stroke-width="1" stroke-linecap="round" fill="none"/></g></svg>
<svg x="337" y="644" width="102" height="76" viewBox="0 0 102 76" overflow="hidden"><rect width="102" height="76" fill="#0e0400"/><g filter="url(#bl)"><path d="M7.9 13.0h0M100.6 28.1h0M58.2 50.3h0M62.5 11.6h0M29.3 15.0h0M53.2 51.2h0M73.5 55.9h0M26.7 54.0h0M70.0 56.1h0M81.8 69.2h0M82.9 23.9h0M40.9 28.2h0M15.6 22.7h0M47.7 41.3h0M65.0 36.3h0M82.2 60.3h0M59.8 39.6h0M64.3 34.4h0M33.3 29.1h0M37.2 63.8h0M55.2 30.8h0M20.9 25.9h0M35.5 28.0h0M48.6 64.2h0M38.1 61.0h0M20.0 13.6h0M31.8 54.2h0M92.8 34.3h0M77.4 55.1h0M21.3 14.1h0M72.5 7.9h0M62.6 73.3h0M17.0 23.1h0M55.1 8.2h0M85.2 30.7h0M15.5 5.2h0M82.9 71.8h0M20.2 38.1h0M21.8 52.4h0M55.0 32.8h0M63.4 55.4h0M45.7 16.5h0M74.8 37.9h0M29.3 2.1h0M35.3 31.2h0M23.0 28.7h0M101.4 64.6h0M16.6 64.2h0M102.0 13.0h0M88.4 36.3h0M48.1 40.4h0M6.6 75.3h0M62.2 1.1h0M100.6 60.2h0M8.5 48.4h0M55.5 59.6h0M5.2 5.2h0M79.7 14.4h0M22.7 49.6h0M51.1 26.8h0M26.9 4.0h0M78.8 70.0h0M19.1 34.3h0M72.8 52.4h0M86.2 21.6h0M65.9 8.7h0M99.9 24.3h0M28.3 59.7h0M60.9 56.1h0M49.3 45.6h0M6.5 54.0h0M98.2 8.6h0M8.7 44.0h0M48.8 39.9h0M38.5 15.3h0M44.1 11.1h0M71.7 70.0h0M101.9 73.1h0M65.5 33.8h0M78.8 22.8h0M4.8 24.7h0M49.5 19.7h0M58.5 53.8h0M77.9 65.9h0M55.8 3.4h0M100.7 23.3h0M74.4 65.9h0M66.4 14.4h0M45.2 67.3h0M34.9 60.7h0M79.2 7.3h0M64.3 75.2h0M96.8 38.5h0M56.7 20.7h0M38.8 27.4h0M95.3 71.0h0M36.9 18.6h0M14.3 29.2h0M91.3 38.9h0M48.3 10.3h0M63.8 38.8h0M94.0 38.5h0M57.7 63.3h0M72.0 36.9h0M65.4 8.6h0M70.3 22.4h0M2.8 28.0h0M100.4 63.4h0M80.3 49.6h0M34.6 46.1h0M22.8 19.3h0M98.9 67.7h0M2.0 18.9h0M48.0 37.1h0M8.6 11.5h0M4.1 68.6h0M58.8 74.0h0M84.7 73.7h0M65.0 18.0h0M47.4 31.3h0M13.1 46.8h0M9.3 66.1h0M83.0 16.3h0M57.3 14.4h0M43.0 57.1h0M57.0 59.3h0M95.4 36.3h0M21.1 4.5h0M52.3 62.9h0M77.8 42.5h0M93.5 16.9h0M20.7 61.8h0M17.8 14.2h0M23.7 13.5h0M57.8 75.8h0M40.7 17.8h0M66.6 75.2h0M14.4 36.0h0M54.8 13.0h0M28.1 1.9h0M23.4 16.7h0M68.1 37.3h0M7.5 34.9h0M86.7 52.4h0M57.9 17.9h0M87.0 19.5h0M2.9 34.6h0M57.7 34.3h0M36.9 35.0h0M9.3 35.6h0M26.4 58.2h0M58.3 6.1h0M100.8 66.8h0M67.3 52.3h0M30.1 62.0h0M25.0 73.3h0M52.3 63.6h0M23.3 18.1h0M54.6 34.4h0M75.5 32.0h0M53.3 3.6h0M8.0 21.1h0M5.4 66.6h0M95.5 66.0h0M76.7 41.7h0M56.4 11.0h0M100.9 54.5h0M91.0 56.8h0M41.5 33.8h0M94.7 14.9h0M36.6 73.3h0M29.4 68.2h0M31.4 45.8h0M66.7 20.0h0M92.8 9.5h0M72.6 74.1h0M13.0 35.2h0M20.6 64.9h0M12.6 72.4h0M101.3 42.9h0M89.4 39.3h0M24.5 22.5h0M88.7 49.1h0M20.7 1.6h0M17.6 64.8h0M77.7 12.3h0M79.3 0.5h0M87.1 11.1h0M57.1 43.0h0M42.1 12.5h0M72.0 31.3h0M61.3 74.1h0M15.7 46.7h0M63.4 10.4h0M48.8 42.0h0M56.1 25.7h0M59.8 14.7h0M12.7 60.7h0M79.6 36.4h0M21.6 71.7h0M88.1 45.6h0M16.1 20.9h0M13.0 49.8h0M22.1 39.1h0M8.2 25.2h0M5.6 34.0h0M20.1 30.1h0M52.5 18.6h0M22.0 8.2h0M37.9 69.6h0M98.8 37.3h0M54.2 16.3h0" stroke="#2a8a18" stroke-width="0.9" stroke-linecap="round" fill="none"/><path d="M38.5 53.8h0M83.4 45.6h0M55.9 22.8h0M37.8 30.7h0M13.1 7.6h0M40.8 12.8h0M24.8 48.3h0M22.8 48.2h0M39.6 45.5h0M13.0 51.6h0M88.5 44.0h0M51.2 12.6h0M35.2 35.7h0M59.3 56.2h0M79.4 52.3h0M57.8 9.9h0M1.3 57.6h0M73.5 0.2h0M95.2 43.7h0M19.3 41.8h0M47.3 22.5h0M6.6 9.5h0M40.9 20.1h0M42.4 41.0h0M85.6 52.7h0M5.8 55.7h0M46.9 14.2h0M67.9 27.2h0M75.3 57.2h0M26.9 10.8h0M72.6 33.8h0M32.6 28.0h0M39.0 35.9h0M100.3 55.3h0M68.6 30.2h0M1.1 36.4h0M16.1 33.5h0M2.4 36.3h0M62.5 63.5h0M40.7 17.7h0M13.0 58.8h0M4.2 69.5h0M0.1 33.0h0M75.6 60.1h0M67.9 41.1h0M71.3 54.6h0M11.5 23.3h0M56.6 13.9h0M64.4 69.3h0M79.2 52.2h0M31.9 10.6h0M97.5 42.1h0M87.8 24.9h0M36.0 48.9h0M78.4 26.9h0M92.3 67.0h0M85.6 71.8h0M49.2 18.9h0M101.3 38.2h0M5.5 48.9h0M15.0 4.4h0M84.4 9.7h0M80.2 64.8h0M12.2 37.2h0M33.5 74.9h0M52.7 1.1h0M7.6 16.8h0M85.3 14.5h0M13.0 40.7h0M13.6 42.0h0M89.4 37.2h0M18.9 21.5h0M36.4 75.6h0M24.6 75.8h0M85.0 23.8h0M14.8 34.4h0M4.9 58.8h0M54.5 25.5h0M47.2 53.8h0M31.0 4.0h0M49.7 29.8h0M40.7 60.2h0M15.5 55.7h0M3.8 66.4h0M51.4 28.9h0M61.2 50.7h0M45.6 16.2h0M32.2 52.5h0M71.3 75.7h0M60.1 54.6h0M82.1 72.5h0M98.5 51.3h0M69.1 66.0h0M65.9 54.8h0M88.7 56.3h0M50.2 65.7h0M41.3 59.7h0M73.6 7.2h0M96.6 71.1h0M91.0 7.5h0M29.5 19.2h0M55.3 43.3h0M80.0 25.8h0M15.5 60.1h0M45.7 8.7h0M13.7 15.1h0M32.7 48.4h0M70.4 46.2h0M79.2 32.4h0M49.7 32.4h0M5.8 28.9h0M70.8 66.7h0M73.3 69.3h0M44.0 6.5h0M79.6 29.0h0M79.9 33.0h0M65.6 71.6h0M60.5 60.2h0M0.2 58.6h0M35.6 2.5h0M25.4 59.2h0M12.8 1.6h0M2.0 54.3h0M37.2 10.6h0M69.1 50.4h0M3.7 14.1h0M57.0 48.3h0M89.7 75.8h0M35.1 29.8h0M99.5 44.9h0M26.5 28.6h0M95.9 9.4h0M3.6 43.5h0M93.3 22.6h0M31.0 34.6h0M97.9 43.7h0M9.7 18.5h0M37.6 8.3h0M54.3 47.1h0M80.7 34.6h0M27.0 50.6h0M69.4 20.0h0M36.0 39.6h0M95.8 62.7h0M21.1 29.3h0M53.5 37.7h0M72.3 62.0h0M98.8 34.0h0M27.0 56.4h0M45.0 32.7h0M34.2 8.4h0M15.8 23.5h0M84.6 31.1h0M31.5 44.6h0M1.8 23.4h0M32.9 32.9h0M34.6 51.3h0M30.1 51.2h0M77.5 30.5h0M79.2 37.3h0M94.1 75.3h0M45.7 20.3h0M88.6 20.1h0M16.3 52.9h0M56.7 58.8h0M41.8 55.9h0M90.8 4.4h0M64.5 27.1h0M8.9 28.9h0M75.8 26.3h0M92.9 26.6h0M30.7 71.2h0M93.1 19.3h0M11.6 26.6h0M67.1 47.0h0M20.3 47.0h0M97.7 16.4h0M92.4 21.0h0M87.3 62.5h0M10.6 18.1h0M84.6 4.9h0M79.9 44.6h0M48.4 2.3h0M70.5 37.3h0M59.9 38.1h0M80.1 12.2h0M10.6 31.6h0M72.4 30.0h0M96.9 8.7h0M14.3 73.3h0M73.7 43.8h0M76.9 6.5h0M19.0 28.8h0M67.9 47.1h0M64.5 4.3h0M91.9 2.3h0M65.6 47.1h0M26.9 69.6h0M70.3 50.2h0M20.9 32.8h0M99.3 45.4h0M88.0 29.9h0M43.9 53.2h0M68.0 49.1h0M23.9 39.5h0M44.7 16.3h0M14.2 33.6h0M7.3 8.4h0M60.5 55.5h0M8.8 13.4h0M59.8 72.8h0M27.7 31.6h0" stroke="#3aa020" stroke-width="0.9" stroke-linecap="round" fill="none"/><path d="M59.9 11.4h0M60.6 6.2h0M24.4 30.2h0M95.0 33.2h0M19.9 22.7h0M9.4 28.3h0M89.5 46.7h0M92.8 55.4h0M71.1 42.2h0M22.6 73.4h0M53.9 27.9h0M3.8 52.4h0M40.3 14.6h0M34.5 69.4h0M67.2 40.2h0M10.9 61.4h0M31.3 38.2h0M39.7 40.5h0M47.5 41.7h0M29.5 53.3h0M46.7 50.9h0M9.7 28.7h0M25.4 49.1h0M47.7 32.1h0M67.2 41.1h0M64.7 72.4h0M90.5 46.6h0M35.8 26.4h0M78.7 9.4h0M48.9 58.6h0M38.8 17.1h0M32.1 69.8h0M38.4 48.8h0M58.3 41.4h0M84.3 66.6h0M22.8 62.4h0M14.5 30.0h0M97.3 56.7h0M43.4 9.6h0M57.6 11.8h0M8.0 10.1h0M2.1 23.9h0M92.5 48.5h0M74.3 24.5h0M2.4 16.4h0M0.7 31.6h0M33.5 5.5h0M71.9 7.7h0M19.1 18.7h0M64.8 46.2h0M80.2 15.7h0M63.9 7.3h0M81.2 29.6h0M32.3 13.2h0M82.2 55.6h0M2.8 41.9h0M45.4 49.3h0M5.3 66.0h0M18.5 30.4h0M85.9 7.3h0M81.8 51.4h0M1.2 44.6h0M13.7 0.4h0M98.8 17.0h0M54.0 45.7h0M77.7 17.2h0M61.7 1.8h0M10.2 0.7h0M56.8 34.5h0M94.6 17.8h0M24.1 74.9h0M42.9 31.0h0M64.4 41.3h0M52.3 11.0h0M83.4 39.0h0M54.5 21.0h0M8.8 12.6h0M6.7 64.6h0M20.5 42.8h0M11.3 2.3h0M52.3 14.5h0M36.9 32.5h0M34.6 67.9h0M25.5 62.6h0M8.3 29.4h0M46.4 45.9h0M37.8 21.0h0M72.2 42.0h0M4.5 55.0h0M82.3 46.4h0M96.5 50.1h0M44.8 45.9h0M42.4 33.1h0M54.4 24.1h0M12.0 2.9h0M79.5 51.5h0M97.5 20.9h0M2.0 36.2h0M0.8 19.3h0M23.0 2.9h0M100.9 66.3h0M52.7 74.4h0M82.7 18.8h0M28.2 2.7h0M72.2 31.5h0M79.3 32.1h0M12.5 68.6h0M28.3 45.2h0M101.2 23.1h0M73.8 20.3h0M34.0 4.3h0M64.9 1.8h0M52.2 45.4h0M64.8 22.9h0M16.3 66.9h0M46.5 54.4h0M98.0 7.9h0M35.2 6.4h0M101.6 63.9h0M56.8 14.0h0M16.1 24.6h0M58.3 46.4h0M42.5 11.3h0M95.2 9.2h0M77.7 66.5h0M30.2 68.2h0M43.9 20.8h0M75.8 2.8h0M46.4 69.0h0M19.4 31.1h0M13.5 1.2h0M50.8 60.2h0M61.3 26.2h0M4.1 71.9h0M10.2 65.7h0M70.2 34.3h0M86.3 36.8h0M28.2 44.6h0M44.8 17.5h0M52.8 1.2h0M96.7 56.2h0M98.8 50.2h0M82.5 66.5h0M77.1 64.4h0M52.4 7.6h0M18.3 63.9h0M61.1 11.7h0M57.2 46.7h0M35.9 26.7h0M2.6 13.0h0M28.1 36.8h0M18.6 59.7h0M62.2 40.7h0M12.7 28.0h0M87.4 69.9h0M61.8 1.4h0M19.2 60.4h0M26.8 44.6h0M85.4 49.9h0M90.4 70.3h0M4.8 11.2h0M101.3 12.6h0M36.4 42.9h0M88.5 29.8h0M59.6 71.3h0M60.5 5.8h0M45.6 16.0h0M45.5 56.8h0M52.3 39.3h0M31.5 25.9h0M48.0 16.8h0M76.0 47.2h0M46.7 2.9h0M96.8 26.0h0M92.7 24.4h0M12.7 31.8h0M10.0 43.7h0M47.1 12.7h0M60.0 55.3h0M73.5 33.3h0M2.2 41.2h0M39.3 18.8h0M50.9 17.2h0M70.1 2.4h0M5.5 75.1h0M92.0 29.7h0M100.7 39.4h0M2.1 14.9h0M90.9 74.1h0M6.9 75.2h0M43.0 64.4h0M30.3 28.6h0M25.7 32.1h0M39.5 29.6h0M29.6 67.4h0M18.2 39.4h0M84.7 26.5h0M69.9 64.3h0M62.8 31.7h0M18.0 7.1h0M58.5 29.3h0M98.0 51.2h0M6.1 63.1h0M73.9 25.7h0M22.0 15.3h0M87.6 47.5h0M57.6 69.1h0M42.0 13.5h0M39.7 71.6h0M79.1 29.6h0M75.0 54.4h0M4.5 45.1h0M36.4 57.0h0M59.4 70.8h0M77.5 9.3h0M30.8 43.8h0" stroke="#50b020" stroke-width="0.9" stroke-linecap="round" fill="none"/><path d="M43.6 9.6h0M96.0 58.0h0M8.0 52.5h0M32.1 8.5h0M2.1 1.5h0M62.7 8.8h0M79.9 58.1h0M6.7 52.4h0M94.8 4.1h0M79.0 3.0h0M13.8 13.8h0M93.0 8.7h0M83.5 56.4h0M56.2 6.3h0M46.4 73.9h0M83.8 62.1h0M5.0 13.9h0M33.2 46.4h0M43.7 14.4h0M101.7 44.4h0M90.5 27.0h0M22.6 24.0h0M14.8 26.1h0M21.9 20.5h0M38.4 53.4h0M67.0 19.7h0M43.7 44.2h0M58.0 68.6h0M21.9 43.7h0M87.9 10.4h0M6.8 46.0h0M86.5 67.5h0M24.9 24.1h0M89.8 23.5h0M99.3 69.3h0M14.0 44.0h0M88.9 6.7h0M86.1 67.2h0M9.9 73.8h0M27.5 63.0h0M6.7 13.4h0M39.8 55.5h0M11.1 46.8h0M11.3 15.7h0M35.9 57.6h0M93.8 55.2h0M85.3 35.3h0M17.2 19.8h0M27.0 28.2h0M71.1 17.7h0M5.2 7.6h0M40.6 13.3h0M5.6 75.2h0M62.5 17.2h0M13.7 26.6h0M30.5 46.4h0M78.1 37.8h0M99.1 59.2h0M84.8 25.8h0M27.9 22.9h0M91.3 67.5h0M27.8 62.2h0M31.7 65.7h0M17.7 57.1h0M77.6 20.9h0M74.9 67.2h0M25.0 64.0h0M62.4 26.9h0M3.1 27.3h0M74.7 25.8h0M69.7 32.7h0M8.4 12.4h0M40.1 58.6h0M40.0 17.5h0M74.4 13.6h0M36.3 64.8h0M4.2 70.0h0M70.6 62.2h0M75.6 55.3h0M63.6 29.1h0M94.8 0.2h0M2.3 32.5h0M0.8 73.3h0M43.3 57.3h0M45.7 68.4h0M30.6 32.8h0M40.8 8.1h0M66.7 24.2h0M76.6 23.3h0M34.6 4.5h0M53.5 1.8h0M43.6 51.0h0M58.4 73.6h0M17.1 47.7h0M23.2 72.7h0M7.0 41.8h0M48.9 6.1h0M2.0 52.2h0M62.5 13.9h0M85.3 56.3h0M4.7 29.9h0M76.5 58.3h0M86.7 45.8h0M24.7 48.8h0M41.3 23.2h0M17.6 20.4h0M42.9 5.9h0M12.5 10.7h0M86.4 31.6h0M44.1 44.0h0M73.0 0.7h0M24.7 29.4h0M37.4 40.7h0M63.6 62.0h0M7.7 20.2h0M81.7 12.0h0M83.3 65.0h0M98.1 64.6h0M66.7 21.6h0M9.6 59.9h0M57.4 23.6h0M78.3 19.5h0M88.6 37.7h0M63.2 42.3h0M62.6 13.7h0M29.9 13.9h0M16.1 64.5h0M101.7 19.9h0M13.6 72.0h0M39.7 35.1h0M67.9 71.2h0M89.9 17.0h0M92.5 35.9h0M50.5 48.4h0M46.4 37.2h0M79.3 75.3h0M42.9 5.9h0M70.2 17.2h0M31.0 46.8h0M71.2 30.1h0M47.4 16.3h0M75.1 54.5h0M67.7 12.2h0M88.0 20.2h0M77.8 9.4h0M11.7 1.5h0M1.2 45.4h0M14.9 7.0h0M96.6 59.8h0M13.9 46.9h0M31.3 64.6h0M92.6 67.6h0M51.8 31.3h0M42.5 16.1h0M90.8 51.9h0M19.6 51.7h0M84.4 58.0h0M31.8 49.8h0M4.5 23.6h0M79.2 54.7h0M53.9 56.0h0M23.4 35.2h0M16.7 61.7h0M27.0 45.5h0M20.1 56.4h0M41.1 62.5h0M95.8 73.6h0M53.5 18.7h0M16.4 29.2h0M60.2 19.6h0M49.0 54.9h0M27.1 51.4h0M79.2 32.4h0M27.7 43.4h0M101.1 12.9h0M36.1 40.3h0M41.2 70.4h0M47.7 4.2h0M14.3 70.4h0M6.6 42.6h0M35.9 45.0h0M69.0 27.7h0M85.4 24.2h0M60.4 63.1h0M49.2 13.8h0M84.2 68.9h0M20.5 43.0h0M63.9 75.1h0M89.6 5.8h0M52.9 34.0h0M90.0 53.9h0M53.7 59.1h0M6.9 48.2h0M86.4 31.7h0M71.7 18.4h0M63.1 40.8h0M97.7 6.4h0M69.8 4.1h0M62.2 35.7h0M16.9 3.1h0M28.5 53.5h0M50.8 16.1h0M68.1 65.3h0M13.6 9.7h0M90.5 32.3h0M45.9 44.8h0M12.5 50.4h0M10.2 14.2h0M81.8 41.4h0M89.3 20.2h0" stroke="#1e6a10" stroke-width="0.9" stroke-linecap="round" fill="none"/><path d="M8.7 60.6L14.8 71.4M24.5 4.5L33.7 14.8M58.7 57.5L60.7 69.1M68.0 49.9L76.2 38.7M98.4 28.2L104.2 16.7M6.8 71.7L10.1 78.0M-5.0 11.5L-0.6 23.9M96.4 -3.0L104.3 -4.9M78.0 29.0L84.3 22.1M20.9 45.8L23.9 60.4M95.2 75.3L98.2 68.3M33.2 59.6L39.2 66.4M37.0 7.1L43.1 19.6M5.8 18.1L8.5 26.6M63.1 20.3L69.0 9.0M47.1 12.5L47.3 24.1M97.8 -0.5L107.7 -3.1M24.8 -4.5L31.5 2.3M57.4 15.1L57.1 28.2M12.4 -4.2L18.2 5.9M69.7 29.3L75.6 23.6M30.8 8.6L35.5 15.5M10.5 69.9L15.2 81.6M86.2 33.2L94.1 22.8M72.2 7.6L80.4 5.3M-3.4 22.3L2.1 28.1M80.6 43.0L87.6 33.7M8.5 48.1L11.6 55.4M99.1 4.2L105.9 0.2M94.9 -3.1L103.2 -4.3M-5.1 17.3L3.5 24.5M79.8 57.2L82.9 46.7M49.4 -0.0L48.6 7.9M33.2 18.1L40.6 30.1M55.4 48.4L57.0 57.7M54.9 27.1L58.6 35.8M14.1 70.6L18.9 79.9M87.0 67.4L93.9 54.6M67.7 55.0L71.0 41.2M18.7 66.1L25.4 72.4M20.1 57.2L24.5 66.7M17.9 -3.2L25.0 5.4M79.2 43.2L84.4 37.4M82.0 52.9L86.1 42.8M63.6 62.8L69.3 55.2M15.3 45.4L19.3 54.7M75.2 13.4L88.8 7.1M46.5 10.0L45.8 18.1M23.1 66.7L31.3 77.4M-0.9 42.1L8.9 50.9M17.3 62.7L19.0 71.2M29.1 56.0L35.7 68.2M46.7 15.1L46.5 22.4M47.2 -0.9L44.6 13.8M27.6 24.5L32.9 30.7M9.7 43.4L15.2 53.1M-4.0 58.9L-2.6 66.4M42.1 67.8L42.4 80.6M67.2 21.1L74.8 12.3M38.6 73.8L42.4 81.9M5.7 -6.3L10.6 -1.2M5.4 22.1L9.9 28.3M101.7 36.5L103.5 26.8M51.4 64.8L50.9 79.6M83.2 65.2L86.0 58.4M26.2 35.2L36.5 43.5M86.8 11.9L99.0 13.6M29.5 -4.3L33.5 7.4M84.5 23.3L89.6 11.6M35.5 22.7L40.2 32.0M6.7 6.9L14.6 15.4M19.9 -2.3L23.7 9.3M4.6 25.2L10.6 33.4M-2.4 57.2L4.6 65.1M85.9 82.4L94.0 71.0M25.6 49.6L31.3 59.6M11.5 24.0L14.9 37.8M14.3 39.7L16.1 47.8M90.6 23.5L92.7 11.4M12.0 19.4L16.2 30.9M56.6 49.1L60.1 56.4" stroke="#d00800" stroke-width="1" stroke-linecap="round" fill="none" opacity="0.85"/><path d="M9.5 38.4L15.5 42.1M22.7 -6.5L27.6 7.1M35.8 20.1L42.6 31.4M101.2 69.1L106.6 59.5M16.3 58.9L22.3 66.1M84.5 52.4L90.1 38.9M19.3 23.0L24.6 31.3M43.6 57.6L47.1 66.3M83.9 48.6L91.7 37.0M3.6 5.0L11.4 14.3M100.4 55.2L103.6 43.6M68.0 -1.7L80.3 -2.8M62.4 -2.1L71.3 -3.4M31.3 24.1L38.5 35.2M46.4 8.3L50.0 20.9M5.9 38.2L11.5 48.3M26.7 4.2L32.2 11.5M73.6 13.5L87.0 9.3M73.7 81.4L79.0 74.8M44.0 58.1L46.2 66.4M87.8 52.5L92.9 40.5M98.7 41.5L106.1 30.0M0.8 40.4L7.8 48.3M-0.7 0.9L5.7 7.4M45.5 2.5L44.9 9.6M73.1 78.2L84.4 69.2M52.4 23.3L54.3 36.3M6.1 16.8L12.4 26.1M57.5 28.3L58.6 36.2M74.8 12.3L82.1 9.8M49.4 7.1L51.0 14.3M29.1 44.2L31.7 54.2M38.8 40.0L42.8 46.9M70.6 36.6L77.7 23.9M90.0 42.4L94.0 35.5M6.8 62.7L10.2 69.1M-1.8 36.7L7.4 48.3M18.3 -7.6L28.4 3.3M99.3 51.8L100.2 44.8M28.9 70.2L34.5 77.2M10.3 -5.7L15.3 1.0M43.8 35.0L46.1 46.0M70.7 10.9L77.1 6.0M41.6 56.9L42.5 70.8M97.3 39.9L100.2 29.2M73.2 34.3L81.5 23.0M58.3 72.1L63.2 66.2M26.9 17.4L34.0 28.9M56.2 77.0L64.8 67.0M58.2 30.3L61.1 44.0M49.7 -4.6L48.2 8.3M-5.8 22.1L1.0 30.2M80.0 36.9L86.5 24.3M3.3 -1.9L7.2 4.2M72.3 9.0L85.4 5.9M49.1 54.5L51.1 68.6M-5.6 20.1L0.7 31.4M73.6 33.5L82.2 25.9M53.5 30.7L57.2 42.6M75.4 -3.0L85.7 -4.7M-0.5 55.1L4.2 61.0M78.8 2.0L85.3 -3.1M58.4 73.3L62.8 61.7M45.8 43.8L45.3 54.2M57.0 54.2L64.8 44.0M78.7 57.8L82.0 43.6M1.5 28.8L8.6 40.0M50.1 -6.1L46.9 7.0M60.9 77.2L64.7 68.8M64.6 45.6L72.7 41.4M56.5 9.7L68.6 4.9M75.1 69.7L79.4 60.8M52.5 33.9L56.0 41.0M91.6 18.6L101.5 11.2" stroke="#e81000" stroke-width="1" stroke-linecap="round" fill="none" opacity="0.85"/><path d="M7.8 20.9L10.6 29.5M35.8 52.8L44.4 62.2M91.5 58.7L97.0 51.1M13.5 43.7L18.5 49.5M-4.3 -4.0L-0.4 5.0M102.3 52.2L109.2 45.3M97.5 33.1L103.9 23.9M-1.5 54.1L5.4 61.8M41.1 49.2L43.6 56.1M0.5 53.5L2.6 62.1M24.9 49.2L27.8 56.5M71.1 45.8L84.1 38.8M27.5 21.9L32.6 32.5M82.4 74.1L88.5 63.1M41.0 55.4L43.7 67.7M75.4 14.3L86.0 10.7M17.9 10.8L24.8 18.8M40.9 25.5L43.6 37.4M35.3 37.7L42.6 48.2M54.1 71.2L52.5 82.1M59.7 27.4L57.2 35.0M47.3 68.2L46.5 78.2M4.4 0.4L12.7 11.9M35.5 3.8L42.2 12.4M86.1 41.7L89.9 31.1M2.8 56.3L10.0 65.9M5.5 68.6L8.3 77.8M100.2 52.0L106.6 46.3M5.1 26.2L9.7 38.4M95.3 41.0L98.6 33.9M14.0 54.3L20.1 67.4M27.5 30.7L34.5 37.9M92.0 63.1L98.0 58.5M102.7 54.6L104.8 41.6M0.5 -4.7L3.8 3.9M71.2 44.4L80.9 38.9M31.9 34.0L35.1 46.0M45.4 20.5L43.7 34.9M73.8 10.2L87.5 11.6M72.9 13.8L83.8 8.7M100.5 41.8L106.3 31.3M81.1 19.9L83.1 11.8M17.9 13.6L22.7 23.2M90.5 22.7L98.9 17.9M85.8 60.2L90.5 49.2M66.5 47.8L76.5 38.3M32.8 -3.5L38.8 3.2M64.2 45.3L72.2 36.1M7.7 47.8L15.1 60.2M37.0 46.3L41.7 51.5M19.6 6.7L20.5 20.1M73.7 25.4L80.5 18.3M10.4 3.7L14.4 18.0M32.4 4.8L36.6 11.5M22.1 -3.6L25.6 4.0M31.9 55.9L36.5 67.3M63.8 21.3L67.3 10.0M50.0 16.1L50.2 26.1M61.0 73.3L71.7 66.0M101.1 73.2L104.9 64.1M-0.7 59.4L4.5 65.8M27.3 7.6L30.4 15.4M34.3 24.0L39.0 31.3M84.8 84.9L93.3 72.6M42.8 64.7L43.0 72.8M31.7 -1.6L35.8 10.9M93.4 64.3L99.7 58.4M15.2 15.0L21.7 23.3M50.9 1.0L51.0 11.3M56.0 56.3L54.3 67.3M87.3 78.8L90.0 72.4" stroke="#ff1400" stroke-width="1" stroke-linecap="round" fill="none" opacity="0.85"/><path d="M84.6 26.1L91.2 16.4M99.0 24.8L105.9 18.0M81.8 57.5L84.1 50.2M58.6 9.0L66.9 6.4M71.1 49.9L74.8 43.0M42.9 -10.3L45.3 3.3M3.2 28.7L5.1 37.1M-2.2 26.5L6.1 35.7M55.6 61.2L53.9 72.2M100.1 7.4L110.1 4.7M1.0 4.7L4.9 12.1M50.5 6.1L53.7 19.8M74.7 53.3L79.0 46.2M26.6 56.0L33.0 64.8M43.2 1.1L43.7 10.1M64.6 57.1L72.0 49.1M88.0 52.3L91.9 42.7M48.0 62.9L51.7 71.7M7.4 -7.7L12.5 1.4M63.3 43.9L64.6 36.2M63.5 77.1L66.3 70.3M58.9 63.8L67.4 54.4M47.9 44.2L49.8 56.2M7.0 15.7L13.9 25.5M27.0 59.0L36.0 65.9M93.1 9.3L106.2 9.7M39.5 1.8L40.3 8.9M75.0 48.0L82.1 41.6M31.3 43.8L41.6 53.3M87.0 33.5L92.2 27.3M8.6 52.5L16.8 63.5M87.0 23.6L91.8 15.1M81.0 76.0L86.5 68.9M-0.2 63.1L5.9 74.3M-6.0 -6.7L1.1 3.4M60.5 19.6L67.4 13.0M24.2 -2.3L32.6 6.8M69.1 -0.7L82.4 -1.3M45.6 47.6L46.7 60.9M57.8 20.9L64.3 8.5M10.1 69.0L14.1 77.8M61.0 61.8L65.0 53.6M35.4 25.2L43.1 31.6M96.6 26.6L102.8 14.3M42.8 65.3L47.8 75.6M48.8 14.1L52.6 24.6M0.2 34.0L1.7 47.7M47.0 43.2L47.1 54.5M89.8 36.2L99.6 28.7M84.2 72.5L90.5 64.9M2.6 72.6L9.0 80.3M33.6 71.7L45.2 78.8M102.7 78.2L107.6 72.2M89.4 56.3L94.5 47.8M11.8 1.1L15.0 9.0M101.1 75.0L109.2 63.0M96.5 59.3L101.9 51.6M96.8 47.9L101.7 38.3M14.3 0.8L19.6 13.5M51.0 7.3L53.8 17.2M31.3 24.3L36.5 34.5M30.9 45.1L37.3 55.4M43.9 40.8L46.8 55.3M56.2 41.0L58.7 54.9M62.9 70.3L69.1 63.0M89.8 24.4L95.9 10.7M75.4 69.8L76.4 62.6M21.5 56.6L25.0 64.7M97.0 40.6L100.9 29.8M-0.9 2.3L1.6 16.8M40.2 54.2L46.3 67.8M57.6 33.0L57.3 42.0M46.4 21.2L48.3 30.9M81.6 11.5L90.8 9.3" stroke="#c00600" stroke-width="1" stroke-linecap="round" fill="none" opacity="0.85"/><path d="M10.7 64.3L12.7 67.8M8.8 24.0L9.8 27.1M101.3 21.7L102.8 20.3M24.2 -0.9L25.6 3.2M60.9 8.0L63.7 7.1M70.5 47.0L73.4 43.0M100.2 23.7L101.8 20.6M8.0 74.5L8.7 75.8M3.7 32.2L4.2 34.5M0.1 29.1L3.0 32.3M41.8 50.8L42.5 52.7M18.8 62.2L20.3 64.1M22.2 51.7L22.8 54.9M1.3 57.3L1.9 59.8M96.1 72.7L97.0 70.6M103.7 6.6L106.7 5.8M86.4 46.7L87.6 43.9M41.9 29.1L42.9 33.2M45.0 60.9L46.0 63.2M28.6 58.9L30.8 62.0M86.3 45.6L89.0 41.5M89.1 49.8L90.4 46.6M64.4 74.0L65.2 72.1M64.6 -2.6L67.9 -3.1M33.5 28.5L35.3 31.2M7.7 41.7L9.5 44.9M28.5 6.5L30.4 9.0M-1.2 24.5L0.5 26.3M30.4 32.9L31.9 34.4M98.7 9.5L102.0 9.6M-2.2 19.6L0.1 21.6M39.8 4.5L40.0 5.9M90.0 47.6L91.4 44.3M100.6 37.4L103.3 33.1M35.4 21.6L38.0 25.9M55.9 50.7L56.4 53.5M45.3 5.5L45.2 7.1M82.7 73.2L84.6 70.7M-3.2 -3.5L-1.6 -1.3M8.2 19.4L10.5 22.8M58.0 31.8L58.3 33.8M102.5 38.1L104.0 35.5M93.2 21.2L96.3 19.4M87.4 55.9L89.1 51.9M34.3 -1.2L36.4 1.2M72.3 -0.9L77.4 -1.1M46.1 52.9L46.3 55.8M10.2 51.9L12.8 56.4M22.0 68.0L23.6 69.5M59.8 16.5L61.7 12.8M81.3 41.0L82.9 39.2M0.8 41.2L3.8 44.9M65.8 59.8L67.2 57.9M16.4 48.4L17.9 51.9M80.6 11.5L85.2 9.3M46.2 13.4L46.0 15.7M19.9 11.3L20.2 16.0M26.7 71.0L28.8 73.8M31.1 59.5L33.1 63.3M11.9 -3.6L12.9 -2.3M46.2 5.2L45.5 9.0M30.0 26.4L31.4 28.1M85.7 70.0L87.9 67.4M59.2 74.2L62.2 70.6M-3.9 24.2L-1.6 27.0M84.3 62.7L85.1 60.9M103.6 76.2L105.6 73.8M30.3 37.7L33.6 40.4M91.9 12.5L95.3 13.0M4.2 0.8L5.4 2.7M77.2 7.9L80.9 7.0M9.2 10.3L11.6 12.9M6.7 28.9L8.1 30.9M52.1 11.3L53.0 14.5M76.4 31.4L79.2 29.0M33.0 28.5L34.5 31.5M88.3 79.0L91.2 74.9M32.8 48.9L35.0 52.3M27.4 53.3L29.3 56.7M42.9 66.9L42.9 68.8M45.6 48.7L45.5 51.2M60.3 50.7L62.2 48.3M80.0 52.1L81.0 47.6M4.1 32.3L5.8 35.0M48.9 -2.3L48.0 1.4M95.1 62.0L97.1 60.2M57.5 35.2L57.4 38.5M17.1 18.3L19.0 20.7M13.9 22.9L14.9 25.6M55.3 60.8L54.9 63.3M88.7 76.6L89.3 75.1" stroke="#ff3a00" stroke-width="0.5" stroke-linecap="round" fill="none" opacity="0.9"/><path d="M12.2 39.4L13.9 40.4M86.3 22.8L88.7 19.4M27.7 8.6L30.3 11.6M14.7 46.4L16.2 48.2M82.2 55.0L83.1 52.2M-3.2 -1.2L-1.9 1.9M104.8 49.7L107.1 47.4M38.2 23.4L40.5 27.3M43.7 -5.5L44.2 -2.5M-3.2 15.9L-2.1 19.1M102.8 65.0L104.5 61.9M98.2 -3.8L101.0 -4.4M80.7 25.8L82.4 24.0M25.5 51.2L26.6 54.1M76.1 43.0L80.1 40.9M38.6 11.0L40.9 15.6M29.6 26.7L30.8 29.2M84.3 69.4L86.0 66.3M76.4 50.3L78.0 47.7M79.0 12.9L82.1 11.9M38.2 40.8L40.3 43.9M65.2 16.6L66.8 13.5M47.1 16.9L47.2 21.1M43.3 3.6L43.5 7.1M100.6 -1.4L103.2 -2.1M6.4 7.7L8.9 10.6M47.0 70.6L46.8 73.8M6.8 4.1L9.5 7.8M101.5 51.9L102.5 48.4M72.5 -2.1L77.0 -2.4M57.3 19.4L57.2 22.2M87.5 38.4L88.4 35.9M4.5 59.9L7.1 63.3M13.8 -0.7L15.9 3.0M71.4 27.5L73.2 25.8M47.9 12.7L49.0 16.6M77.6 12.0L82.7 10.5M88.9 29.5L91.2 26.6M7.0 31.9L8.0 34.5M75.6 79.5L77.5 77.1M75.4 6.8L78.4 6.0M44.9 61.4L45.5 64.0M9.8 51.1L10.5 52.7M15.6 59.3L17.7 63.9M102.1 2.6L104.2 1.4M49.0 3.4L48.9 5.0M34.4 47.3L37.6 50.3M75.2 42.5L77.7 41.1M12.0 56.7L14.1 59.7M1.3 3.8L3.1 5.6M56.4 30.3L57.7 33.4M44.8 26.9L44.3 30.3M53.0 27.1L53.7 32.1M78.2 12.0L80.4 10.9M77.5 11.5L79.7 10.8M19.8 17.6L21.5 21.0M40.7 41.7L42.0 44.0M27.0 0.6L29.5 3.3M73.0 31.5L74.5 28.8M62.4 58.6L63.2 56.9M38.2 26.9L40.7 29.0M20.9 -4.4L24.6 -0.4M99.7 50.0L99.9 48.5M34.2 6.7L35.0 8.1M2.1 44.9L4.5 47.1M30.6 72.2L32.2 74.2M46.7 17.0L46.6 19.5M98.2 36.9L99.1 33.7M0.8 39.6L1.2 42.6M-3.4 61.7L-3.1 63.5M69.8 17.2L72.0 14.7M33.6 60.0L35.2 64.0M39.7 76.8L41.1 79.9M7.1 -3.9L8.2 -2.8M51.3 70.3L51.1 75.0M4.4 74.5L6.6 77.1M50.1 19.4L50.2 22.4M91.2 53.6L93.2 50.3M104.1 70.7L106.3 67.4M31.1 1.1L32.1 3.9M1.4 61.5L3.3 63.7M49.8 60.7L50.3 64.2M36.3 25.7L38.0 28.4M37.1 25.5L38.6 28.5M99.0 43.6L100.1 41.5M45.1 45.0L46.0 49.6M65.4 68.2L67.0 66.3M78.6 -3.7L81.0 -4.1M0.9 56.9L2.3 58.7M32.9 2.5L33.9 5.8M12.7 28.6L13.5 31.7M60.4 68.2L61.4 65.7M92.0 19.4L94.4 14.0M75.9 67.5L76.2 64.9M23.1 59.5L24.1 62.0M42.8 58.2L44.5 62.1M84.4 10.9L87.7 10.2" stroke="#f0a020" stroke-width="0.5" stroke-linecap="round" fill="none" opacity="0.9"/><path d="M38.8 55.7L41.2 58.3M92.7 56.3L94.8 53.5M72.3 48.1L73.4 46.1M59.3 62.3L59.9 65.4M99.1 30.7L101.6 27.2M1.4 56.4L3.2 58.4M55.0 65.2L54.4 69.4M35.0 61.2L37.0 63.5M2.0 7.8L3.3 10.2M51.6 11.0L52.7 15.3M20.7 25.9L22.8 29.2M41.8 59.0L42.7 63.3M20.1 14.2L22.4 17.0M7.2 21.6L7.7 23.4M53.6 75.5L53.3 78.0M66.8 53.5L68.9 51.2M27.6 -2.3L29.3 -0.6M58.5 30.0L57.9 31.9M49.1 66.2L50.5 69.5M9.0 -4.6L10.4 -2.2M63.8 40.6L64.3 38.0M37.9 6.6L40.3 9.6M32.5 11.8L33.6 13.4M6.8 72.8L7.4 74.8M62.0 60.2L63.8 58.1M48.6 48.0L49.2 51.9M102.8 50.7L105.2 48.6M11.8 73.8L13.1 77.1M9.9 19.6L11.4 21.8M83.8 38.9L85.4 36.7M96.1 39.1L97.3 36.7M30.1 61.4L32.0 62.9M98.2 -3.5L100.3 -3.8M93.4 60.9L95.1 59.7M81.1 52.8L81.7 50.6M76.9 46.6L79.5 44.2M103.5 49.6L104.0 46.6M1.9 -1.6L2.7 0.6M3.4 42.9L6.1 46.0M33.3 38.4L34.2 41.9M88.8 31.7L90.0 30.2M88.7 21.5L90.4 18.5M77.9 74.8L80.7 72.5M16.2 74.3L17.6 77.0M1.7 67.2L3.5 70.6M78.4 10.7L83.3 11.2M81.9 16.9L82.6 14.2M50.0 9.9L50.4 11.6M29.9 48.0L30.9 51.9M63.5 16.4L65.0 14.9M89.8 62.8L91.7 59.4M70.9 44.3L73.0 42.3M66.2 43.0L69.4 39.3M68.7 50.4L69.7 46.1M91.7 40.5L93.0 38.4M21.6 60.1L22.6 62.4M20.3 -1.1L23.1 2.3M11.8 71.1L13.2 74.1M39.2 47.9L40.3 49.1M83.3 50.2L84.6 47.0M8.0 65.2L9.0 67.1M76.4 22.4L78.1 20.6M11.9 8.8L13.3 13.7M18.0 66.3L18.6 69.1M44.6 38.9L45.1 41.2M73.0 8.6L74.5 7.5M98.7 22.9L101.0 18.5M44.7 69.1L46.2 72.1M42.0 61.9L42.2 65.2M12.2 47.9L13.6 50.2M50.0 18.5L51.1 21.3M42.2 72.4L42.3 75.7M76.8 30.9L79.1 27.7M60.2 69.8L61.8 67.8M47.0 47.1L47.0 50.4M93.0 34.0L96.0 31.7M23.0 -0.4L24.0 1.9M29.9 22.4L31.8 25.5M6.4 23.4L8.0 25.7M102.3 32.6L102.8 29.7M59.2 35.8L59.9 39.4M49.2 -0.2L48.7 4.3M64.9 16.8L65.7 14.2M38.2 74.0L41.7 76.2M12.6 3.2L13.7 5.8M65.0 70.3L68.1 68.2M102.2 70.0L103.5 66.9M81.8 33.0L84.1 28.6M28.1 11.4L28.8 13.3M86.5 18.0L87.6 15.5M98.6 56.5L100.7 53.5M21.2 2.7L22.3 6.1M-4.0 23.0L-1.5 27.5M16.1 5.6L17.2 8.3M0.7 60.8L2.5 62.8M55.2 36.0L56.0 38.7M56.8 45.2L57.8 50.7M87.5 81.4L90.4 77.3M81.4 -0.1L83.1 -1.4M14.9 42.1L15.5 45.0M98.5 37.1L99.7 33.6M62.1 74.7L62.9 73.0M0.2 8.2L0.8 11.9M66.7 44.3L69.0 43.1M60.7 7.7L64.3 6.3M76.4 66.0L77.4 64.0M53.8 35.7L54.9 38.1M91.4 19.4L92.2 15.1M57.4 51.5L58.6 54.0M51.0 4.6L51.0 7.8M47.1 24.8L47.8 28.5M95.0 16.2L97.1 14.6" stroke="#ff6a10" stroke-width="0.5" stroke-linecap="round" fill="none" opacity="0.9"/></g></svg>
<svg x="440" y="644" width="103" height="76" viewBox="0 0 103 76" overflow="hidden"><rect width="103" height="76" fill="#160600"/><g filter="url(#bl)"><path d="M0.2 33.7h0M92.1 74.2h0M36.6 52.1h0M25.1 30.3h0M54.0 20.1h0M65.9 32.5h0M20.2 22.3h0M4.1 72.2h0M53.8 61.0h0M71.1 66.4h0M16.1 29.1h0M37.6 45.7h0M68.7 5.9h0M34.6 69.1h0M36.7 47.8h0M84.8 21.6h0M77.9 39.3h0M69.7 52.6h0M64.4 35.2h0M4.5 60.0h0M88.1 44.6h0M95.5 19.5h0M101.2 32.3h0M12.0 20.7h0M67.8 34.1h0M33.0 2.6h0M92.1 42.1h0M49.8 36.5h0M30.2 5.9h0M7.9 40.4h0M58.1 50.9h0M89.9 70.6h0M98.6 63.5h0M4.4 36.9h0M26.4 32.9h0M26.7 49.2h0M87.7 14.3h0M44.3 14.6h0M70.2 68.3h0M94.9 21.0h0M62.8 66.5h0M74.6 74.1h0M91.2 43.0h0M16.1 34.8h0M6.5 35.2h0M2.8 16.5h0M91.4 70.9h0M37.7 69.4h0M88.9 71.3h0M96.6 37.4h0M42.6 11.9h0M50.2 16.7h0M27.0 17.7h0M39.9 11.2h0M32.4 41.3h0M46.6 47.0h0M93.8 12.2h0M50.3 30.3h0M2.2 19.5h0M54.2 22.1h0M59.8 63.8h0M63.9 24.7h0M87.8 63.0h0M74.8 32.8h0M3.5 37.7h0M31.9 42.4h0M45.3 34.7h0M43.3 75.5h0M12.2 40.7h0M47.7 37.6h0M74.4 7.5h0M100.7 39.2h0M3.9 71.7h0M55.0 17.9h0M5.9 44.0h0M90.7 2.9h0M95.5 56.6h0M28.3 16.4h0M62.3 38.1h0M5.2 8.8h0M14.3 33.2h0M3.4 28.1h0M95.9 44.3h0M83.2 8.8h0M99.5 48.8h0M84.3 31.4h0M24.5 70.6h0M22.7 11.7h0M21.9 51.8h0M86.6 45.6h0M16.4 52.0h0M5.2 37.0h0M22.0 36.5h0M43.7 54.1h0M24.9 30.0h0M52.6 50.2h0M66.2 67.6h0M87.7 69.5h0M72.6 7.3h0M9.2 17.6h0M57.7 22.7h0M68.1 65.5h0M89.8 14.6h0M63.8 19.7h0M54.1 37.3h0M49.5 8.4h0M86.9 13.9h0M16.1 70.8h0M16.3 41.5h0M84.8 4.1h0M21.2 65.5h0M101.3 46.6h0M9.8 1.7h0M91.7 26.7h0M74.7 75.1h0M97.8 42.2h0M35.6 20.2h0M1.0 39.7h0M12.6 22.5h0M100.2 75.8h0M5.4 68.1h0M62.6 33.5h0M22.7 72.8h0M42.5 25.2h0" stroke="#2a8a18" stroke-width="0.84" stroke-linecap="round" fill="none"/><path d="M1.8 52.9h0M8.7 52.6h0M32.7 48.0h0M51.1 40.1h0M102.5 39.9h0M7.5 1.6h0M55.5 47.6h0M16.0 4.7h0M33.9 23.8h0M64.6 60.7h0M100.4 25.8h0M7.6 20.4h0M66.9 2.8h0M24.6 20.3h0M101.0 76.0h0M9.3 17.9h0M21.6 60.5h0M32.6 59.2h0M83.2 75.4h0M102.2 43.9h0M38.2 24.5h0M91.8 75.5h0M13.2 62.7h0M8.7 19.4h0M79.6 27.5h0M31.3 30.5h0M74.1 11.3h0M15.4 49.5h0M80.6 23.6h0M60.9 24.7h0M18.0 40.6h0M23.0 16.6h0M75.7 0.9h0M74.7 40.3h0M45.0 63.8h0M58.0 65.7h0M86.3 34.3h0M22.9 50.1h0M98.2 48.0h0M58.4 17.6h0M25.5 34.7h0M49.8 68.9h0M95.9 52.6h0M28.8 66.2h0M17.7 58.4h0M99.6 28.1h0M92.6 60.4h0M14.3 31.8h0M87.5 37.2h0M92.2 48.2h0M19.5 19.5h0M88.5 52.6h0M77.9 19.0h0M60.3 39.0h0M63.4 62.0h0M88.4 67.8h0M53.6 72.0h0M34.7 49.7h0M38.7 7.8h0M73.7 29.9h0M29.4 68.6h0M75.7 36.8h0M24.4 4.3h0M16.4 13.3h0M62.2 12.6h0M62.2 45.9h0M16.9 28.1h0M52.5 24.2h0M77.9 45.5h0M20.5 9.6h0M9.3 13.8h0M88.3 41.0h0M33.1 52.3h0M74.5 12.2h0M24.4 69.9h0M82.9 39.1h0M64.2 51.1h0M60.2 70.8h0M41.1 32.3h0M70.1 74.3h0M71.1 12.9h0M30.7 59.4h0M4.6 1.3h0M100.1 61.5h0M78.2 70.8h0M65.6 30.6h0M87.2 52.2h0M58.8 26.4h0M50.0 46.5h0M29.2 21.1h0M92.5 23.6h0M102.6 46.2h0M101.4 32.3h0M14.5 9.8h0M4.0 42.9h0M19.1 5.5h0M14.9 73.2h0M30.1 34.3h0M85.7 2.7h0M89.1 34.9h0M47.3 10.5h0M24.2 22.6h0M61.0 25.0h0M63.5 48.3h0M32.5 32.3h0M3.4 56.8h0M3.6 74.8h0M80.5 22.0h0M30.0 45.3h0M85.1 60.3h0M98.1 12.6h0M16.8 41.0h0M66.5 49.1h0M25.9 52.8h0M38.1 26.3h0M33.6 0.3h0M5.9 53.0h0M27.7 72.1h0M52.3 7.3h0M18.4 42.7h0M57.6 5.2h0M35.5 6.8h0M66.6 56.5h0M82.9 67.8h0M39.9 1.0h0M85.1 22.5h0M6.4 29.6h0M54.5 67.8h0M19.0 57.3h0M61.4 22.4h0M49.8 37.9h0M77.0 66.8h0M90.1 39.4h0M23.2 63.3h0M24.6 36.0h0M56.9 48.5h0M22.0 65.9h0M6.4 53.4h0M3.1 71.5h0M34.9 72.4h0M73.4 46.7h0M21.6 33.5h0" stroke="#50b020" stroke-width="0.84" stroke-linecap="round" fill="none"/><path d="M17.1 23.3h0M75.2 0.6h0M23.5 15.9h0M32.1 54.7h0M49.9 20.5h0M13.3 4.9h0M90.7 10.6h0M36.8 17.8h0M20.0 7.9h0M56.6 10.9h0M37.4 31.0h0M39.7 12.8h0M23.1 41.9h0M46.5 55.3h0M27.0 7.5h0M25.2 20.0h0M80.3 26.6h0M98.9 11.9h0M72.7 9.4h0M21.9 31.0h0M96.5 29.7h0M29.3 20.6h0M17.9 32.8h0M66.4 72.0h0M22.7 26.5h0M69.9 17.3h0M81.0 23.4h0M65.9 47.8h0M5.7 5.0h0M29.3 62.0h0M34.7 63.8h0M67.6 39.9h0M95.7 57.7h0M77.3 47.3h0M102.9 24.9h0M70.2 5.9h0M46.6 57.3h0M65.2 41.8h0M37.8 8.7h0M13.2 20.8h0M94.2 13.2h0M21.4 71.3h0M29.9 64.1h0M48.6 14.7h0M19.0 6.2h0M29.4 22.1h0M46.6 19.7h0M62.0 17.6h0M6.7 43.2h0M97.7 14.0h0M8.6 11.1h0M19.7 57.3h0M24.3 58.4h0M86.3 55.2h0M28.7 46.6h0M70.4 38.2h0M44.3 42.1h0M62.8 67.4h0M17.5 73.0h0M33.5 69.4h0M32.5 45.7h0M71.3 13.3h0M79.8 33.7h0M82.1 51.6h0M20.0 58.7h0M22.5 3.1h0M31.0 65.7h0M41.5 14.8h0M26.4 72.9h0M38.8 12.8h0M87.0 44.9h0M77.4 23.5h0M62.0 6.6h0M28.0 22.7h0M70.3 69.0h0M46.8 45.8h0M35.5 10.6h0M98.5 47.9h0M61.1 60.0h0M11.8 67.3h0M90.3 52.6h0M35.0 69.8h0M38.6 5.9h0M71.7 0.3h0M27.3 25.3h0M5.0 52.2h0M36.6 31.5h0M41.7 53.9h0M76.1 3.9h0M85.1 32.2h0M30.0 45.5h0M46.6 31.7h0M77.7 74.6h0M66.2 30.5h0M11.1 71.5h0M37.2 65.1h0M65.4 4.7h0M33.6 75.2h0M18.5 37.2h0M11.3 33.2h0M56.0 19.8h0M41.6 38.2h0M60.3 54.8h0M57.6 40.1h0M67.7 48.8h0M33.8 56.3h0M84.5 0.7h0M14.6 5.3h0M44.1 33.3h0M96.7 36.6h0M56.1 51.5h0M67.5 37.2h0M37.7 32.9h0M86.5 3.0h0M7.8 71.6h0M11.1 10.7h0M50.6 16.8h0M48.9 10.1h0M76.4 68.2h0M38.4 34.6h0M9.7 6.7h0M6.0 37.9h0M77.4 49.3h0M4.0 68.3h0M80.1 52.2h0M92.7 53.7h0M23.0 51.7h0M26.8 67.0h0M87.4 65.8h0M7.4 35.6h0M32.7 35.4h0M77.3 12.8h0M20.2 50.9h0M3.2 73.8h0M97.3 29.6h0M25.3 12.3h0M41.9 24.9h0M66.4 20.3h0M46.7 15.4h0M100.1 42.8h0M37.6 50.8h0M29.7 8.0h0" stroke="#1e6a10" stroke-width="0.84" stroke-linecap="round" fill="none"/><path d="M39.2 24.0h0M93.1 29.9h0M72.2 47.8h0M70.6 30.2h0M83.1 48.6h0M43.8 33.4h0M22.4 69.4h0M8.7 49.3h0M25.2 36.2h0M33.6 76.0h0M43.7 45.0h0M60.9 42.3h0M44.1 73.1h0M73.7 38.4h0M50.8 67.5h0M59.8 47.9h0M49.0 54.4h0M88.5 68.7h0M51.6 26.4h0M63.8 70.2h0M87.9 17.7h0M28.3 18.9h0M87.0 49.6h0M67.1 29.8h0M59.0 19.7h0M93.5 5.3h0M66.4 44.3h0M91.2 1.6h0M101.6 53.3h0M20.9 60.3h0M99.6 43.3h0M33.7 52.4h0M54.1 8.0h0M79.8 17.7h0M44.8 54.1h0M25.5 17.1h0M66.2 21.7h0M47.2 49.0h0M84.8 50.8h0M25.4 53.1h0M84.0 2.0h0M100.8 0.8h0M71.7 65.9h0M77.9 18.4h0M72.2 44.0h0M4.4 63.4h0M96.3 59.4h0M12.4 70.3h0M2.4 37.0h0M77.1 52.0h0M46.6 66.8h0M22.3 4.3h0M5.7 72.9h0M45.4 12.8h0M63.9 13.3h0M55.2 29.1h0M33.2 72.9h0M95.6 25.4h0M38.7 26.1h0M32.2 69.7h0M66.2 22.4h0M88.6 40.6h0M51.9 32.0h0M72.9 58.7h0M1.9 56.0h0M32.6 8.1h0M15.7 52.4h0M92.0 37.9h0M0.3 7.8h0M44.9 59.9h0M66.4 43.9h0M78.4 33.7h0M20.5 16.5h0M98.0 40.6h0M65.8 61.8h0M33.2 13.7h0M74.6 53.4h0M84.9 40.4h0M21.8 14.2h0M14.5 14.1h0M96.8 70.3h0M102.7 57.4h0M59.4 28.5h0M21.1 20.0h0M74.4 1.9h0M51.7 54.3h0M92.8 37.7h0M22.5 7.7h0M41.8 2.6h0M11.2 55.7h0M73.0 27.2h0M82.5 7.0h0M62.5 29.6h0M37.4 39.6h0M92.1 7.1h0M36.0 68.5h0M3.8 67.0h0M81.6 16.0h0M8.5 48.1h0M81.0 48.8h0M7.8 59.9h0M42.2 10.5h0M95.7 33.0h0M19.7 60.6h0M66.6 15.1h0M91.9 2.8h0M39.4 46.6h0M89.6 50.5h0M56.7 2.5h0M82.4 73.7h0M60.7 61.7h0M29.2 64.3h0" stroke="#3aa020" stroke-width="0.84" stroke-linecap="round" fill="none"/><path d="M86.3 40.3h0M96.3 24.8h0M70.2 8.4h0M86.9 73.8h0M50.5 70.2h0M22.9 27.8h0M73.2 30.5h0M22.7 17.2h0M36.6 21.5h0M54.0 37.1h0M72.5 21.2h0M17.1 45.6h0M35.8 15.5h0M20.3 31.8h0M49.5 10.7h0M85.5 19.2h0M75.1 55.5h0M90.4 22.1h0M39.0 11.0h0M8.4 65.9h0M66.1 49.7h0M47.7 45.1h0M55.0 11.0h0M67.1 13.9h0M56.5 9.5h0M31.2 3.8h0M97.7 70.1h0M73.4 45.9h0M49.8 1.8h0M88.3 4.6h0M56.8 62.0h0M34.1 55.6h0M48.9 60.4h0M12.8 31.4h0M5.1 40.1h0M99.1 69.8h0M27.3 46.6h0M35.3 55.1h0M68.3 20.7h0M94.6 50.0h0M85.4 42.0h0M22.7 44.4h0M41.9 53.9h0M74.3 71.0h0M36.9 47.1h0M83.8 12.1h0M63.1 20.0h0M31.4 27.6h0M75.0 6.9h0M45.8 73.7h0" stroke="#f05010" stroke-width="1.5" stroke-linecap="round" fill="none" opacity="0.8"/><path d="M71.6 44.4h0M43.4 26.2h0M34.1 74.6h0M23.2 61.6h0M71.7 51.2h0M72.2 34.5h0M102.3 0.3h0M91.2 17.0h0M49.6 46.5h0M79.3 74.5h0M99.7 61.7h0M5.7 24.3h0M30.3 18.4h0M69.6 19.3h0M100.1 73.8h0M20.3 70.1h0M91.5 0.0h0M71.1 36.5h0M49.9 27.4h0M53.0 14.4h0M95.9 36.9h0M33.6 43.8h0M46.2 4.5h0M81.8 41.5h0M0.6 28.1h0M28.9 12.6h0M94.2 3.5h0M6.4 57.0h0M93.5 55.0h0M36.3 31.2h0M102.4 20.1h0M35.6 39.8h0M13.7 73.1h0M60.1 52.7h0M66.0 40.3h0M46.5 6.5h0M70.6 36.1h0M6.0 27.2h0M5.5 53.6h0M16.2 43.9h0M16.3 20.8h0M56.5 3.1h0M41.2 20.3h0M7.1 27.9h0M35.8 18.5h0M74.3 24.4h0M76.2 55.5h0M33.1 13.2h0M9.6 10.8h0M102.0 49.8h0M49.4 37.3h0M93.3 7.0h0M10.0 62.6h0M94.3 66.9h0M26.2 42.5h0M40.1 69.2h0M4.9 19.7h0M48.1 11.5h0M46.6 74.3h0M35.1 73.5h0" stroke="#d03000" stroke-width="1.5" stroke-linecap="round" fill="none" opacity="0.8"/><path d="M35.8 67.7h0M1.3 58.2h0M62.6 16.5h0M54.3 13.7h0M42.9 65.7h0M6.4 73.9h0M9.6 59.3h0M100.3 35.0h0M57.2 66.7h0M33.8 4.6h0M78.7 43.8h0M83.5 24.2h0M56.5 61.7h0M94.5 67.6h0M90.3 3.4h0M20.5 22.8h0M65.8 24.7h0M86.6 43.5h0M96.0 74.5h0M65.8 23.9h0M30.4 1.6h0M63.5 61.7h0M62.7 11.4h0M7.2 71.7h0M56.7 74.3h0M59.3 52.0h0M22.2 66.3h0M12.6 13.3h0M4.9 47.7h0M36.4 40.0h0M85.9 21.6h0M13.6 36.9h0M76.5 33.1h0M73.9 37.2h0M93.9 56.9h0M61.8 59.5h0M64.2 44.9h0M39.9 2.7h0M79.1 27.4h0M57.9 7.9h0M71.9 16.5h0M31.7 2.6h0M8.3 7.2h0M69.0 57.3h0M71.5 40.2h0M79.1 35.0h0M5.6 9.4h0M78.9 36.7h0M92.1 67.9h0M51.5 7.2h0M45.1 73.0h0" stroke="#ff7010" stroke-width="1.5" stroke-linecap="round" fill="none" opacity="0.8"/><path d="M32.4 71.7h0M47.1 18.1h0M76.6 31.8h0M93.4 57.3h0M81.5 55.4h0M17.6 51.1h0M77.5 35.2h0M74.6 60.3h0M75.2 33.6h0M101.3 37.8h0M47.4 66.0h0M97.0 2.0h0M13.3 66.7h0M56.4 73.4h0M19.7 61.6h0M49.3 67.3h0M76.6 35.1h0M56.6 62.2h0M98.4 56.6h0M4.3 72.8h0M98.4 71.6h0M46.9 4.3h0M59.9 49.4h0M42.0 57.8h0M59.7 51.5h0M84.6 41.2h0M71.9 51.3h0M80.9 75.3h0M55.5 53.9h0M51.5 72.4h0M24.6 65.0h0M26.9 8.5h0M60.1 70.4h0M78.5 20.9h0M29.2 61.0h0M26.5 7.9h0M17.8 33.0h0M83.5 71.4h0M83.7 6.2h0M52.5 8.7h0M15.1 2.5h0M64.5 20.2h0M59.4 17.7h0M26.5 9.1h0M24.0 44.7h0M69.9 10.3h0M6.3 41.5h0M7.8 8.7h0M27.8 74.4h0M48.9 36.2h0M63.1 0.7h0M39.9 56.2h0M84.4 5.4h0M14.0 34.8h0M66.6 5.8h0M42.4 44.8h0M85.6 27.9h0M69.8 16.5h0" stroke="#ff9020" stroke-width="1.5" stroke-linecap="round" fill="none" opacity="0.8"/><path d="M95.0 44.9h0M50.0 15.9h0M79.3 37.7h0M87.5 0.9h0M56.6 13.7h0M48.3 12.1h0M97.6 13.9h0M59.7 65.0h0M30.9 9.8h0M77.9 4.0h0M13.0 47.0h0M35.0 2.6h0M61.2 75.0h0M23.2 22.6h0M82.8 38.5h0M29.0 45.5h0M94.2 35.8h0M11.6 11.5h0M59.6 60.2h0M81.9 1.7h0M32.7 59.1h0M87.6 20.8h0M66.6 61.4h0M45.3 71.5h0M76.6 6.2h0M81.5 59.7h0M7.1 58.1h0M86.5 62.2h0M50.7 57.3h0M1.8 53.6h0M76.9 68.5h0M35.6 72.5h0M80.2 57.9h0M33.2 57.3h0M34.7 0.9h0M20.3 31.4h0M19.8 50.5h0M76.0 23.8h0M28.3 3.5h0M70.1 16.0h0M7.3 66.2h0M82.3 53.7h0M88.7 56.7h0M62.4 74.6h0M27.1 28.8h0M92.0 46.1h0M97.7 16.2h0M69.7 16.9h0M85.4 72.3h0M66.7 69.7h0M87.8 3.2h0M58.5 22.8h0M41.3 29.3h0M41.3 28.1h0M39.8 73.5h0M64.0 6.7h0" stroke="#b01800" stroke-width="1.5" stroke-linecap="round" fill="none" opacity="0.8"/><path d="M46.4 23.9h0M99.8 33.8h0M24.3 38.1h0M28.7 49.0h0M93.8 56.1h0M50.4 30.5h0M20.8 31.8h0M82.6 13.6h0M47.2 42.9h0M22.8 73.7h0M49.6 21.0h0M30.2 52.8h0M14.2 0.6h0M20.0 49.7h0M51.3 0.1h0M40.7 4.9h0M75.2 26.9h0M84.6 61.4h0M16.7 24.2h0M36.4 65.1h0M79.8 69.0h0M28.6 36.6h0M37.7 13.9h0M64.6 60.9h0M32.9 56.2h0M46.5 2.4h0M4.4 21.3h0M44.7 32.0h0M2.4 22.6h0M53.0 40.4h0M64.1 12.0h0M12.5 46.9h0M0.5 37.2h0M27.7 21.8h0M19.7 70.6h0M84.0 27.5h0M73.7 27.4h0M51.1 48.8h0M82.0 33.5h0M3.9 33.0h0M67.0 67.8h0M56.5 42.6h0M101.7 47.0h0M35.0 62.5h0M53.1 35.2h0M61.9 62.7h0M71.3 64.3h0M92.3 46.3h0M14.5 48.6h0M90.5 27.3h0M46.1 41.6h0M80.2 48.2h0M12.8 8.3h0M11.4 1.6h0M13.5 47.1h0M12.4 32.5h0M82.2 68.2h0M13.0 69.1h0M57.3 5.9h0M3.2 75.0h0M73.3 43.9h0M45.0 72.2h0M63.1 2.3h0M0.2 65.4h0M76.5 72.3h0M15.4 52.7h0M88.4 20.2h0M32.1 31.6h0M78.8 65.2h0M83.4 26.3h0M86.6 45.4h0M63.9 29.4h0M6.0 28.0h0M85.6 15.6h0M70.3 69.5h0M20.3 6.1h0" stroke="#ff7010" stroke-width="1" stroke-linecap="round" fill="none" opacity="0.8"/><path d="M58.8 16.1h0M56.8 8.5h0M57.2 17.3h0M0.3 22.8h0M71.7 0.8h0M64.4 21.2h0M54.2 28.4h0M31.7 58.9h0M84.8 17.6h0M58.5 4.0h0M21.1 38.4h0M52.4 63.1h0M25.5 57.5h0M37.3 65.4h0M90.6 76.0h0M63.0 24.0h0M16.1 52.6h0M66.0 24.4h0M90.9 39.6h0M31.9 8.5h0M64.3 43.4h0M47.4 21.9h0M78.6 64.7h0M27.2 1.5h0M54.7 64.8h0M22.0 45.6h0M3.0 52.0h0M90.1 71.1h0M31.6 28.5h0M81.7 71.3h0M9.5 71.3h0M102.5 70.8h0M88.3 28.9h0M63.5 63.0h0M66.4 62.4h0M101.3 18.9h0M75.9 48.4h0M95.1 29.3h0M82.7 32.3h0M17.9 21.3h0M19.8 36.2h0M14.9 1.4h0M81.2 74.7h0M12.9 73.9h0M60.8 27.8h0M57.5 4.9h0M49.1 28.1h0M37.0 44.5h0M35.2 61.9h0M68.6 45.3h0M86.8 75.8h0M51.7 56.8h0M26.1 25.4h0M32.2 37.5h0M16.8 36.7h0M16.3 73.3h0M49.5 48.5h0M46.6 35.2h0M88.9 46.2h0M70.4 10.6h0M94.3 44.9h0M79.4 16.6h0M57.1 37.4h0M94.1 21.8h0M59.0 49.7h0M11.9 44.8h0M48.5 8.0h0M63.3 62.1h0M75.8 61.0h0M60.1 5.5h0M7.4 6.1h0M87.9 42.3h0M6.7 17.9h0M20.2 28.2h0M89.5 58.0h0M85.4 64.8h0M40.1 20.1h0" stroke="#d03000" stroke-width="1" stroke-linecap="round" fill="none" opacity="0.8"/><path d="M30.1 47.7h0M35.4 70.5h0M60.2 62.4h0M75.7 59.5h0M88.2 64.6h0M94.8 4.0h0M61.2 13.8h0M55.8 8.7h0M87.8 8.2h0M15.9 18.8h0M8.2 48.2h0M58.6 28.1h0M80.1 19.1h0M7.4 4.6h0M47.7 54.9h0M67.0 32.6h0M43.0 32.9h0M89.4 32.4h0M25.4 68.3h0M26.6 51.6h0M90.4 64.2h0M7.3 66.2h0M38.3 56.2h0M64.9 63.9h0M57.4 24.0h0M74.4 31.1h0M88.7 62.3h0M51.4 43.9h0M98.9 26.0h0M31.7 38.3h0M74.9 39.6h0M99.6 2.2h0M26.2 59.1h0M43.4 49.1h0M101.1 44.0h0M43.5 16.2h0M4.6 72.3h0M33.2 69.3h0M55.7 75.0h0M91.9 49.8h0M15.3 52.3h0M61.7 47.8h0M85.8 16.2h0M27.8 22.0h0M98.7 67.8h0M49.6 44.8h0M68.6 37.3h0M64.7 19.8h0M62.3 10.8h0M55.3 75.2h0M93.2 59.1h0M62.9 7.5h0M42.5 28.8h0M89.8 55.8h0M100.8 35.2h0M3.3 47.7h0M37.4 4.1h0M92.3 65.1h0M100.0 30.2h0M6.0 48.0h0M75.8 48.4h0M4.1 42.1h0M23.2 19.6h0M4.9 29.8h0M102.2 19.8h0M1.5 39.5h0M15.8 47.6h0M93.7 38.2h0M93.3 45.5h0M92.4 25.1h0M30.7 44.8h0M65.5 52.6h0M73.4 44.2h0M49.3 60.2h0M83.4 15.1h0M63.2 6.4h0M21.4 16.1h0M11.8 16.9h0M26.9 38.3h0M19.0 6.6h0M3.6 49.2h0" stroke="#b01800" stroke-width="1" stroke-linecap="round" fill="none" opacity="0.8"/><path d="M30.6 38.4h0M11.7 68.3h0M8.2 30.4h0M58.0 32.1h0M46.1 68.2h0M3.2 7.5h0M68.3 16.1h0M35.7 44.4h0M40.0 35.5h0M78.1 8.3h0M81.9 8.9h0M56.3 59.5h0M6.8 35.5h0M21.7 68.4h0M23.3 1.0h0M0.4 43.3h0M81.8 52.5h0M6.5 15.6h0M68.8 11.6h0M11.9 32.7h0M91.6 51.4h0M15.4 43.3h0M1.1 29.4h0M101.2 11.5h0M37.4 19.4h0M102.9 18.3h0M73.4 52.3h0M66.7 13.5h0M31.8 48.8h0M77.6 45.9h0M66.0 75.9h0M16.9 67.8h0M24.2 36.6h0M68.3 18.5h0M89.1 31.5h0M30.8 27.3h0M57.5 55.6h0M81.5 57.8h0M6.8 14.6h0M4.0 49.0h0M32.0 32.1h0M10.7 11.8h0M25.1 56.6h0M25.4 8.7h0M80.9 37.6h0M31.3 10.3h0M7.7 22.5h0M49.4 19.9h0M59.5 70.5h0M27.2 26.1h0M35.7 66.4h0M19.2 73.3h0M5.8 22.4h0M30.4 70.3h0M74.4 9.9h0M69.1 48.3h0M27.6 21.1h0M75.5 20.2h0M39.1 32.7h0M70.3 33.4h0M64.3 41.7h0M57.6 5.2h0M44.3 66.5h0M80.9 67.2h0M38.7 70.6h0M9.2 33.6h0M19.0 62.8h0M69.2 30.9h0M66.5 3.8h0M10.5 16.9h0M93.0 17.5h0M78.8 11.1h0M46.0 11.1h0M19.1 67.5h0M52.3 49.2h0" stroke="#ff9020" stroke-width="1" stroke-linecap="round" fill="none" opacity="0.8"/><path d="M77.7 31.4h0M87.1 1.7h0M64.5 7.8h0M57.7 67.5h0M14.4 55.0h0M53.0 67.2h0M97.5 41.5h0M69.1 73.9h0M90.5 10.7h0M78.5 17.2h0M18.0 54.8h0M23.5 45.4h0M52.6 75.5h0M100.1 38.8h0M17.6 39.8h0M29.3 20.3h0M2.7 18.1h0M33.7 40.2h0M45.7 15.0h0M17.7 65.3h0M41.9 41.8h0M56.0 11.1h0M89.2 48.5h0M87.2 35.6h0M15.9 38.9h0M46.9 18.6h0M15.2 38.5h0M41.4 46.4h0M56.5 41.3h0M96.3 56.6h0M65.5 18.1h0M4.7 38.3h0M36.0 12.0h0M15.2 73.0h0M1.7 28.3h0M28.8 34.5h0M63.2 19.7h0M89.2 1.2h0M86.5 47.5h0M96.8 43.2h0M91.0 46.9h0M18.0 11.2h0M98.0 63.9h0M1.0 64.7h0M2.9 15.7h0M48.8 62.3h0M39.3 66.0h0M33.1 53.9h0M68.0 72.6h0M92.9 16.9h0M76.1 17.1h0M9.6 27.6h0M8.5 6.5h0M73.2 54.4h0M51.1 44.1h0M81.5 68.8h0M86.2 39.9h0M41.1 12.9h0M56.8 17.2h0M28.8 65.2h0M26.5 62.3h0M66.1 62.2h0M71.8 42.2h0M55.8 53.9h0M100.7 42.9h0M58.8 25.2h0M94.2 3.6h0M87.2 32.8h0M37.5 30.5h0M95.2 42.9h0M16.6 32.2h0M98.4 1.6h0M96.5 16.2h0M102.7 62.7h0M66.1 21.5h0M52.9 45.9h0M19.6 33.1h0M81.4 44.3h0M18.2 23.5h0M76.4 19.1h0M48.5 4.7h0M42.2 26.7h0M43.0 28.4h0" stroke="#f05010" stroke-width="1" stroke-linecap="round" fill="none" opacity="0.8"/><path d="M78.2 73.6h0M4.9 29.5h0M49.0 63.5h0M52.0 72.9h0M96.8 5.3h0M72.3 48.4h0M50.5 64.3h0M6.8 35.5h0" stroke="#ff7010" stroke-width="0.5" stroke-linecap="round" fill="none" opacity="0.8"/><path d="M44.0 38.8h0M12.0 71.8h0M39.5 11.4h0M26.5 9.1h0M55.0 37.7h0M8.4 33.7h0M56.8 74.1h0M53.9 72.0h0" stroke="#f05010" stroke-width="0.5" stroke-linecap="round" fill="none" opacity="0.8"/><path d="M65.3 38.6h0M38.0 42.0h0M17.1 44.8h0M50.5 37.4h0M53.2 6.4h0M69.7 56.0h0M21.3 17.7h0" stroke="#ff9020" stroke-width="0.5" stroke-linecap="round" fill="none" opacity="0.8"/><path d="M14.7 38.0h0M38.2 33.6h0M84.0 29.5h0M97.0 51.4h0M9.5 25.7h0M32.3 35.8h0M40.6 4.2h0" stroke="#d03000" stroke-width="0.5" stroke-linecap="round" fill="none" opacity="0.8"/><path d="M55.4 33.8h0M5.9 7.8h0M2.9 1.2h0" stroke="#b01800" stroke-width="0.5" stroke-linecap="round" fill="none" opacity="0.8"/><path d="M33.6 57.4L40.7 58.4M16.4 68.3L15.5 77.6M94.0 29.9L89.5 32.2M2.8 13.7L8.7 21.8M60.2 50.7L63.6 56.6M57.0 62.6L61.4 71.2M6.0 47.4L1.6 56.5M51.0 18.0L56.2 19.9M100.1 53.2L92.9 58.6M-0.5 -1.9L3.3 6.5M73.6 59.6L65.8 63.6M63.8 26.5L59.8 35.9M4.8 60.9L9.4 62.9M79.7 28.1L78.7 35.0M96.1 17.9L93.9 28.4M19.9 11.2L18.9 20.3M26.0 36.6L32.7 45.0M18.3 33.1L19.1 41.5M90.0 63.5L86.5 73.0M106.0 61.3L95.7 63.4M21.3 8.6L16.4 19.0M1.1 67.3L0.1 74.1M11.8 51.7L5.3 55.1M9.9 40.7L6.9 48.5M-2.6 48.9L4.1 55.7M17.0 59.1L8.4 67.2M84.0 19.5L84.7 24.9M92.2 67.4L97.2 68.9M101.4 44.9L96.8 51.1M19.4 17.8L10.7 22.3M31.6 -2.4L28.9 3.9M35.9 30.2L27.4 32.5M19.7 10.3L28.6 10.4M65.6 42.2L72.7 47.8M98.3 51.9L90.1 60.0M97.6 73.7L102.1 76.3M21.7 18.6L25.5 28.9M46.9 2.9L53.1 11.3M5.1 59.7L1.0 66.8M22.8 8.8L17.6 10.9M37.7 13.1L31.0 16.1M52.3 70.4L43.2 74.7M12.3 66.4L19.6 71.7M30.9 11.1L23.1 16.3M100.2 38.4L99.0 43.8M44.2 9.0L53.0 10.7M65.5 -1.2L63.6 9.8M34.6 73.5L28.5 74.2M64.1 39.8L58.4 40.7M98.7 66.6L98.2 76.1M70.4 59.3L76.5 65.9M95.0 71.4L84.4 74.3M43.0 4.5L38.7 10.3M90.6 51.5L92.7 62.8M8.3 43.9L5.8 53.3M81.2 0.3L73.9 1.4M0.3 -2.4L4.0 8.9M9.8 38.9L9.3 48.8M16.7 30.0L15.7 38.5M61.2 15.5L66.1 23.4M6.5 44.0L16.6 45.7M87.5 1.8L94.0 8.7M66.4 0.1L63.4 10.3M66.0 3.9L59.4 6.2M92.7 29.3L83.8 31.0M78.9 15.2L78.5 27.2M89.1 1.6L98.8 3.0M34.1 22.5L22.4 24.3M57.6 21.5L51.1 31.4M5.0 58.2L-1.7 60.0M-5.1 33.8L5.5 39.2M47.6 42.0L51.2 51.3M30.4 38.1L35.5 41.9M74.4 53.5L82.0 59.7M24.4 11.6L31.0 13.4M82.0 2.5L93.9 3.5M74.7 50.0L77.7 55.1M26.5 46.1L24.4 54.9M60.1 31.5L53.0 38.4M16.0 62.8L12.5 73.4M67.2 68.3L66.7 73.7M59.0 18.3L69.4 24.3M2.6 27.4L5.1 38.7M76.0 17.3L65.2 18.5M7.8 27.2L3.3 31.4M5.8 22.4L0.8 24.1M49.9 27.5L48.3 34.6M54.7 30.9L45.7 38.6M55.6 34.5L55.6 41.8M15.9 2.9L9.6 3.9M70.9 23.1L81.6 24.5M80.1 16.8L86.1 22.9M48.4 44.9L55.1 48.0M63.7 20.4L70.3 22.0M30.1 19.5L25.5 23.6" stroke="#c01400" stroke-width="0.78" stroke-linecap="round" fill="none" opacity="0.85"/><path d="M35.1 57.6L39.3 58.2M16.2 70.1L15.7 75.7M93.1 30.3L90.4 31.7M4.0 15.3L7.5 20.2M60.9 51.8L62.9 55.4M57.9 64.3L60.5 69.5M5.1 49.2L2.4 54.6M52.0 18.4L55.2 19.5M98.6 54.3L94.3 57.5M0.2 -0.3L2.5 4.8M72.1 60.4L67.4 62.8M63.0 28.4L60.6 34.0M5.8 61.3L8.5 62.5M79.5 29.5L78.9 33.6M95.7 20.0L94.4 26.3M19.7 13.0L19.1 18.4M27.4 38.3L31.4 43.4M18.5 34.8L18.9 39.8M89.3 65.4L87.2 71.1M103.9 61.7L97.8 63.0M20.3 10.7L17.4 16.9M0.9 68.7L0.3 72.8M10.5 52.4L6.6 54.4M9.3 42.2L7.5 46.9M-1.2 50.3L2.8 54.4M15.3 60.7L10.1 65.6M84.2 20.6L84.6 23.8M93.2 67.7L96.2 68.6M100.5 46.1L97.7 49.9M17.7 18.7L12.4 21.4M31.0 -1.2L29.4 2.7M34.2 30.7L29.1 32.0M21.5 10.3L26.8 10.4M67.0 43.4L71.3 46.7M96.7 53.5L91.7 58.4M98.5 74.2L101.2 75.7M22.5 20.6L24.7 26.8M48.1 4.6L51.8 9.6M4.2 61.2L1.8 65.4M21.7 9.2L18.6 10.5M36.4 13.7L32.3 15.5M50.5 71.3L45.0 73.8M13.7 67.4L18.1 70.7M29.4 12.1L24.6 15.2M100.0 39.5L99.2 42.7M46.0 9.4L51.2 10.4M65.1 1.0L64.0 7.6M33.4 73.7L29.7 74.1M63.0 40.0L59.5 40.6M98.6 68.5L98.3 74.2M71.7 60.7L75.3 64.6M92.9 72.0L86.5 73.7M42.1 5.6L39.6 9.1M91.0 53.8L92.3 60.5M7.8 45.8L6.3 51.4M79.7 0.5L75.3 1.2M1.1 -0.1L3.3 6.7M9.7 40.9L9.4 46.8M16.5 31.7L15.9 36.8M62.2 17.1L65.2 21.9M8.5 44.3L14.6 45.3M88.8 3.2L92.7 7.3M65.8 2.2L64.0 8.3M64.7 4.4L60.7 5.8M90.9 29.6L85.6 30.6M78.8 17.6L78.6 24.8M91.0 1.9L96.9 2.7M31.7 22.9L24.8 23.9M56.3 23.5L52.4 29.5M3.7 58.6L-0.4 59.7M-3.0 34.9L3.3 38.1M48.3 43.8L50.5 49.4M31.5 38.9L34.5 41.2M75.9 54.7L80.5 58.4M25.7 11.9L29.7 13.0M84.4 2.7L91.5 3.3M75.3 51.0L77.1 54.1M26.1 47.9L24.8 53.2M58.7 32.9L54.4 37.0M15.3 64.9L13.2 71.3M67.1 69.4L66.8 72.6M61.1 19.5L67.3 23.1M3.1 29.6L4.6 36.4M73.9 17.6L67.3 18.3M6.9 28.0L4.2 30.5M4.8 22.7L1.8 23.8M49.6 28.9L48.6 33.2M52.9 32.4L47.5 37.1M55.6 35.9L55.6 40.3M14.7 3.1L10.9 3.7M73.1 23.4L79.4 24.2M81.3 18.0L84.9 21.7M49.7 45.5L53.8 47.4M65.0 20.7L69.0 21.7M29.1 20.3L26.4 22.7" stroke="#e82000" stroke-width="1.55" stroke-linecap="round" fill="none" opacity="0.85"/><path d="M36.2 57.7L38.2 58.0M16.1 71.6L15.8 74.2M92.4 30.7L91.1 31.3M5.0 16.6L6.6 18.9M61.4 52.8L62.4 54.4M58.6 65.7L59.8 68.1M4.4 50.6L3.2 53.2M52.9 18.7L54.3 19.2M97.5 55.1L95.5 56.7M0.8 1.1L1.9 3.5M70.8 61.0L68.6 62.2M62.4 29.9L61.2 32.5M6.5 61.6L7.8 62.2M79.3 30.6L79.1 32.5M95.3 21.7L94.7 24.6M19.5 14.5L19.2 17.0M28.4 39.7L30.3 42.0M18.6 36.1L18.8 38.5M88.7 66.9L87.7 69.6M102.3 62.0L99.4 62.6M19.5 12.3L18.1 15.2M0.7 69.8L0.4 71.7M9.5 52.9L7.6 53.9M8.8 43.5L8.0 45.7M-0.2 51.3L1.7 53.3M13.9 62.0L11.5 64.3M84.3 21.4L84.5 23.0M94.0 68.0L95.4 68.4M99.7 47.1L98.4 48.9M16.3 19.4L13.8 20.7M30.6 -0.1L29.9 1.6M32.8 31.0L30.5 31.7M22.9 10.4L25.4 10.4M68.1 44.2L70.1 45.8M95.4 54.8L93.1 57.1M99.2 74.6L100.5 75.3M23.1 22.3L24.1 25.2M49.1 5.9L50.8 8.3M3.6 62.3L2.5 64.2M20.9 9.5L19.5 10.1M35.3 14.2L33.4 15.0M49.0 72.0L46.5 73.2M14.9 68.3L17.0 69.8M28.1 12.9L25.9 14.4M99.8 40.4L99.4 41.9M47.4 9.6L49.8 10.1M64.8 2.8L64.3 5.9M32.4 73.8L30.7 74.0M62.0 40.2L60.4 40.4M98.5 70.0L98.4 72.7M72.6 61.7L74.3 63.6M91.2 72.4L88.2 73.2M41.4 6.6L40.2 8.2M91.4 55.6L92.0 58.7M7.4 47.3L6.7 49.9M78.5 0.7L76.5 1.0M1.7 1.7L2.7 4.8M9.6 42.5L9.5 45.2M16.3 33.0L16.1 35.4M63.0 18.3L64.4 20.6M10.1 44.6L13.0 45.1M89.8 4.3L91.6 6.2M65.3 3.8L64.5 6.6M63.6 4.8L61.8 5.4M89.5 29.9L87.0 30.4M78.8 19.5L78.7 22.8M92.6 2.1L95.3 2.5M29.9 23.2L26.6 23.7M55.3 25.1L53.5 27.9M2.6 58.9L0.7 59.4M-1.3 35.8L1.7 37.3M48.9 45.3L49.9 47.9M32.3 39.5L33.7 40.6M77.2 55.7L79.3 57.4M26.8 12.2L28.6 12.7M86.3 2.9L89.6 3.1M75.8 51.8L76.6 53.3M25.8 49.3L25.2 51.8M57.5 34.0L55.5 35.9M14.7 66.6L13.8 69.6M67.0 70.3L66.9 71.8M62.8 20.5L65.7 22.2M3.5 31.4L4.2 34.6M72.1 17.7L69.1 18.1M6.2 28.7L5.0 29.9M4.0 23.0L2.6 23.5M49.3 30.0L48.9 32.0M51.4 33.7L48.9 35.8M55.6 37.1L55.6 39.1M13.7 3.3L11.9 3.5M74.8 23.6L77.7 24.0M82.2 19.0L83.9 20.7M50.8 46.0L52.7 46.9M66.1 21.0L67.9 21.4M28.4 20.9L27.1 22.1" stroke="#ff9020" stroke-width="0.85" stroke-linecap="round" fill="none"/></g></svg>
<svg x="544" y="644" width="102" height="76" viewBox="0 0 102 76" overflow="hidden"><rect width="102" height="76" fill="#080400"/><g filter="url(#bl)"><path d="M89.7 66.6h0M31.0 68.7h0M56.3 13.3h0M100.4 52.8h0M73.2 69.0h0M66.7 18.6h0M7.7 41.4h0M20.1 29.4h0M98.7 75.6h0M7.9 25.1h0M101.6 13.0h0M63.6 66.5h0M38.1 37.3h0M49.6 47.0h0M28.9 34.8h0M101.2 66.7h0M61.9 45.5h0M4.7 39.8h0M48.2 29.5h0M70.4 21.4h0M16.1 18.8h0M43.3 3.4h0M0.7 19.1h0M12.2 39.4h0M47.3 9.6h0M84.7 71.4h0M24.5 53.4h0M82.8 36.7h0M13.9 12.2h0M49.9 18.8h0M71.0 42.3h0M85.3 65.1h0M99.5 17.2h0M65.8 44.3h0M23.5 33.6h0M40.2 27.6h0M62.6 64.2h0M52.3 52.9h0M38.1 44.0h0M75.7 65.0h0M29.4 38.4h0M80.7 58.7h0M71.2 59.7h0M14.6 74.7h0M65.4 71.9h0M18.3 69.3h0M32.5 29.9h0M77.1 40.8h0M13.9 47.6h0M88.9 19.6h0M93.0 1.5h0M73.2 14.5h0M66.4 14.6h0M75.8 35.4h0M26.8 16.8h0M100.0 32.0h0M87.1 55.6h0M21.2 48.5h0M94.8 21.5h0M53.9 36.2h0M99.3 4.5h0M16.9 47.7h0M38.5 70.4h0M51.2 8.7h0M0.5 72.6h0M12.6 1.3h0M50.3 11.9h0M50.7 18.3h0M14.4 35.7h0M72.0 26.6h0M59.9 6.9h0M90.3 3.8h0M50.4 18.5h0M101.1 16.6h0M13.2 75.1h0M63.8 19.6h0M97.5 11.3h0M36.9 5.6h0M21.3 69.2h0M56.2 0.9h0M30.9 19.9h0M3.6 17.8h0M54.1 22.0h0M21.5 26.9h0M24.5 5.8h0M95.6 33.9h0M90.6 4.9h0M41.4 11.5h0M37.0 18.1h0M59.2 55.6h0M95.0 2.7h0M85.8 56.0h0M56.8 61.0h0M55.4 41.1h0M28.3 3.1h0M1.7 28.1h0M75.2 55.7h0M84.4 3.2h0M27.8 9.9h0M32.2 50.6h0M51.8 38.8h0M97.0 49.0h0M50.7 55.7h0M75.8 36.5h0M57.4 61.9h0M45.6 42.7h0M98.3 68.4h0M37.3 12.7h0M5.4 34.5h0M13.6 42.5h0M54.4 42.7h0M52.1 31.7h0M87.4 46.7h0M52.6 55.5h0M62.0 64.1h0M85.3 32.5h0M80.5 24.9h0M86.7 8.5h0M39.2 20.2h0M56.3 16.4h0M27.3 56.3h0M48.5 69.7h0M27.5 66.9h0M97.0 20.8h0M73.0 46.0h0M37.1 38.1h0M64.0 15.7h0M19.3 63.4h0M72.1 26.9h0M61.1 74.5h0M83.2 72.8h0M14.7 29.7h0M64.7 52.3h0M61.6 63.8h0M48.1 68.7h0M54.2 73.1h0M36.5 63.5h0M91.2 9.9h0M43.9 8.3h0M39.5 34.0h0M25.8 15.6h0M16.6 29.6h0M0.4 20.7h0M65.7 75.8h0M10.2 52.0h0M20.4 56.7h0M89.2 15.3h0M21.4 65.8h0M79.7 67.8h0M21.9 26.1h0M60.4 33.8h0M63.1 58.7h0M4.1 26.5h0M5.3 38.2h0M15.8 59.9h0M92.5 14.7h0M71.0 66.4h0M101.3 53.4h0M38.5 14.9h0M4.8 43.0h0M26.8 4.7h0M2.8 51.2h0M89.8 33.1h0M82.7 1.0h0M77.0 12.8h0M94.9 21.1h0M61.6 50.8h0M6.7 46.8h0M27.2 45.1h0M73.7 69.7h0M31.6 12.8h0M99.8 38.3h0M83.5 20.3h0M27.7 24.9h0M39.4 58.3h0M25.1 59.9h0M59.6 49.2h0M40.8 65.5h0M27.6 17.7h0M32.6 41.0h0M34.6 51.8h0M35.3 25.2h0M82.2 23.3h0M97.8 25.5h0M12.6 24.4h0M53.7 35.0h0M48.3 38.8h0M45.9 12.7h0M30.9 57.7h0M23.3 54.4h0M94.4 7.7h0M98.7 50.8h0M47.3 66.6h0M88.8 61.9h0M11.5 73.2h0M4.1 67.5h0M38.4 69.5h0M57.3 23.4h0M11.4 38.0h0M43.3 5.8h0M38.0 17.3h0M39.9 33.1h0M86.5 29.2h0M11.1 40.8h0M8.4 72.6h0M37.6 14.8h0M92.6 31.3h0M35.7 62.4h0M24.6 59.9h0M72.9 39.2h0M91.8 34.6h0M6.0 31.2h0M27.0 67.1h0M47.8 66.8h0M92.1 62.3h0M72.3 14.8h0M67.1 21.9h0M47.4 56.6h0M98.1 5.4h0M18.4 28.6h0M44.2 21.0h0M90.0 18.0h0M7.1 64.5h0M61.2 39.6h0M65.6 29.1h0M21.3 64.5h0M99.7 12.8h0M65.0 64.5h0M96.5 26.2h0M67.9 55.9h0M98.7 31.6h0" stroke="#2a8a18" stroke-width="0.9" stroke-linecap="round" fill="none"/><path d="M26.7 59.4h0M46.4 38.4h0M98.8 65.7h0M95.5 13.0h0M44.4 66.0h0M36.1 43.9h0M2.0 44.3h0M66.6 48.9h0M86.0 45.1h0M75.0 40.4h0M82.3 5.6h0M63.6 71.0h0M24.6 40.6h0M96.8 23.1h0M11.5 6.9h0M41.9 26.3h0M31.5 9.3h0M17.4 67.2h0M74.0 54.9h0M81.0 33.5h0M48.8 62.4h0M51.0 35.8h0M38.4 38.8h0M18.3 55.9h0M38.9 31.2h0M24.2 53.7h0M21.4 39.5h0M34.0 23.3h0M55.7 70.9h0M23.7 45.8h0M28.4 58.6h0M34.7 46.2h0M55.3 38.5h0M4.6 74.2h0M12.0 56.2h0M46.8 33.3h0M63.0 36.2h0M21.5 1.1h0M101.6 55.4h0M10.1 30.1h0M9.4 20.2h0M78.5 34.7h0M4.5 35.4h0M40.8 2.9h0M41.0 56.0h0M37.6 31.3h0M51.2 44.8h0M21.1 33.1h0M25.6 36.6h0M2.2 40.1h0M34.1 44.7h0M61.2 56.9h0M84.4 30.7h0M91.5 15.7h0M88.1 60.5h0M87.2 70.1h0M16.0 2.5h0M30.3 2.6h0M87.8 49.1h0M6.6 30.9h0M97.2 12.2h0M84.5 17.7h0M85.1 49.6h0M54.6 47.3h0M70.2 64.8h0M78.9 58.6h0M11.8 53.8h0M93.2 19.4h0M73.4 61.8h0M29.6 15.0h0M72.7 17.6h0M35.1 60.2h0M3.0 5.8h0M56.3 67.2h0M99.1 62.7h0M10.4 51.9h0M63.9 49.0h0M24.7 36.9h0M75.8 47.8h0M12.4 38.1h0M41.9 74.2h0M58.0 29.7h0M37.2 32.6h0M97.9 41.7h0M78.3 43.3h0M92.6 35.9h0M2.6 68.3h0M24.7 53.1h0M5.7 34.9h0M15.2 67.8h0M56.5 55.6h0M51.4 10.8h0M27.3 5.1h0M46.5 41.9h0M23.0 0.8h0M6.6 3.7h0M13.2 26.8h0M76.0 43.1h0M91.8 19.7h0M6.0 29.2h0M92.6 74.8h0M39.8 44.9h0M77.2 26.8h0M73.8 27.0h0M26.4 63.4h0M91.2 1.4h0M22.7 24.0h0M93.3 69.2h0M34.6 74.1h0M96.8 28.0h0M68.3 14.1h0M72.0 69.9h0M70.9 8.2h0M66.7 74.2h0M61.9 51.9h0M42.5 45.1h0M83.4 66.1h0M52.5 60.3h0M47.5 62.1h0M99.5 23.6h0M88.6 65.3h0M78.8 20.1h0M9.2 5.4h0M59.2 59.1h0M69.4 60.8h0M73.0 41.7h0M90.3 25.4h0M70.2 24.2h0M75.8 40.5h0M52.7 34.0h0M96.4 47.6h0M99.0 53.5h0M17.0 17.1h0M36.0 32.2h0M0.2 5.0h0M3.7 67.7h0M74.1 33.8h0M81.4 7.1h0M37.0 61.3h0M34.9 14.6h0M79.6 44.8h0M46.2 73.2h0M11.8 46.1h0M9.0 42.6h0M74.5 37.9h0M43.7 25.7h0M29.6 33.1h0M97.3 8.8h0M53.7 70.1h0M44.7 15.3h0M25.9 72.6h0M53.6 25.1h0M24.7 52.3h0M47.4 20.3h0M66.3 58.6h0M3.6 33.3h0M92.5 32.6h0M41.8 16.8h0M44.8 15.1h0M55.5 40.8h0M26.0 25.1h0M53.0 53.2h0M67.6 66.3h0M29.0 58.9h0M79.1 73.3h0M39.2 15.9h0M52.4 49.2h0M82.5 63.1h0M39.5 20.7h0M72.9 24.7h0M101.7 0.6h0M6.4 14.5h0M91.0 51.5h0M15.9 34.8h0M27.8 10.2h0M68.2 21.4h0M88.6 53.4h0M5.3 36.2h0M43.6 35.6h0M6.1 63.3h0M66.6 60.7h0M72.4 74.6h0M49.2 1.8h0M6.3 44.1h0M6.8 73.2h0M82.7 22.0h0M83.6 36.3h0M86.3 32.1h0M72.7 39.9h0M34.8 3.4h0M24.5 50.5h0M33.5 28.8h0M71.2 71.1h0M68.6 2.2h0M92.0 22.8h0M97.4 42.6h0" stroke="#50b020" stroke-width="0.9" stroke-linecap="round" fill="none"/><path d="M44.5 1.1h0M85.8 4.0h0M46.0 51.1h0M17.1 8.1h0M98.5 71.5h0M4.1 60.4h0M37.7 36.3h0M44.9 24.1h0M14.1 8.4h0M54.4 34.1h0M34.9 67.5h0M91.7 33.7h0M64.6 22.4h0M47.7 67.3h0M91.0 56.4h0M74.3 68.6h0M72.9 6.3h0M89.0 8.8h0M38.1 49.5h0M5.3 66.6h0M81.1 28.3h0M4.5 16.6h0M65.0 7.1h0M18.2 4.2h0M28.6 53.3h0M98.9 47.6h0M85.8 53.0h0M4.5 74.4h0M100.8 28.7h0M46.2 40.5h0M9.4 37.6h0M39.2 22.7h0M53.8 14.0h0M61.6 68.4h0M84.9 71.9h0M54.9 74.0h0M10.8 55.5h0M84.9 30.0h0M32.5 56.4h0M50.7 44.7h0M25.7 27.0h0M19.0 37.2h0M95.7 0.1h0M76.3 8.1h0M60.5 23.8h0M73.8 36.7h0M69.1 42.8h0M9.9 74.0h0M22.2 0.5h0M1.1 6.0h0M2.9 5.7h0M75.6 45.4h0M68.1 41.7h0M20.1 34.1h0M93.9 45.5h0M38.1 33.3h0M21.5 48.6h0M1.5 27.5h0M93.8 72.7h0M67.5 16.1h0M29.2 23.5h0M62.8 51.7h0M18.4 47.8h0M81.1 17.3h0M35.2 45.2h0M5.6 18.7h0M8.1 49.4h0M17.3 44.1h0M86.2 28.9h0M33.1 72.7h0M100.6 12.8h0M41.7 73.4h0M75.5 48.2h0M100.6 44.7h0M18.4 31.3h0M25.1 7.1h0M0.7 12.1h0M88.8 51.6h0M94.6 48.5h0M73.2 59.7h0M0.9 48.2h0M100.4 3.1h0M54.4 64.6h0M17.2 25.5h0M41.2 18.2h0M10.9 75.6h0M49.4 39.4h0M92.5 45.0h0M91.4 71.0h0M53.5 27.6h0M61.0 11.0h0M22.6 73.6h0M76.4 26.0h0M89.7 7.5h0M39.7 74.9h0M71.6 66.8h0M59.5 13.0h0M42.4 22.6h0M87.3 64.5h0M11.9 8.2h0M21.8 61.2h0M2.4 32.8h0M70.2 11.5h0M52.2 65.8h0M66.7 27.2h0M57.8 29.0h0M87.7 54.4h0M85.2 21.8h0M70.0 75.9h0M99.3 7.8h0M8.8 58.7h0M65.5 65.1h0M67.6 26.9h0M59.5 70.1h0M29.2 60.5h0M62.5 73.9h0M6.9 12.8h0M10.6 69.6h0M68.5 63.9h0M56.5 9.7h0M41.8 15.9h0M7.7 1.8h0M1.2 74.7h0M65.4 10.4h0M70.1 49.0h0M1.0 2.9h0M2.8 8.3h0M74.0 55.9h0M17.3 72.6h0M29.4 10.6h0M34.0 66.2h0M75.5 58.2h0M62.5 18.6h0M12.0 17.0h0M74.8 8.2h0M84.5 31.6h0M94.7 67.6h0M75.0 9.0h0M58.9 31.5h0M74.7 1.2h0M19.7 24.8h0M22.5 20.4h0M78.8 38.1h0M29.6 41.7h0M46.4 44.3h0M92.9 37.2h0M8.8 27.5h0M49.0 10.7h0M55.2 15.1h0M101.4 31.6h0M53.7 49.8h0M81.8 63.1h0M75.2 9.9h0M30.7 55.9h0M79.7 50.4h0M7.3 19.6h0M87.6 15.9h0M9.9 63.2h0M54.5 38.0h0M81.1 3.3h0M63.2 48.7h0M2.0 42.0h0M47.1 23.7h0M59.7 35.0h0M26.4 18.2h0M23.8 8.5h0M30.2 6.3h0M78.5 62.5h0M74.8 59.8h0M70.5 24.9h0M89.1 47.0h0M52.9 54.1h0M50.7 6.8h0M6.5 66.6h0M58.2 75.3h0M75.4 40.8h0M28.3 15.0h0M11.4 48.4h0M94.8 1.0h0M17.5 67.1h0M74.4 51.6h0M42.9 32.1h0M78.8 70.2h0M80.2 16.3h0M74.4 71.1h0M93.1 10.2h0M101.0 37.5h0M72.5 28.1h0M56.8 1.1h0M67.8 64.6h0M94.0 61.7h0M69.5 13.3h0M62.0 20.3h0M58.7 13.9h0M33.2 35.9h0M31.9 60.6h0M57.9 48.1h0M62.1 29.4h0M20.1 70.2h0M53.7 8.3h0M40.4 42.0h0M91.3 20.6h0M34.4 61.9h0M34.4 70.8h0M13.9 61.9h0M27.0 8.8h0M91.5 51.2h0M54.0 31.0h0M59.8 32.9h0M85.8 59.3h0M34.2 44.4h0M63.8 4.2h0M72.6 58.0h0M72.5 20.8h0M37.1 51.1h0M12.8 61.8h0M49.6 25.3h0M40.4 28.9h0M3.6 42.5h0M62.0 11.6h0M47.4 58.7h0M99.6 31.8h0M7.8 41.3h0M90.1 38.6h0M46.5 50.3h0M38.8 63.6h0M39.8 14.3h0M0.0 57.8h0M69.1 15.0h0M34.3 68.2h0M12.9 22.6h0M5.0 19.6h0M62.2 47.1h0M42.4 42.9h0M25.7 46.5h0M15.9 22.5h0M48.6 55.2h0M68.1 73.8h0M21.7 59.1h0M3.9 29.8h0M40.0 58.7h0M94.6 17.4h0M37.0 2.8h0M6.6 40.1h0M10.1 61.4h0M5.6 8.2h0M25.6 11.6h0M2.5 3.6h0M18.8 26.8h0M65.9 74.9h0M85.5 16.1h0" stroke="#3aa020" stroke-width="0.9" stroke-linecap="round" fill="none"/><path d="M45.7 45.0h0M81.6 41.0h0M79.4 21.7h0M74.5 44.7h0M50.1 45.4h0M56.0 11.6h0M59.2 61.4h0M7.8 20.9h0M15.8 59.9h0M64.7 3.4h0M50.8 45.5h0M20.7 34.0h0M65.0 51.4h0M48.5 54.3h0M51.0 13.3h0M27.4 58.0h0M77.7 67.5h0M33.1 71.0h0M52.3 68.8h0M23.4 40.6h0M14.2 2.9h0M11.9 30.5h0M87.6 3.0h0M8.9 15.1h0M51.4 41.6h0M39.0 54.2h0M97.6 13.3h0M18.6 28.4h0M28.0 23.8h0M38.8 30.9h0M24.1 23.6h0M1.1 55.3h0M37.0 59.0h0M31.6 32.2h0M101.5 2.8h0M98.4 29.2h0M28.5 22.9h0M99.1 55.9h0M62.4 54.2h0M55.6 43.3h0M73.5 72.5h0M88.3 61.3h0M75.0 26.0h0M40.8 16.6h0M85.1 35.5h0M70.9 43.9h0M98.8 10.0h0M21.7 4.2h0M93.6 33.6h0M13.1 2.3h0M74.9 38.9h0M32.2 19.9h0M14.4 13.6h0M66.6 75.3h0M53.4 61.9h0M49.0 58.7h0M88.2 11.2h0M60.5 49.5h0M58.1 22.0h0M6.3 39.6h0M47.4 63.1h0M91.7 55.5h0M101.3 25.4h0M25.5 73.6h0M50.5 22.5h0M80.0 15.0h0M74.5 12.3h0M31.7 11.3h0M25.9 31.2h0M44.0 11.5h0M43.8 11.6h0M20.4 61.9h0M87.9 59.1h0M11.8 33.0h0M48.3 4.6h0M96.0 39.7h0M34.0 46.9h0M90.0 65.3h0M87.4 60.5h0M51.2 18.1h0M58.5 57.6h0M63.1 5.3h0M82.0 6.1h0M29.3 50.5h0M34.9 20.3h0M16.0 2.1h0M79.2 35.4h0M0.1 67.5h0M63.7 32.4h0M69.2 6.3h0M33.5 25.1h0M77.3 24.6h0M13.1 64.4h0M59.6 52.0h0M35.7 53.1h0M5.9 71.7h0M16.7 63.9h0M2.7 55.3h0M32.7 32.7h0M98.8 26.3h0M77.5 41.5h0M4.8 24.1h0M45.1 6.6h0M94.5 32.2h0M51.0 18.9h0M59.2 66.3h0M81.2 69.8h0M95.9 22.2h0M12.4 10.0h0M96.3 24.3h0M57.1 2.8h0M86.2 43.6h0M56.3 67.8h0M21.3 10.9h0M29.9 44.0h0M0.6 46.4h0M36.0 10.8h0M75.0 66.6h0M42.5 33.9h0M65.8 17.1h0M74.9 30.4h0M99.7 74.7h0M78.1 69.2h0M43.9 64.4h0M15.8 46.5h0M84.9 0.1h0M31.3 70.0h0M83.1 3.0h0M63.0 26.0h0M72.1 49.9h0M34.9 19.1h0M64.4 13.9h0M101.4 15.1h0M89.9 62.3h0M71.5 10.8h0M81.9 24.5h0M1.2 68.7h0M32.5 62.3h0M63.7 48.4h0M16.3 66.0h0M46.9 4.1h0M61.7 65.9h0M27.0 58.9h0M71.0 59.0h0M66.5 59.7h0M38.7 58.1h0M88.1 43.2h0M3.4 20.5h0M65.9 50.7h0M12.1 48.2h0M22.2 17.0h0M18.1 54.5h0M101.2 20.0h0M53.1 16.0h0M49.2 66.1h0M47.5 62.5h0M50.6 60.5h0M74.1 69.5h0M55.7 75.9h0M83.2 41.1h0M28.2 53.1h0M56.4 6.5h0M91.7 59.9h0M67.7 7.4h0M79.9 24.2h0M92.5 25.0h0M88.3 74.3h0M80.3 31.1h0M31.2 12.5h0M40.5 2.0h0M60.4 60.2h0M90.7 54.4h0M38.6 29.5h0M63.9 64.8h0M96.9 52.8h0M32.9 54.2h0M36.7 64.8h0M94.5 70.4h0M88.7 56.3h0M90.4 29.4h0M52.5 26.0h0M0.3 45.8h0M48.0 4.5h0M36.7 58.2h0M49.5 30.3h0M4.4 74.2h0M21.4 47.5h0M10.7 65.9h0M58.7 53.1h0M74.4 8.0h0M22.1 17.8h0M45.0 0.5h0M23.8 55.6h0M43.8 45.8h0M55.5 52.6h0M68.1 40.5h0M83.9 58.5h0M41.1 35.9h0M84.8 36.3h0M98.9 30.9h0M39.2 66.9h0M15.9 31.7h0M71.7 34.5h0M59.8 59.6h0M50.0 72.5h0M17.6 54.2h0M85.2 54.6h0M74.1 18.4h0M78.0 25.5h0M70.1 58.8h0M69.2 27.0h0M2.6 49.1h0M97.9 8.7h0M16.1 67.5h0M44.0 13.2h0M5.7 15.0h0M19.6 75.9h0M72.5 10.7h0M8.5 57.9h0M4.9 32.7h0M21.6 21.8h0M50.3 46.6h0" stroke="#1e6a10" stroke-width="0.9" stroke-linecap="round" fill="none"/><path d="M11.2 35.9L21.4 37.5M30.2 44.4L30.0 53.5M24.7 20.1L33.7 23.1M35.3 63.5L39.2 73.7M78.1 65.5L82.0 54.2M76.6 62.9L78.8 55.9M6.0 29.8L13.7 25.4M97.4 10.7L102.2 1.4M33.2 55.6L33.7 62.6M20.4 52.5L16.8 66.0M58.8 41.0L61.9 35.1M100.8 50.8L102.2 40.9M40.3 77.7L44.3 70.3M89.7 58.8L95.4 50.6M16.7 35.8L23.7 37.6M71.8 50.6L72.2 37.7M49.4 33.5L55.0 21.6M16.3 65.5L12.2 76.0M80.3 39.2L87.7 28.9M69.4 -0.2L73.3 -6.4M91.4 65.7L94.6 56.9M3.5 52.2L-4.4 55.7M84.0 80.2L87.6 68.7M51.9 41.1L53.9 31.9M16.2 43.2L12.9 56.2M44.2 60.2L46.7 52.7M81.8 38.0L84.8 25.5M76.6 38.2L79.8 24.8M-1.9 41.9L2.4 37.5M15.1 9.9L25.2 10.4M98.2 78.0L103.3 68.6M80.0 -0.1L82.5 -7.3M75.3 22.4L77.1 15.1M30.5 69.0L30.2 82.1M39.9 44.8L43.9 57.2M23.4 66.6L19.2 76.3M55.5 83.2L64.8 72.8M99.8 66.5L102.4 57.3M60.1 26.7L67.3 14.9M20.5 59.4L16.2 69.8M103.2 4.8L105.1 -3.5M40.6 20.0L45.2 8.0M8.4 1.5L20.1 1.1M81.5 7.4L82.8 0.1M94.6 64.4L97.0 53.9M95.0 57.0L101.7 46.3M0.7 13.8L10.1 15.1M66.4 40.4L68.8 30.4M35.0 38.3L38.6 47.2M72.3 9.1L74.6 2.4M92.0 59.3L97.6 48.4M47.3 59.9L52.5 48.7M9.2 44.6L16.2 36.5M59.0 77.3L65.8 65.6M19.3 67.2L12.8 78.7M22.1 35.4L31.2 42.6M59.9 5.3L70.6 -3.5M53.4 13.0L61.5 3.8M31.9 2.7L40.5 7.5M6.2 24.7L17.6 19.3M10.7 52.4L3.1 64.0M54.1 59.5L55.6 52.1M60.0 22.6L63.2 14.2M71.9 44.5L78.1 34.3M91.7 16.1L97.2 4.8M27.5 66.2L26.8 75.9M23.7 33.1L28.6 37.5M64.8 7.5L67.1 -5.7M6.7 67.7L2.0 79.9M43.4 35.2L47.9 24.5M28.0 37.4L33.1 49.5M83.3 46.6L90.8 35.5M45.5 73.5L48.7 65.2M68.3 49.4L71.6 39.0M60.3 1.4L63.3 -8.3M96.9 17.4L98.0 8.2M94.0 76.0L97.6 65.9M97.9 39.6L100.5 29.6M52.9 21.7L58.5 12.5M-3.8 -2.1L5.5 -4.1M62.4 57.1L64.1 51.3M3.1 3.1L11.2 -0.6M42.2 71.3L45.0 58.3M-6.8 34.2L-0.7 28.7M36.1 65.6L37.3 73.8M78.7 44.4L80.8 33.7M13.6 29.4L21.8 30.2M81.2 61.7L81.6 54.3M-1.3 77.0L-4.6 82.7M11.5 -0.3L19.2 -1.8M17.5 48.0L14.6 54.8M1.3 37.6L10.9 28.1M35.9 62.5L36.5 70.6M51.6 48.5L52.9 38.9M49.6 32.4L50.1 24.4M65.5 40.9L64.8 31.7M80.9 29.5L85.8 16.6M47.8 76.4L50.7 71.1M19.3 17.7L25.3 19.7M13.1 66.7L9.5 76.7M70.1 27.9L70.5 21.0M61.9 43.6L65.8 31.4M9.3 59.5L2.6 67.7M63.6 79.6L66.3 70.5M4.6 63.2L-0.1 70.3M27.9 38.7L31.5 47.1M51.1 25.8L55.0 14.1M49.7 43.9L55.3 34.8M96.4 38.7L97.9 30.0M2.5 27.5L10.1 25.2M96.6 13.3L99.2 7.1M26.8 6.8L34.5 10.3M17.2 2.6L28.1 3.0M6.6 32.0L14.8 28.3M8.9 58.2L3.3 67.6M34.3 63.3L36.4 73.9M61.9 67.5L62.0 61.1M24.7 21.7L34.1 23.6M26.6 53.5L28.5 61.3M10.9 7.8L17.8 7.2M80.0 62.2L83.2 52.6M101.5 7.8L106.5 -1.4M91.8 21.5L96.6 14.4M7.1 75.3L3.9 83.7M57.7 80.4L62.5 70.3M80.0 24.0L81.2 16.2M54.9 10.6L58.1 5.4M80.2 47.6L87.8 36.1M67.2 23.0L71.1 14.7M93.0 56.3L94.7 50.2M59.8 14.3L65.3 2.3M20.3 65.6L16.2 75.2M-3.4 4.4L3.0 1.0M50.5 16.3L56.0 5.9M95.5 61.0L97.9 52.4M40.9 55.7L42.5 61.7M41.4 43.2L44.3 32.9M25.4 72.6L23.2 80.0M78.1 2.9L83.2 -9.1M79.5 20.0L88.2 10.6M93.9 6.8L97.4 -1.4M81.5 44.2L84.1 36.0M25.1 25.2L33.8 30.6M55.1 18.2L59.4 11.9M50.4 10.4L54.9 0.8M82.5 17.8L89.9 8.8M28.2 63.6L23.4 72.9M71.3 32.2L75.2 21.5M71.3 23.7L74.5 16.4M35.2 8.2L44.2 11.1M-10.0 2.7L2.6 3.4M76.4 69.5L79.2 63.4M15.1 47.0L10.9 52.2M87.2 8.6L90.5 -4.5M61.5 26.5L62.6 17.1M59.8 36.7L67.1 25.0M31.0 32.8L38.0 38.1M92.7 66.4L94.0 54.0M15.4 12.9L25.2 13.4M58.7 71.3L62.1 59.6M99.7 50.5L102.5 43.6M102.9 8.9L103.9 0.8M60.4 17.7L60.0 11.5M24.4 58.8L24.2 70.4M86.7 81.6L88.9 75.9M68.0 77.2L72.9 68.6M-7.8 9.0L3.8 2.6M12.3 7.8L23.2 10.8M80.8 20.9L85.4 13.2M59.6 13.6L64.3 2.0M60.6 9.2L62.7 2.9M26.9 62.6L24.0 74.0M84.8 61.1L88.9 48.4M63.6 2.1L65.9 -8.9M53.8 36.2L56.6 30.4M15.8 39.8L10.5 44.7M98.9 44.1L101.5 38.3M6.7 69.7L3.9 81.1M105.2 62.9L104.9 55.0M20.4 55.5L13.3 64.3M62.3 73.9L64.9 64.4M103.9 23.7L107.2 17.0M37.1 24.3L44.8 30.8M79.4 13.7L82.3 1.0M26.3 63.4L25.2 71.6M78.4 29.7L81.2 17.9M91.4 49.2L92.8 38.3M60.1 54.3L64.9 42.1M73.5 44.1L76.0 33.9M56.1 23.2L56.8 17.2M27.9 26.5L34.5 29.3M-4.4 38.0L1.7 30.9M25.8 38.5L27.8 49.8M29.3 18.1L42.1 18.2M15.0 52.6L11.7 63.9M46.3 1.1L49.7 -7.0M29.3 73.5L28.4 83.1M13.7 39.6L24.2 40.8M27.3 25.2L40.5 27.8M36.8 68.3L35.1 76.8M76.1 46.3L80.7 34.2M87.7 62.9L88.2 53.0M2.5 5.0L11.6 0.1M21.1 38.0L24.9 42.8M-1.0 61.2L-6.9 65.0M81.2 27.5L85.0 20.7M71.3 47.9L74.1 41.3M15.5 29.4L26.8 30.9M53.5 83.0L57.7 70.9M64.3 65.7L67.9 57.1M79.5 4.1L82.2 -2.0M40.6 3.8L44.2 -1.7M103.0 27.3L107.3 20.8M82.2 42.5L88.7 30.6M21.2 11.0L30.8 12.8M87.6 45.6L88.1 36.8M90.3 12.4L93.5 5.4M93.6 60.7L99.2 51.9M11.4 8.6L23.5 6.5M11.6 40.5L-0.8 44.1M3.6 57.0L-1.7 61.3M11.4 24.1L18.6 25.2M72.2 78.6L75.7 72.2M54.2 42.6L58.6 32.8M19.3 47.6L14.3 57.2M1.4 0.4L11.7 -0.6M88.3 66.0L94.5 56.8M4.6 15.8L10.7 16.2M21.3 67.5L22.2 75.6M76.4 66.3L78.8 55.9M38.0 52.4L40.8 64.7M2.8 60.6L-0.5 66.3M76.8 68.0L80.3 57.4M84.6 78.1L86.9 72.0M-10.1 7.3L2.4 2.1M45.4 75.9L48.7 64.5M103.8 59.0L108.0 46.7M95.9 33.6L98.6 22.7M96.2 60.2L97.2 51.7M76.5 56.3L81.2 46.2" stroke="#c01000" stroke-width="0.7" stroke-linecap="round" fill="none" opacity="0.8"/><path d="M13.2 36.2L19.3 37.2M30.1 46.2L30.0 51.7M26.5 20.7L31.9 22.5M36.1 65.6L38.4 71.7M78.9 63.2L81.2 56.4M77.0 61.5L78.4 57.3M7.6 28.9L12.1 26.3M98.3 8.8L101.2 3.2M33.3 57.0L33.6 61.2M19.7 55.2L17.5 63.3M59.5 39.8L61.3 36.3M101.1 48.8L101.9 42.9M41.1 76.2L43.5 71.8M90.8 57.2L94.2 52.2M18.1 36.1L22.3 37.3M71.9 48.0L72.1 40.3M50.5 31.1L53.9 24.0M15.5 67.6L13.0 73.9M81.8 37.1L86.3 30.9M70.2 -1.5L72.5 -5.2M92.1 63.9L94.0 58.6M1.9 52.9L-2.8 55.0M84.7 77.9L86.9 71.0M52.3 39.3L53.5 33.7M15.5 45.8L13.5 53.6M44.7 58.7L46.2 54.2M82.4 35.5L84.2 28.0M77.2 35.5L79.1 27.4M-1.0 41.0L1.6 38.4M17.1 10.0L23.1 10.3M99.2 76.1L102.3 70.5M80.5 -1.6L82.0 -5.9M75.7 20.9L76.8 16.6M30.5 71.6L30.3 79.5M40.7 47.3L43.1 54.7M22.6 68.6L20.1 74.4M57.4 81.1L63.0 74.9M100.3 64.7L101.9 59.2M61.5 24.4L65.9 17.3M19.7 61.5L17.1 67.7M103.6 3.1L104.7 -1.8M41.5 17.6L44.3 10.4M10.8 1.4L17.7 1.2M81.8 6.0L82.5 1.6M95.1 62.3L96.5 56.0M96.4 54.9L100.4 48.5M2.6 14.1L8.2 14.8M66.8 38.4L68.3 32.4M35.7 40.1L37.9 45.4M72.8 7.7L74.2 3.7M93.2 57.1L96.5 50.6M48.3 57.7L51.4 50.9M10.6 42.9L14.8 38.1M60.4 74.9L64.5 67.9M18.0 69.5L14.1 76.4M23.9 36.9L29.4 41.2M62.0 3.5L68.5 -1.8M55.0 11.1L59.8 5.6M33.6 3.7L38.7 6.6M8.5 23.7L15.3 20.4M9.2 54.7L4.6 61.7M54.4 58.0L55.3 53.5M60.6 20.9L62.5 15.9M73.1 42.4L76.9 36.4M92.8 13.9L96.1 7.1M27.4 68.2L26.9 74.0M24.7 34.0L27.6 36.6M65.3 4.9L66.6 -3.1M5.8 70.2L2.9 77.5M44.3 33.1L47.0 26.7M29.0 39.8L32.1 47.1M84.8 44.3L89.3 37.7M46.2 71.8L48.1 66.9M69.0 47.3L70.9 41.1M60.9 -0.6L62.7 -6.3M97.1 15.5L97.8 10.0M94.7 74.0L96.9 68.0M98.5 37.6L100.0 31.6M54.0 19.9L57.4 14.4M-1.9 -2.5L3.6 -3.7M62.7 55.9L63.8 52.4M4.8 2.4L9.6 0.1M42.8 68.7L44.4 60.9M-5.6 33.1L-1.9 29.8M36.4 67.2L37.1 72.2M79.1 42.3L80.4 35.8M15.2 29.6L20.2 30.0M81.3 60.2L81.5 55.8M-2.0 78.2L-4.0 81.6M13.0 -0.6L17.7 -1.5M16.9 49.4L15.1 53.4M3.2 35.7L9.0 30.0M36.0 64.1L36.4 68.9M51.9 46.5L52.6 40.8M49.7 30.8L50.0 26.0M65.4 39.1L64.9 33.6M81.9 26.9L84.9 19.2M48.4 75.4L50.1 72.2M20.5 18.1L24.1 19.3M12.4 68.7L10.2 74.7M70.2 26.6L70.4 22.4M62.7 41.2L65.0 33.9M8.0 61.2L3.9 66.0M64.2 77.8L65.8 72.3M3.6 64.6L0.8 68.9M28.6 40.4L30.7 45.4M51.9 23.5L54.2 16.4M50.8 42.1L54.2 36.6M96.7 37.0L97.6 31.7M4.0 27.0L8.6 25.7M97.1 12.0L98.7 8.3M28.3 7.5L32.9 9.6M19.4 2.7L25.9 2.9M8.2 31.3L13.1 29.1M7.8 60.1L4.4 65.7M34.7 65.4L36.0 71.8M62.0 66.2L62.0 62.4M26.6 22.0L32.2 23.2M26.9 55.1L28.1 59.7M12.3 7.7L16.4 7.4M80.7 60.3L82.5 54.5M102.5 5.9L105.5 0.4M92.7 20.1L95.7 15.8M6.5 77.0L4.6 82.0M58.7 78.4L61.5 72.3M80.2 22.4L80.9 17.7M55.5 9.5L57.5 6.4M81.7 45.3L86.3 38.4M67.9 21.3L70.3 16.4M93.3 55.1L94.3 51.5M60.9 11.9L64.2 4.7M19.5 67.6L17.0 73.3M-2.1 3.7L1.8 1.7M51.6 14.3L54.9 8.0M96.0 59.3L97.4 54.1M41.2 56.9L42.2 60.5M42.0 41.1L43.7 35.0M25.0 74.1L23.6 78.5M79.1 0.5L82.2 -6.7M81.3 18.1L86.5 12.4M94.6 5.2L96.7 0.2M82.0 42.6L83.6 37.6M26.9 26.3L32.1 29.5M56.0 17.0L58.6 13.2M51.3 8.5L54.0 2.7M84.0 16.0L88.5 10.6M27.3 65.5L24.4 71.0M72.1 30.1L74.4 23.6M71.9 22.2L73.8 17.8M37.0 8.8L42.4 10.5M-7.5 2.8L0.1 3.2M76.9 68.3L78.6 64.6M14.3 48.0L11.8 51.1M87.9 6.0L89.9 -1.9M61.7 24.6L62.4 19.0M61.3 34.4L65.6 27.4M32.4 33.8L36.6 37.1M93.0 63.9L93.7 56.5M17.3 13.0L23.2 13.3M59.4 68.9L61.5 61.9M100.2 49.1L101.9 45.0M103.1 7.3L103.7 2.4M60.3 16.4L60.1 12.8M24.3 61.1L24.3 68.1M87.1 80.5L88.5 77.1M68.9 75.5L71.9 70.3M-5.5 7.7L1.5 3.9M14.5 8.4L21.0 10.2M81.7 19.3L84.5 14.7M60.5 11.3L63.4 4.3M61.0 8.0L62.3 4.1M26.3 64.9L24.6 71.7M85.6 58.6L88.1 51.0M64.0 -0.1L65.4 -6.7M54.3 35.1L56.0 31.6M14.7 40.8L11.5 43.7M99.4 43.0L101.0 39.5M6.1 72.0L4.4 78.8M105.2 61.3L105.0 56.6M19.0 57.2L14.7 62.5M62.9 72.0L64.4 66.3M104.5 22.3L106.5 18.3M38.6 25.6L43.2 29.5M79.9 11.2L81.7 3.6M26.1 65.0L25.4 69.9M79.0 27.4L80.7 20.3M91.7 47.0L92.6 40.5M61.0 51.9L64.0 44.5M74.0 42.1L75.5 36.0M56.3 22.0L56.7 18.4M29.2 27.0L33.2 28.7M-3.2 36.6L0.5 32.3M26.2 40.8L27.4 47.6M31.9 18.1L39.6 18.2M14.3 54.9L12.4 61.6M47.0 -0.5L49.1 -5.4M29.1 75.4L28.6 81.2M15.8 39.9L22.1 40.6M29.9 25.7L37.8 27.3M36.5 70.0L35.4 75.1M77.0 43.9L79.7 36.6M87.8 60.9L88.1 55.0M4.3 4.0L9.8 1.0M21.9 38.9L24.1 41.9M-2.2 61.9L-5.7 64.3M81.9 26.2L84.3 22.1M71.9 46.6L73.5 42.6M17.7 29.7L24.5 30.6M54.3 80.6L56.8 73.3M65.0 64.0L67.2 58.8M80.0 2.9L81.6 -0.8M41.3 2.7L43.5 -0.6M103.9 26.0L106.5 22.1M83.5 40.1L87.4 33.0M23.1 11.4L28.9 12.5M87.7 43.8L88.0 38.5M90.9 11.0L92.8 6.8M94.7 58.9L98.1 53.7M13.8 8.2L21.1 6.9M9.1 41.2L1.7 43.4M2.6 57.8L-0.6 60.4M12.9 24.3L17.2 25.0M72.9 77.3L75.0 73.5M55.1 40.7L57.7 34.8M18.3 49.5L15.3 55.3M3.5 0.2L9.6 -0.4M89.6 64.2L93.3 58.7M5.8 15.9L9.4 16.1M21.5 69.1L22.0 74.0M76.9 64.3L78.4 58.0M38.6 54.9L40.3 62.2M2.2 61.7L0.2 65.2M77.5 65.9L79.6 59.6M85.1 76.9L86.5 73.2M-7.6 6.3L-0.1 3.1M46.1 73.6L48.1 66.8M104.6 56.5L107.1 49.1M96.4 31.4L98.0 24.9M96.4 58.5L97.0 53.4M77.4 54.3L80.3 48.2" stroke="#f01800" stroke-width="1.4" stroke-linecap="round" fill="none" opacity="0.8"/><path d="M14.8 36.5L17.7 37.0M30.1 47.7L30.1 50.2M27.9 21.2L30.4 22.0M36.7 67.2L37.8 70.0M79.5 61.4L80.6 58.3M77.4 60.4L78.0 58.4M8.8 28.2L10.9 27.0M99.1 7.3L100.4 4.7M33.4 58.1L33.5 60.1M19.1 57.4L18.1 61.1M59.9 38.8L60.8 37.2M101.3 47.2L101.7 44.5M41.7 75.0L42.9 73.0M91.7 55.9L93.3 53.6M19.2 36.4L21.2 37.0M72.0 46.0L72.1 42.4M51.4 29.2L53.0 25.9M14.8 69.3L13.7 72.2M83.0 35.5L85.1 32.6M70.8 -2.5L71.9 -4.2M92.6 62.5L93.5 60.1M0.6 53.5L-1.6 54.5M85.3 76.0L86.3 72.8M52.6 37.8L53.2 35.2M15.0 47.9L14.0 51.5M45.1 57.5L45.8 55.4M82.9 33.5L83.7 30.0M77.7 33.3L78.6 29.6M-0.3 40.3L0.9 39.1M18.7 10.1L21.5 10.2M100.0 74.6L101.5 72.0M80.9 -2.7L81.6 -4.7M76.0 19.7L76.5 17.7M30.4 73.7L30.3 77.4M41.4 49.3L42.5 52.8M21.9 70.1L20.7 72.8M58.9 79.4L61.5 76.5M100.7 63.2L101.4 60.6M62.7 22.5L64.7 19.2M19.0 63.2L17.8 66.1M103.9 1.8L104.4 -0.5M42.3 15.6L43.5 12.3M12.6 1.4L15.9 1.3M82.0 4.8L82.3 2.7M95.5 60.6L96.2 57.7M97.4 53.2L99.3 50.2M4.1 14.3L6.7 14.6M67.2 36.8L67.9 34.0M36.3 41.5L37.3 44.0M73.2 6.7L73.8 4.8M94.0 55.4L95.6 52.3M49.2 55.9L50.6 52.7M11.7 41.6L13.7 39.4M61.5 73.1L63.4 69.8M16.9 71.3L15.1 74.6M25.4 38.0L27.9 40.0M63.7 2.1L66.7 -0.4M56.3 9.7L58.5 7.1M35.0 4.5L37.4 5.8M10.3 22.8L13.5 21.3M7.9 56.6L5.8 59.8M54.6 56.8L55.0 54.7M61.1 19.6L62.0 17.2M74.1 40.8L75.9 38.0M93.6 12.0L95.2 8.9M27.3 69.7L27.0 72.4M25.5 34.7L26.9 35.9M65.6 2.8L66.3 -0.9M5.0 72.1L3.7 75.5M45.0 31.4L46.3 28.4M29.8 41.8L31.3 45.1M86.0 42.6L88.1 39.5M46.7 70.5L47.6 68.2M69.5 45.6L70.4 42.7M61.4 -2.1L62.2 -4.8M97.3 14.1L97.6 11.5M95.3 72.4L96.3 69.6M98.9 36.0L99.6 33.2M54.9 18.4L56.5 15.8M-0.4 -2.8L2.1 -3.4M63.0 55.0L63.5 53.4M6.0 1.8L8.3 0.7M43.2 66.6L44.0 63.0M-4.6 32.2L-2.9 30.7M36.5 68.5L36.9 70.9M79.5 40.6L80.1 37.5M16.6 29.7L18.9 29.9M81.3 59.0L81.4 57.0M-2.5 79.1L-3.4 80.7M14.3 -0.8L16.4 -1.3M16.5 50.4L15.6 52.3M4.7 34.2L7.4 31.5M36.1 65.4L36.3 67.6M52.1 45.0L52.4 42.3M49.8 29.5L49.9 27.3M65.3 37.6L65.1 35.0M82.7 24.9L84.1 21.3M48.9 74.5L49.7 73.0M21.5 18.4L23.1 19.0M11.8 70.3L10.8 73.1M70.2 25.5L70.3 23.5M63.3 39.2L64.4 35.8M6.9 62.5L5.0 64.7M64.6 76.3L65.4 73.8M2.9 65.8L1.6 67.7M29.2 41.7L30.2 44.1M52.5 21.6L53.6 18.3M51.7 40.6L53.3 38.1M96.9 35.6L97.4 33.1M5.2 26.7L7.4 26.0M97.5 11.1L98.3 9.3M29.6 8.0L31.7 9.0M21.1 2.8L24.2 2.9M9.5 30.7L11.8 29.7M6.9 61.6L5.3 64.2M35.0 67.1L35.6 70.1M62.0 65.2L62.0 63.4M28.1 22.4L30.7 22.9M27.3 56.3L27.8 58.5M13.4 7.6L15.3 7.4M81.2 58.7L82.0 56.1M103.3 4.5L104.7 1.9M93.5 18.9L94.9 17.0M6.0 78.3L5.1 80.7M59.4 76.7L60.8 73.9M80.4 21.2L80.7 19.0M56.1 8.7L56.9 7.3M82.9 43.5L85.1 40.2M68.6 20.0L69.7 17.7M93.6 54.1L94.1 52.4M61.7 10.0L63.3 6.6M18.8 69.1L17.7 71.8M-1.1 3.1L0.7 2.2M52.5 12.6L54.0 9.7M96.4 57.9L97.0 55.5M41.5 57.9L41.9 59.6M42.4 39.5L43.3 36.6M24.6 75.3L24.0 77.3M79.9 -1.5L81.4 -4.8M82.7 16.6L85.1 14.0M95.2 3.8L96.1 1.5M82.4 41.3L83.2 38.9M28.2 27.2L30.7 28.7M56.6 16.0L57.9 14.2M52.0 7.0L53.3 4.3M85.2 14.6L87.3 12.1M26.5 66.9L25.2 69.6M72.7 28.4L73.8 25.3M72.4 21.1L73.3 19.0M38.4 9.2L40.9 10.1M-5.5 2.9L-1.9 3.1M77.4 67.3L78.2 65.6M13.6 48.9L12.4 50.3M88.4 3.9L89.3 0.2M61.9 23.1L62.2 20.5M62.4 32.5L64.5 29.2M33.5 34.7L35.5 36.2M93.2 62.0L93.5 58.5M18.9 13.1L21.6 13.2M60.0 67.1L60.9 63.8M100.7 48.0L101.5 46.1M103.3 6.0L103.5 3.7M60.2 15.5L60.1 13.7M24.3 63.0L24.3 66.2M87.5 79.6L88.1 78.0M69.7 74.1L71.1 71.7M-3.6 6.7L-0.4 4.9M16.2 8.9L19.3 9.7M82.5 18.1L83.7 16.0M61.3 9.4L62.6 6.2M61.4 7.0L61.9 5.2M25.8 66.7L25.0 69.9M86.3 56.5L87.4 53.0M64.4 -1.9L65.0 -5.0M54.8 34.2L55.6 32.5M13.9 41.6L12.4 42.9M99.8 42.0L100.6 40.4M5.7 73.8L4.9 77.0M105.1 60.0L105.1 57.8M17.8 58.6L15.9 61.1M63.3 70.5L64.0 67.8M105.0 21.2L106.0 19.4M39.9 26.6L42.0 28.4M80.4 9.2L81.2 5.6M25.9 66.3L25.6 68.6M79.4 25.5L80.2 22.2M91.9 45.3L92.3 42.2M61.8 49.9L63.2 46.5M74.4 40.4L75.1 37.6M56.4 21.0L56.6 19.3M30.3 27.5L32.1 28.3M-2.2 35.5L-0.5 33.5M26.5 42.6L27.1 45.7M33.9 18.1L37.5 18.1M13.8 56.7L12.9 59.8M47.5 -1.8L48.5 -4.1M29.0 77.0L28.8 79.7M17.5 40.1L20.4 40.4M32.0 26.1L35.7 26.9M36.2 71.3L35.7 73.8M77.7 42.0L79.0 38.5M87.9 59.3L88.0 56.6M5.8 3.2L8.3 1.8M22.5 39.7L23.5 41.1M-3.1 62.6L-4.8 63.6M82.6 25.1L83.6 23.2M72.3 45.5L73.1 43.7M19.6 30.0L22.7 30.4M55.0 78.7L56.2 75.3M65.6 62.6L66.6 60.2M80.4 1.9L81.2 0.2M41.9 1.8L42.9 0.3M104.6 25.0L105.8 23.2M84.6 38.2L86.4 34.9M24.7 11.7L27.4 12.2M87.8 42.4L87.9 39.9M91.4 9.9L92.3 7.9M95.6 57.5L97.2 55.1M15.7 7.9L19.2 7.2M7.1 41.8L3.7 42.8M1.7 58.5L0.2 59.7M14.0 24.5L16.0 24.8M73.5 76.3L74.5 74.5M55.8 39.1L57.0 36.3M17.5 51.1L16.1 53.7M5.1 0.1L8.0 -0.2M90.5 62.7L92.3 60.1M6.8 15.9L8.5 16.1M21.6 70.4L21.9 72.7M77.3 62.6L78.0 59.7M39.0 56.8L39.8 60.3M1.6 62.6L0.7 64.2M78.1 64.2L79.1 61.3M85.5 75.9L86.1 74.2M-5.6 5.4L-2.1 4.0M46.6 71.8L47.5 68.6M105.3 54.5L106.5 51.1M96.9 29.7L97.6 26.6M96.6 57.1L96.8 54.8M78.2 52.7L79.5 49.8" stroke="#ff8a18" stroke-width="0.77" stroke-linecap="round" fill="none"/></g></svg>
<rect x="234" y="611.6" width="26.5" height="10.4" fill="#5a5a5a" opacity="0.93"/>
<text x="236.5" y="619.7" font-size="7.9" fill="#f4f4f4" stroke="#f4f4f4" stroke-width="0.25">22.8%</text>
<rect x="337" y="611.6" width="26.5" height="10.4" fill="#5a5a5a" opacity="0.93"/>
<text x="339.5" y="619.7" font-size="7.9" fill="#f4f4f4" stroke="#f4f4f4" stroke-width="0.25">33.6%</text>
<rect x="440" y="611.6" width="26.5" height="10.4" fill="#5a5a5a" opacity="0.93"/>
<text x="442.5" y="619.7" font-size="7.9" fill="#f4f4f4" stroke="#f4f4f4" stroke-width="0.25">80.0%</text>
<rect x="544" y="611.6" width="26.5" height="10.4" fill="#5a5a5a" opacity="0.93"/>
<text x="546.5" y="619.7" font-size="7.9" fill="#f4f4f4" stroke="#f4f4f4" stroke-width="0.25">92.9%</text>
<rect x="234" y="709.6" width="26.5" height="10.4" fill="#5a5a5a" opacity="0.93"/>
<text x="236.5" y="717.7" font-size="7.9" fill="#f4f4f4" stroke="#f4f4f4" stroke-width="0.25">73.4%</text>
<rect x="337" y="709.6" width="26.5" height="10.4" fill="#5a5a5a" opacity="0.93"/>
<text x="339.5" y="717.7" font-size="7.9" fill="#f4f4f4" stroke="#f4f4f4" stroke-width="0.25">77.0%</text>
<rect x="440" y="709.6" width="26.5" height="10.4" fill="#5a5a5a" opacity="0.93"/>
<text x="442.5" y="717.7" font-size="7.9" fill="#f4f4f4" stroke="#f4f4f4" stroke-width="0.25">74.4%</text>
<rect x="544" y="709.6" width="26.5" height="10.4" fill="#5a5a5a" opacity="0.93"/>
<text x="546.5" y="717.7" font-size="7.9" fill="#f4f4f4" stroke="#f4f4f4" stroke-width="0.25">67.9%</text>
<line x1="627" y1="712.4" x2="639.2" y2="712.4" stroke="#f0f0f0" stroke-width="1.2"/>
</svg></body></html>
